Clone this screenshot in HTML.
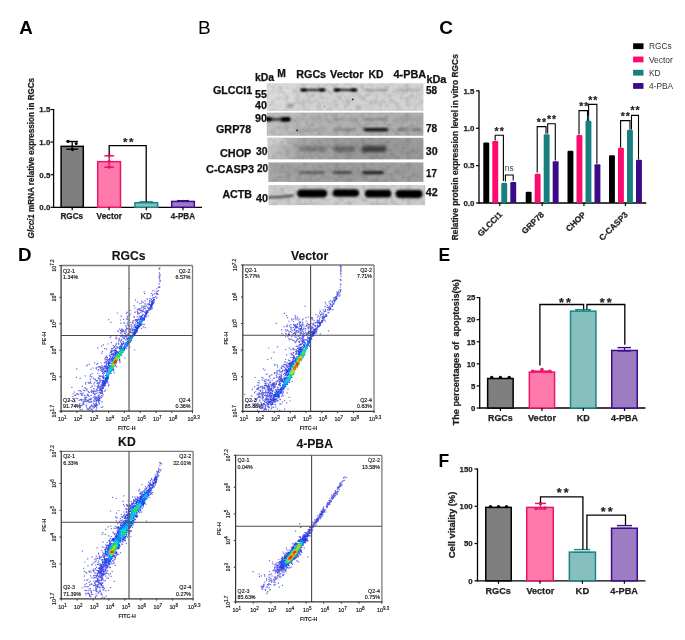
<!DOCTYPE html>
<html><head><meta charset="utf-8"><style>
html,body{margin:0;padding:0;background:#fff;}
body{width:685px;height:640px;overflow:hidden;}
svg{display:block;font-family:"Liberation Sans", sans-serif;filter:blur(0.35px);}
</style></head><body>
<svg width="685" height="640" viewBox="0 0 685 640">
<rect width="685" height="640" fill="#fff"/>
<text x="19.30" y="34.20" font-size="18.8" font-weight="bold" text-anchor="start" fill="#000">A</text>
<line x1="53.60" y1="109.00" x2="53.60" y2="207.90" stroke="#000" stroke-width="1.3"/>
<line x1="50.60" y1="207.30" x2="53.60" y2="207.30" stroke="#000" stroke-width="1.2"/>
<text x="50.30" y="210.10" font-size="7.9" font-weight="bold" text-anchor="end" fill="#222" stroke="#222" stroke-width="0.25">0.0</text>
<line x1="50.60" y1="174.70" x2="53.60" y2="174.70" stroke="#000" stroke-width="1.2"/>
<text x="50.30" y="177.50" font-size="7.9" font-weight="bold" text-anchor="end" fill="#222" stroke="#222" stroke-width="0.25">0.5</text>
<line x1="50.60" y1="142.10" x2="53.60" y2="142.10" stroke="#000" stroke-width="1.2"/>
<text x="50.30" y="144.90" font-size="7.9" font-weight="bold" text-anchor="end" fill="#222" stroke="#222" stroke-width="0.25">1.0</text>
<line x1="50.60" y1="109.50" x2="53.60" y2="109.50" stroke="#000" stroke-width="1.2"/>
<text x="50.30" y="112.30" font-size="7.9" font-weight="bold" text-anchor="end" fill="#222" stroke="#222" stroke-width="0.25">1.5</text>
<line x1="53.00" y1="207.30" x2="202.00" y2="207.30" stroke="#000" stroke-width="1.3"/>
<rect x="61.10" y="146.34" width="22.20" height="60.96" fill="#7f7f7f" stroke="#000" stroke-width="1.5"/>
<line x1="72.20" y1="207.30" x2="72.20" y2="210.30" stroke="#000" stroke-width="1.2"/>
<rect x="97.70" y="161.66" width="22.80" height="45.64" fill="#ff7aaa" stroke="#e8166c" stroke-width="1.5"/>
<line x1="109.10" y1="207.30" x2="109.10" y2="210.30" stroke="#000" stroke-width="1.2"/>
<rect x="135.00" y="202.74" width="22.60" height="4.56" fill="#86c0be" stroke="#1b8585" stroke-width="1.5"/>
<line x1="146.30" y1="207.30" x2="146.30" y2="210.30" stroke="#000" stroke-width="1.2"/>
<rect x="171.70" y="201.43" width="22.60" height="5.87" fill="#9c7dc4" stroke="#3f0b8c" stroke-width="1.5"/>
<line x1="183.00" y1="207.30" x2="183.00" y2="210.30" stroke="#000" stroke-width="1.2"/>
<line x1="72.20" y1="141.50" x2="72.20" y2="149.20" stroke="#000" stroke-width="1.3"/>
<line x1="66.30" y1="141.50" x2="78.10" y2="141.50" stroke="#000" stroke-width="1.4"/>
<line x1="66.30" y1="149.20" x2="78.10" y2="149.20" stroke="#000" stroke-width="1.4"/>
<circle cx="68.10" cy="141.30" r="1.6" fill="#000"/>
<circle cx="72.50" cy="149.60" r="1.6" fill="#000"/>
<circle cx="76.20" cy="143.60" r="1.5" fill="#000"/>
<line x1="109.20" y1="155.80" x2="109.20" y2="167.20" stroke="#e8166c" stroke-width="1.4"/>
<line x1="104.30" y1="155.80" x2="114.10" y2="155.80" stroke="#e8166c" stroke-width="1.5"/>
<line x1="104.30" y1="167.20" x2="114.10" y2="167.20" stroke="#e8166c" stroke-width="1.5"/>
<circle cx="109.20" cy="155.80" r="1.7" fill="#e8166c"/>
<circle cx="109.20" cy="161.50" r="1.7" fill="#e8166c"/>
<circle cx="109.20" cy="167.00" r="1.7" fill="#e8166c"/>
<line x1="139.50" y1="201.80" x2="153.00" y2="201.80" stroke="#1b8585" stroke-width="1.2"/>
<circle cx="141.00" cy="202.10" r="1.0" fill="#1b8585"/>
<circle cx="146.30" cy="202.10" r="1.0" fill="#1b8585"/>
<circle cx="151.50" cy="202.10" r="1.0" fill="#1b8585"/>
<line x1="177.00" y1="200.60" x2="189.00" y2="200.60" stroke="#3f0b8c" stroke-width="1.2"/>
<circle cx="178.00" cy="200.70" r="1.0" fill="#3f0b8c"/>
<circle cx="183.00" cy="200.70" r="1.0" fill="#3f0b8c"/>
<circle cx="188.00" cy="200.70" r="1.0" fill="#3f0b8c"/>
<path d="M109.2,154.5 V145.7 H146.2 V202" stroke="#000" stroke-width="1.3" fill="none"/>
<text x="125.23" y="146.17" font-size="11.5" font-weight="bold" text-anchor="middle" fill="#222" stroke="#222" stroke-width="0.2">*</text>
<text x="131.17" y="146.17" font-size="11.5" font-weight="bold" text-anchor="middle" fill="#222" stroke="#222" stroke-width="0.2">*</text>
<text x="60.40" y="219.10" font-size="9.2" font-weight="bold" text-anchor="start" fill="#222" stroke="#222" stroke-width="0.25" textLength="22.80" lengthAdjust="spacingAndGlyphs">RGCs</text>
<text x="96.60" y="219.10" font-size="9.2" font-weight="bold" text-anchor="start" fill="#222" stroke="#222" stroke-width="0.25" textLength="25.40" lengthAdjust="spacingAndGlyphs">Vector</text>
<text x="140.40" y="219.10" font-size="9.2" font-weight="bold" text-anchor="start" fill="#222" stroke="#222" stroke-width="0.25" textLength="11.40" lengthAdjust="spacingAndGlyphs">KD</text>
<text x="170.70" y="219.10" font-size="9.2" font-weight="bold" text-anchor="start" fill="#222" stroke="#222" stroke-width="0.25" textLength="24.30" lengthAdjust="spacingAndGlyphs">4-PBA</text>
<text x="0" y="0" font-size="8.7" font-weight="bold" fill="#222" stroke="#222" stroke-width="0.25" textLength="160.5" lengthAdjust="spacingAndGlyphs" transform="translate(34.2 238.4) rotate(-90)"><tspan font-style="italic">Glcci1</tspan> mRNA relative expression in RGCs</text>
<defs>
<filter id="b1" x="-20%" y="-100%" width="140%" height="300%"><feGaussianBlur stdDeviation="0.8"/></filter>
<filter id="b2" x="-20%" y="-100%" width="140%" height="300%"><feGaussianBlur stdDeviation="1.6"/></filter>
<filter id="b3" x="-20%" y="-100%" width="140%" height="300%"><feGaussianBlur stdDeviation="3"/></filter>
<filter id="noise" x="0" y="0" width="100%" height="100%"><feTurbulence type="fractalNoise" baseFrequency="0.18" numOctaves="3" seed="3" result="n"/><feColorMatrix type="matrix" values="0 0 0 0 0  0 0 0 0 0  0 0 0 0 0  0 0 0 -0.9 0.55" /><feComposite in2="SourceGraphic" operator="in"/></filter>
</defs>
<text x="198.00" y="34.20" font-size="19" font-weight="normal" text-anchor="start" fill="#000">B</text>
<defs><linearGradient id="g3" x1="0" y1="0" x2="1" y2="0"><stop offset="0" stop-color="#c2c2c2"/><stop offset="0.2" stop-color="#a8a8a8"/><stop offset="0.6" stop-color="#989898"/><stop offset="1" stop-color="#9c9c9c"/></linearGradient>
<linearGradient id="g2" x1="0" y1="0" x2="1" y2="0"><stop offset="0" stop-color="#c0c0c0"/><stop offset="0.3" stop-color="#b4b4b4"/><stop offset="1" stop-color="#adadad"/></linearGradient>
<linearGradient id="g4" x1="0" y1="0" x2="1" y2="0"><stop offset="0" stop-color="#a6a6a6"/><stop offset="0.5" stop-color="#9c9c9c"/><stop offset="1" stop-color="#a0a0a0"/></linearGradient></defs>
<svg x="266.80" y="83.30" width="156.60" height="27.50" overflow="hidden">
<rect x="0" y="0" width="156.60" height="27.50" fill="#d2d2d2"/>
<g transform="translate(-266.80 -83.30)">
<rect x="262.00" y="81.00" width="34.00" height="30.00" rx="3" fill="#dcdcdc" opacity="0.9" filter="url(#b3)"/>
<rect x="300.60" y="89.02" width="24.60" height="1.95" rx="0.9774999999999999" fill="#151515" opacity="1.0" filter="url(#b1)"/>
<rect x="300.60" y="88.73" width="6.00" height="2.53" rx="1.265" fill="#000" opacity="1.0" filter="url(#b1)"/>
<rect x="319.20" y="88.73" width="6.00" height="2.53" rx="1.265" fill="#000" opacity="1.0" filter="url(#b1)"/>
<rect x="334.00" y="89.02" width="22.80" height="1.95" rx="0.9774999999999999" fill="#151515" opacity="1.0" filter="url(#b1)"/>
<rect x="334.00" y="88.73" width="6.00" height="2.53" rx="1.265" fill="#000" opacity="1.0" filter="url(#b1)"/>
<rect x="350.80" y="88.73" width="6.00" height="2.53" rx="1.265" fill="#000" opacity="1.0" filter="url(#b1)"/>
<rect x="365.00" y="89.10" width="23.00" height="2.20" rx="1.1" fill="#9a9a9a" opacity="0.8" filter="url(#b1)"/>
<rect x="397.00" y="89.10" width="23.00" height="2.20" rx="1.1" fill="#a5a5a5" opacity="0.8" filter="url(#b1)"/>
<rect x="286.00" y="104.25" width="8.00" height="3.50" rx="1.75" fill="#8a8a8a" opacity="0.9" filter="url(#b2)"/>
<circle cx="352.70" cy="99.40" r="0.9" fill="#222"/>
<circle cx="324.60" cy="106.30" r="0.5" fill="#444"/>
<circle cx="270.00" cy="105.00" r="0.5" fill="#555"/>
</g>
<rect x="0" y="0" width="156.60" height="27.50" fill="#808080" filter="url(#noise)" opacity="0.3"/>
</svg>
<svg x="266.80" y="112.60" width="156.60" height="23.20" overflow="hidden">
<rect x="0" y="0" width="156.60" height="23.20" fill="url(#g2)"/>
<g transform="translate(-266.80 -112.60)">
<rect x="262.00" y="118.20" width="28.50" height="2.20" rx="1.1" fill="#202020" opacity="1" filter="url(#b1)"/>
<rect x="262.00" y="117.20" width="10.00" height="4.00" rx="2" fill="#000" opacity="1" filter="url(#b1)"/>
<rect x="281.00" y="117.20" width="9.50" height="4.40" rx="2.2" fill="#000" opacity="1" filter="url(#b1)"/>
<rect x="298.00" y="118.25" width="28.00" height="2.50" rx="1.25" fill="#a8a8a8" opacity="0.8" filter="url(#b1)"/>
<rect x="333.00" y="118.25" width="24.00" height="2.50" rx="1.25" fill="#9c9c9c" opacity="0.8" filter="url(#b1)"/>
<rect x="364.00" y="118.10" width="24.00" height="2.60" rx="1.3" fill="#8c8c8c" opacity="0.8" filter="url(#b1)"/>
<rect x="397.00" y="118.30" width="24.00" height="2.40" rx="1.2" fill="#9f9f9f" opacity="0.8" filter="url(#b1)"/>
<rect x="298.00" y="128.20" width="28.00" height="2.60" rx="1.3" fill="#a0a0a0" opacity="0.7" filter="url(#b1)"/>
<rect x="333.50" y="128.30" width="23.00" height="2.60" rx="1.3" fill="#8a8a8a" opacity="0.9" filter="url(#b1)"/>
<rect x="363.60" y="127.90" width="24.80" height="3.40" rx="1.7" fill="#101010" opacity="1" filter="url(#b1)"/>
<rect x="397.00" y="128.30" width="9.00" height="2.60" rx="1.3" fill="#6a6a6a" opacity="0.9" filter="url(#b1)"/>
<rect x="412.00" y="128.50" width="9.00" height="2.60" rx="1.3" fill="#6a6a6a" opacity="0.9" filter="url(#b1)"/>
<rect x="404.00" y="128.70" width="10.00" height="2.00" rx="1.0" fill="#909090" opacity="0.8" filter="url(#b1)"/>
<circle cx="297.10" cy="130.30" r="0.9" fill="#111"/>
</g>
<rect x="0" y="0" width="156.60" height="23.20" fill="#808080" filter="url(#noise)" opacity="0.3"/>
</svg>
<svg x="267.60" y="137.80" width="155.80" height="21.60" overflow="hidden">
<rect x="0" y="0" width="155.80" height="21.60" fill="url(#g3)"/>
<g transform="translate(-267.60 -137.80)">
<rect x="260.00" y="134.00" width="25.00" height="12.00" rx="3" fill="#d0d0d0" opacity="0.9" filter="url(#b3)"/>
<rect x="299.00" y="145.80" width="28.00" height="6.00" rx="3.0" fill="#787878" opacity="0.9" filter="url(#b2)"/>
<rect x="333.00" y="146.00" width="22.00" height="6.00" rx="3.0" fill="#636363" opacity="0.9" filter="url(#b2)"/>
<rect x="361.50" y="145.75" width="25.00" height="6.50" rx="3" fill="#404040" opacity="1" filter="url(#b2)"/>
<rect x="397.00" y="147.50" width="23.00" height="4.00" rx="2.0" fill="#999999" opacity="0.9" filter="url(#b2)"/>
</g>
<rect x="0" y="0" width="155.80" height="21.60" fill="#808080" filter="url(#noise)" opacity="0.3"/>
</svg>
<svg x="268.40" y="162.40" width="155.00" height="19.50" overflow="hidden">
<rect x="0" y="0" width="155.00" height="19.50" fill="url(#g4)"/>
<g transform="translate(-268.40 -162.40)">
<rect x="286.00" y="165.00" width="6.00" height="10.00" rx="3" fill="#979797" opacity="0.6" filter="url(#b2)"/>
<rect x="299.00" y="171.10" width="26.00" height="3.00" rx="1.5" fill="#606060" opacity="0.9" filter="url(#b1)"/>
<rect x="333.00" y="171.10" width="19.00" height="3.00" rx="1.5" fill="#454545" opacity="0.9" filter="url(#b1)"/>
<rect x="362.00" y="170.90" width="22.00" height="3.40" rx="1.7" fill="#262626" opacity="1" filter="url(#b1)"/>
<rect x="395.00" y="171.30" width="7.00" height="3.00" rx="1.5" fill="#8f8f8f" opacity="0.8" filter="url(#b1)"/>
<rect x="410.00" y="171.30" width="10.00" height="3.00" rx="1.5" fill="#989898" opacity="0.7" filter="url(#b1)"/>
</g>
<rect x="0" y="0" width="155.00" height="19.50" fill="#808080" filter="url(#noise)" opacity="0.3"/>
</svg>
<svg x="268.40" y="185.10" width="156.80" height="20.10" overflow="hidden">
<rect x="0" y="0" width="156.80" height="20.10" fill="#cdcdcd"/>
<g transform="translate(-268.40 -185.10)">
<path d="M268 197.6 Q280 197.4 293.5 195.4" stroke="#3a3a3a" stroke-width="2.0" fill="none" filter="url(#b1)"/>
<rect x="297.20" y="189.60" width="30.00" height="7.80" rx="3.8" fill="#000" opacity="1" filter="url(#b1)"/>
<rect x="332.60" y="189.20" width="26.40" height="7.60" rx="3.8" fill="#000" opacity="1" filter="url(#b1)"/>
<rect x="364.80" y="189.70" width="26.60" height="7.80" rx="3.8" fill="#000" opacity="1" filter="url(#b1)"/>
<rect x="395.60" y="190.10" width="27.00" height="7.80" rx="3.8" fill="#000" opacity="1" filter="url(#b1)"/>
</g>
<rect x="0" y="0" width="156.80" height="20.10" fill="#808080" filter="url(#noise)" opacity="0.3"/>
</svg>
<text x="255.00" y="81.40" font-size="10.2" font-weight="bold" text-anchor="start" fill="#111" stroke="#111" stroke-width="0.25" textLength="19.20" lengthAdjust="spacingAndGlyphs">kDa</text>
<text x="277.30" y="76.80" font-size="10.2" font-weight="bold" text-anchor="start" fill="#111" stroke="#111" stroke-width="0.25" textLength="8.60" lengthAdjust="spacingAndGlyphs">M</text>
<text x="296.30" y="77.80" font-size="10.2" font-weight="bold" text-anchor="start" fill="#111" stroke="#111" stroke-width="0.25" textLength="29.80" lengthAdjust="spacingAndGlyphs">RGCs</text>
<text x="330.10" y="77.80" font-size="10.2" font-weight="bold" text-anchor="start" fill="#111" stroke="#111" stroke-width="0.25" textLength="33.40" lengthAdjust="spacingAndGlyphs">Vector</text>
<text x="368.60" y="77.80" font-size="10.2" font-weight="bold" text-anchor="start" fill="#111" stroke="#111" stroke-width="0.25" textLength="14.90" lengthAdjust="spacingAndGlyphs">KD</text>
<text x="393.50" y="77.80" font-size="10.2" font-weight="bold" text-anchor="start" fill="#111" stroke="#111" stroke-width="0.25" textLength="32.60" lengthAdjust="spacingAndGlyphs">4-PBA</text>
<text x="426.40" y="82.60" font-size="10.2" font-weight="bold" text-anchor="start" fill="#111" stroke="#111" stroke-width="0.25" textLength="20.00" lengthAdjust="spacingAndGlyphs">kDa</text>
<text x="212.90" y="94.30" font-size="10.2" font-weight="bold" text-anchor="start" fill="#111" stroke="#111" stroke-width="0.25" textLength="39.40" lengthAdjust="spacingAndGlyphs">GLCCI1</text>
<text x="255.00" y="97.70" font-size="10.2" font-weight="bold" text-anchor="start" fill="#111" stroke="#111" stroke-width="0.25" textLength="11.80" lengthAdjust="spacingAndGlyphs">55</text>
<text x="255.00" y="108.50" font-size="10.2" font-weight="bold" text-anchor="start" fill="#111" stroke="#111" stroke-width="0.25" textLength="12.00" lengthAdjust="spacingAndGlyphs">40</text>
<text x="255.00" y="121.80" font-size="10.2" font-weight="bold" text-anchor="start" fill="#111" stroke="#111" stroke-width="0.25" textLength="12.00" lengthAdjust="spacingAndGlyphs">90</text>
<text x="216.00" y="132.80" font-size="10.2" font-weight="bold" text-anchor="start" fill="#111" stroke="#111" stroke-width="0.25" textLength="35.30" lengthAdjust="spacingAndGlyphs">GRP78</text>
<text x="220.00" y="156.70" font-size="10.2" font-weight="bold" text-anchor="start" fill="#111" stroke="#111" stroke-width="0.25" textLength="31.30" lengthAdjust="spacingAndGlyphs">CHOP</text>
<text x="256.00" y="155.30" font-size="10.2" font-weight="bold" text-anchor="start" fill="#111" stroke="#111" stroke-width="0.25" textLength="11.50" lengthAdjust="spacingAndGlyphs">30</text>
<text x="206.00" y="172.80" font-size="10.2" font-weight="bold" text-anchor="start" fill="#111" stroke="#111" stroke-width="0.25" textLength="48.20" lengthAdjust="spacingAndGlyphs">C-CASP3</text>
<text x="257.00" y="172.20" font-size="10.2" font-weight="bold" text-anchor="start" fill="#111" stroke="#111" stroke-width="0.25" textLength="11.20" lengthAdjust="spacingAndGlyphs">20</text>
<text x="222.40" y="198.40" font-size="10.2" font-weight="bold" text-anchor="start" fill="#111" stroke="#111" stroke-width="0.25" textLength="29.70" lengthAdjust="spacingAndGlyphs">ACTB</text>
<text x="256.00" y="201.90" font-size="10.2" font-weight="bold" text-anchor="start" fill="#111" stroke="#111" stroke-width="0.25" textLength="12.00" lengthAdjust="spacingAndGlyphs">40</text>
<text x="426.00" y="94.10" font-size="10.2" font-weight="bold" text-anchor="start" fill="#111" stroke="#111" stroke-width="0.25" textLength="11.20" lengthAdjust="spacingAndGlyphs">58</text>
<text x="426.00" y="132.10" font-size="10.2" font-weight="bold" text-anchor="start" fill="#111" stroke="#111" stroke-width="0.25" textLength="11.20" lengthAdjust="spacingAndGlyphs">78</text>
<text x="425.70" y="154.80" font-size="10.2" font-weight="bold" text-anchor="start" fill="#111" stroke="#111" stroke-width="0.25" textLength="11.90" lengthAdjust="spacingAndGlyphs">30</text>
<text x="426.00" y="176.60" font-size="10.2" font-weight="bold" text-anchor="start" fill="#111" stroke="#111" stroke-width="0.25" textLength="10.80" lengthAdjust="spacingAndGlyphs">17</text>
<text x="425.70" y="195.60" font-size="10.2" font-weight="bold" text-anchor="start" fill="#111" stroke="#111" stroke-width="0.25" textLength="11.90" lengthAdjust="spacingAndGlyphs">42</text>
<text x="439.20" y="34.40" font-size="19" font-weight="bold" text-anchor="start" fill="#000">C</text>
<line x1="479.00" y1="90.40" x2="479.00" y2="203.60" stroke="#000" stroke-width="1.3"/>
<line x1="476.00" y1="203.00" x2="479.00" y2="203.00" stroke="#000" stroke-width="1.2"/>
<text x="474.40" y="205.80" font-size="7.9" font-weight="bold" text-anchor="end" fill="#222" stroke="#222" stroke-width="0.25">0.0</text>
<line x1="476.00" y1="165.62" x2="479.00" y2="165.62" stroke="#000" stroke-width="1.2"/>
<text x="474.40" y="168.43" font-size="7.9" font-weight="bold" text-anchor="end" fill="#222" stroke="#222" stroke-width="0.25">0.5</text>
<line x1="476.00" y1="128.25" x2="479.00" y2="128.25" stroke="#000" stroke-width="1.2"/>
<text x="474.40" y="131.05" font-size="7.9" font-weight="bold" text-anchor="end" fill="#222" stroke="#222" stroke-width="0.25">1.0</text>
<line x1="476.00" y1="90.88" x2="479.00" y2="90.88" stroke="#000" stroke-width="1.2"/>
<text x="474.40" y="93.67" font-size="7.9" font-weight="bold" text-anchor="end" fill="#222" stroke="#222" stroke-width="0.25">1.5</text>
<line x1="478.40" y1="203.00" x2="646.30" y2="203.00" stroke="#000" stroke-width="1.3"/>
<rect x="483.30" y="142.45" width="5.9" height="60.55" rx="1.2" fill="#000"/>
<rect x="492.30" y="140.96" width="5.9" height="62.04" rx="1.2" fill="#ff0a6e"/>
<rect x="501.30" y="182.82" width="5.9" height="20.18" rx="1.2" fill="#17807e"/>
<rect x="510.30" y="182.07" width="5.9" height="20.93" rx="1.2" fill="#3a0a88"/>
<line x1="499.75" y1="203.00" x2="499.75" y2="206.00" stroke="#000" stroke-width="1.2"/>
<rect x="525.70" y="191.79" width="5.9" height="11.21" rx="1.2" fill="#000"/>
<rect x="534.70" y="173.85" width="5.9" height="29.15" rx="1.2" fill="#ff0a6e"/>
<rect x="543.70" y="134.23" width="5.9" height="68.77" rx="1.2" fill="#17807e"/>
<rect x="552.70" y="161.14" width="5.9" height="41.86" rx="1.2" fill="#3a0a88"/>
<line x1="542.15" y1="203.00" x2="542.15" y2="206.00" stroke="#000" stroke-width="1.2"/>
<rect x="567.50" y="150.68" width="5.9" height="52.32" rx="1.2" fill="#000"/>
<rect x="576.50" y="134.98" width="5.9" height="68.02" rx="1.2" fill="#ff0a6e"/>
<rect x="585.50" y="120.77" width="5.9" height="82.23" rx="1.2" fill="#17807e"/>
<rect x="594.50" y="164.13" width="5.9" height="38.87" rx="1.2" fill="#3a0a88"/>
<line x1="583.95" y1="203.00" x2="583.95" y2="206.00" stroke="#000" stroke-width="1.2"/>
<rect x="609.00" y="155.16" width="5.9" height="47.84" rx="1.2" fill="#000"/>
<rect x="618.00" y="147.69" width="5.9" height="55.31" rx="1.2" fill="#ff0a6e"/>
<rect x="627.00" y="129.75" width="5.9" height="73.25" rx="1.2" fill="#17807e"/>
<rect x="636.00" y="159.65" width="5.9" height="43.35" rx="1.2" fill="#3a0a88"/>
<line x1="625.45" y1="203.00" x2="625.45" y2="206.00" stroke="#000" stroke-width="1.2"/>
<path d="M495.20,140.50 V135.20 H503.40 V181.00" stroke="#000" stroke-width="1.1" fill="none"/>
<text x="496.57" y="134.57" font-size="10.5" font-weight="bold" text-anchor="middle" fill="#222" stroke="#222" stroke-width="0.2">*</text>
<text x="501.83" y="134.57" font-size="10.5" font-weight="bold" text-anchor="middle" fill="#222" stroke="#222" stroke-width="0.2">*</text>
<path d="M505.40,181.50 V175.00 H513.20 V180.50" stroke="#000" stroke-width="1.1" fill="none"/>
<text x="509.20" y="170.80" font-size="8.4" font-weight="normal" text-anchor="middle" fill="#444">ns</text>
<path d="M537.20,172.50 V126.60 H546.00 V133.80" stroke="#000" stroke-width="1.1" fill="none"/>
<text x="538.71" y="125.87" font-size="10.5" font-weight="bold" text-anchor="middle" fill="#222" stroke="#222" stroke-width="0.2">*</text>
<text x="544.09" y="125.87" font-size="10.5" font-weight="bold" text-anchor="middle" fill="#222" stroke="#222" stroke-width="0.2">*</text>
<path d="M547.70,133.50 V123.80 H555.30 V160.60" stroke="#000" stroke-width="1.1" fill="none"/>
<text x="548.98" y="123.07" font-size="10.5" font-weight="bold" text-anchor="middle" fill="#222" stroke="#222" stroke-width="0.2">*</text>
<text x="554.02" y="123.07" font-size="10.5" font-weight="bold" text-anchor="middle" fill="#222" stroke="#222" stroke-width="0.2">*</text>
<path d="M579.00,134.50 V110.60 H587.50 V121.00" stroke="#000" stroke-width="1.1" fill="none"/>
<text x="581.38" y="109.97" font-size="10.5" font-weight="bold" text-anchor="middle" fill="#222" stroke="#222" stroke-width="0.2">*</text>
<text x="586.42" y="109.97" font-size="10.5" font-weight="bold" text-anchor="middle" fill="#222" stroke="#222" stroke-width="0.2">*</text>
<path d="M588.60,121.00 V104.40 H596.90 V163.80" stroke="#000" stroke-width="1.1" fill="none"/>
<text x="590.18" y="103.67" font-size="10.5" font-weight="bold" text-anchor="middle" fill="#222" stroke="#222" stroke-width="0.2">*</text>
<text x="595.22" y="103.67" font-size="10.5" font-weight="bold" text-anchor="middle" fill="#222" stroke="#222" stroke-width="0.2">*</text>
<path d="M620.60,147.50 V120.60 H630.00 V129.40" stroke="#000" stroke-width="1.1" fill="none"/>
<text x="622.72" y="119.97" font-size="10.5" font-weight="bold" text-anchor="middle" fill="#222" stroke="#222" stroke-width="0.2">*</text>
<text x="627.88" y="119.97" font-size="10.5" font-weight="bold" text-anchor="middle" fill="#222" stroke="#222" stroke-width="0.2">*</text>
<path d="M631.50,129.40 V115.40 H638.50 V159.40" stroke="#000" stroke-width="1.1" fill="none"/>
<text x="632.54" y="114.27" font-size="10.5" font-weight="bold" text-anchor="middle" fill="#222" stroke="#222" stroke-width="0.2">*</text>
<text x="637.46" y="114.27" font-size="10.5" font-weight="bold" text-anchor="middle" fill="#222" stroke="#222" stroke-width="0.2">*</text>
<line x1="588.20" y1="121.00" x2="588.20" y2="115.50" stroke="#17807e" stroke-width="1.0"/>
<rect x="633.10" y="43.30" width="10.40" height="5.80" fill="#000"/>
<text x="649.00" y="49.30" font-size="8.4" font-weight="normal" text-anchor="start" fill="#333">RGCs</text>
<rect x="633.10" y="56.55" width="10.40" height="5.80" fill="#ff0a6e"/>
<text x="649.00" y="62.55" font-size="8.4" font-weight="normal" text-anchor="start" fill="#333">Vector</text>
<rect x="633.10" y="69.80" width="10.40" height="5.80" fill="#17807e"/>
<text x="649.00" y="75.80" font-size="8.4" font-weight="normal" text-anchor="start" fill="#333">KD</text>
<rect x="633.10" y="83.05" width="10.40" height="5.80" fill="#3a0a88"/>
<text x="649.00" y="89.05" font-size="8.4" font-weight="normal" text-anchor="start" fill="#333">4-PBA</text>
<text x="502.70" y="215.20" font-size="8.4" font-weight="bold" text-anchor="end" fill="#222" stroke="#222" stroke-width="0.25" transform="rotate(-45 502.70 215.20)">GLCCI1</text>
<text x="544.50" y="215.20" font-size="8.4" font-weight="bold" text-anchor="end" fill="#222" stroke="#222" stroke-width="0.25" transform="rotate(-45 544.50 215.20)">GRP78</text>
<text x="586.40" y="215.20" font-size="8.4" font-weight="bold" text-anchor="end" fill="#222" stroke="#222" stroke-width="0.25" transform="rotate(-45 586.40 215.20)">CHOP</text>
<text x="628.40" y="215.20" font-size="8.4" font-weight="bold" text-anchor="end" fill="#222" stroke="#222" stroke-width="0.25" transform="rotate(-45 628.40 215.20)">C-CASP3</text>
<text x="0" y="0" font-size="8.2" font-weight="bold" fill="#222" stroke="#222" stroke-width="0.25" textLength="186" lengthAdjust="spacingAndGlyphs" transform="translate(457.6 240.2) rotate(-90)">Relative protein expression level in vitro RGCs</text>
<text x="18.00" y="260.90" font-size="18.8" font-weight="bold" text-anchor="start" fill="#000">D</text>
<path d="M132.7 320.0h1.2v1.2h-1.2zM128.9 315.2h1.2v1.2h-1.2zM141.0 302.5h1.2v1.2h-1.2zM110.3 335.5h1.2v1.2h-1.2zM88.4 382.7h1.2v1.2h-1.2zM125.8 331.7h1.2v1.2h-1.2zM82.2 404.2h1.2v1.2h-1.2zM72.6 393.4h1.2v1.2h-1.2zM131.4 324.4h1.2v1.2h-1.2zM145.2 303.5h1.2v1.2h-1.2zM86.9 364.5h1.2v1.2h-1.2zM143.6 291.3h1.2v1.2h-1.2zM134.1 349.4h1.2v1.2h-1.2zM144.0 293.0h1.2v1.2h-1.2zM85.0 383.6h1.2v1.2h-1.2zM147.0 298.7h1.2v1.2h-1.2zM143.7 324.0h1.2v1.2h-1.2zM113.6 372.0h1.2v1.2h-1.2zM124.4 357.5h1.2v1.2h-1.2zM129.1 346.3h1.2v1.2h-1.2zM121.5 328.2h1.2v1.2h-1.2zM88.8 363.7h1.2v1.2h-1.2zM98.0 369.0h1.2v1.2h-1.2zM117.8 341.4h1.2v1.2h-1.2zM155.7 297.3h1.2v1.2h-1.2zM76.1 368.2h1.2v1.2h-1.2zM85.6 365.4h1.2v1.2h-1.2zM108.1 319.1h1.2v1.2h-1.2zM126.7 311.8h1.2v1.2h-1.2zM115.2 336.6h1.2v1.2h-1.2zM97.1 347.2h1.2v1.2h-1.2zM108.3 384.3h1.2v1.2h-1.2zM141.4 305.2h1.2v1.2h-1.2zM115.4 338.1h1.2v1.2h-1.2zM88.3 392.1h1.2v1.2h-1.2zM94.0 362.2h1.2v1.2h-1.2zM96.4 366.8h1.2v1.2h-1.2zM157.9 290.0h1.2v1.2h-1.2zM152.1 290.1h1.2v1.2h-1.2zM137.2 313.6h1.2v1.2h-1.2zM79.0 407.2h1.2v1.2h-1.2zM68.6 399.5h1.2v1.2h-1.2zM92.8 396.5h1.2v1.2h-1.2zM82.6 389.7h1.2v1.2h-1.2zM116.4 337.5h1.2v1.2h-1.2zM123.0 318.8h1.2v1.2h-1.2zM156.0 291.4h1.2v1.2h-1.2zM133.4 316.0h1.2v1.2h-1.2zM158.6 283.2h1.2v1.2h-1.2zM159.4 279.5h1.2v1.2h-1.2zM159.3 273.8h1.2v1.2h-1.2zM79.8 408.9h1.2v1.2h-1.2zM88.6 395.7h1.2v1.2h-1.2zM81.5 393.5h1.2v1.2h-1.2zM75.8 376.8h1.2v1.2h-1.2zM87.0 394.6h1.2v1.2h-1.2zM79.2 402.9h1.2v1.2h-1.2zM158.7 276.3h1.2v1.2h-1.2zM159.2 286.4h1.2v1.2h-1.2zM159.0 268.5h1.2v1.2h-1.2zM159.2 276.1h1.2v1.2h-1.2zM158.8 267.6h1.2v1.2h-1.2zM158.8 272.2h1.2v1.2h-1.2zM158.8 278.1h1.2v1.2h-1.2zM93.7 388.4h1.2v1.2h-1.2zM86.8 408.8h1.2v1.2h-1.2zM81.5 408.8h1.2v1.2h-1.2zM85.5 395.3h1.2v1.2h-1.2zM92.7 377.4h1.2v1.2h-1.2zM117.7 330.6h1.2v1.2h-1.2zM133.6 305.1h1.2v1.2h-1.2zM127.4 321.2h1.2v1.2h-1.2zM95.7 409.6h1.2v1.2h-1.2zM84.7 375.2h1.2v1.2h-1.2zM86.2 407.3h1.2v1.2h-1.2zM76.4 405.2h1.2v1.2h-1.2zM80.9 398.8h1.2v1.2h-1.2zM74.5 401.0h1.2v1.2h-1.2zM101.3 401.3h1.2v1.2h-1.2zM77.0 393.1h1.2v1.2h-1.2zM94.0 381.7h1.2v1.2h-1.2zM95.5 380.1h1.2v1.2h-1.2zM104.9 389.6h1.2v1.2h-1.2zM119.0 328.6h1.2v1.2h-1.2zM104.4 357.7h1.2v1.2h-1.2zM81.6 404.8h1.2v1.2h-1.2zM102.1 406.3h1.2v1.2h-1.2zM80.4 392.7h1.2v1.2h-1.2zM157.4 293.7h1.2v1.2h-1.2zM136.9 301.5h1.2v1.2h-1.2zM126.7 324.5h1.2v1.2h-1.2zM159.0 286.0h1.2v1.2h-1.2zM125.7 326.6h1.2v1.2h-1.2zM119.8 332.2h1.2v1.2h-1.2zM104.4 359.2h1.2v1.2h-1.2zM156.6 293.7h1.2v1.2h-1.2zM93.3 388.0h1.2v1.2h-1.2zM98.7 403.6h1.2v1.2h-1.2zM131.6 322.4h1.2v1.2h-1.2zM91.8 409.6h1.2v1.2h-1.2zM104.1 348.0h1.2v1.2h-1.2zM120.5 333.0h1.2v1.2h-1.2zM120.2 322.6h1.2v1.2h-1.2zM119.9 319.4h1.2v1.2h-1.2zM85.8 404.6h1.2v1.2h-1.2zM152.1 293.7h1.2v1.2h-1.2zM126.7 319.1h1.2v1.2h-1.2zM155.1 295.7h1.2v1.2h-1.2zM154.1 293.0h1.2v1.2h-1.2zM81.6 394.8h1.2v1.2h-1.2zM89.9 380.8h1.2v1.2h-1.2zM100.3 362.4h1.2v1.2h-1.2zM80.7 394.2h1.2v1.2h-1.2zM141.1 300.5h1.2v1.2h-1.2zM89.8 378.6h1.2v1.2h-1.2zM71.2 386.7h1.2v1.2h-1.2zM98.4 366.0h1.2v1.2h-1.2zM112.6 345.3h1.2v1.2h-1.2zM110.2 321.8h1.2v1.2h-1.2zM129.7 313.6h1.2v1.2h-1.2zM142.7 301.7h1.2v1.2h-1.2zM118.8 339.3h1.2v1.2h-1.2zM85.1 387.6h1.2v1.2h-1.2zM96.0 368.2h1.2v1.2h-1.2zM94.1 385.4h1.2v1.2h-1.2zM106.0 355.5h1.2v1.2h-1.2zM156.9 293.0h1.2v1.2h-1.2zM91.5 385.6h1.2v1.2h-1.2zM91.5 373.1h1.2v1.2h-1.2zM134.6 311.5h1.2v1.2h-1.2zM97.4 377.5h1.2v1.2h-1.2zM130.1 321.9h1.2v1.2h-1.2zM118.9 337.8h1.2v1.2h-1.2zM93.2 378.4h1.2v1.2h-1.2zM132.1 321.0h1.2v1.2h-1.2zM146.3 298.4h1.2v1.2h-1.2zM98.1 366.6h1.2v1.2h-1.2zM99.5 375.4h1.2v1.2h-1.2zM76.8 393.1h1.2v1.2h-1.2zM86.4 390.2h1.2v1.2h-1.2zM71.6 400.6h1.2v1.2h-1.2zM77.2 393.3h1.2v1.2h-1.2zM74.1 394.7h1.2v1.2h-1.2zM80.5 404.8h1.2v1.2h-1.2zM129.2 325.9h1.2v1.2h-1.2zM134.4 311.7h1.2v1.2h-1.2zM74.9 394.7h1.2v1.2h-1.2zM98.4 375.3h1.2v1.2h-1.2zM124.1 322.4h1.2v1.2h-1.2zM106.2 356.8h1.2v1.2h-1.2zM128.3 324.7h1.2v1.2h-1.2zM75.6 397.6h1.2v1.2h-1.2zM97.2 372.8h1.2v1.2h-1.2zM120.2 335.9h1.2v1.2h-1.2zM87.4 408.3h1.2v1.2h-1.2zM91.7 385.6h1.2v1.2h-1.2zM115.1 344.8h1.2v1.2h-1.2zM117.1 330.8h1.2v1.2h-1.2zM128.9 319.5h1.2v1.2h-1.2zM89.7 409.5h1.2v1.2h-1.2zM133.8 316.6h1.2v1.2h-1.2zM149.3 298.1h1.2v1.2h-1.2zM124.9 325.0h1.2v1.2h-1.2zM139.2 303.0h1.2v1.2h-1.2zM94.7 378.5h1.2v1.2h-1.2zM126.1 318.3h1.2v1.2h-1.2zM102.1 395.5h1.2v1.2h-1.2zM134.9 299.5h1.2v1.2h-1.2zM88.3 382.7h1.2v1.2h-1.2zM81.8 385.8h1.2v1.2h-1.2zM85.8 388.7h1.2v1.2h-1.2zM79.9 399.0h1.2v1.2h-1.2zM79.7 392.8h1.2v1.2h-1.2zM77.7 394.0h1.2v1.2h-1.2zM79.6 390.1h1.2v1.2h-1.2zM73.9 399.8h1.2v1.2h-1.2zM120.5 315.7h1.2v1.2h-1.2zM93.3 383.3h1.2v1.2h-1.2zM110.7 342.0h1.2v1.2h-1.2zM85.1 382.0h1.2v1.2h-1.2zM83.7 394.7h1.2v1.2h-1.2zM87.9 409.1h1.2v1.2h-1.2zM82.5 392.6h1.2v1.2h-1.2zM76.6 398.1h1.2v1.2h-1.2zM142.8 326.3h1.2v1.2h-1.2zM101.1 345.5h1.2v1.2h-1.2zM97.7 369.9h1.2v1.2h-1.2zM78.6 399.7h1.2v1.2h-1.2zM144.4 303.3h1.2v1.2h-1.2zM96.3 363.7h1.2v1.2h-1.2zM91.0 389.6h1.2v1.2h-1.2zM94.7 379.1h1.2v1.2h-1.2zM147.6 315.2h1.2v1.2h-1.2zM123.2 322.5h1.2v1.2h-1.2zM87.6 381.8h1.2v1.2h-1.2zM109.6 337.0h1.2v1.2h-1.2zM115.7 343.5h1.2v1.2h-1.2zM151.7 295.1h1.2v1.2h-1.2zM89.8 374.3h1.2v1.2h-1.2zM134.4 307.4h1.2v1.2h-1.2zM132.6 322.6h1.2v1.2h-1.2zM86.8 393.7h1.2v1.2h-1.2zM151.7 308.0h1.2v1.2h-1.2zM156.2 297.0h1.2v1.2h-1.2zM128.6 287.8h1.2v1.2h-1.2zM136.6 316.3h1.2v1.2h-1.2zM102.7 344.3h1.2v1.2h-1.2zM86.5 388.5h1.2v1.2h-1.2zM154.0 292.9h1.2v1.2h-1.2zM87.8 395.0h1.2v1.2h-1.2zM90.5 368.7h1.2v1.2h-1.2zM118.0 339.5h1.2v1.2h-1.2zM125.9 326.5h1.2v1.2h-1.2zM125.8 312.8h1.2v1.2h-1.2zM116.8 312.4h1.2v1.2h-1.2zM141.1 306.7h1.2v1.2h-1.2zM95.3 367.5h1.2v1.2h-1.2zM107.9 385.3h1.2v1.2h-1.2zM141.1 327.8h1.2v1.2h-1.2zM101.8 351.1h1.2v1.2h-1.2zM144.6 327.0h1.2v1.2h-1.2zM91.2 376.1h1.2v1.2h-1.2zM113.1 345.2h1.2v1.2h-1.2zM144.6 300.2h1.2v1.2h-1.2zM91.0 400.9h1.2v1.2h-1.2zM85.5 405.6h1.2v1.2h-1.2zM73.8 391.6h1.2v1.2h-1.2zM79.6 377.7h1.2v1.2h-1.2zM154.3 290.4h1.2v1.2h-1.2zM137.0 312.2h1.2v1.2h-1.2zM126.8 315.7h1.2v1.2h-1.2zM128.5 324.6h1.2v1.2h-1.2zM136.9 308.8h1.2v1.2h-1.2zM90.5 386.7h1.2v1.2h-1.2zM92.5 367.4h1.2v1.2h-1.2zM84.3 387.0h1.2v1.2h-1.2zM157.8 286.8h1.2v1.2h-1.2zM104.9 356.6h1.2v1.2h-1.2zM130.3 324.4h1.2v1.2h-1.2zM126.6 322.8h1.2v1.2h-1.2zM72.3 396.1h1.2v1.2h-1.2zM89.6 375.7h1.2v1.2h-1.2zM156.8 290.7h1.2v1.2h-1.2zM101.1 352.7h1.2v1.2h-1.2zM126.8 317.2h1.2v1.2h-1.2zM156.2 288.3h1.2v1.2h-1.2zM91.2 397.8h1.2v1.2h-1.2zM80.4 398.8h1.2v1.2h-1.2zM150.7 292.9h1.2v1.2h-1.2zM107.4 343.4h1.2v1.2h-1.2zM105.9 348.6h1.2v1.2h-1.2zM129.5 309.9h1.2v1.2h-1.2zM96.9 363.0h1.2v1.2h-1.2zM115.7 342.7h1.2v1.2h-1.2zM90.4 382.8h1.2v1.2h-1.2zM88.4 401.9h1.2v1.2h-1.2zM89.4 382.0h1.2v1.2h-1.2zM84.0 390.0h1.2v1.2h-1.2zM90.6 394.8h1.2v1.2h-1.2zM101.0 397.1h1.2v1.2h-1.2zM75.6 393.5h1.2v1.2h-1.2zM80.5 390.7h1.2v1.2h-1.2zM91.0 408.8h1.2v1.2h-1.2zM89.8 398.8h1.2v1.2h-1.2zM100.7 406.7h1.2v1.2h-1.2zM78.3 390.1h1.2v1.2h-1.2zM87.9 391.1h1.2v1.2h-1.2zM88.6 392.0h1.2v1.2h-1.2zM87.8 394.5h1.2v1.2h-1.2zM159.3 274.0h1.2v1.2h-1.2zM158.6 282.9h1.2v1.2h-1.2zM158.5 268.0h1.2v1.2h-1.2zM159.4 274.5h1.2v1.2h-1.2zM159.7 280.7h1.2v1.2h-1.2zM158.8 286.9h1.2v1.2h-1.2zM159.1 280.4h1.2v1.2h-1.2zM158.7 272.4h1.2v1.2h-1.2zM159.2 267.4h1.2v1.2h-1.2zM158.8 276.6h1.2v1.2h-1.2zM158.5 275.4h1.2v1.2h-1.2z" fill="#3232d7" fill-opacity="0.70"/>
<path d="M141.8 311.1h1.2v1.2h-1.2zM97.1 386.9h1.2v1.2h-1.2zM105.5 360.4h1.2v1.2h-1.2zM100.3 370.0h1.2v1.2h-1.2zM92.3 390.6h1.2v1.2h-1.2zM130.2 329.0h1.2v1.2h-1.2zM105.5 361.4h1.2v1.2h-1.2zM122.3 341.1h1.2v1.2h-1.2zM98.2 395.0h1.2v1.2h-1.2zM147.3 307.6h1.2v1.2h-1.2zM130.2 332.2h1.2v1.2h-1.2zM135.1 322.5h1.2v1.2h-1.2zM95.9 388.9h1.2v1.2h-1.2zM141.9 309.9h1.2v1.2h-1.2zM95.2 400.3h1.2v1.2h-1.2zM102.4 366.8h1.2v1.2h-1.2zM80.8 400.1h1.2v1.2h-1.2zM89.4 398.1h1.2v1.2h-1.2zM143.6 307.9h1.2v1.2h-1.2zM102.3 376.7h1.2v1.2h-1.2zM97.9 401.0h1.2v1.2h-1.2zM99.2 379.7h1.2v1.2h-1.2zM138.2 308.3h1.2v1.2h-1.2zM150.8 298.9h1.2v1.2h-1.2zM124.9 333.4h1.2v1.2h-1.2zM100.7 379.9h1.2v1.2h-1.2zM131.3 326.1h1.2v1.2h-1.2zM110.6 350.6h1.2v1.2h-1.2zM95.6 390.8h1.2v1.2h-1.2zM97.4 384.4h1.2v1.2h-1.2zM82.2 402.8h1.2v1.2h-1.2zM89.2 406.5h1.2v1.2h-1.2zM147.4 304.0h1.2v1.2h-1.2zM144.7 307.7h1.2v1.2h-1.2zM125.5 329.3h1.2v1.2h-1.2zM116.4 346.0h1.2v1.2h-1.2zM100.1 366.2h1.2v1.2h-1.2zM101.5 365.1h1.2v1.2h-1.2zM135.1 334.9h1.2v1.2h-1.2zM99.4 377.9h1.2v1.2h-1.2zM94.3 393.7h1.2v1.2h-1.2zM91.1 391.1h1.2v1.2h-1.2zM125.5 335.5h1.2v1.2h-1.2zM114.2 346.0h1.2v1.2h-1.2zM119.4 361.9h1.2v1.2h-1.2zM136.5 310.4h1.2v1.2h-1.2zM149.9 300.5h1.2v1.2h-1.2zM126.2 336.4h1.2v1.2h-1.2zM125.7 334.5h1.2v1.2h-1.2zM98.7 394.4h1.2v1.2h-1.2zM123.0 337.6h1.2v1.2h-1.2zM152.7 297.3h1.2v1.2h-1.2zM109.5 356.0h1.2v1.2h-1.2zM101.0 369.1h1.2v1.2h-1.2zM89.0 401.3h1.2v1.2h-1.2zM93.2 400.2h1.2v1.2h-1.2zM123.8 338.0h1.2v1.2h-1.2zM84.2 397.8h1.2v1.2h-1.2zM92.4 406.0h1.2v1.2h-1.2zM85.2 400.7h1.2v1.2h-1.2zM93.8 393.2h1.2v1.2h-1.2zM95.0 396.4h1.2v1.2h-1.2zM83.3 403.8h1.2v1.2h-1.2zM93.3 399.6h1.2v1.2h-1.2zM118.1 343.1h1.2v1.2h-1.2zM143.6 305.4h1.2v1.2h-1.2zM96.8 388.3h1.2v1.2h-1.2zM153.7 301.5h1.2v1.2h-1.2zM96.2 396.7h1.2v1.2h-1.2zM104.2 362.2h1.2v1.2h-1.2zM145.7 305.3h1.2v1.2h-1.2zM92.6 407.6h1.2v1.2h-1.2zM98.1 383.3h1.2v1.2h-1.2zM144.4 306.1h1.2v1.2h-1.2zM109.6 352.1h1.2v1.2h-1.2zM94.1 395.5h1.2v1.2h-1.2zM94.8 398.6h1.2v1.2h-1.2zM98.0 384.7h1.2v1.2h-1.2zM148.5 303.7h1.2v1.2h-1.2zM98.1 402.4h1.2v1.2h-1.2zM120.9 331.0h1.2v1.2h-1.2zM150.7 308.3h1.2v1.2h-1.2zM84.1 399.3h1.2v1.2h-1.2zM122.6 329.3h1.2v1.2h-1.2zM101.7 392.0h1.2v1.2h-1.2zM93.0 402.7h1.2v1.2h-1.2zM84.3 396.4h1.2v1.2h-1.2zM124.1 332.8h1.2v1.2h-1.2zM140.3 308.2h1.2v1.2h-1.2zM141.6 310.1h1.2v1.2h-1.2zM120.2 341.7h1.2v1.2h-1.2zM95.5 403.4h1.2v1.2h-1.2zM95.9 407.2h1.2v1.2h-1.2zM135.2 319.2h1.2v1.2h-1.2zM124.3 332.2h1.2v1.2h-1.2zM95.4 397.5h1.2v1.2h-1.2zM90.0 407.5h1.2v1.2h-1.2zM127.5 333.3h1.2v1.2h-1.2zM138.7 309.6h1.2v1.2h-1.2zM130.1 328.6h1.2v1.2h-1.2zM153.8 299.0h1.2v1.2h-1.2zM110.2 356.0h1.2v1.2h-1.2zM101.8 375.5h1.2v1.2h-1.2zM110.8 350.2h1.2v1.2h-1.2zM96.5 382.9h1.2v1.2h-1.2zM102.9 374.2h1.2v1.2h-1.2zM126.0 328.0h1.2v1.2h-1.2zM124.5 336.1h1.2v1.2h-1.2zM123.3 337.0h1.2v1.2h-1.2zM97.3 390.1h1.2v1.2h-1.2zM110.3 354.4h1.2v1.2h-1.2zM142.5 313.7h1.2v1.2h-1.2zM147.3 306.5h1.2v1.2h-1.2zM147.6 303.2h1.2v1.2h-1.2zM99.1 366.1h1.2v1.2h-1.2zM101.7 392.7h1.2v1.2h-1.2zM102.1 376.5h1.2v1.2h-1.2zM119.2 360.5h1.2v1.2h-1.2zM104.4 362.4h1.2v1.2h-1.2zM97.3 392.3h1.2v1.2h-1.2zM99.7 381.6h1.2v1.2h-1.2zM99.3 380.6h1.2v1.2h-1.2zM97.0 380.0h1.2v1.2h-1.2zM145.5 309.7h1.2v1.2h-1.2zM119.3 345.7h1.2v1.2h-1.2zM91.6 405.3h1.2v1.2h-1.2zM103.8 362.1h1.2v1.2h-1.2zM140.4 310.0h1.2v1.2h-1.2zM99.7 367.5h1.2v1.2h-1.2zM99.6 396.1h1.2v1.2h-1.2zM129.8 328.9h1.2v1.2h-1.2zM127.2 327.8h1.2v1.2h-1.2zM121.6 336.2h1.2v1.2h-1.2zM149.7 309.0h1.2v1.2h-1.2zM85.6 399.6h1.2v1.2h-1.2zM142.9 308.7h1.2v1.2h-1.2zM92.8 392.8h1.2v1.2h-1.2zM104.0 365.7h1.2v1.2h-1.2zM87.5 400.9h1.2v1.2h-1.2zM84.8 397.0h1.2v1.2h-1.2zM93.7 400.9h1.2v1.2h-1.2zM83.4 400.5h1.2v1.2h-1.2zM82.5 400.5h1.2v1.2h-1.2zM88.9 406.9h1.2v1.2h-1.2zM92.4 405.7h1.2v1.2h-1.2zM129.3 331.7h1.2v1.2h-1.2zM147.7 303.2h1.2v1.2h-1.2zM119.6 340.6h1.2v1.2h-1.2zM120.7 339.7h1.2v1.2h-1.2zM97.1 389.9h1.2v1.2h-1.2zM137.0 311.3h1.2v1.2h-1.2zM86.4 401.3h1.2v1.2h-1.2zM138.7 315.5h1.2v1.2h-1.2zM140.4 311.7h1.2v1.2h-1.2zM143.3 310.9h1.2v1.2h-1.2zM107.4 382.3h1.2v1.2h-1.2zM98.7 382.2h1.2v1.2h-1.2zM101.3 368.8h1.2v1.2h-1.2zM156.2 293.1h1.2v1.2h-1.2zM122.5 340.9h1.2v1.2h-1.2zM121.0 342.9h1.2v1.2h-1.2zM99.4 395.9h1.2v1.2h-1.2zM96.9 381.9h1.2v1.2h-1.2zM101.9 371.0h1.2v1.2h-1.2zM118.0 343.5h1.2v1.2h-1.2zM100.9 395.0h1.2v1.2h-1.2zM109.1 355.4h1.2v1.2h-1.2zM124.9 339.3h1.2v1.2h-1.2zM95.3 403.2h1.2v1.2h-1.2zM91.4 405.6h1.2v1.2h-1.2zM97.8 395.3h1.2v1.2h-1.2zM83.9 401.4h1.2v1.2h-1.2zM94.2 398.2h1.2v1.2h-1.2zM82.6 400.4h1.2v1.2h-1.2zM108.6 354.4h1.2v1.2h-1.2zM95.4 390.1h1.2v1.2h-1.2zM101.2 366.7h1.2v1.2h-1.2zM113.0 370.0h1.2v1.2h-1.2zM145.6 316.1h1.2v1.2h-1.2zM142.3 314.2h1.2v1.2h-1.2zM127.8 334.0h1.2v1.2h-1.2zM128.9 328.3h1.2v1.2h-1.2zM137.7 312.4h1.2v1.2h-1.2zM82.3 398.9h1.2v1.2h-1.2zM149.1 301.5h1.2v1.2h-1.2zM97.4 382.2h1.2v1.2h-1.2zM125.3 339.4h1.2v1.2h-1.2zM101.4 367.4h1.2v1.2h-1.2zM98.1 377.6h1.2v1.2h-1.2zM133.8 324.1h1.2v1.2h-1.2zM93.9 406.7h1.2v1.2h-1.2zM125.0 330.2h1.2v1.2h-1.2zM120.0 330.0h1.2v1.2h-1.2zM96.4 407.4h1.2v1.2h-1.2zM92.7 390.3h1.2v1.2h-1.2zM143.3 305.7h1.2v1.2h-1.2zM101.7 392.0h1.2v1.2h-1.2zM110.2 356.8h1.2v1.2h-1.2zM82.7 402.3h1.2v1.2h-1.2zM106.9 357.0h1.2v1.2h-1.2zM122.1 329.3h1.2v1.2h-1.2zM96.0 403.3h1.2v1.2h-1.2zM139.2 308.7h1.2v1.2h-1.2zM153.8 297.0h1.2v1.2h-1.2zM122.0 331.2h1.2v1.2h-1.2zM94.1 397.2h1.2v1.2h-1.2zM131.0 327.6h1.2v1.2h-1.2zM135.4 324.3h1.2v1.2h-1.2zM99.4 379.1h1.2v1.2h-1.2zM123.3 331.1h1.2v1.2h-1.2zM88.6 408.1h1.2v1.2h-1.2zM101.2 370.7h1.2v1.2h-1.2zM150.7 298.5h1.2v1.2h-1.2zM102.5 393.8h1.2v1.2h-1.2zM126.4 335.2h1.2v1.2h-1.2zM94.6 393.7h1.2v1.2h-1.2zM94.2 391.1h1.2v1.2h-1.2zM138.3 317.4h1.2v1.2h-1.2zM121.9 334.2h1.2v1.2h-1.2zM126.7 334.6h1.2v1.2h-1.2zM121.1 330.0h1.2v1.2h-1.2zM117.1 347.0h1.2v1.2h-1.2zM90.2 405.8h1.2v1.2h-1.2zM134.4 319.6h1.2v1.2h-1.2zM114.3 346.9h1.2v1.2h-1.2zM124.7 329.4h1.2v1.2h-1.2zM97.4 395.7h1.2v1.2h-1.2zM113.4 347.1h1.2v1.2h-1.2zM97.2 386.1h1.2v1.2h-1.2zM100.3 375.8h1.2v1.2h-1.2zM98.8 402.4h1.2v1.2h-1.2zM153.0 298.9h1.2v1.2h-1.2zM99.6 375.6h1.2v1.2h-1.2zM127.0 334.9h1.2v1.2h-1.2zM130.1 330.5h1.2v1.2h-1.2zM142.9 310.8h1.2v1.2h-1.2zM124.4 335.2h1.2v1.2h-1.2zM95.6 402.3h1.2v1.2h-1.2zM120.7 329.2h1.2v1.2h-1.2zM99.3 377.7h1.2v1.2h-1.2zM152.1 297.5h1.2v1.2h-1.2zM96.7 386.1h1.2v1.2h-1.2zM97.4 386.6h1.2v1.2h-1.2zM88.1 399.8h1.2v1.2h-1.2zM90.5 401.9h1.2v1.2h-1.2zM85.3 398.6h1.2v1.2h-1.2zM93.4 390.5h1.2v1.2h-1.2zM98.6 385.7h1.2v1.2h-1.2zM111.0 348.0h1.2v1.2h-1.2zM96.9 386.7h1.2v1.2h-1.2zM110.3 350.6h1.2v1.2h-1.2zM97.0 390.0h1.2v1.2h-1.2zM124.2 336.3h1.2v1.2h-1.2zM116.6 347.5h1.2v1.2h-1.2zM101.9 372.9h1.2v1.2h-1.2zM110.9 348.3h1.2v1.2h-1.2zM88.5 398.8h1.2v1.2h-1.2zM86.3 396.9h1.2v1.2h-1.2zM93.9 406.5h1.2v1.2h-1.2zM105.6 358.7h1.2v1.2h-1.2zM134.0 325.1h1.2v1.2h-1.2zM133.3 326.6h1.2v1.2h-1.2zM123.4 337.6h1.2v1.2h-1.2zM112.2 348.1h1.2v1.2h-1.2zM106.5 358.6h1.2v1.2h-1.2zM126.3 328.2h1.2v1.2h-1.2zM115.2 348.1h1.2v1.2h-1.2zM92.8 391.7h1.2v1.2h-1.2zM122.4 335.6h1.2v1.2h-1.2zM134.7 319.5h1.2v1.2h-1.2zM90.4 401.1h1.2v1.2h-1.2zM90.6 390.7h1.2v1.2h-1.2zM155.6 292.7h1.2v1.2h-1.2zM129.6 330.6h1.2v1.2h-1.2zM140.5 315.8h1.2v1.2h-1.2zM138.0 308.6h1.2v1.2h-1.2zM148.9 300.2h1.2v1.2h-1.2zM130.4 332.0h1.2v1.2h-1.2zM102.2 370.9h1.2v1.2h-1.2zM123.0 341.4h1.2v1.2h-1.2zM96.6 404.5h1.2v1.2h-1.2zM122.6 330.6h1.2v1.2h-1.2zM139.3 309.5h1.2v1.2h-1.2zM98.4 382.7h1.2v1.2h-1.2zM95.8 400.9h1.2v1.2h-1.2zM109.3 357.9h1.2v1.2h-1.2zM103.2 375.7h1.2v1.2h-1.2zM100.4 368.5h1.2v1.2h-1.2zM95.6 392.8h1.2v1.2h-1.2zM96.0 380.2h1.2v1.2h-1.2zM142.6 306.8h1.2v1.2h-1.2zM116.1 366.0h1.2v1.2h-1.2zM104.1 390.6h1.2v1.2h-1.2zM91.1 404.6h1.2v1.2h-1.2zM138.9 312.8h1.2v1.2h-1.2zM129.2 331.1h1.2v1.2h-1.2zM110.1 350.4h1.2v1.2h-1.2zM95.9 405.3h1.2v1.2h-1.2zM121.4 338.8h1.2v1.2h-1.2zM90.8 391.9h1.2v1.2h-1.2zM84.7 398.6h1.2v1.2h-1.2zM90.3 399.1h1.2v1.2h-1.2zM87.0 399.8h1.2v1.2h-1.2zM82.8 401.9h1.2v1.2h-1.2z" fill="#2c30da" fill-opacity="0.75"/>
<path d="M120.0 346.4h1.2v1.2h-1.2zM103.7 370.3h1.2v1.2h-1.2zM103.1 368.6h1.2v1.2h-1.2zM152.9 300.4h1.2v1.2h-1.2zM115.6 350.0h1.2v1.2h-1.2zM97.6 399.9h1.2v1.2h-1.2zM142.3 323.6h1.2v1.2h-1.2zM137.0 320.4h1.2v1.2h-1.2zM115.4 349.5h1.2v1.2h-1.2zM136.8 319.3h1.2v1.2h-1.2zM111.6 353.6h1.2v1.2h-1.2zM102.7 371.9h1.2v1.2h-1.2zM132.2 329.3h1.2v1.2h-1.2zM102.7 378.3h1.2v1.2h-1.2zM96.9 399.7h1.2v1.2h-1.2zM101.6 390.2h1.2v1.2h-1.2zM151.3 306.6h1.2v1.2h-1.2zM149.0 307.6h1.2v1.2h-1.2zM119.0 359.8h1.2v1.2h-1.2zM97.0 399.3h1.2v1.2h-1.2zM136.5 331.5h1.2v1.2h-1.2zM97.9 397.1h1.2v1.2h-1.2zM102.8 387.6h1.2v1.2h-1.2zM147.0 309.9h1.2v1.2h-1.2zM144.2 311.8h1.2v1.2h-1.2zM105.9 364.0h1.2v1.2h-1.2zM100.1 392.6h1.2v1.2h-1.2zM105.6 361.2h1.2v1.2h-1.2zM102.7 377.9h1.2v1.2h-1.2zM136.6 319.8h1.2v1.2h-1.2zM149.0 308.6h1.2v1.2h-1.2zM146.1 310.8h1.2v1.2h-1.2zM121.0 343.4h1.2v1.2h-1.2zM114.9 349.4h1.2v1.2h-1.2zM111.1 353.9h1.2v1.2h-1.2zM119.7 346.3h1.2v1.2h-1.2zM132.3 329.3h1.2v1.2h-1.2zM138.0 318.8h1.2v1.2h-1.2zM123.0 342.6h1.2v1.2h-1.2zM102.5 376.9h1.2v1.2h-1.2zM153.1 299.2h1.2v1.2h-1.2zM100.4 392.0h1.2v1.2h-1.2zM153.4 299.5h1.2v1.2h-1.2zM104.3 371.3h1.2v1.2h-1.2zM96.4 398.6h1.2v1.2h-1.2zM103.1 369.0h1.2v1.2h-1.2zM96.1 404.2h1.2v1.2h-1.2zM102.1 369.6h1.2v1.2h-1.2zM100.6 384.1h1.2v1.2h-1.2zM107.6 377.9h1.2v1.2h-1.2zM148.3 309.7h1.2v1.2h-1.2zM120.4 346.6h1.2v1.2h-1.2zM121.2 343.5h1.2v1.2h-1.2zM141.2 315.0h1.2v1.2h-1.2zM153.2 299.9h1.2v1.2h-1.2zM101.9 380.1h1.2v1.2h-1.2zM99.1 391.5h1.2v1.2h-1.2zM95.5 405.2h1.2v1.2h-1.2zM94.7 405.9h1.2v1.2h-1.2zM97.6 399.6h1.2v1.2h-1.2zM104.5 367.2h1.2v1.2h-1.2zM140.4 316.0h1.2v1.2h-1.2zM111.6 350.2h1.2v1.2h-1.2zM94.8 405.0h1.2v1.2h-1.2zM104.8 384.4h1.2v1.2h-1.2zM111.0 351.1h1.2v1.2h-1.2zM119.7 346.5h1.2v1.2h-1.2zM97.7 398.3h1.2v1.2h-1.2zM99.6 392.1h1.2v1.2h-1.2zM113.7 349.9h1.2v1.2h-1.2zM141.6 315.1h1.2v1.2h-1.2zM94.3 404.4h1.2v1.2h-1.2zM148.5 308.8h1.2v1.2h-1.2zM103.5 372.8h1.2v1.2h-1.2zM103.0 368.7h1.2v1.2h-1.2zM93.7 405.0h1.2v1.2h-1.2zM120.0 345.2h1.2v1.2h-1.2zM103.7 368.4h1.2v1.2h-1.2zM135.5 319.3h1.2v1.2h-1.2zM149.5 307.8h1.2v1.2h-1.2zM102.6 387.6h1.2v1.2h-1.2zM110.8 354.0h1.2v1.2h-1.2zM148.4 309.0h1.2v1.2h-1.2zM99.5 397.9h1.2v1.2h-1.2zM112.3 355.4h1.2v1.2h-1.2zM135.8 318.9h1.2v1.2h-1.2zM112.2 355.7h1.2v1.2h-1.2zM136.4 320.6h1.2v1.2h-1.2zM102.8 387.2h1.2v1.2h-1.2zM107.7 359.1h1.2v1.2h-1.2zM95.9 399.8h1.2v1.2h-1.2zM94.5 404.3h1.2v1.2h-1.2zM104.6 365.1h1.2v1.2h-1.2zM107.4 360.5h1.2v1.2h-1.2zM101.9 390.5h1.2v1.2h-1.2zM101.4 391.2h1.2v1.2h-1.2zM111.7 353.3h1.2v1.2h-1.2zM118.5 346.8h1.2v1.2h-1.2zM100.2 392.4h1.2v1.2h-1.2zM98.9 397.2h1.2v1.2h-1.2zM122.4 343.2h1.2v1.2h-1.2zM144.9 316.2h1.2v1.2h-1.2zM121.2 345.2h1.2v1.2h-1.2zM99.0 389.8h1.2v1.2h-1.2zM111.3 351.3h1.2v1.2h-1.2zM149.4 304.2h1.2v1.2h-1.2zM103.6 366.1h1.2v1.2h-1.2zM134.9 325.8h1.2v1.2h-1.2zM99.5 397.4h1.2v1.2h-1.2zM107.0 380.3h1.2v1.2h-1.2zM148.7 303.2h1.2v1.2h-1.2zM98.4 399.2h1.2v1.2h-1.2zM98.1 398.1h1.2v1.2h-1.2zM102.7 368.1h1.2v1.2h-1.2zM102.8 377.3h1.2v1.2h-1.2zM99.2 389.8h1.2v1.2h-1.2zM99.1 388.0h1.2v1.2h-1.2zM112.5 369.1h1.2v1.2h-1.2zM135.5 320.7h1.2v1.2h-1.2zM109.5 359.2h1.2v1.2h-1.2zM136.3 319.0h1.2v1.2h-1.2zM99.2 399.8h1.2v1.2h-1.2zM102.5 369.1h1.2v1.2h-1.2zM105.8 363.8h1.2v1.2h-1.2zM113.8 350.5h1.2v1.2h-1.2zM148.0 308.1h1.2v1.2h-1.2zM110.8 352.4h1.2v1.2h-1.2zM104.0 385.6h1.2v1.2h-1.2zM120.7 343.9h1.2v1.2h-1.2zM126.1 337.5h1.2v1.2h-1.2zM112.8 350.1h1.2v1.2h-1.2zM99.6 386.7h1.2v1.2h-1.2zM113.0 369.0h1.2v1.2h-1.2zM98.1 400.6h1.2v1.2h-1.2zM100.5 392.8h1.2v1.2h-1.2zM97.7 400.1h1.2v1.2h-1.2zM106.2 362.6h1.2v1.2h-1.2zM148.5 309.6h1.2v1.2h-1.2zM150.1 307.2h1.2v1.2h-1.2zM107.0 359.8h1.2v1.2h-1.2zM96.4 397.6h1.2v1.2h-1.2zM140.4 316.6h1.2v1.2h-1.2zM100.5 385.7h1.2v1.2h-1.2zM101.6 390.5h1.2v1.2h-1.2zM145.4 311.3h1.2v1.2h-1.2zM97.9 400.4h1.2v1.2h-1.2zM152.9 302.3h1.2v1.2h-1.2zM132.2 328.3h1.2v1.2h-1.2zM100.0 385.7h1.2v1.2h-1.2zM93.6 404.0h1.2v1.2h-1.2zM109.0 358.1h1.2v1.2h-1.2zM98.8 398.2h1.2v1.2h-1.2zM110.4 358.7h1.2v1.2h-1.2zM114.2 349.3h1.2v1.2h-1.2zM108.6 359.0h1.2v1.2h-1.2zM114.4 349.6h1.2v1.2h-1.2zM104.8 366.0h1.2v1.2h-1.2zM148.6 307.7h1.2v1.2h-1.2zM98.1 387.2h1.2v1.2h-1.2zM111.6 353.9h1.2v1.2h-1.2zM99.7 392.8h1.2v1.2h-1.2zM152.8 302.7h1.2v1.2h-1.2zM149.7 307.8h1.2v1.2h-1.2zM143.6 319.6h1.2v1.2h-1.2z" fill="#272dde" fill-opacity="0.80"/>
<path d="M101.3 385.0h1.2v1.2h-1.2zM144.9 314.3h1.2v1.2h-1.2zM118.9 348.1h1.2v1.2h-1.2zM103.6 384.9h1.2v1.2h-1.2zM147.0 311.3h1.2v1.2h-1.2zM99.7 389.2h1.2v1.2h-1.2zM140.6 316.2h1.2v1.2h-1.2zM105.4 367.8h1.2v1.2h-1.2zM113.2 353.0h1.2v1.2h-1.2zM151.9 300.5h1.2v1.2h-1.2zM144.0 318.0h1.2v1.2h-1.2zM134.6 326.9h1.2v1.2h-1.2zM145.6 314.3h1.2v1.2h-1.2zM115.2 351.9h1.2v1.2h-1.2zM134.0 328.8h1.2v1.2h-1.2zM106.3 368.4h1.2v1.2h-1.2zM151.6 303.6h1.2v1.2h-1.2zM138.0 327.4h1.2v1.2h-1.2zM144.1 314.8h1.2v1.2h-1.2zM145.9 313.1h1.2v1.2h-1.2zM101.7 382.6h1.2v1.2h-1.2zM143.4 316.8h1.2v1.2h-1.2zM100.9 387.5h1.2v1.2h-1.2zM108.4 360.9h1.2v1.2h-1.2zM107.9 361.6h1.2v1.2h-1.2zM105.2 382.7h1.2v1.2h-1.2zM107.9 361.8h1.2v1.2h-1.2zM152.4 300.8h1.2v1.2h-1.2zM152.2 300.4h1.2v1.2h-1.2zM150.7 305.8h1.2v1.2h-1.2zM122.7 343.1h1.2v1.2h-1.2zM105.1 370.2h1.2v1.2h-1.2zM100.7 390.0h1.2v1.2h-1.2zM99.6 388.7h1.2v1.2h-1.2zM143.7 317.3h1.2v1.2h-1.2zM127.4 337.9h1.2v1.2h-1.2zM121.6 344.6h1.2v1.2h-1.2zM111.8 357.1h1.2v1.2h-1.2zM102.6 386.1h1.2v1.2h-1.2zM109.4 360.3h1.2v1.2h-1.2zM105.2 370.7h1.2v1.2h-1.2zM133.4 328.9h1.2v1.2h-1.2zM101.5 388.0h1.2v1.2h-1.2zM139.6 317.5h1.2v1.2h-1.2zM131.7 330.0h1.2v1.2h-1.2zM143.7 318.7h1.2v1.2h-1.2zM101.2 390.6h1.2v1.2h-1.2zM146.4 311.5h1.2v1.2h-1.2zM102.0 381.1h1.2v1.2h-1.2zM104.6 370.7h1.2v1.2h-1.2zM150.1 306.8h1.2v1.2h-1.2zM152.1 301.7h1.2v1.2h-1.2zM147.3 311.6h1.2v1.2h-1.2zM103.5 377.2h1.2v1.2h-1.2zM121.0 346.7h1.2v1.2h-1.2zM144.9 314.9h1.2v1.2h-1.2zM107.6 362.3h1.2v1.2h-1.2zM151.7 300.3h1.2v1.2h-1.2zM121.7 344.3h1.2v1.2h-1.2zM144.2 315.0h1.2v1.2h-1.2zM152.2 303.6h1.2v1.2h-1.2zM102.4 385.1h1.2v1.2h-1.2zM125.9 347.8h1.2v1.2h-1.2zM146.7 311.1h1.2v1.2h-1.2zM114.7 351.7h1.2v1.2h-1.2zM102.2 383.7h1.2v1.2h-1.2zM133.5 329.1h1.2v1.2h-1.2zM152.1 303.3h1.2v1.2h-1.2zM150.2 304.9h1.2v1.2h-1.2zM141.4 316.7h1.2v1.2h-1.2zM114.3 352.0h1.2v1.2h-1.2zM102.5 383.3h1.2v1.2h-1.2zM152.1 303.2h1.2v1.2h-1.2zM144.1 316.0h1.2v1.2h-1.2zM126.6 338.9h1.2v1.2h-1.2zM101.5 382.0h1.2v1.2h-1.2zM101.4 389.7h1.2v1.2h-1.2zM134.6 333.0h1.2v1.2h-1.2zM123.0 343.1h1.2v1.2h-1.2zM106.4 381.4h1.2v1.2h-1.2zM100.1 388.2h1.2v1.2h-1.2zM137.0 322.1h1.2v1.2h-1.2zM151.9 303.9h1.2v1.2h-1.2zM139.8 325.0h1.2v1.2h-1.2zM102.5 385.2h1.2v1.2h-1.2zM136.9 323.1h1.2v1.2h-1.2zM108.5 360.9h1.2v1.2h-1.2zM100.9 388.3h1.2v1.2h-1.2zM111.0 359.6h1.2v1.2h-1.2zM151.5 305.5h1.2v1.2h-1.2zM112.9 355.1h1.2v1.2h-1.2zM106.3 367.6h1.2v1.2h-1.2zM105.1 371.2h1.2v1.2h-1.2zM108.2 360.9h1.2v1.2h-1.2zM144.9 314.2h1.2v1.2h-1.2zM151.4 305.5h1.2v1.2h-1.2zM143.6 316.7h1.2v1.2h-1.2zM111.1 358.0h1.2v1.2h-1.2zM106.5 368.1h1.2v1.2h-1.2zM145.5 312.9h1.2v1.2h-1.2zM147.0 312.0h1.2v1.2h-1.2zM137.2 322.7h1.2v1.2h-1.2zM127.6 337.8h1.2v1.2h-1.2zM100.9 388.2h1.2v1.2h-1.2zM151.6 300.1h1.2v1.2h-1.2zM102.4 387.6h1.2v1.2h-1.2zM132.2 330.1h1.2v1.2h-1.2zM143.9 317.0h1.2v1.2h-1.2zM112.9 352.8h1.2v1.2h-1.2zM113.2 354.0h1.2v1.2h-1.2zM101.7 387.3h1.2v1.2h-1.2zM108.2 361.7h1.2v1.2h-1.2zM145.5 313.6h1.2v1.2h-1.2zM106.3 365.7h1.2v1.2h-1.2zM131.6 331.9h1.2v1.2h-1.2zM151.1 301.3h1.2v1.2h-1.2zM105.9 365.4h1.2v1.2h-1.2zM106.2 366.8h1.2v1.2h-1.2zM146.6 311.5h1.2v1.2h-1.2zM115.0 350.1h1.2v1.2h-1.2zM140.9 324.3h1.2v1.2h-1.2zM101.1 387.2h1.2v1.2h-1.2zM102.0 385.6h1.2v1.2h-1.2zM112.7 353.6h1.2v1.2h-1.2zM144.6 314.4h1.2v1.2h-1.2zM144.8 314.3h1.2v1.2h-1.2zM126.9 338.5h1.2v1.2h-1.2zM149.6 306.6h1.2v1.2h-1.2zM145.9 313.4h1.2v1.2h-1.2zM150.3 305.5h1.2v1.2h-1.2zM102.4 387.3h1.2v1.2h-1.2zM151.2 302.0h1.2v1.2h-1.2zM147.3 311.2h1.2v1.2h-1.2zM145.4 312.3h1.2v1.2h-1.2zM136.1 325.5h1.2v1.2h-1.2zM100.9 388.5h1.2v1.2h-1.2zM102.0 387.2h1.2v1.2h-1.2zM151.4 302.8h1.2v1.2h-1.2zM147.1 311.6h1.2v1.2h-1.2zM146.5 310.9h1.2v1.2h-1.2zM104.2 384.3h1.2v1.2h-1.2zM149.9 305.7h1.2v1.2h-1.2zM105.3 369.8h1.2v1.2h-1.2zM143.8 315.4h1.2v1.2h-1.2zM145.0 313.2h1.2v1.2h-1.2zM106.4 366.6h1.2v1.2h-1.2z" fill="#212be1" fill-opacity="0.85"/>
<path d="M150.0 304.4h1.2v1.2h-1.2zM138.9 325.8h1.2v1.2h-1.2zM110.6 360.8h1.2v1.2h-1.2zM102.9 383.6h1.2v1.2h-1.2zM151.1 302.9h1.2v1.2h-1.2zM106.7 367.6h1.2v1.2h-1.2zM136.0 326.7h1.2v1.2h-1.2zM106.9 378.8h1.2v1.2h-1.2zM108.4 363.2h1.2v1.2h-1.2zM116.8 351.3h1.2v1.2h-1.2zM107.9 364.1h1.2v1.2h-1.2zM151.2 303.1h1.2v1.2h-1.2zM126.5 345.6h1.2v1.2h-1.2zM142.2 317.6h1.2v1.2h-1.2zM103.2 384.6h1.2v1.2h-1.2zM106.4 370.2h1.2v1.2h-1.2zM124.8 342.6h1.2v1.2h-1.2zM106.5 369.2h1.2v1.2h-1.2zM102.7 382.8h1.2v1.2h-1.2zM115.8 351.1h1.2v1.2h-1.2zM126.3 341.9h1.2v1.2h-1.2zM106.1 380.3h1.2v1.2h-1.2zM102.8 384.3h1.2v1.2h-1.2zM106.9 366.5h1.2v1.2h-1.2zM119.0 358.8h1.2v1.2h-1.2zM112.5 358.3h1.2v1.2h-1.2zM140.6 317.8h1.2v1.2h-1.2zM107.6 363.5h1.2v1.2h-1.2zM139.6 324.3h1.2v1.2h-1.2zM137.7 326.9h1.2v1.2h-1.2zM130.6 340.0h1.2v1.2h-1.2zM107.5 368.6h1.2v1.2h-1.2zM136.6 328.2h1.2v1.2h-1.2zM109.2 362.0h1.2v1.2h-1.2zM151.3 303.0h1.2v1.2h-1.2zM107.8 376.6h1.2v1.2h-1.2zM106.6 367.5h1.2v1.2h-1.2zM125.1 342.4h1.2v1.2h-1.2zM108.0 364.6h1.2v1.2h-1.2zM102.5 381.6h1.2v1.2h-1.2zM120.9 347.1h1.2v1.2h-1.2zM136.5 329.5h1.2v1.2h-1.2zM113.6 354.4h1.2v1.2h-1.2zM145.7 312.7h1.2v1.2h-1.2zM104.1 383.2h1.2v1.2h-1.2zM140.2 318.6h1.2v1.2h-1.2zM146.0 312.2h1.2v1.2h-1.2zM137.7 326.5h1.2v1.2h-1.2zM143.0 317.9h1.2v1.2h-1.2zM146.2 312.6h1.2v1.2h-1.2zM102.9 383.4h1.2v1.2h-1.2zM124.4 343.9h1.2v1.2h-1.2zM115.2 352.7h1.2v1.2h-1.2zM136.8 329.6h1.2v1.2h-1.2zM102.8 380.3h1.2v1.2h-1.2zM107.1 378.1h1.2v1.2h-1.2zM105.2 374.7h1.2v1.2h-1.2zM103.4 384.8h1.2v1.2h-1.2zM138.5 326.2h1.2v1.2h-1.2zM138.2 321.8h1.2v1.2h-1.2zM106.2 380.7h1.2v1.2h-1.2zM107.8 364.2h1.2v1.2h-1.2zM142.9 319.3h1.2v1.2h-1.2zM138.8 319.5h1.2v1.2h-1.2zM107.7 363.0h1.2v1.2h-1.2zM107.1 366.7h1.2v1.2h-1.2zM136.9 324.7h1.2v1.2h-1.2zM108.9 362.8h1.2v1.2h-1.2zM150.4 304.2h1.2v1.2h-1.2zM134.2 334.1h1.2v1.2h-1.2zM114.7 365.0h1.2v1.2h-1.2zM103.1 383.7h1.2v1.2h-1.2zM151.3 304.0h1.2v1.2h-1.2zM135.0 332.2h1.2v1.2h-1.2zM143.0 319.0h1.2v1.2h-1.2zM132.4 332.6h1.2v1.2h-1.2zM138.9 325.5h1.2v1.2h-1.2zM151.0 304.9h1.2v1.2h-1.2zM106.1 380.6h1.2v1.2h-1.2zM137.8 325.9h1.2v1.2h-1.2zM134.6 332.6h1.2v1.2h-1.2zM113.9 354.3h1.2v1.2h-1.2zM113.8 354.5h1.2v1.2h-1.2zM135.2 327.0h1.2v1.2h-1.2zM108.3 363.0h1.2v1.2h-1.2zM109.4 362.8h1.2v1.2h-1.2z" fill="#1b29e5" fill-opacity="0.90"/>
<path d="M104.1 381.5h1.2v1.2h-1.2zM112.6 357.9h1.2v1.2h-1.2zM136.0 330.8h1.2v1.2h-1.2zM134.5 330.5h1.2v1.2h-1.2zM120.3 347.9h1.2v1.2h-1.2zM104.7 379.8h1.2v1.2h-1.2zM133.8 333.6h1.2v1.2h-1.2zM134.2 330.6h1.2v1.2h-1.2zM137.3 327.5h1.2v1.2h-1.2zM133.7 333.0h1.2v1.2h-1.2zM135.4 331.8h1.2v1.2h-1.2zM105.3 379.1h1.2v1.2h-1.2zM104.2 381.7h1.2v1.2h-1.2zM108.5 365.1h1.2v1.2h-1.2zM135.7 328.4h1.2v1.2h-1.2zM133.2 332.0h1.2v1.2h-1.2zM116.5 352.6h1.2v1.2h-1.2zM136.9 327.1h1.2v1.2h-1.2zM113.2 357.3h1.2v1.2h-1.2zM103.8 381.7h1.2v1.2h-1.2zM124.0 348.2h1.2v1.2h-1.2zM111.7 369.3h1.2v1.2h-1.2zM103.9 382.4h1.2v1.2h-1.2zM106.2 372.5h1.2v1.2h-1.2zM106.0 378.4h1.2v1.2h-1.2zM136.2 329.1h1.2v1.2h-1.2zM136.0 329.8h1.2v1.2h-1.2zM104.2 380.9h1.2v1.2h-1.2zM139.3 324.0h1.2v1.2h-1.2zM104.5 378.8h1.2v1.2h-1.2zM138.5 322.3h1.2v1.2h-1.2zM104.4 380.2h1.2v1.2h-1.2zM142.5 318.5h1.2v1.2h-1.2zM134.3 330.6h1.2v1.2h-1.2zM136.7 326.7h1.2v1.2h-1.2zM135.7 330.3h1.2v1.2h-1.2zM138.3 325.6h1.2v1.2h-1.2zM129.7 341.6h1.2v1.2h-1.2zM135.8 328.3h1.2v1.2h-1.2zM134.5 331.7h1.2v1.2h-1.2zM105.5 379.4h1.2v1.2h-1.2zM136.9 326.9h1.2v1.2h-1.2zM110.4 372.7h1.2v1.2h-1.2zM123.7 349.6h1.2v1.2h-1.2zM136.3 328.3h1.2v1.2h-1.2zM104.1 382.8h1.2v1.2h-1.2zM105.3 381.8h1.2v1.2h-1.2zM135.4 331.0h1.2v1.2h-1.2zM134.0 332.2h1.2v1.2h-1.2zM103.6 380.6h1.2v1.2h-1.2zM107.9 365.2h1.2v1.2h-1.2zM105.2 378.9h1.2v1.2h-1.2zM137.4 326.3h1.2v1.2h-1.2zM138.2 325.9h1.2v1.2h-1.2zM114.3 356.5h1.2v1.2h-1.2zM136.8 327.8h1.2v1.2h-1.2zM135.9 328.1h1.2v1.2h-1.2zM119.6 348.6h1.2v1.2h-1.2zM113.2 357.4h1.2v1.2h-1.2zM135.8 330.0h1.2v1.2h-1.2zM104.9 381.2h1.2v1.2h-1.2zM104.6 379.9h1.2v1.2h-1.2zM135.2 331.0h1.2v1.2h-1.2zM105.1 378.6h1.2v1.2h-1.2zM112.5 367.5h1.2v1.2h-1.2zM133.3 332.5h1.2v1.2h-1.2zM138.2 324.3h1.2v1.2h-1.2zM115.2 354.1h1.2v1.2h-1.2zM139.4 320.7h1.2v1.2h-1.2zM137.6 325.5h1.2v1.2h-1.2zM123.6 348.9h1.2v1.2h-1.2zM133.2 332.1h1.2v1.2h-1.2zM115.3 353.4h1.2v1.2h-1.2zM134.3 329.9h1.2v1.2h-1.2zM137.9 324.6h1.2v1.2h-1.2zM103.9 381.6h1.2v1.2h-1.2zM104.9 377.3h1.2v1.2h-1.2zM135.5 328.6h1.2v1.2h-1.2zM136.3 327.1h1.2v1.2h-1.2zM116.3 352.2h1.2v1.2h-1.2zM136.3 328.2h1.2v1.2h-1.2zM106.0 379.3h1.2v1.2h-1.2zM123.9 348.1h1.2v1.2h-1.2zM134.5 328.9h1.2v1.2h-1.2zM115.4 353.1h1.2v1.2h-1.2zM104.4 380.9h1.2v1.2h-1.2zM106.3 372.5h1.2v1.2h-1.2zM106.9 377.0h1.2v1.2h-1.2zM136.2 329.9h1.2v1.2h-1.2zM134.7 331.8h1.2v1.2h-1.2zM139.0 324.0h1.2v1.2h-1.2zM143.1 318.6h1.2v1.2h-1.2zM127.7 343.0h1.2v1.2h-1.2zM106.3 378.5h1.2v1.2h-1.2z" fill="#1439eb" fill-opacity="0.95"/>
<path d="M140.6 322.0h1.2v1.2h-1.2zM130.6 338.9h1.2v1.2h-1.2zM142.2 317.9h1.2v1.2h-1.2zM108.5 367.7h1.2v1.2h-1.2zM106.4 377.8h1.2v1.2h-1.2zM134.7 330.8h1.2v1.2h-1.2zM135.3 330.0h1.2v1.2h-1.2zM107.9 375.3h1.2v1.2h-1.2zM117.9 351.6h1.2v1.2h-1.2zM128.5 337.7h1.2v1.2h-1.2zM107.0 376.5h1.2v1.2h-1.2zM106.4 376.5h1.2v1.2h-1.2zM122.8 346.6h1.2v1.2h-1.2zM130.0 336.0h1.2v1.2h-1.2zM109.2 365.2h1.2v1.2h-1.2zM140.0 323.0h1.2v1.2h-1.2zM132.3 334.9h1.2v1.2h-1.2zM109.3 365.9h1.2v1.2h-1.2zM133.1 334.2h1.2v1.2h-1.2zM124.0 347.6h1.2v1.2h-1.2zM133.0 335.4h1.2v1.2h-1.2zM131.1 335.9h1.2v1.2h-1.2zM107.4 370.0h1.2v1.2h-1.2zM107.1 376.0h1.2v1.2h-1.2zM108.2 366.9h1.2v1.2h-1.2zM106.0 377.9h1.2v1.2h-1.2zM117.8 351.8h1.2v1.2h-1.2zM127.0 340.4h1.2v1.2h-1.2zM142.4 318.7h1.2v1.2h-1.2zM110.5 362.8h1.2v1.2h-1.2zM133.2 334.8h1.2v1.2h-1.2zM133.1 334.5h1.2v1.2h-1.2zM131.6 334.7h1.2v1.2h-1.2zM140.4 323.9h1.2v1.2h-1.2zM132.6 333.4h1.2v1.2h-1.2zM133.2 333.6h1.2v1.2h-1.2zM120.7 354.5h1.2v1.2h-1.2zM126.3 342.2h1.2v1.2h-1.2zM112.2 359.3h1.2v1.2h-1.2zM107.2 370.5h1.2v1.2h-1.2zM142.0 320.0h1.2v1.2h-1.2zM139.7 318.9h1.2v1.2h-1.2zM112.0 359.8h1.2v1.2h-1.2zM140.6 322.0h1.2v1.2h-1.2zM126.8 340.8h1.2v1.2h-1.2zM140.6 322.6h1.2v1.2h-1.2zM132.0 334.5h1.2v1.2h-1.2zM123.7 347.7h1.2v1.2h-1.2zM131.1 335.3h1.2v1.2h-1.2zM112.3 359.1h1.2v1.2h-1.2zM119.1 350.8h1.2v1.2h-1.2zM133.5 333.6h1.2v1.2h-1.2zM132.9 333.4h1.2v1.2h-1.2zM142.3 318.7h1.2v1.2h-1.2zM106.1 376.4h1.2v1.2h-1.2zM132.7 335.2h1.2v1.2h-1.2zM142.4 318.2h1.2v1.2h-1.2zM133.6 331.6h1.2v1.2h-1.2zM129.3 337.3h1.2v1.2h-1.2zM130.1 336.1h1.2v1.2h-1.2zM112.2 359.4h1.2v1.2h-1.2zM105.6 377.5h1.2v1.2h-1.2zM116.4 353.3h1.2v1.2h-1.2zM141.7 320.5h1.2v1.2h-1.2zM105.9 377.4h1.2v1.2h-1.2zM105.6 376.7h1.2v1.2h-1.2zM124.4 347.0h1.2v1.2h-1.2zM133.8 331.0h1.2v1.2h-1.2zM115.3 355.0h1.2v1.2h-1.2zM140.2 323.0h1.2v1.2h-1.2zM112.1 359.3h1.2v1.2h-1.2zM126.7 344.4h1.2v1.2h-1.2z" fill="#0d55f2" fill-opacity="1.00"/>
<path d="M106.7 371.1h1.2v1.2h-1.2zM127.2 343.8h1.2v1.2h-1.2zM107.5 371.4h1.2v1.2h-1.2zM127.4 341.9h1.2v1.2h-1.2zM126.4 345.0h1.2v1.2h-1.2zM123.8 345.9h1.2v1.2h-1.2zM122.6 350.1h1.2v1.2h-1.2zM124.2 345.9h1.2v1.2h-1.2zM122.8 348.7h1.2v1.2h-1.2zM124.2 346.6h1.2v1.2h-1.2zM139.0 323.5h1.2v1.2h-1.2zM125.0 346.4h1.2v1.2h-1.2zM120.1 354.9h1.2v1.2h-1.2zM123.1 350.1h1.2v1.2h-1.2zM124.1 346.6h1.2v1.2h-1.2zM110.6 370.8h1.2v1.2h-1.2zM141.5 319.5h1.2v1.2h-1.2zM131.8 335.2h1.2v1.2h-1.2zM141.7 319.0h1.2v1.2h-1.2zM124.0 346.2h1.2v1.2h-1.2zM139.2 322.9h1.2v1.2h-1.2zM116.6 352.8h1.2v1.2h-1.2zM139.2 322.6h1.2v1.2h-1.2zM131.5 335.7h1.2v1.2h-1.2zM106.5 375.0h1.2v1.2h-1.2zM131.9 335.0h1.2v1.2h-1.2zM126.2 343.6h1.2v1.2h-1.2zM131.9 336.2h1.2v1.2h-1.2zM129.6 339.9h1.2v1.2h-1.2zM122.6 350.0h1.2v1.2h-1.2zM130.7 338.2h1.2v1.2h-1.2zM125.9 343.2h1.2v1.2h-1.2zM126.8 343.3h1.2v1.2h-1.2zM127.5 343.6h1.2v1.2h-1.2zM127.6 342.4h1.2v1.2h-1.2zM131.2 337.9h1.2v1.2h-1.2zM113.9 357.1h1.2v1.2h-1.2zM124.3 345.1h1.2v1.2h-1.2zM129.6 340.4h1.2v1.2h-1.2zM131.6 336.3h1.2v1.2h-1.2zM121.3 348.0h1.2v1.2h-1.2zM122.8 350.2h1.2v1.2h-1.2zM124.9 346.6h1.2v1.2h-1.2zM125.6 345.0h1.2v1.2h-1.2zM126.1 345.1h1.2v1.2h-1.2zM116.5 354.1h1.2v1.2h-1.2zM141.8 319.7h1.2v1.2h-1.2zM116.9 352.8h1.2v1.2h-1.2zM126.9 342.5h1.2v1.2h-1.2zM139.0 323.8h1.2v1.2h-1.2zM140.6 319.0h1.2v1.2h-1.2zM141.8 319.4h1.2v1.2h-1.2zM139.4 322.8h1.2v1.2h-1.2zM122.7 348.3h1.2v1.2h-1.2zM142.4 318.9h1.2v1.2h-1.2zM131.6 336.5h1.2v1.2h-1.2zM125.0 346.0h1.2v1.2h-1.2zM131.6 336.4h1.2v1.2h-1.2zM131.5 335.8h1.2v1.2h-1.2zM106.3 374.7h1.2v1.2h-1.2zM124.9 346.9h1.2v1.2h-1.2zM132.2 335.6h1.2v1.2h-1.2zM119.9 349.5h1.2v1.2h-1.2zM109.2 366.1h1.2v1.2h-1.2zM114.8 364.8h1.2v1.2h-1.2zM130.3 340.2h1.2v1.2h-1.2zM130.7 338.3h1.2v1.2h-1.2zM119.7 348.9h1.2v1.2h-1.2zM105.9 374.4h1.2v1.2h-1.2zM141.3 319.8h1.2v1.2h-1.2zM139.4 323.7h1.2v1.2h-1.2zM113.9 357.0h1.2v1.2h-1.2zM120.2 349.3h1.2v1.2h-1.2zM127.4 343.0h1.2v1.2h-1.2zM124.1 345.7h1.2v1.2h-1.2zM130.6 338.2h1.2v1.2h-1.2zM139.1 322.5h1.2v1.2h-1.2zM122.3 351.9h1.2v1.2h-1.2zM127.9 342.5h1.2v1.2h-1.2zM117.1 352.0h1.2v1.2h-1.2zM106.5 374.7h1.2v1.2h-1.2zM126.9 342.4h1.2v1.2h-1.2zM131.9 335.4h1.2v1.2h-1.2zM106.5 375.6h1.2v1.2h-1.2zM127.0 343.1h1.2v1.2h-1.2zM131.9 336.3h1.2v1.2h-1.2zM124.1 346.6h1.2v1.2h-1.2zM114.4 357.8h1.2v1.2h-1.2zM131.6 335.5h1.2v1.2h-1.2zM130.5 338.0h1.2v1.2h-1.2zM116.6 352.2h1.2v1.2h-1.2z" fill="#0571fa" fill-opacity="1.00"/>
<path d="M129.1 337.9h1.2v1.2h-1.2zM111.2 363.0h1.2v1.2h-1.2zM126.2 344.1h1.2v1.2h-1.2zM107.0 375.2h1.2v1.2h-1.2zM131.3 337.2h1.2v1.2h-1.2zM140.0 322.3h1.2v1.2h-1.2zM127.6 341.5h1.2v1.2h-1.2zM139.9 322.7h1.2v1.2h-1.2zM130.9 336.3h1.2v1.2h-1.2zM124.7 344.5h1.2v1.2h-1.2zM129.9 337.5h1.2v1.2h-1.2zM110.4 370.9h1.2v1.2h-1.2zM115.4 356.0h1.2v1.2h-1.2zM122.7 349.5h1.2v1.2h-1.2zM140.6 321.2h1.2v1.2h-1.2zM128.1 341.5h1.2v1.2h-1.2zM125.3 344.8h1.2v1.2h-1.2zM127.6 341.8h1.2v1.2h-1.2zM122.6 349.8h1.2v1.2h-1.2zM140.2 322.4h1.2v1.2h-1.2zM139.7 320.7h1.2v1.2h-1.2zM141.1 321.2h1.2v1.2h-1.2zM125.7 343.9h1.2v1.2h-1.2zM128.3 341.6h1.2v1.2h-1.2zM109.3 367.2h1.2v1.2h-1.2zM125.9 344.3h1.2v1.2h-1.2zM128.1 341.1h1.2v1.2h-1.2zM126.1 344.3h1.2v1.2h-1.2zM109.4 367.0h1.2v1.2h-1.2zM140.2 320.7h1.2v1.2h-1.2zM126.2 344.4h1.2v1.2h-1.2zM139.8 322.3h1.2v1.2h-1.2zM114.8 356.0h1.2v1.2h-1.2zM140.6 320.4h1.2v1.2h-1.2zM131.0 337.6h1.2v1.2h-1.2zM125.2 344.5h1.2v1.2h-1.2zM109.3 367.3h1.2v1.2h-1.2zM131.5 336.7h1.2v1.2h-1.2zM141.0 320.6h1.2v1.2h-1.2zM141.4 320.4h1.2v1.2h-1.2zM121.8 348.1h1.2v1.2h-1.2zM115.9 362.2h1.2v1.2h-1.2zM141.1 320.7h1.2v1.2h-1.2zM130.9 337.6h1.2v1.2h-1.2zM130.4 337.6h1.2v1.2h-1.2zM127.6 341.5h1.2v1.2h-1.2zM122.2 348.0h1.2v1.2h-1.2zM106.7 375.0h1.2v1.2h-1.2zM127.5 341.5h1.2v1.2h-1.2zM109.6 371.8h1.2v1.2h-1.2zM141.2 320.5h1.2v1.2h-1.2zM110.0 370.9h1.2v1.2h-1.2zM130.6 337.5h1.2v1.2h-1.2zM126.0 344.7h1.2v1.2h-1.2zM122.6 349.2h1.2v1.2h-1.2zM140.9 321.2h1.2v1.2h-1.2zM128.3 340.9h1.2v1.2h-1.2zM131.3 337.6h1.2v1.2h-1.2zM107.1 375.3h1.2v1.2h-1.2zM106.9 375.5h1.2v1.2h-1.2zM130.7 336.5h1.2v1.2h-1.2zM122.8 349.6h1.2v1.2h-1.2zM122.7 349.6h1.2v1.2h-1.2zM106.6 375.5h1.2v1.2h-1.2zM121.5 348.5h1.2v1.2h-1.2zM106.8 375.5h1.2v1.2h-1.2z" fill="#008efb" fill-opacity="1.00"/>
<path d="M128.3 340.0h1.2v1.2h-1.2zM108.9 372.1h1.2v1.2h-1.2zM108.1 374.4h1.2v1.2h-1.2zM109.0 372.7h1.2v1.2h-1.2zM125.2 345.0h1.2v1.2h-1.2zM107.5 371.7h1.2v1.2h-1.2zM118.4 352.9h1.2v1.2h-1.2zM111.9 361.8h1.2v1.2h-1.2zM129.7 339.7h1.2v1.2h-1.2zM110.9 369.5h1.2v1.2h-1.2zM129.5 339.5h1.2v1.2h-1.2zM116.7 353.6h1.2v1.2h-1.2zM125.4 345.1h1.2v1.2h-1.2zM108.5 372.5h1.2v1.2h-1.2zM129.7 339.8h1.2v1.2h-1.2zM110.2 365.1h1.2v1.2h-1.2zM118.7 351.3h1.2v1.2h-1.2zM130.4 338.5h1.2v1.2h-1.2zM124.9 345.1h1.2v1.2h-1.2zM139.9 321.3h1.2v1.2h-1.2zM124.5 345.8h1.2v1.2h-1.2zM140.3 321.5h1.2v1.2h-1.2zM111.9 361.1h1.2v1.2h-1.2zM108.0 374.9h1.2v1.2h-1.2zM118.6 356.3h1.2v1.2h-1.2zM125.5 345.0h1.2v1.2h-1.2zM128.3 340.8h1.2v1.2h-1.2zM121.1 353.0h1.2v1.2h-1.2zM108.8 372.2h1.2v1.2h-1.2zM110.0 365.2h1.2v1.2h-1.2zM108.1 374.1h1.2v1.2h-1.2zM130.1 338.7h1.2v1.2h-1.2zM139.9 321.6h1.2v1.2h-1.2zM140.5 321.7h1.2v1.2h-1.2zM110.0 365.3h1.2v1.2h-1.2zM139.9 321.4h1.2v1.2h-1.2zM128.3 340.8h1.2v1.2h-1.2zM108.3 371.8h1.2v1.2h-1.2zM112.1 367.2h1.2v1.2h-1.2zM120.8 353.3h1.2v1.2h-1.2zM109.1 368.5h1.2v1.2h-1.2zM118.8 356.1h1.2v1.2h-1.2zM116.8 353.1h1.2v1.2h-1.2zM125.3 345.1h1.2v1.2h-1.2zM110.6 369.2h1.2v1.2h-1.2zM110.4 364.9h1.2v1.2h-1.2zM107.5 374.7h1.2v1.2h-1.2zM140.4 321.4h1.2v1.2h-1.2zM108.0 373.9h1.2v1.2h-1.2zM112.4 367.5h1.2v1.2h-1.2zM118.5 356.2h1.2v1.2h-1.2z" fill="#00acf0" fill-opacity="1.00"/>
<path d="M129.1 339.7h1.2v1.2h-1.2zM110.7 368.7h1.2v1.2h-1.2zM109.2 369.6h1.2v1.2h-1.2zM109.1 369.4h1.2v1.2h-1.2zM107.3 373.4h1.2v1.2h-1.2zM120.1 353.9h1.2v1.2h-1.2zM128.7 340.6h1.2v1.2h-1.2zM107.3 374.7h1.2v1.2h-1.2zM109.8 370.6h1.2v1.2h-1.2zM107.2 374.4h1.2v1.2h-1.2zM129.3 340.6h1.2v1.2h-1.2zM120.7 349.3h1.2v1.2h-1.2zM119.7 350.6h1.2v1.2h-1.2zM108.4 373.5h1.2v1.2h-1.2zM109.4 371.0h1.2v1.2h-1.2zM107.9 372.2h1.2v1.2h-1.2zM129.4 339.9h1.2v1.2h-1.2zM109.4 371.4h1.2v1.2h-1.2zM107.2 373.6h1.2v1.2h-1.2zM107.0 374.3h1.2v1.2h-1.2zM107.6 373.7h1.2v1.2h-1.2zM110.6 368.1h1.2v1.2h-1.2zM120.4 350.1h1.2v1.2h-1.2zM108.4 372.2h1.2v1.2h-1.2zM107.4 373.8h1.2v1.2h-1.2zM109.3 369.8h1.2v1.2h-1.2zM109.4 371.0h1.2v1.2h-1.2zM122.2 349.6h1.2v1.2h-1.2zM129.5 339.1h1.2v1.2h-1.2zM121.6 349.7h1.2v1.2h-1.2zM108.4 373.2h1.2v1.2h-1.2zM108.0 373.6h1.2v1.2h-1.2zM120.0 354.5h1.2v1.2h-1.2zM107.7 372.7h1.2v1.2h-1.2zM128.9 340.7h1.2v1.2h-1.2zM128.6 340.8h1.2v1.2h-1.2zM119.9 354.9h1.2v1.2h-1.2zM128.9 339.8h1.2v1.2h-1.2zM107.3 373.9h1.2v1.2h-1.2zM119.9 354.6h1.2v1.2h-1.2zM110.2 370.4h1.2v1.2h-1.2zM110.5 367.9h1.2v1.2h-1.2zM109.4 371.2h1.2v1.2h-1.2zM128.7 339.8h1.2v1.2h-1.2zM129.4 340.8h1.2v1.2h-1.2zM108.5 373.5h1.2v1.2h-1.2zM128.6 340.5h1.2v1.2h-1.2zM128.9 340.4h1.2v1.2h-1.2zM114.5 358.7h1.2v1.2h-1.2zM108.1 373.5h1.2v1.2h-1.2zM107.4 373.7h1.2v1.2h-1.2zM129.3 339.5h1.2v1.2h-1.2zM128.8 339.8h1.2v1.2h-1.2zM107.8 373.3h1.2v1.2h-1.2zM111.2 368.4h1.2v1.2h-1.2zM108.9 369.8h1.2v1.2h-1.2zM109.0 370.9h1.2v1.2h-1.2z" fill="#00cbe5" fill-opacity="1.00"/>
<path d="M122.3 350.5h1.2v1.2h-1.2zM115.0 363.2h1.2v1.2h-1.2zM109.5 369.5h1.2v1.2h-1.2zM109.6 369.7h1.2v1.2h-1.2zM111.3 364.7h1.2v1.2h-1.2zM109.1 370.2h1.2v1.2h-1.2zM112.5 362.1h1.2v1.2h-1.2zM110.8 364.5h1.2v1.2h-1.2zM122.4 350.0h1.2v1.2h-1.2zM116.7 353.9h1.2v1.2h-1.2zM109.6 369.6h1.2v1.2h-1.2zM122.2 349.9h1.2v1.2h-1.2zM110.3 369.3h1.2v1.2h-1.2zM110.1 369.6h1.2v1.2h-1.2zM117.4 354.6h1.2v1.2h-1.2zM110.1 369.5h1.2v1.2h-1.2zM111.9 362.6h1.2v1.2h-1.2zM111.1 364.6h1.2v1.2h-1.2zM117.9 353.2h1.2v1.2h-1.2zM122.0 350.8h1.2v1.2h-1.2zM109.4 370.1h1.2v1.2h-1.2zM109.8 369.6h1.2v1.2h-1.2zM109.7 369.9h1.2v1.2h-1.2zM109.2 370.1h1.2v1.2h-1.2zM109.1 370.7h1.2v1.2h-1.2zM115.1 363.2h1.2v1.2h-1.2zM110.0 368.6h1.2v1.2h-1.2zM110.3 369.7h1.2v1.2h-1.2zM111.9 362.4h1.2v1.2h-1.2zM118.2 353.1h1.2v1.2h-1.2zM110.3 369.8h1.2v1.2h-1.2zM122.1 350.4h1.2v1.2h-1.2z" fill="#06d7c0" fill-opacity="1.00"/>
<path d="M111.8 365.9h1.2v1.2h-1.2zM120.1 353.5h1.2v1.2h-1.2zM119.0 355.2h1.2v1.2h-1.2zM116.4 356.4h1.2v1.2h-1.2zM112.6 365.7h1.2v1.2h-1.2zM113.5 365.6h1.2v1.2h-1.2zM116.3 356.7h1.2v1.2h-1.2zM112.8 365.6h1.2v1.2h-1.2zM116.5 359.1h1.2v1.2h-1.2zM112.9 360.2h1.2v1.2h-1.2zM116.2 356.4h1.2v1.2h-1.2zM112.5 365.9h1.2v1.2h-1.2zM110.9 367.0h1.2v1.2h-1.2zM117.1 359.5h1.2v1.2h-1.2zM111.1 367.8h1.2v1.2h-1.2zM111.5 366.4h1.2v1.2h-1.2zM121.5 352.4h1.2v1.2h-1.2zM111.8 366.7h1.2v1.2h-1.2zM113.9 364.3h1.2v1.2h-1.2zM113.6 364.1h1.2v1.2h-1.2zM111.8 366.4h1.2v1.2h-1.2zM111.5 367.1h1.2v1.2h-1.2zM118.8 352.7h1.2v1.2h-1.2zM120.4 353.2h1.2v1.2h-1.2zM113.7 364.2h1.2v1.2h-1.2zM116.1 361.0h1.2v1.2h-1.2zM119.7 353.1h1.2v1.2h-1.2zM121.4 352.1h1.2v1.2h-1.2zM117.5 357.1h1.2v1.2h-1.2zM113.0 360.6h1.2v1.2h-1.2zM120.9 352.0h1.2v1.2h-1.2zM118.3 357.0h1.2v1.2h-1.2zM120.5 352.7h1.2v1.2h-1.2zM111.7 366.8h1.2v1.2h-1.2zM112.8 365.3h1.2v1.2h-1.2zM111.3 367.2h1.2v1.2h-1.2zM110.7 367.4h1.2v1.2h-1.2zM120.0 353.2h1.2v1.2h-1.2zM116.6 359.8h1.2v1.2h-1.2zM111.7 366.5h1.2v1.2h-1.2z" fill="#11d788" fill-opacity="1.00"/>
<path d="M121.1 351.8h1.2v1.2h-1.2zM110.7 365.2h1.2v1.2h-1.2zM119.1 353.9h1.2v1.2h-1.2zM120.0 352.1h1.2v1.2h-1.2zM119.1 354.0h1.2v1.2h-1.2zM120.4 352.8h1.2v1.2h-1.2zM121.1 350.2h1.2v1.2h-1.2zM111.3 365.3h1.2v1.2h-1.2zM119.5 354.4h1.2v1.2h-1.2zM112.0 363.6h1.2v1.2h-1.2zM110.9 366.3h1.2v1.2h-1.2zM110.6 366.7h1.2v1.2h-1.2zM120.4 351.7h1.2v1.2h-1.2zM119.1 354.5h1.2v1.2h-1.2zM121.0 351.1h1.2v1.2h-1.2zM119.5 354.4h1.2v1.2h-1.2zM116.9 354.9h1.2v1.2h-1.2zM121.2 350.4h1.2v1.2h-1.2zM120.4 352.0h1.2v1.2h-1.2zM121.1 351.4h1.2v1.2h-1.2zM121.3 351.7h1.2v1.2h-1.2zM119.1 354.3h1.2v1.2h-1.2zM111.3 365.7h1.2v1.2h-1.2zM118.4 354.2h1.2v1.2h-1.2zM120.6 351.4h1.2v1.2h-1.2zM120.7 350.9h1.2v1.2h-1.2zM121.4 351.6h1.2v1.2h-1.2zM117.4 355.7h1.2v1.2h-1.2zM120.8 350.0h1.2v1.2h-1.2zM120.8 351.0h1.2v1.2h-1.2zM120.2 351.6h1.2v1.2h-1.2zM111.0 366.1h1.2v1.2h-1.2zM119.4 353.2h1.2v1.2h-1.2zM120.3 351.3h1.2v1.2h-1.2zM110.6 364.9h1.2v1.2h-1.2zM118.6 354.7h1.2v1.2h-1.2zM121.3 351.7h1.2v1.2h-1.2zM110.8 366.1h1.2v1.2h-1.2zM121.1 350.4h1.2v1.2h-1.2zM121.2 351.7h1.2v1.2h-1.2zM111.5 366.0h1.2v1.2h-1.2zM120.0 352.3h1.2v1.2h-1.2zM118.9 353.5h1.2v1.2h-1.2zM120.0 352.9h1.2v1.2h-1.2zM120.5 350.5h1.2v1.2h-1.2zM119.2 353.9h1.2v1.2h-1.2z" fill="#1cd751" fill-opacity="1.00"/>
<path d="M118.5 355.1h1.2v1.2h-1.2zM111.8 364.3h1.2v1.2h-1.2zM116.5 358.0h1.2v1.2h-1.2zM117.1 358.0h1.2v1.2h-1.2zM116.5 357.9h1.2v1.2h-1.2zM118.4 356.1h1.2v1.2h-1.2zM117.5 356.3h1.2v1.2h-1.2zM118.3 356.0h1.2v1.2h-1.2zM112.5 365.3h1.2v1.2h-1.2zM112.4 365.9h1.2v1.2h-1.2zM117.2 356.7h1.2v1.2h-1.2zM117.7 355.8h1.2v1.2h-1.2zM117.7 356.9h1.2v1.2h-1.2zM118.0 355.6h1.2v1.2h-1.2zM113.8 359.2h1.2v1.2h-1.2zM118.0 356.1h1.2v1.2h-1.2zM112.2 365.3h1.2v1.2h-1.2zM111.7 365.6h1.2v1.2h-1.2zM118.4 355.3h1.2v1.2h-1.2zM118.0 356.3h1.2v1.2h-1.2zM117.4 358.1h1.2v1.2h-1.2zM117.7 355.8h1.2v1.2h-1.2zM118.4 356.2h1.2v1.2h-1.2zM117.0 356.0h1.2v1.2h-1.2zM117.2 356.6h1.2v1.2h-1.2zM118.4 355.7h1.2v1.2h-1.2zM117.7 355.8h1.2v1.2h-1.2zM117.1 358.4h1.2v1.2h-1.2zM117.5 358.1h1.2v1.2h-1.2z" fill="#5adc2f" fill-opacity="1.00"/>
<path d="M116.6 357.4h1.2v1.2h-1.2zM113.0 361.8h1.2v1.2h-1.2zM117.5 357.6h1.2v1.2h-1.2zM114.6 358.2h1.2v1.2h-1.2zM112.7 364.4h1.2v1.2h-1.2zM113.2 364.5h1.2v1.2h-1.2zM112.7 361.7h1.2v1.2h-1.2zM117.1 357.9h1.2v1.2h-1.2zM116.6 357.8h1.2v1.2h-1.2zM112.5 364.3h1.2v1.2h-1.2zM113.4 364.4h1.2v1.2h-1.2zM112.6 364.7h1.2v1.2h-1.2zM112.8 364.6h1.2v1.2h-1.2zM116.5 357.4h1.2v1.2h-1.2zM116.1 357.2h1.2v1.2h-1.2zM115.3 357.9h1.2v1.2h-1.2zM115.5 360.0h1.2v1.2h-1.2zM115.6 359.9h1.2v1.2h-1.2zM116.7 357.8h1.2v1.2h-1.2zM115.7 360.0h1.2v1.2h-1.2z" fill="#a5e212" fill-opacity="1.00"/>
<path d="M114.6 362.3h1.2v1.2h-1.2zM114.7 361.9h1.2v1.2h-1.2zM114.7 361.9h1.2v1.2h-1.2z" fill="#dad700" fill-opacity="1.00"/>
<path d="M116.4 358.7h1.2v1.2h-1.2zM114.0 363.6h1.2v1.2h-1.2zM116.0 359.3h1.2v1.2h-1.2zM113.0 363.5h1.2v1.2h-1.2zM115.5 358.9h1.2v1.2h-1.2zM116.2 359.1h1.2v1.2h-1.2zM114.4 363.5h1.2v1.2h-1.2zM116.3 359.1h1.2v1.2h-1.2zM112.7 363.7h1.2v1.2h-1.2zM115.5 359.2h1.2v1.2h-1.2zM116.4 358.8h1.2v1.2h-1.2zM116.2 358.4h1.2v1.2h-1.2zM113.9 363.0h1.2v1.2h-1.2zM113.5 363.1h1.2v1.2h-1.2zM113.6 363.1h1.2v1.2h-1.2zM113.1 363.4h1.2v1.2h-1.2zM115.9 359.1h1.2v1.2h-1.2zM113.8 363.1h1.2v1.2h-1.2zM116.1 358.5h1.2v1.2h-1.2zM113.9 363.9h1.2v1.2h-1.2zM116.1 358.3h1.2v1.2h-1.2zM113.2 363.4h1.2v1.2h-1.2zM115.8 358.3h1.2v1.2h-1.2zM112.9 362.6h1.2v1.2h-1.2zM114.0 363.1h1.2v1.2h-1.2zM115.9 359.3h1.2v1.2h-1.2zM113.2 363.2h1.2v1.2h-1.2zM113.2 363.1h1.2v1.2h-1.2zM116.0 358.3h1.2v1.2h-1.2z" fill="#ecb200" fill-opacity="1.00"/>
<path d="M114.7 359.0h1.2v1.2h-1.2zM114.1 360.7h1.2v1.2h-1.2zM114.3 360.1h1.2v1.2h-1.2zM115.0 359.7h1.2v1.2h-1.2zM114.6 358.9h1.2v1.2h-1.2zM115.5 359.2h1.2v1.2h-1.2zM113.9 359.9h1.2v1.2h-1.2zM114.4 360.5h1.2v1.2h-1.2zM114.0 360.1h1.2v1.2h-1.2z" fill="#ff8c00" fill-opacity="1.00"/>
<path d="M114.9 361.6h1.2v1.2h-1.2zM115.1 361.3h1.2v1.2h-1.2zM115.4 361.1h1.2v1.2h-1.2zM114.9 361.8h1.2v1.2h-1.2zM115.0 361.3h1.2v1.2h-1.2zM115.3 361.5h1.2v1.2h-1.2zM114.5 361.0h1.2v1.2h-1.2zM115.2 361.6h1.2v1.2h-1.2z" fill="#f25a00" fill-opacity="1.00"/>
<path d="M113.9 362.4h1.2v1.2h-1.2zM114.3 361.5h1.2v1.2h-1.2zM114.2 362.3h1.2v1.2h-1.2zM115.5 360.2h1.2v1.2h-1.2zM114.0 362.6h1.2v1.2h-1.2zM113.7 361.0h1.2v1.2h-1.2zM115.1 360.8h1.2v1.2h-1.2zM114.5 362.6h1.2v1.2h-1.2zM114.1 362.0h1.2v1.2h-1.2zM115.2 360.0h1.2v1.2h-1.2zM113.6 362.6h1.2v1.2h-1.2zM114.8 360.7h1.2v1.2h-1.2zM114.2 361.8h1.2v1.2h-1.2zM115.2 360.3h1.2v1.2h-1.2zM114.2 362.0h1.2v1.2h-1.2zM114.5 361.6h1.2v1.2h-1.2zM115.1 360.8h1.2v1.2h-1.2zM115.4 360.3h1.2v1.2h-1.2zM115.3 360.3h1.2v1.2h-1.2zM114.2 361.6h1.2v1.2h-1.2z" fill="#e62800" fill-opacity="1.00"/>
<path d="M340.2 272.3h1.2v1.2h-1.2zM339.8 284.0h1.2v1.2h-1.2zM339.7 278.8h1.2v1.2h-1.2zM339.8 289.0h1.2v1.2h-1.2zM340.3 279.8h1.2v1.2h-1.2zM340.7 265.3h1.2v1.2h-1.2zM340.1 279.2h1.2v1.2h-1.2zM267.2 358.7h1.2v1.2h-1.2zM340.3 270.4h1.2v1.2h-1.2zM340.5 275.8h1.2v1.2h-1.2zM280.5 403.2h1.2v1.2h-1.2zM281.9 401.2h1.2v1.2h-1.2zM257.0 397.3h1.2v1.2h-1.2zM283.9 399.8h1.2v1.2h-1.2zM256.4 398.3h1.2v1.2h-1.2zM273.1 377.8h1.2v1.2h-1.2zM259.3 399.4h1.2v1.2h-1.2zM256.7 394.0h1.2v1.2h-1.2zM253.9 403.5h1.2v1.2h-1.2zM288.2 360.1h1.2v1.2h-1.2zM290.3 349.0h1.2v1.2h-1.2zM273.9 372.0h1.2v1.2h-1.2zM269.5 375.0h1.2v1.2h-1.2zM293.0 320.9h1.2v1.2h-1.2zM292.4 347.8h1.2v1.2h-1.2zM284.1 361.6h1.2v1.2h-1.2zM285.1 358.9h1.2v1.2h-1.2zM274.7 404.1h1.2v1.2h-1.2zM290.9 326.9h1.2v1.2h-1.2zM294.5 336.2h1.2v1.2h-1.2zM288.4 320.7h1.2v1.2h-1.2zM296.7 316.4h1.2v1.2h-1.2zM293.3 318.6h1.2v1.2h-1.2zM296.9 323.3h1.2v1.2h-1.2zM290.2 328.2h1.2v1.2h-1.2zM286.8 329.3h1.2v1.2h-1.2zM293.1 324.2h1.2v1.2h-1.2zM319.7 333.2h1.2v1.2h-1.2zM291.4 319.6h1.2v1.2h-1.2zM302.6 318.6h1.2v1.2h-1.2zM301.8 321.8h1.2v1.2h-1.2zM299.5 321.2h1.2v1.2h-1.2zM288.7 331.5h1.2v1.2h-1.2zM282.6 334.7h1.2v1.2h-1.2zM302.5 322.6h1.2v1.2h-1.2zM295.0 316.6h1.2v1.2h-1.2zM290.7 328.2h1.2v1.2h-1.2zM287.2 335.7h1.2v1.2h-1.2zM290.0 330.7h1.2v1.2h-1.2zM295.0 317.5h1.2v1.2h-1.2zM275.7 322.7h1.2v1.2h-1.2zM271.4 406.6h1.2v1.2h-1.2zM263.6 379.9h1.2v1.2h-1.2zM253.9 405.0h1.2v1.2h-1.2zM324.7 309.7h1.2v1.2h-1.2zM326.7 305.0h1.2v1.2h-1.2zM290.6 338.8h1.2v1.2h-1.2zM254.0 386.0h1.2v1.2h-1.2zM268.2 379.2h1.2v1.2h-1.2zM276.2 376.8h1.2v1.2h-1.2zM274.1 373.0h1.2v1.2h-1.2zM293.6 340.4h1.2v1.2h-1.2zM297.1 317.7h1.2v1.2h-1.2zM283.7 312.7h1.2v1.2h-1.2zM297.9 335.3h1.2v1.2h-1.2zM305.0 328.0h1.2v1.2h-1.2zM327.9 330.3h1.2v1.2h-1.2zM286.0 325.8h1.2v1.2h-1.2zM301.8 319.4h1.2v1.2h-1.2zM287.1 317.1h1.2v1.2h-1.2zM291.1 318.5h1.2v1.2h-1.2zM293.3 339.9h1.2v1.2h-1.2zM298.2 335.6h1.2v1.2h-1.2zM292.0 339.6h1.2v1.2h-1.2zM291.7 329.8h1.2v1.2h-1.2zM281.3 332.8h1.2v1.2h-1.2zM295.5 319.0h1.2v1.2h-1.2zM307.8 316.2h1.2v1.2h-1.2zM305.2 328.4h1.2v1.2h-1.2zM294.5 315.0h1.2v1.2h-1.2zM286.0 326.0h1.2v1.2h-1.2zM281.1 329.2h1.2v1.2h-1.2zM306.8 322.7h1.2v1.2h-1.2zM276.8 373.0h1.2v1.2h-1.2zM276.7 369.9h1.2v1.2h-1.2zM256.6 384.7h1.2v1.2h-1.2zM333.1 296.9h1.2v1.2h-1.2zM328.2 311.7h1.2v1.2h-1.2zM295.5 336.8h1.2v1.2h-1.2zM324.8 308.8h1.2v1.2h-1.2zM281.6 365.4h1.2v1.2h-1.2zM317.8 315.1h1.2v1.2h-1.2zM292.7 349.1h1.2v1.2h-1.2zM311.1 317.0h1.2v1.2h-1.2zM285.5 330.6h1.2v1.2h-1.2zM313.3 322.3h1.2v1.2h-1.2zM288.4 334.5h1.2v1.2h-1.2zM292.1 334.0h1.2v1.2h-1.2zM290.5 353.0h1.2v1.2h-1.2zM294.5 341.3h1.2v1.2h-1.2zM283.5 326.1h1.2v1.2h-1.2zM296.8 335.4h1.2v1.2h-1.2zM299.1 318.4h1.2v1.2h-1.2zM286.6 325.8h1.2v1.2h-1.2zM288.8 325.2h1.2v1.2h-1.2zM306.0 324.3h1.2v1.2h-1.2zM289.8 326.6h1.2v1.2h-1.2zM305.4 325.7h1.2v1.2h-1.2zM305.3 317.1h1.2v1.2h-1.2zM287.6 330.5h1.2v1.2h-1.2zM324.8 301.7h1.2v1.2h-1.2zM291.1 336.1h1.2v1.2h-1.2zM284.9 333.1h1.2v1.2h-1.2zM293.0 323.8h1.2v1.2h-1.2zM288.8 339.1h1.2v1.2h-1.2zM285.7 333.4h1.2v1.2h-1.2zM251.1 395.6h1.2v1.2h-1.2zM250.7 395.4h1.2v1.2h-1.2zM265.9 373.8h1.2v1.2h-1.2zM271.2 374.1h1.2v1.2h-1.2zM282.6 395.0h1.2v1.2h-1.2zM276.8 408.4h1.2v1.2h-1.2zM277.3 400.5h1.2v1.2h-1.2zM251.7 388.7h1.2v1.2h-1.2zM263.2 409.8h1.2v1.2h-1.2zM256.8 403.2h1.2v1.2h-1.2zM288.6 396.7h1.2v1.2h-1.2zM279.8 398.7h1.2v1.2h-1.2zM276.3 372.6h1.2v1.2h-1.2zM293.1 348.1h1.2v1.2h-1.2zM339.5 294.2h1.2v1.2h-1.2zM304.6 305.8h1.2v1.2h-1.2zM276.7 364.5h1.2v1.2h-1.2zM284.9 348.9h1.2v1.2h-1.2zM286.1 354.2h1.2v1.2h-1.2zM319.0 312.6h1.2v1.2h-1.2zM290.2 338.7h1.2v1.2h-1.2zM282.2 394.2h1.2v1.2h-1.2zM294.8 342.1h1.2v1.2h-1.2zM330.0 300.1h1.2v1.2h-1.2zM338.8 295.6h1.2v1.2h-1.2zM319.4 316.3h1.2v1.2h-1.2zM284.9 336.3h1.2v1.2h-1.2zM290.4 324.0h1.2v1.2h-1.2zM256.4 393.4h1.2v1.2h-1.2zM259.4 406.0h1.2v1.2h-1.2zM319.8 310.9h1.2v1.2h-1.2zM327.4 312.4h1.2v1.2h-1.2zM254.6 376.9h1.2v1.2h-1.2zM254.2 400.8h1.2v1.2h-1.2zM255.2 390.9h1.2v1.2h-1.2zM296.1 345.5h1.2v1.2h-1.2zM286.7 324.4h1.2v1.2h-1.2zM271.6 379.6h1.2v1.2h-1.2zM276.6 370.8h1.2v1.2h-1.2zM324.8 320.4h1.2v1.2h-1.2zM260.6 402.3h1.2v1.2h-1.2zM276.9 346.3h1.2v1.2h-1.2zM264.7 379.0h1.2v1.2h-1.2zM258.1 384.8h1.2v1.2h-1.2zM274.2 377.4h1.2v1.2h-1.2zM244.2 393.8h1.2v1.2h-1.2zM285.0 329.0h1.2v1.2h-1.2zM288.0 334.7h1.2v1.2h-1.2zM286.0 315.1h1.2v1.2h-1.2zM291.1 331.8h1.2v1.2h-1.2zM332.3 309.0h1.2v1.2h-1.2zM288.2 337.7h1.2v1.2h-1.2zM310.2 317.7h1.2v1.2h-1.2zM298.5 321.2h1.2v1.2h-1.2zM277.0 366.2h1.2v1.2h-1.2zM311.4 323.1h1.2v1.2h-1.2zM275.4 406.4h1.2v1.2h-1.2zM266.6 373.4h1.2v1.2h-1.2zM271.3 407.0h1.2v1.2h-1.2zM279.3 403.3h1.2v1.2h-1.2zM268.0 409.6h1.2v1.2h-1.2zM279.1 409.7h1.2v1.2h-1.2zM279.4 399.0h1.2v1.2h-1.2zM270.7 408.3h1.2v1.2h-1.2zM261.2 376.7h1.2v1.2h-1.2zM284.0 408.5h1.2v1.2h-1.2zM267.6 379.8h1.2v1.2h-1.2zM255.2 402.8h1.2v1.2h-1.2zM258.5 406.9h1.2v1.2h-1.2zM295.7 341.1h1.2v1.2h-1.2zM295.5 345.8h1.2v1.2h-1.2zM266.2 379.2h1.2v1.2h-1.2zM288.7 347.5h1.2v1.2h-1.2zM268.8 375.7h1.2v1.2h-1.2zM324.6 306.1h1.2v1.2h-1.2zM274.5 363.8h1.2v1.2h-1.2zM319.1 317.7h1.2v1.2h-1.2zM259.5 407.7h1.2v1.2h-1.2zM287.4 388.5h1.2v1.2h-1.2zM258.6 380.0h1.2v1.2h-1.2zM286.5 392.2h1.2v1.2h-1.2zM273.1 406.8h1.2v1.2h-1.2zM259.2 400.5h1.2v1.2h-1.2zM269.4 377.4h1.2v1.2h-1.2zM261.6 379.2h1.2v1.2h-1.2zM257.0 409.8h1.2v1.2h-1.2zM291.7 381.1h1.2v1.2h-1.2zM263.8 380.9h1.2v1.2h-1.2zM255.4 398.7h1.2v1.2h-1.2zM274.6 404.4h1.2v1.2h-1.2zM258.1 382.3h1.2v1.2h-1.2zM286.1 402.3h1.2v1.2h-1.2zM322.6 309.4h1.2v1.2h-1.2zM257.5 402.4h1.2v1.2h-1.2zM275.5 371.9h1.2v1.2h-1.2zM254.0 392.0h1.2v1.2h-1.2zM312.1 317.3h1.2v1.2h-1.2zM315.3 314.0h1.2v1.2h-1.2zM262.8 368.3h1.2v1.2h-1.2zM264.3 369.6h1.2v1.2h-1.2zM262.5 377.6h1.2v1.2h-1.2zM274.0 364.5h1.2v1.2h-1.2zM258.5 382.2h1.2v1.2h-1.2zM289.4 400.4h1.2v1.2h-1.2zM257.3 381.9h1.2v1.2h-1.2zM252.4 402.8h1.2v1.2h-1.2zM313.6 319.7h1.2v1.2h-1.2zM270.9 357.6h1.2v1.2h-1.2zM268.1 347.4h1.2v1.2h-1.2zM273.2 351.6h1.2v1.2h-1.2zM251.3 400.9h1.2v1.2h-1.2zM297.6 319.2h1.2v1.2h-1.2zM304.8 330.1h1.2v1.2h-1.2zM285.1 361.4h1.2v1.2h-1.2zM275.8 374.8h1.2v1.2h-1.2zM311.2 317.9h1.2v1.2h-1.2zM339.9 265.3h1.2v1.2h-1.2zM325.4 303.4h1.2v1.2h-1.2zM305.7 320.4h1.2v1.2h-1.2zM327.6 312.0h1.2v1.2h-1.2zM317.1 316.6h1.2v1.2h-1.2zM319.9 314.2h1.2v1.2h-1.2zM265.1 380.9h1.2v1.2h-1.2zM311.7 319.1h1.2v1.2h-1.2zM276.3 375.8h1.2v1.2h-1.2zM256.6 406.0h1.2v1.2h-1.2zM340.1 283.6h1.2v1.2h-1.2zM319.4 309.4h1.2v1.2h-1.2zM340.2 273.6h1.2v1.2h-1.2zM288.0 359.4h1.2v1.2h-1.2zM339.8 286.4h1.2v1.2h-1.2zM340.2 284.1h1.2v1.2h-1.2zM340.5 279.8h1.2v1.2h-1.2zM340.2 283.6h1.2v1.2h-1.2zM321.1 312.2h1.2v1.2h-1.2zM328.4 301.0h1.2v1.2h-1.2zM340.2 273.9h1.2v1.2h-1.2zM340.5 279.5h1.2v1.2h-1.2zM340.2 289.3h1.2v1.2h-1.2z" fill="#3232d7" fill-opacity="0.70"/>
<path d="M277.8 377.6h1.2v1.2h-1.2zM265.3 382.8h1.2v1.2h-1.2zM339.7 265.8h1.2v1.2h-1.2zM340.3 270.2h1.2v1.2h-1.2zM340.2 268.4h1.2v1.2h-1.2zM258.4 389.6h1.2v1.2h-1.2zM268.7 407.1h1.2v1.2h-1.2zM319.7 324.8h1.2v1.2h-1.2zM264.9 408.3h1.2v1.2h-1.2zM329.3 306.1h1.2v1.2h-1.2zM314.7 325.7h1.2v1.2h-1.2zM340.2 269.4h1.2v1.2h-1.2zM298.7 328.8h1.2v1.2h-1.2zM295.0 333.2h1.2v1.2h-1.2zM307.9 325.4h1.2v1.2h-1.2zM314.4 324.9h1.2v1.2h-1.2zM293.1 354.9h1.2v1.2h-1.2zM297.2 346.1h1.2v1.2h-1.2zM340.2 269.5h1.2v1.2h-1.2zM329.5 304.4h1.2v1.2h-1.2zM294.4 331.7h1.2v1.2h-1.2zM337.2 294.3h1.2v1.2h-1.2zM329.8 308.9h1.2v1.2h-1.2zM256.5 387.9h1.2v1.2h-1.2zM262.5 397.4h1.2v1.2h-1.2zM256.3 388.8h1.2v1.2h-1.2zM337.8 291.2h1.2v1.2h-1.2zM265.3 408.4h1.2v1.2h-1.2zM336.4 295.3h1.2v1.2h-1.2zM285.1 364.2h1.2v1.2h-1.2zM270.5 404.9h1.2v1.2h-1.2zM327.8 308.3h1.2v1.2h-1.2zM281.6 365.5h1.2v1.2h-1.2zM262.4 407.0h1.2v1.2h-1.2zM333.8 301.1h1.2v1.2h-1.2zM264.6 407.1h1.2v1.2h-1.2zM333.2 299.6h1.2v1.2h-1.2zM312.5 324.6h1.2v1.2h-1.2zM258.1 395.4h1.2v1.2h-1.2zM282.1 370.4h1.2v1.2h-1.2zM280.7 373.3h1.2v1.2h-1.2zM280.9 375.1h1.2v1.2h-1.2zM268.2 405.9h1.2v1.2h-1.2zM295.8 351.5h1.2v1.2h-1.2zM266.5 405.9h1.2v1.2h-1.2zM277.6 387.3h1.2v1.2h-1.2zM299.3 337.0h1.2v1.2h-1.2zM311.5 326.2h1.2v1.2h-1.2zM300.5 332.1h1.2v1.2h-1.2zM278.4 370.3h1.2v1.2h-1.2zM312.5 324.1h1.2v1.2h-1.2zM280.8 367.3h1.2v1.2h-1.2zM290.8 354.0h1.2v1.2h-1.2zM315.0 322.3h1.2v1.2h-1.2zM257.0 387.7h1.2v1.2h-1.2zM283.1 373.7h1.2v1.2h-1.2zM288.2 333.1h1.2v1.2h-1.2zM300.1 343.5h1.2v1.2h-1.2zM293.0 354.9h1.2v1.2h-1.2zM299.3 322.2h1.2v1.2h-1.2zM309.3 324.1h1.2v1.2h-1.2zM327.0 309.3h1.2v1.2h-1.2zM289.3 360.1h1.2v1.2h-1.2zM329.4 302.7h1.2v1.2h-1.2zM298.8 324.0h1.2v1.2h-1.2zM336.8 292.8h1.2v1.2h-1.2zM300.5 340.2h1.2v1.2h-1.2zM262.8 397.0h1.2v1.2h-1.2zM319.0 325.8h1.2v1.2h-1.2zM285.2 364.1h1.2v1.2h-1.2zM299.0 344.3h1.2v1.2h-1.2zM315.6 321.7h1.2v1.2h-1.2zM335.1 296.2h1.2v1.2h-1.2zM336.7 293.9h1.2v1.2h-1.2zM269.9 382.1h1.2v1.2h-1.2zM281.6 393.0h1.2v1.2h-1.2zM264.4 399.0h1.2v1.2h-1.2zM274.4 386.9h1.2v1.2h-1.2zM265.9 398.1h1.2v1.2h-1.2zM275.0 388.9h1.2v1.2h-1.2zM275.8 383.8h1.2v1.2h-1.2zM263.7 409.0h1.2v1.2h-1.2zM265.8 395.0h1.2v1.2h-1.2zM276.8 388.4h1.2v1.2h-1.2zM269.5 380.8h1.2v1.2h-1.2zM261.9 390.3h1.2v1.2h-1.2zM265.3 398.1h1.2v1.2h-1.2zM336.3 297.6h1.2v1.2h-1.2zM307.1 337.1h1.2v1.2h-1.2zM260.1 393.2h1.2v1.2h-1.2zM277.3 379.9h1.2v1.2h-1.2zM296.1 353.4h1.2v1.2h-1.2zM263.6 400.5h1.2v1.2h-1.2zM295.9 349.2h1.2v1.2h-1.2zM280.3 374.5h1.2v1.2h-1.2zM300.7 337.4h1.2v1.2h-1.2zM258.6 396.5h1.2v1.2h-1.2zM263.0 403.6h1.2v1.2h-1.2zM264.9 394.5h1.2v1.2h-1.2zM331.8 300.4h1.2v1.2h-1.2zM267.7 407.0h1.2v1.2h-1.2zM293.1 354.8h1.2v1.2h-1.2zM265.2 391.0h1.2v1.2h-1.2zM265.5 384.2h1.2v1.2h-1.2zM265.4 389.6h1.2v1.2h-1.2zM260.2 386.0h1.2v1.2h-1.2zM259.8 386.9h1.2v1.2h-1.2zM263.1 405.3h1.2v1.2h-1.2zM303.8 334.7h1.2v1.2h-1.2zM262.4 399.5h1.2v1.2h-1.2zM262.8 386.6h1.2v1.2h-1.2zM261.5 385.8h1.2v1.2h-1.2zM261.5 398.0h1.2v1.2h-1.2zM272.4 389.7h1.2v1.2h-1.2zM261.2 403.2h1.2v1.2h-1.2zM263.1 393.6h1.2v1.2h-1.2zM282.5 392.1h1.2v1.2h-1.2zM330.5 304.3h1.2v1.2h-1.2zM274.3 402.1h1.2v1.2h-1.2zM304.5 332.4h1.2v1.2h-1.2zM292.9 352.5h1.2v1.2h-1.2zM270.6 404.5h1.2v1.2h-1.2zM322.7 312.7h1.2v1.2h-1.2zM261.3 392.1h1.2v1.2h-1.2zM281.8 371.0h1.2v1.2h-1.2zM265.0 392.4h1.2v1.2h-1.2zM316.2 332.2h1.2v1.2h-1.2zM310.6 329.3h1.2v1.2h-1.2zM263.9 384.8h1.2v1.2h-1.2zM298.0 340.9h1.2v1.2h-1.2zM307.7 328.2h1.2v1.2h-1.2zM284.0 366.6h1.2v1.2h-1.2zM296.4 332.1h1.2v1.2h-1.2zM305.8 339.1h1.2v1.2h-1.2zM269.5 381.6h1.2v1.2h-1.2zM265.0 408.9h1.2v1.2h-1.2zM260.8 407.7h1.2v1.2h-1.2zM272.8 387.2h1.2v1.2h-1.2zM328.5 306.5h1.2v1.2h-1.2zM331.2 306.1h1.2v1.2h-1.2zM310.1 326.0h1.2v1.2h-1.2zM286.4 362.2h1.2v1.2h-1.2zM332.2 302.4h1.2v1.2h-1.2zM283.4 376.2h1.2v1.2h-1.2zM265.3 395.4h1.2v1.2h-1.2zM261.2 394.0h1.2v1.2h-1.2zM275.2 389.3h1.2v1.2h-1.2zM259.9 389.8h1.2v1.2h-1.2zM309.1 324.3h1.2v1.2h-1.2zM327.8 306.7h1.2v1.2h-1.2zM279.4 371.5h1.2v1.2h-1.2zM307.2 336.3h1.2v1.2h-1.2zM325.6 314.7h1.2v1.2h-1.2zM283.8 366.7h1.2v1.2h-1.2zM296.6 338.5h1.2v1.2h-1.2zM261.4 404.2h1.2v1.2h-1.2zM302.6 333.9h1.2v1.2h-1.2zM331.9 304.9h1.2v1.2h-1.2zM336.9 295.1h1.2v1.2h-1.2zM331.9 305.5h1.2v1.2h-1.2zM279.1 377.3h1.2v1.2h-1.2zM336.4 293.6h1.2v1.2h-1.2zM336.0 295.8h1.2v1.2h-1.2zM333.1 303.2h1.2v1.2h-1.2zM302.3 334.8h1.2v1.2h-1.2zM280.4 370.9h1.2v1.2h-1.2zM282.9 365.9h1.2v1.2h-1.2zM321.7 316.0h1.2v1.2h-1.2zM278.5 383.7h1.2v1.2h-1.2zM305.3 332.0h1.2v1.2h-1.2zM296.2 349.8h1.2v1.2h-1.2zM260.3 407.5h1.2v1.2h-1.2zM326.5 306.9h1.2v1.2h-1.2zM291.3 352.4h1.2v1.2h-1.2zM258.5 392.0h1.2v1.2h-1.2zM331.5 300.9h1.2v1.2h-1.2zM330.3 308.4h1.2v1.2h-1.2zM274.5 385.9h1.2v1.2h-1.2zM276.8 380.6h1.2v1.2h-1.2zM299.0 323.5h1.2v1.2h-1.2zM299.7 329.0h1.2v1.2h-1.2zM299.8 333.2h1.2v1.2h-1.2zM332.6 303.3h1.2v1.2h-1.2zM298.3 344.6h1.2v1.2h-1.2zM316.7 320.6h1.2v1.2h-1.2zM317.0 322.2h1.2v1.2h-1.2zM333.0 303.5h1.2v1.2h-1.2zM273.8 387.1h1.2v1.2h-1.2zM300.0 343.8h1.2v1.2h-1.2zM266.5 382.4h1.2v1.2h-1.2zM297.6 338.5h1.2v1.2h-1.2zM331.9 305.8h1.2v1.2h-1.2zM296.1 351.1h1.2v1.2h-1.2zM321.4 313.9h1.2v1.2h-1.2zM272.2 403.5h1.2v1.2h-1.2zM258.0 387.3h1.2v1.2h-1.2zM309.6 325.8h1.2v1.2h-1.2zM307.5 326.8h1.2v1.2h-1.2zM279.0 385.0h1.2v1.2h-1.2zM294.8 333.7h1.2v1.2h-1.2zM318.8 319.6h1.2v1.2h-1.2zM265.6 396.7h1.2v1.2h-1.2zM282.8 391.2h1.2v1.2h-1.2zM282.3 391.0h1.2v1.2h-1.2zM283.2 364.0h1.2v1.2h-1.2zM333.4 298.0h1.2v1.2h-1.2zM263.9 401.0h1.2v1.2h-1.2zM258.3 394.1h1.2v1.2h-1.2zM264.4 392.1h1.2v1.2h-1.2zM261.3 392.4h1.2v1.2h-1.2zM262.1 387.8h1.2v1.2h-1.2zM276.9 386.8h1.2v1.2h-1.2zM256.9 388.5h1.2v1.2h-1.2zM295.0 324.3h1.2v1.2h-1.2zM308.1 331.2h1.2v1.2h-1.2zM294.7 332.4h1.2v1.2h-1.2zM317.0 322.0h1.2v1.2h-1.2zM259.3 395.7h1.2v1.2h-1.2zM292.9 332.9h1.2v1.2h-1.2zM293.5 329.6h1.2v1.2h-1.2zM294.3 334.9h1.2v1.2h-1.2zM288.9 333.9h1.2v1.2h-1.2zM299.0 326.0h1.2v1.2h-1.2zM305.6 334.9h1.2v1.2h-1.2zM300.1 329.5h1.2v1.2h-1.2zM296.2 330.4h1.2v1.2h-1.2zM299.5 330.4h1.2v1.2h-1.2zM296.2 325.3h1.2v1.2h-1.2zM302.5 324.4h1.2v1.2h-1.2zM262.5 391.8h1.2v1.2h-1.2zM281.1 367.8h1.2v1.2h-1.2zM295.4 353.0h1.2v1.2h-1.2zM325.2 310.9h1.2v1.2h-1.2zM325.0 313.9h1.2v1.2h-1.2zM303.4 326.4h1.2v1.2h-1.2zM292.6 326.9h1.2v1.2h-1.2zM300.2 332.1h1.2v1.2h-1.2zM303.1 324.4h1.2v1.2h-1.2zM312.1 327.1h1.2v1.2h-1.2zM323.0 314.5h1.2v1.2h-1.2zM334.5 296.6h1.2v1.2h-1.2zM298.0 330.8h1.2v1.2h-1.2zM268.0 406.5h1.2v1.2h-1.2zM325.6 315.8h1.2v1.2h-1.2zM299.3 344.9h1.2v1.2h-1.2zM265.0 408.1h1.2v1.2h-1.2zM337.3 295.4h1.2v1.2h-1.2zM264.4 382.8h1.2v1.2h-1.2zM261.2 386.4h1.2v1.2h-1.2zM338.4 289.4h1.2v1.2h-1.2zM263.5 387.6h1.2v1.2h-1.2zM259.3 395.9h1.2v1.2h-1.2zM284.1 372.8h1.2v1.2h-1.2zM304.9 339.3h1.2v1.2h-1.2zM329.3 308.5h1.2v1.2h-1.2zM265.0 408.5h1.2v1.2h-1.2zM257.8 387.8h1.2v1.2h-1.2zM332.1 303.7h1.2v1.2h-1.2zM328.9 309.3h1.2v1.2h-1.2zM311.1 327.7h1.2v1.2h-1.2zM279.1 383.8h1.2v1.2h-1.2zM275.8 382.5h1.2v1.2h-1.2zM290.2 357.0h1.2v1.2h-1.2zM296.3 339.7h1.2v1.2h-1.2zM275.6 380.7h1.2v1.2h-1.2zM331.4 305.2h1.2v1.2h-1.2zM259.3 396.6h1.2v1.2h-1.2zM264.0 387.0h1.2v1.2h-1.2zM339.9 290.9h1.2v1.2h-1.2zM295.9 352.7h1.2v1.2h-1.2zM257.7 387.7h1.2v1.2h-1.2zM269.2 382.4h1.2v1.2h-1.2zM320.3 314.1h1.2v1.2h-1.2zM303.2 335.8h1.2v1.2h-1.2zM299.3 345.2h1.2v1.2h-1.2zM326.4 315.4h1.2v1.2h-1.2zM301.4 324.1h1.2v1.2h-1.2zM301.6 335.8h1.2v1.2h-1.2zM306.9 333.5h1.2v1.2h-1.2zM302.6 328.8h1.2v1.2h-1.2zM307.2 337.8h1.2v1.2h-1.2zM298.1 331.6h1.2v1.2h-1.2zM300.5 331.8h1.2v1.2h-1.2zM295.6 331.0h1.2v1.2h-1.2zM302.8 332.2h1.2v1.2h-1.2zM295.5 330.1h1.2v1.2h-1.2zM293.7 332.9h1.2v1.2h-1.2zM287.7 334.1h1.2v1.2h-1.2zM301.9 335.4h1.2v1.2h-1.2zM266.8 405.4h1.2v1.2h-1.2zM278.7 375.7h1.2v1.2h-1.2zM318.8 319.3h1.2v1.2h-1.2zM314.1 324.6h1.2v1.2h-1.2zM338.1 293.2h1.2v1.2h-1.2zM334.2 300.5h1.2v1.2h-1.2zM258.1 393.5h1.2v1.2h-1.2zM301.2 328.5h1.2v1.2h-1.2zM311.2 326.3h1.2v1.2h-1.2zM299.7 334.8h1.2v1.2h-1.2zM293.7 332.6h1.2v1.2h-1.2zM306.5 325.1h1.2v1.2h-1.2zM302.4 337.5h1.2v1.2h-1.2zM308.3 327.3h1.2v1.2h-1.2zM281.2 371.4h1.2v1.2h-1.2zM261.8 388.4h1.2v1.2h-1.2zM325.3 314.8h1.2v1.2h-1.2zM278.7 369.8h1.2v1.2h-1.2zM261.5 392.9h1.2v1.2h-1.2zM338.7 292.0h1.2v1.2h-1.2zM301.5 324.3h1.2v1.2h-1.2zM301.3 330.3h1.2v1.2h-1.2zM300.2 324.6h1.2v1.2h-1.2zM280.4 375.3h1.2v1.2h-1.2zM328.6 309.5h1.2v1.2h-1.2zM295.2 353.7h1.2v1.2h-1.2zM280.7 367.7h1.2v1.2h-1.2zM265.1 408.9h1.2v1.2h-1.2zM257.3 388.5h1.2v1.2h-1.2zM280.9 376.0h1.2v1.2h-1.2zM314.9 325.2h1.2v1.2h-1.2zM279.1 376.3h1.2v1.2h-1.2zM312.4 327.0h1.2v1.2h-1.2zM323.7 311.0h1.2v1.2h-1.2zM294.9 350.9h1.2v1.2h-1.2zM296.9 347.7h1.2v1.2h-1.2zM336.5 291.6h1.2v1.2h-1.2zM284.8 364.1h1.2v1.2h-1.2zM259.9 396.8h1.2v1.2h-1.2zM278.0 384.1h1.2v1.2h-1.2zM263.3 392.3h1.2v1.2h-1.2zM276.0 400.4h1.2v1.2h-1.2zM262.7 396.8h1.2v1.2h-1.2zM262.8 393.3h1.2v1.2h-1.2zM340.0 290.3h1.2v1.2h-1.2zM258.9 393.0h1.2v1.2h-1.2zM259.2 395.8h1.2v1.2h-1.2zM263.8 386.5h1.2v1.2h-1.2zM264.0 394.9h1.2v1.2h-1.2zM258.1 396.5h1.2v1.2h-1.2zM277.0 399.9h1.2v1.2h-1.2zM295.0 325.6h1.2v1.2h-1.2zM296.8 323.6h1.2v1.2h-1.2zM295.6 330.6h1.2v1.2h-1.2zM298.7 337.8h1.2v1.2h-1.2zM299.9 333.0h1.2v1.2h-1.2zM299.9 321.8h1.2v1.2h-1.2zM303.3 333.0h1.2v1.2h-1.2zM312.7 323.5h1.2v1.2h-1.2zM308.0 323.7h1.2v1.2h-1.2zM294.1 325.4h1.2v1.2h-1.2zM302.3 330.7h1.2v1.2h-1.2zM296.9 330.1h1.2v1.2h-1.2zM293.9 329.6h1.2v1.2h-1.2zM294.0 324.2h1.2v1.2h-1.2zM316.8 324.7h1.2v1.2h-1.2zM260.5 403.6h1.2v1.2h-1.2zM301.1 332.8h1.2v1.2h-1.2zM298.8 342.1h1.2v1.2h-1.2zM305.8 333.8h1.2v1.2h-1.2zM306.2 332.9h1.2v1.2h-1.2zM294.3 328.2h1.2v1.2h-1.2zM302.8 336.2h1.2v1.2h-1.2zM293.5 329.2h1.2v1.2h-1.2zM316.8 319.5h1.2v1.2h-1.2zM303.4 328.0h1.2v1.2h-1.2zM309.7 327.1h1.2v1.2h-1.2zM298.2 328.2h1.2v1.2h-1.2zM296.4 330.2h1.2v1.2h-1.2zM299.5 332.4h1.2v1.2h-1.2zM293.1 352.1h1.2v1.2h-1.2zM323.6 319.6h1.2v1.2h-1.2zM299.1 326.0h1.2v1.2h-1.2zM279.2 369.4h1.2v1.2h-1.2zM274.6 384.6h1.2v1.2h-1.2zM261.6 407.7h1.2v1.2h-1.2zM322.7 314.5h1.2v1.2h-1.2zM264.7 384.9h1.2v1.2h-1.2zM264.3 388.2h1.2v1.2h-1.2zM336.5 297.9h1.2v1.2h-1.2zM294.4 349.1h1.2v1.2h-1.2zM291.8 354.3h1.2v1.2h-1.2zM297.6 348.2h1.2v1.2h-1.2zM282.2 369.5h1.2v1.2h-1.2zM331.6 301.3h1.2v1.2h-1.2zM325.8 313.9h1.2v1.2h-1.2zM265.9 409.0h1.2v1.2h-1.2zM298.8 340.7h1.2v1.2h-1.2zM274.3 382.3h1.2v1.2h-1.2zM300.2 338.8h1.2v1.2h-1.2zM339.2 291.9h1.2v1.2h-1.2zM259.9 390.7h1.2v1.2h-1.2zM309.8 327.5h1.2v1.2h-1.2zM278.5 373.8h1.2v1.2h-1.2zM323.4 310.8h1.2v1.2h-1.2zM265.1 391.5h1.2v1.2h-1.2zM283.8 364.1h1.2v1.2h-1.2zM263.6 408.2h1.2v1.2h-1.2zM322.1 316.8h1.2v1.2h-1.2zM264.8 406.3h1.2v1.2h-1.2zM333.3 302.4h1.2v1.2h-1.2zM262.9 403.0h1.2v1.2h-1.2zM339.6 265.5h1.2v1.2h-1.2zM262.0 404.5h1.2v1.2h-1.2zM281.1 395.8h1.2v1.2h-1.2zM265.8 395.3h1.2v1.2h-1.2zM340.1 269.4h1.2v1.2h-1.2zM340.4 267.8h1.2v1.2h-1.2zM272.5 388.1h1.2v1.2h-1.2zM258.2 386.8h1.2v1.2h-1.2zM340.2 266.6h1.2v1.2h-1.2zM280.8 367.0h1.2v1.2h-1.2zM340.2 269.6h1.2v1.2h-1.2zM340.2 266.3h1.2v1.2h-1.2zM329.8 303.4h1.2v1.2h-1.2z" fill="#2c30da" fill-opacity="0.75"/>
<path d="M280.6 377.7h1.2v1.2h-1.2zM297.2 326.5h1.2v1.2h-1.2zM300.5 328.0h1.2v1.2h-1.2zM297.1 326.7h1.2v1.2h-1.2zM303.0 339.8h1.2v1.2h-1.2zM323.5 315.9h1.2v1.2h-1.2zM333.7 300.0h1.2v1.2h-1.2zM278.3 395.5h1.2v1.2h-1.2zM295.7 326.0h1.2v1.2h-1.2zM299.2 325.5h1.2v1.2h-1.2zM300.9 327.8h1.2v1.2h-1.2zM296.3 327.4h1.2v1.2h-1.2zM308.6 331.6h1.2v1.2h-1.2zM335.2 299.1h1.2v1.2h-1.2zM292.4 359.0h1.2v1.2h-1.2zM267.3 396.2h1.2v1.2h-1.2zM334.9 299.0h1.2v1.2h-1.2zM286.1 365.1h1.2v1.2h-1.2zM274.2 384.4h1.2v1.2h-1.2zM315.8 328.9h1.2v1.2h-1.2zM308.4 334.8h1.2v1.2h-1.2zM295.0 327.1h1.2v1.2h-1.2zM303.1 344.6h1.2v1.2h-1.2zM292.8 357.8h1.2v1.2h-1.2zM272.0 402.9h1.2v1.2h-1.2zM270.1 392.6h1.2v1.2h-1.2zM278.8 380.8h1.2v1.2h-1.2zM268.0 395.7h1.2v1.2h-1.2zM267.6 390.3h1.2v1.2h-1.2zM272.0 390.7h1.2v1.2h-1.2zM276.7 397.4h1.2v1.2h-1.2zM292.2 356.9h1.2v1.2h-1.2zM301.8 337.5h1.2v1.2h-1.2zM317.6 326.5h1.2v1.2h-1.2zM335.7 297.8h1.2v1.2h-1.2zM269.3 392.8h1.2v1.2h-1.2zM269.7 394.6h1.2v1.2h-1.2zM268.2 383.6h1.2v1.2h-1.2zM324.5 316.1h1.2v1.2h-1.2zM269.8 392.0h1.2v1.2h-1.2zM270.8 389.8h1.2v1.2h-1.2zM265.4 399.5h1.2v1.2h-1.2zM271.7 390.3h1.2v1.2h-1.2zM301.9 341.3h1.2v1.2h-1.2zM263.2 403.1h1.2v1.2h-1.2zM323.1 317.5h1.2v1.2h-1.2zM285.1 374.8h1.2v1.2h-1.2zM319.6 323.7h1.2v1.2h-1.2zM335.1 299.5h1.2v1.2h-1.2zM302.7 339.1h1.2v1.2h-1.2zM269.9 396.2h1.2v1.2h-1.2zM269.1 396.5h1.2v1.2h-1.2zM301.8 346.0h1.2v1.2h-1.2zM292.5 359.4h1.2v1.2h-1.2zM318.0 325.9h1.2v1.2h-1.2zM271.1 385.3h1.2v1.2h-1.2zM270.4 395.9h1.2v1.2h-1.2zM266.2 392.2h1.2v1.2h-1.2zM288.2 362.9h1.2v1.2h-1.2zM270.0 388.0h1.2v1.2h-1.2zM301.0 327.1h1.2v1.2h-1.2zM294.7 326.5h1.2v1.2h-1.2zM308.5 331.3h1.2v1.2h-1.2zM309.0 331.5h1.2v1.2h-1.2zM268.6 389.5h1.2v1.2h-1.2zM299.8 346.7h1.2v1.2h-1.2zM271.9 382.7h1.2v1.2h-1.2zM297.0 350.4h1.2v1.2h-1.2zM300.9 346.9h1.2v1.2h-1.2zM284.2 372.7h1.2v1.2h-1.2zM269.9 388.7h1.2v1.2h-1.2zM307.3 331.9h1.2v1.2h-1.2zM268.2 387.8h1.2v1.2h-1.2zM269.2 385.7h1.2v1.2h-1.2zM265.3 401.8h1.2v1.2h-1.2zM268.0 385.4h1.2v1.2h-1.2zM299.4 327.9h1.2v1.2h-1.2zM271.5 392.7h1.2v1.2h-1.2zM264.1 403.5h1.2v1.2h-1.2zM285.4 385.5h1.2v1.2h-1.2zM300.3 343.9h1.2v1.2h-1.2zM270.3 389.8h1.2v1.2h-1.2zM271.3 386.2h1.2v1.2h-1.2zM317.6 320.5h1.2v1.2h-1.2zM301.0 326.5h1.2v1.2h-1.2zM309.0 345.9h1.2v1.2h-1.2zM296.2 326.5h1.2v1.2h-1.2zM278.9 382.2h1.2v1.2h-1.2zM272.1 390.5h1.2v1.2h-1.2zM286.4 364.6h1.2v1.2h-1.2zM267.5 385.3h1.2v1.2h-1.2zM267.7 392.0h1.2v1.2h-1.2zM276.2 398.9h1.2v1.2h-1.2zM268.0 389.8h1.2v1.2h-1.2zM265.2 399.2h1.2v1.2h-1.2zM272.9 383.1h1.2v1.2h-1.2zM301.0 325.5h1.2v1.2h-1.2zM301.9 338.3h1.2v1.2h-1.2zM308.2 330.6h1.2v1.2h-1.2zM336.0 297.6h1.2v1.2h-1.2zM268.7 394.3h1.2v1.2h-1.2zM265.2 384.8h1.2v1.2h-1.2zM279.5 379.0h1.2v1.2h-1.2zM307.8 333.1h1.2v1.2h-1.2zM302.5 339.9h1.2v1.2h-1.2zM316.9 325.5h1.2v1.2h-1.2zM261.7 396.3h1.2v1.2h-1.2zM308.4 330.4h1.2v1.2h-1.2zM301.5 341.1h1.2v1.2h-1.2zM316.1 328.3h1.2v1.2h-1.2zM317.3 325.8h1.2v1.2h-1.2zM272.0 403.7h1.2v1.2h-1.2zM279.3 383.6h1.2v1.2h-1.2zM316.5 326.4h1.2v1.2h-1.2zM280.0 380.6h1.2v1.2h-1.2zM283.6 369.8h1.2v1.2h-1.2zM316.4 328.8h1.2v1.2h-1.2zM324.7 315.7h1.2v1.2h-1.2zM302.3 342.0h1.2v1.2h-1.2zM271.4 391.2h1.2v1.2h-1.2zM315.5 328.3h1.2v1.2h-1.2zM279.8 378.7h1.2v1.2h-1.2zM293.2 355.7h1.2v1.2h-1.2zM298.6 347.9h1.2v1.2h-1.2zM273.7 382.8h1.2v1.2h-1.2zM315.2 327.8h1.2v1.2h-1.2zM267.3 388.7h1.2v1.2h-1.2zM323.1 318.3h1.2v1.2h-1.2zM288.0 363.4h1.2v1.2h-1.2zM300.9 325.4h1.2v1.2h-1.2zM270.6 403.8h1.2v1.2h-1.2zM329.6 308.1h1.2v1.2h-1.2zM303.5 342.3h1.2v1.2h-1.2zM315.2 329.2h1.2v1.2h-1.2zM303.0 340.7h1.2v1.2h-1.2zM265.0 401.6h1.2v1.2h-1.2zM275.3 399.1h1.2v1.2h-1.2zM329.4 307.8h1.2v1.2h-1.2zM278.4 381.5h1.2v1.2h-1.2zM267.9 398.9h1.2v1.2h-1.2zM293.3 356.6h1.2v1.2h-1.2zM317.5 322.5h1.2v1.2h-1.2zM329.8 307.7h1.2v1.2h-1.2zM268.0 384.4h1.2v1.2h-1.2zM335.3 297.9h1.2v1.2h-1.2zM278.1 396.7h1.2v1.2h-1.2zM265.6 385.2h1.2v1.2h-1.2zM302.9 340.3h1.2v1.2h-1.2zM284.7 368.9h1.2v1.2h-1.2zM323.9 316.7h1.2v1.2h-1.2zM266.6 394.2h1.2v1.2h-1.2zM267.6 386.7h1.2v1.2h-1.2zM286.2 365.8h1.2v1.2h-1.2zM266.0 399.2h1.2v1.2h-1.2zM273.5 382.7h1.2v1.2h-1.2zM271.1 396.7h1.2v1.2h-1.2zM266.5 398.2h1.2v1.2h-1.2zM266.4 392.1h1.2v1.2h-1.2zM266.5 403.6h1.2v1.2h-1.2zM275.3 397.9h1.2v1.2h-1.2zM262.2 395.5h1.2v1.2h-1.2zM273.3 383.6h1.2v1.2h-1.2zM335.3 296.8h1.2v1.2h-1.2zM316.4 329.2h1.2v1.2h-1.2zM273.6 383.6h1.2v1.2h-1.2zM267.3 393.0h1.2v1.2h-1.2zM287.6 362.9h1.2v1.2h-1.2zM265.1 404.7h1.2v1.2h-1.2zM319.5 324.0h1.2v1.2h-1.2zM329.7 307.9h1.2v1.2h-1.2zM303.8 339.3h1.2v1.2h-1.2zM268.4 385.5h1.2v1.2h-1.2zM268.0 389.2h1.2v1.2h-1.2zM272.0 384.6h1.2v1.2h-1.2zM270.8 395.1h1.2v1.2h-1.2zM265.3 385.0h1.2v1.2h-1.2zM300.6 344.0h1.2v1.2h-1.2zM319.2 323.5h1.2v1.2h-1.2zM302.7 340.4h1.2v1.2h-1.2zM303.1 343.9h1.2v1.2h-1.2zM266.8 403.4h1.2v1.2h-1.2zM271.4 392.6h1.2v1.2h-1.2zM334.3 298.4h1.2v1.2h-1.2zM279.9 385.1h1.2v1.2h-1.2zM285.9 364.4h1.2v1.2h-1.2zM270.2 395.4h1.2v1.2h-1.2zM276.4 389.4h1.2v1.2h-1.2zM329.5 307.0h1.2v1.2h-1.2zM273.7 386.3h1.2v1.2h-1.2zM285.1 367.8h1.2v1.2h-1.2zM279.9 378.8h1.2v1.2h-1.2zM268.5 395.0h1.2v1.2h-1.2zM297.8 350.3h1.2v1.2h-1.2zM275.8 390.2h1.2v1.2h-1.2zM268.6 386.8h1.2v1.2h-1.2zM271.0 403.9h1.2v1.2h-1.2zM272.5 383.1h1.2v1.2h-1.2zM301.7 342.8h1.2v1.2h-1.2zM270.8 388.5h1.2v1.2h-1.2zM273.1 384.8h1.2v1.2h-1.2zM316.8 327.3h1.2v1.2h-1.2zM275.0 400.6h1.2v1.2h-1.2zM269.5 393.3h1.2v1.2h-1.2zM262.1 395.1h1.2v1.2h-1.2zM268.2 386.3h1.2v1.2h-1.2zM261.8 394.6h1.2v1.2h-1.2zM269.4 391.6h1.2v1.2h-1.2zM325.0 315.8h1.2v1.2h-1.2zM272.9 382.5h1.2v1.2h-1.2zM278.4 378.8h1.2v1.2h-1.2zM267.3 398.0h1.2v1.2h-1.2zM293.1 357.6h1.2v1.2h-1.2zM281.1 378.3h1.2v1.2h-1.2zM318.6 321.2h1.2v1.2h-1.2zM278.8 380.7h1.2v1.2h-1.2zM303.3 340.8h1.2v1.2h-1.2zM271.9 393.1h1.2v1.2h-1.2zM267.3 399.2h1.2v1.2h-1.2zM267.6 387.3h1.2v1.2h-1.2zM270.5 384.0h1.2v1.2h-1.2zM278.4 397.3h1.2v1.2h-1.2zM266.4 386.5h1.2v1.2h-1.2zM267.8 391.5h1.2v1.2h-1.2zM279.3 376.4h1.2v1.2h-1.2zM269.1 392.5h1.2v1.2h-1.2zM270.8 387.8h1.2v1.2h-1.2zM293.9 357.0h1.2v1.2h-1.2zM322.6 316.5h1.2v1.2h-1.2zM294.1 357.1h1.2v1.2h-1.2zM271.7 383.2h1.2v1.2h-1.2zM279.9 382.7h1.2v1.2h-1.2zM265.8 401.5h1.2v1.2h-1.2zM317.4 325.7h1.2v1.2h-1.2zM303.1 344.0h1.2v1.2h-1.2zM334.1 300.3h1.2v1.2h-1.2zM283.5 377.5h1.2v1.2h-1.2zM261.9 396.1h1.2v1.2h-1.2zM272.8 382.8h1.2v1.2h-1.2zM264.9 404.4h1.2v1.2h-1.2zM280.0 377.1h1.2v1.2h-1.2zM292.8 357.4h1.2v1.2h-1.2zM313.0 328.8h1.2v1.2h-1.2zM334.9 299.4h1.2v1.2h-1.2zM298.4 347.1h1.2v1.2h-1.2zM284.6 374.9h1.2v1.2h-1.2zM269.1 390.2h1.2v1.2h-1.2zM322.6 318.2h1.2v1.2h-1.2zM272.9 385.8h1.2v1.2h-1.2zM268.4 388.3h1.2v1.2h-1.2zM284.4 372.7h1.2v1.2h-1.2zM309.9 330.4h1.2v1.2h-1.2zM263.6 403.2h1.2v1.2h-1.2zM288.9 362.2h1.2v1.2h-1.2zM266.2 385.2h1.2v1.2h-1.2zM266.7 387.1h1.2v1.2h-1.2zM270.7 393.4h1.2v1.2h-1.2zM321.5 321.9h1.2v1.2h-1.2zM321.8 317.6h1.2v1.2h-1.2zM286.7 367.0h1.2v1.2h-1.2zM293.8 356.3h1.2v1.2h-1.2zM286.2 365.7h1.2v1.2h-1.2zM268.8 385.6h1.2v1.2h-1.2zM329.5 307.6h1.2v1.2h-1.2zM267.6 398.6h1.2v1.2h-1.2zM308.9 332.9h1.2v1.2h-1.2zM316.1 327.7h1.2v1.2h-1.2zM323.9 317.0h1.2v1.2h-1.2zM322.7 318.0h1.2v1.2h-1.2zM280.0 377.3h1.2v1.2h-1.2zM312.4 328.4h1.2v1.2h-1.2zM269.6 394.6h1.2v1.2h-1.2zM263.9 403.9h1.2v1.2h-1.2zM315.9 330.9h1.2v1.2h-1.2zM300.8 327.4h1.2v1.2h-1.2zM267.0 388.7h1.2v1.2h-1.2zM272.1 382.9h1.2v1.2h-1.2zM285.2 368.3h1.2v1.2h-1.2zM318.3 325.0h1.2v1.2h-1.2zM266.8 395.2h1.2v1.2h-1.2zM301.4 340.2h1.2v1.2h-1.2zM283.6 378.3h1.2v1.2h-1.2zM278.9 380.5h1.2v1.2h-1.2zM301.1 343.6h1.2v1.2h-1.2zM277.7 389.2h1.2v1.2h-1.2zM268.8 387.6h1.2v1.2h-1.2zM335.6 298.7h1.2v1.2h-1.2zM295.6 327.3h1.2v1.2h-1.2zM295.8 326.2h1.2v1.2h-1.2z" fill="#272dde" fill-opacity="0.80"/>
<path d="M297.7 352.3h1.2v1.2h-1.2zM288.1 367.9h1.2v1.2h-1.2zM313.8 329.3h1.2v1.2h-1.2zM314.3 328.5h1.2v1.2h-1.2zM288.6 363.6h1.2v1.2h-1.2zM321.1 320.4h1.2v1.2h-1.2zM280.9 391.4h1.2v1.2h-1.2zM285.8 373.3h1.2v1.2h-1.2zM321.5 320.6h1.2v1.2h-1.2zM289.6 362.7h1.2v1.2h-1.2zM285.8 373.7h1.2v1.2h-1.2zM297.9 350.7h1.2v1.2h-1.2zM267.9 400.9h1.2v1.2h-1.2zM288.3 366.4h1.2v1.2h-1.2zM288.8 365.6h1.2v1.2h-1.2zM285.2 374.0h1.2v1.2h-1.2zM321.8 320.7h1.2v1.2h-1.2zM322.1 319.6h1.2v1.2h-1.2zM275.2 391.9h1.2v1.2h-1.2zM271.4 401.5h1.2v1.2h-1.2zM293.3 357.7h1.2v1.2h-1.2zM284.6 371.3h1.2v1.2h-1.2zM320.0 323.2h1.2v1.2h-1.2zM288.9 381.8h1.2v1.2h-1.2zM305.0 342.4h1.2v1.2h-1.2zM266.8 402.8h1.2v1.2h-1.2zM267.3 400.5h1.2v1.2h-1.2zM321.1 319.7h1.2v1.2h-1.2zM319.7 322.7h1.2v1.2h-1.2zM299.4 348.1h1.2v1.2h-1.2zM303.4 344.3h1.2v1.2h-1.2zM287.3 365.8h1.2v1.2h-1.2zM318.3 321.8h1.2v1.2h-1.2zM321.8 320.9h1.2v1.2h-1.2zM272.8 394.6h1.2v1.2h-1.2zM267.8 404.1h1.2v1.2h-1.2zM267.8 403.5h1.2v1.2h-1.2zM281.9 379.4h1.2v1.2h-1.2zM280.5 392.2h1.2v1.2h-1.2zM291.0 362.2h1.2v1.2h-1.2zM274.4 399.3h1.2v1.2h-1.2zM274.3 391.6h1.2v1.2h-1.2zM300.6 347.7h1.2v1.2h-1.2zM290.6 361.6h1.2v1.2h-1.2zM315.1 330.0h1.2v1.2h-1.2zM270.3 398.1h1.2v1.2h-1.2zM313.6 329.1h1.2v1.2h-1.2zM321.4 320.3h1.2v1.2h-1.2zM290.8 361.9h1.2v1.2h-1.2zM294.9 358.2h1.2v1.2h-1.2zM275.9 390.5h1.2v1.2h-1.2zM269.2 398.5h1.2v1.2h-1.2zM310.2 336.2h1.2v1.2h-1.2zM281.7 379.7h1.2v1.2h-1.2zM285.5 369.1h1.2v1.2h-1.2zM311.1 332.0h1.2v1.2h-1.2zM318.9 323.2h1.2v1.2h-1.2zM274.2 401.0h1.2v1.2h-1.2zM310.5 338.4h1.2v1.2h-1.2zM271.3 395.4h1.2v1.2h-1.2zM271.6 401.9h1.2v1.2h-1.2zM272.4 401.9h1.2v1.2h-1.2zM278.4 389.1h1.2v1.2h-1.2zM310.1 333.4h1.2v1.2h-1.2zM322.2 319.6h1.2v1.2h-1.2zM291.7 360.7h1.2v1.2h-1.2zM319.4 322.6h1.2v1.2h-1.2zM280.6 380.5h1.2v1.2h-1.2zM314.0 329.2h1.2v1.2h-1.2zM278.8 395.4h1.2v1.2h-1.2zM319.6 322.1h1.2v1.2h-1.2zM298.5 348.9h1.2v1.2h-1.2zM314.7 331.7h1.2v1.2h-1.2zM321.2 320.9h1.2v1.2h-1.2zM268.0 404.4h1.2v1.2h-1.2zM269.8 399.0h1.2v1.2h-1.2zM292.0 360.5h1.2v1.2h-1.2zM280.7 379.4h1.2v1.2h-1.2zM279.3 388.9h1.2v1.2h-1.2zM296.0 357.3h1.2v1.2h-1.2zM310.9 331.1h1.2v1.2h-1.2zM308.6 337.0h1.2v1.2h-1.2zM312.6 335.3h1.2v1.2h-1.2zM280.6 380.2h1.2v1.2h-1.2zM319.8 323.2h1.2v1.2h-1.2zM310.5 331.3h1.2v1.2h-1.2zM289.0 366.1h1.2v1.2h-1.2zM272.5 394.6h1.2v1.2h-1.2zM321.4 320.7h1.2v1.2h-1.2zM304.3 342.2h1.2v1.2h-1.2zM284.7 369.4h1.2v1.2h-1.2zM304.7 342.5h1.2v1.2h-1.2zM299.1 349.2h1.2v1.2h-1.2zM314.7 332.3h1.2v1.2h-1.2zM270.0 398.8h1.2v1.2h-1.2zM272.7 383.9h1.2v1.2h-1.2zM322.0 320.7h1.2v1.2h-1.2zM310.2 335.4h1.2v1.2h-1.2zM281.8 380.3h1.2v1.2h-1.2zM312.7 335.1h1.2v1.2h-1.2zM290.4 361.9h1.2v1.2h-1.2zM304.2 341.8h1.2v1.2h-1.2zM320.8 321.3h1.2v1.2h-1.2zM288.6 365.9h1.2v1.2h-1.2zM288.8 365.3h1.2v1.2h-1.2zM319.0 322.7h1.2v1.2h-1.2zM283.1 388.7h1.2v1.2h-1.2zM296.5 355.9h1.2v1.2h-1.2zM274.6 398.5h1.2v1.2h-1.2zM281.7 378.5h1.2v1.2h-1.2zM321.8 319.7h1.2v1.2h-1.2zM267.9 403.5h1.2v1.2h-1.2zM274.7 392.4h1.2v1.2h-1.2zM279.9 388.5h1.2v1.2h-1.2zM309.5 335.0h1.2v1.2h-1.2zM269.7 403.1h1.2v1.2h-1.2zM288.1 367.9h1.2v1.2h-1.2zM272.1 401.7h1.2v1.2h-1.2zM269.6 403.3h1.2v1.2h-1.2zM320.7 321.6h1.2v1.2h-1.2zM286.8 383.8h1.2v1.2h-1.2zM321.1 321.4h1.2v1.2h-1.2zM272.5 394.1h1.2v1.2h-1.2zM315.0 330.3h1.2v1.2h-1.2zM279.6 388.9h1.2v1.2h-1.2zM306.8 339.8h1.2v1.2h-1.2zM267.8 403.8h1.2v1.2h-1.2z" fill="#212be1" fill-opacity="0.85"/>
<path d="M269.5 400.7h1.2v1.2h-1.2zM311.1 334.5h1.2v1.2h-1.2zM311.4 335.0h1.2v1.2h-1.2zM289.7 363.6h1.2v1.2h-1.2zM290.0 364.9h1.2v1.2h-1.2zM286.6 372.1h1.2v1.2h-1.2zM292.7 361.1h1.2v1.2h-1.2zM293.6 359.6h1.2v1.2h-1.2zM273.1 396.4h1.2v1.2h-1.2zM282.9 388.1h1.2v1.2h-1.2zM300.0 349.0h1.2v1.2h-1.2zM289.8 364.8h1.2v1.2h-1.2zM313.7 331.3h1.2v1.2h-1.2zM285.6 376.7h1.2v1.2h-1.2zM273.0 397.5h1.2v1.2h-1.2zM281.1 387.0h1.2v1.2h-1.2zM276.3 395.7h1.2v1.2h-1.2zM268.8 401.2h1.2v1.2h-1.2zM312.4 334.2h1.2v1.2h-1.2zM281.2 380.6h1.2v1.2h-1.2zM280.2 389.2h1.2v1.2h-1.2zM284.6 386.1h1.2v1.2h-1.2zM269.1 402.0h1.2v1.2h-1.2zM273.9 398.6h1.2v1.2h-1.2zM310.3 337.7h1.2v1.2h-1.2zM274.8 393.4h1.2v1.2h-1.2zM280.8 391.2h1.2v1.2h-1.2zM302.7 347.1h1.2v1.2h-1.2zM281.0 389.5h1.2v1.2h-1.2zM286.2 369.9h1.2v1.2h-1.2zM289.4 363.8h1.2v1.2h-1.2zM285.2 376.9h1.2v1.2h-1.2zM276.6 391.2h1.2v1.2h-1.2zM313.6 329.9h1.2v1.2h-1.2zM277.3 396.0h1.2v1.2h-1.2zM314.0 333.0h1.2v1.2h-1.2zM284.6 378.2h1.2v1.2h-1.2zM268.8 400.8h1.2v1.2h-1.2zM312.2 335.3h1.2v1.2h-1.2zM280.0 391.5h1.2v1.2h-1.2zM312.1 331.1h1.2v1.2h-1.2zM312.9 333.5h1.2v1.2h-1.2zM286.1 370.6h1.2v1.2h-1.2zM298.1 353.9h1.2v1.2h-1.2zM289.5 367.2h1.2v1.2h-1.2zM269.4 401.5h1.2v1.2h-1.2zM273.0 396.3h1.2v1.2h-1.2zM312.7 333.9h1.2v1.2h-1.2zM314.1 330.9h1.2v1.2h-1.2zM281.0 388.1h1.2v1.2h-1.2zM280.9 389.7h1.2v1.2h-1.2zM298.2 351.0h1.2v1.2h-1.2zM286.5 375.2h1.2v1.2h-1.2zM286.3 372.2h1.2v1.2h-1.2zM270.8 402.2h1.2v1.2h-1.2zM279.6 389.4h1.2v1.2h-1.2zM273.8 395.5h1.2v1.2h-1.2zM283.1 388.1h1.2v1.2h-1.2zM313.7 331.2h1.2v1.2h-1.2zM310.2 337.3h1.2v1.2h-1.2zM311.2 335.5h1.2v1.2h-1.2zM274.0 396.2h1.2v1.2h-1.2zM269.9 400.9h1.2v1.2h-1.2zM272.6 396.5h1.2v1.2h-1.2zM272.0 398.2h1.2v1.2h-1.2zM311.1 338.2h1.2v1.2h-1.2zM280.0 392.4h1.2v1.2h-1.2zM308.4 337.7h1.2v1.2h-1.2zM290.7 363.0h1.2v1.2h-1.2zM281.2 389.5h1.2v1.2h-1.2zM273.8 399.5h1.2v1.2h-1.2zM286.0 369.7h1.2v1.2h-1.2zM280.2 388.6h1.2v1.2h-1.2zM286.1 370.7h1.2v1.2h-1.2zM280.5 387.2h1.2v1.2h-1.2zM282.0 389.4h1.2v1.2h-1.2zM268.5 400.5h1.2v1.2h-1.2zM273.8 394.5h1.2v1.2h-1.2zM267.8 401.7h1.2v1.2h-1.2zM273.6 399.5h1.2v1.2h-1.2zM273.3 398.8h1.2v1.2h-1.2zM289.3 365.8h1.2v1.2h-1.2zM313.4 332.4h1.2v1.2h-1.2zM286.6 375.3h1.2v1.2h-1.2zM309.1 338.2h1.2v1.2h-1.2zM310.4 334.1h1.2v1.2h-1.2zM310.4 336.1h1.2v1.2h-1.2zM281.5 381.2h1.2v1.2h-1.2zM286.2 371.8h1.2v1.2h-1.2zM310.3 337.9h1.2v1.2h-1.2zM273.9 399.6h1.2v1.2h-1.2zM278.3 394.2h1.2v1.2h-1.2zM267.7 401.7h1.2v1.2h-1.2zM281.3 388.9h1.2v1.2h-1.2zM274.2 396.2h1.2v1.2h-1.2zM303.8 344.8h1.2v1.2h-1.2zM281.4 381.1h1.2v1.2h-1.2zM277.2 395.6h1.2v1.2h-1.2zM309.6 337.0h1.2v1.2h-1.2zM298.5 352.3h1.2v1.2h-1.2zM289.3 363.6h1.2v1.2h-1.2zM312.3 333.9h1.2v1.2h-1.2zM287.0 374.5h1.2v1.2h-1.2zM283.4 378.5h1.2v1.2h-1.2zM277.9 396.3h1.2v1.2h-1.2zM270.3 398.8h1.2v1.2h-1.2zM288.1 368.5h1.2v1.2h-1.2zM268.1 402.1h1.2v1.2h-1.2zM307.2 341.1h1.2v1.2h-1.2zM278.4 390.2h1.2v1.2h-1.2zM299.1 352.1h1.2v1.2h-1.2zM313.5 331.4h1.2v1.2h-1.2zM287.1 369.2h1.2v1.2h-1.2zM303.8 345.1h1.2v1.2h-1.2zM297.5 353.8h1.2v1.2h-1.2zM267.5 402.1h1.2v1.2h-1.2zM310.6 337.9h1.2v1.2h-1.2zM312.2 330.6h1.2v1.2h-1.2zM299.0 351.2h1.2v1.2h-1.2zM311.3 334.8h1.2v1.2h-1.2zM293.5 360.3h1.2v1.2h-1.2zM267.8 402.2h1.2v1.2h-1.2zM313.6 330.5h1.2v1.2h-1.2zM277.2 395.9h1.2v1.2h-1.2zM313.7 332.1h1.2v1.2h-1.2zM273.9 396.1h1.2v1.2h-1.2zM311.6 335.3h1.2v1.2h-1.2zM311.5 334.7h1.2v1.2h-1.2zM285.8 371.3h1.2v1.2h-1.2zM272.9 400.5h1.2v1.2h-1.2zM299.3 349.0h1.2v1.2h-1.2zM280.0 391.6h1.2v1.2h-1.2zM278.1 396.0h1.2v1.2h-1.2zM310.4 336.2h1.2v1.2h-1.2zM292.2 362.4h1.2v1.2h-1.2z" fill="#1b29e5" fill-opacity="0.90"/>
<path d="M273.0 398.7h1.2v1.2h-1.2zM272.1 399.5h1.2v1.2h-1.2zM282.5 380.9h1.2v1.2h-1.2zM291.7 363.3h1.2v1.2h-1.2zM309.2 339.6h1.2v1.2h-1.2zM274.9 395.5h1.2v1.2h-1.2zM302.3 348.3h1.2v1.2h-1.2zM308.5 338.5h1.2v1.2h-1.2zM279.2 391.1h1.2v1.2h-1.2zM273.1 399.2h1.2v1.2h-1.2zM309.3 339.7h1.2v1.2h-1.2zM294.1 361.2h1.2v1.2h-1.2zM306.3 347.7h1.2v1.2h-1.2zM308.3 342.8h1.2v1.2h-1.2zM309.6 338.5h1.2v1.2h-1.2zM275.1 395.9h1.2v1.2h-1.2zM272.8 399.7h1.2v1.2h-1.2zM272.9 399.4h1.2v1.2h-1.2zM283.9 387.0h1.2v1.2h-1.2zM271.2 400.2h1.2v1.2h-1.2zM274.8 394.1h1.2v1.2h-1.2zM311.8 333.5h1.2v1.2h-1.2zM311.9 332.3h1.2v1.2h-1.2zM309.9 338.3h1.2v1.2h-1.2zM281.3 387.5h1.2v1.2h-1.2zM286.4 371.3h1.2v1.2h-1.2zM284.8 378.4h1.2v1.2h-1.2zM309.3 339.0h1.2v1.2h-1.2zM303.8 345.9h1.2v1.2h-1.2zM283.6 380.0h1.2v1.2h-1.2zM302.4 356.5h1.2v1.2h-1.2zM311.4 331.9h1.2v1.2h-1.2zM274.5 396.1h1.2v1.2h-1.2zM283.0 381.8h1.2v1.2h-1.2zM288.1 372.3h1.2v1.2h-1.2zM287.5 374.0h1.2v1.2h-1.2zM308.9 338.5h1.2v1.2h-1.2zM271.4 399.8h1.2v1.2h-1.2zM287.3 381.5h1.2v1.2h-1.2zM309.6 338.5h1.2v1.2h-1.2zM270.6 399.5h1.2v1.2h-1.2zM313.1 331.7h1.2v1.2h-1.2zM299.1 352.9h1.2v1.2h-1.2zM270.9 399.7h1.2v1.2h-1.2zM298.8 353.1h1.2v1.2h-1.2zM275.2 395.7h1.2v1.2h-1.2zM274.2 395.0h1.2v1.2h-1.2zM281.4 387.8h1.2v1.2h-1.2zM270.7 400.3h1.2v1.2h-1.2zM273.1 399.5h1.2v1.2h-1.2zM271.8 399.5h1.2v1.2h-1.2zM312.2 333.3h1.2v1.2h-1.2zM312.6 332.5h1.2v1.2h-1.2zM298.4 353.1h1.2v1.2h-1.2zM284.0 379.9h1.2v1.2h-1.2zM288.6 368.6h1.2v1.2h-1.2zM276.0 395.9h1.2v1.2h-1.2zM279.7 390.4h1.2v1.2h-1.2zM311.9 332.1h1.2v1.2h-1.2zM299.0 352.6h1.2v1.2h-1.2zM274.9 394.3h1.2v1.2h-1.2zM276.1 395.6h1.2v1.2h-1.2zM272.3 399.9h1.2v1.2h-1.2zM309.5 337.6h1.2v1.2h-1.2zM274.3 395.2h1.2v1.2h-1.2zM283.2 382.1h1.2v1.2h-1.2zM295.2 358.5h1.2v1.2h-1.2zM312.9 331.9h1.2v1.2h-1.2zM299.7 350.8h1.2v1.2h-1.2zM312.5 332.1h1.2v1.2h-1.2zM303.5 346.3h1.2v1.2h-1.2zM287.1 370.8h1.2v1.2h-1.2zM291.3 363.0h1.2v1.2h-1.2zM277.2 395.0h1.2v1.2h-1.2zM286.4 371.1h1.2v1.2h-1.2zM277.6 394.8h1.2v1.2h-1.2zM287.1 370.9h1.2v1.2h-1.2zM309.8 338.5h1.2v1.2h-1.2zM275.0 395.3h1.2v1.2h-1.2zM287.9 373.9h1.2v1.2h-1.2zM300.1 349.8h1.2v1.2h-1.2zM290.1 368.4h1.2v1.2h-1.2zM284.9 378.7h1.2v1.2h-1.2zM313.1 333.4h1.2v1.2h-1.2zM306.5 347.4h1.2v1.2h-1.2zM287.1 369.9h1.2v1.2h-1.2zM274.2 394.0h1.2v1.2h-1.2zM309.4 340.0h1.2v1.2h-1.2zM271.4 399.8h1.2v1.2h-1.2zM284.3 378.8h1.2v1.2h-1.2zM287.7 372.7h1.2v1.2h-1.2zM309.4 339.2h1.2v1.2h-1.2zM292.2 361.8h1.2v1.2h-1.2zM295.1 359.0h1.2v1.2h-1.2zM286.6 369.9h1.2v1.2h-1.2zM272.8 398.8h1.2v1.2h-1.2zM290.1 367.6h1.2v1.2h-1.2zM282.6 380.9h1.2v1.2h-1.2zM311.3 334.1h1.2v1.2h-1.2zM277.6 391.3h1.2v1.2h-1.2z" fill="#1439eb" fill-opacity="0.95"/>
<path d="M298.5 353.8h1.2v1.2h-1.2zM296.1 359.1h1.2v1.2h-1.2zM298.9 353.4h1.2v1.2h-1.2zM308.2 341.2h1.2v1.2h-1.2zM302.2 349.4h1.2v1.2h-1.2zM287.9 370.0h1.2v1.2h-1.2zM300.5 349.8h1.2v1.2h-1.2zM275.3 392.7h1.2v1.2h-1.2zM278.8 393.2h1.2v1.2h-1.2zM290.8 365.0h1.2v1.2h-1.2zM291.1 376.8h1.2v1.2h-1.2zM276.2 393.0h1.2v1.2h-1.2zM289.9 368.4h1.2v1.2h-1.2zM308.5 341.8h1.2v1.2h-1.2zM281.3 387.1h1.2v1.2h-1.2zM307.9 340.7h1.2v1.2h-1.2zM299.4 351.8h1.2v1.2h-1.2zM278.3 391.9h1.2v1.2h-1.2zM277.8 391.4h1.2v1.2h-1.2zM304.2 345.3h1.2v1.2h-1.2zM290.5 366.8h1.2v1.2h-1.2zM278.5 391.5h1.2v1.2h-1.2zM282.0 386.4h1.2v1.2h-1.2zM277.6 393.6h1.2v1.2h-1.2zM293.1 363.2h1.2v1.2h-1.2zM297.9 356.3h1.2v1.2h-1.2zM300.8 349.7h1.2v1.2h-1.2zM308.1 344.9h1.2v1.2h-1.2zM293.0 362.7h1.2v1.2h-1.2zM301.2 349.2h1.2v1.2h-1.2zM278.2 391.6h1.2v1.2h-1.2zM285.9 377.8h1.2v1.2h-1.2zM281.8 386.3h1.2v1.2h-1.2zM301.4 348.8h1.2v1.2h-1.2zM291.5 363.8h1.2v1.2h-1.2zM309.1 341.2h1.2v1.2h-1.2zM276.1 394.0h1.2v1.2h-1.2zM284.4 384.8h1.2v1.2h-1.2zM300.5 350.0h1.2v1.2h-1.2zM300.3 349.5h1.2v1.2h-1.2zM291.1 365.5h1.2v1.2h-1.2zM308.4 341.8h1.2v1.2h-1.2zM308.6 340.0h1.2v1.2h-1.2zM308.3 341.0h1.2v1.2h-1.2zM289.3 378.8h1.2v1.2h-1.2zM297.4 356.3h1.2v1.2h-1.2zM288.5 370.4h1.2v1.2h-1.2zM291.3 363.5h1.2v1.2h-1.2zM303.6 354.5h1.2v1.2h-1.2zM301.3 348.8h1.2v1.2h-1.2zM276.9 391.6h1.2v1.2h-1.2zM308.0 341.4h1.2v1.2h-1.2zM291.7 364.1h1.2v1.2h-1.2zM288.8 370.2h1.2v1.2h-1.2zM276.4 392.4h1.2v1.2h-1.2zM277.5 392.2h1.2v1.2h-1.2zM289.3 379.4h1.2v1.2h-1.2zM282.0 385.6h1.2v1.2h-1.2zM307.7 340.8h1.2v1.2h-1.2zM287.6 374.4h1.2v1.2h-1.2zM282.0 387.0h1.2v1.2h-1.2zM275.8 393.6h1.2v1.2h-1.2zM289.7 368.9h1.2v1.2h-1.2zM281.9 386.3h1.2v1.2h-1.2zM288.1 370.1h1.2v1.2h-1.2zM294.7 359.9h1.2v1.2h-1.2zM286.3 382.8h1.2v1.2h-1.2zM278.3 392.5h1.2v1.2h-1.2zM278.3 392.3h1.2v1.2h-1.2zM278.0 393.9h1.2v1.2h-1.2zM300.3 350.1h1.2v1.2h-1.2zM300.7 350.2h1.2v1.2h-1.2zM287.9 369.4h1.2v1.2h-1.2zM277.9 392.3h1.2v1.2h-1.2zM308.2 340.4h1.2v1.2h-1.2zM277.9 392.0h1.2v1.2h-1.2zM286.2 383.9h1.2v1.2h-1.2zM291.3 364.2h1.2v1.2h-1.2zM277.2 395.0h1.2v1.2h-1.2zM281.5 387.0h1.2v1.2h-1.2zM301.2 348.8h1.2v1.2h-1.2zM308.5 341.2h1.2v1.2h-1.2zM307.5 340.7h1.2v1.2h-1.2zM289.3 378.5h1.2v1.2h-1.2zM279.1 393.2h1.2v1.2h-1.2zM309.1 340.0h1.2v1.2h-1.2zM308.5 340.4h1.2v1.2h-1.2zM288.0 369.7h1.2v1.2h-1.2z" fill="#0d55f2" fill-opacity="1.00"/>
<path d="M296.6 358.1h1.2v1.2h-1.2zM307.6 343.7h1.2v1.2h-1.2zM296.9 357.8h1.2v1.2h-1.2zM308.0 343.2h1.2v1.2h-1.2zM307.2 343.0h1.2v1.2h-1.2zM295.1 360.5h1.2v1.2h-1.2zM295.0 360.7h1.2v1.2h-1.2zM307.7 342.9h1.2v1.2h-1.2zM308.1 344.3h1.2v1.2h-1.2zM289.4 369.5h1.2v1.2h-1.2zM288.7 370.8h1.2v1.2h-1.2zM296.9 358.1h1.2v1.2h-1.2zM289.2 371.6h1.2v1.2h-1.2zM307.7 341.9h1.2v1.2h-1.2zM307.7 342.9h1.2v1.2h-1.2zM276.9 393.0h1.2v1.2h-1.2zM308.0 342.5h1.2v1.2h-1.2zM283.4 385.5h1.2v1.2h-1.2zM276.3 392.4h1.2v1.2h-1.2zM288.2 370.7h1.2v1.2h-1.2zM283.3 386.1h1.2v1.2h-1.2zM276.5 394.3h1.2v1.2h-1.2zM276.9 392.7h1.2v1.2h-1.2zM277.3 392.6h1.2v1.2h-1.2zM307.9 343.2h1.2v1.2h-1.2zM291.4 365.1h1.2v1.2h-1.2zM282.5 384.0h1.2v1.2h-1.2zM278.0 392.7h1.2v1.2h-1.2zM301.0 350.8h1.2v1.2h-1.2zM282.8 384.2h1.2v1.2h-1.2zM282.3 386.6h1.2v1.2h-1.2zM307.7 342.7h1.2v1.2h-1.2zM292.8 373.6h1.2v1.2h-1.2zM298.3 355.2h1.2v1.2h-1.2zM307.7 342.6h1.2v1.2h-1.2zM307.8 343.9h1.2v1.2h-1.2zM283.4 381.2h1.2v1.2h-1.2zM286.7 376.9h1.2v1.2h-1.2zM283.6 386.2h1.2v1.2h-1.2zM282.2 384.2h1.2v1.2h-1.2zM292.1 365.3h1.2v1.2h-1.2zM299.1 354.9h1.2v1.2h-1.2zM307.7 342.3h1.2v1.2h-1.2zM288.4 380.2h1.2v1.2h-1.2zM276.3 393.3h1.2v1.2h-1.2zM283.4 386.0h1.2v1.2h-1.2zM276.5 394.1h1.2v1.2h-1.2zM307.4 343.3h1.2v1.2h-1.2zM305.3 343.8h1.2v1.2h-1.2zM282.3 383.9h1.2v1.2h-1.2zM283.5 380.9h1.2v1.2h-1.2zM292.3 373.9h1.2v1.2h-1.2zM307.2 342.6h1.2v1.2h-1.2z" fill="#0571fa" fill-opacity="1.00"/>
<path d="M287.9 380.6h1.2v1.2h-1.2zM291.1 369.2h1.2v1.2h-1.2zM282.2 385.9h1.2v1.2h-1.2zM283.0 385.8h1.2v1.2h-1.2zM305.4 348.6h1.2v1.2h-1.2zM290.6 375.4h1.2v1.2h-1.2zM283.6 381.6h1.2v1.2h-1.2zM306.8 343.6h1.2v1.2h-1.2zM283.4 382.5h1.2v1.2h-1.2zM286.5 381.6h1.2v1.2h-1.2zM283.7 384.9h1.2v1.2h-1.2zM295.9 359.4h1.2v1.2h-1.2zM290.7 375.8h1.2v1.2h-1.2zM307.2 345.4h1.2v1.2h-1.2zM304.5 346.9h1.2v1.2h-1.2zM288.9 373.9h1.2v1.2h-1.2zM282.8 385.4h1.2v1.2h-1.2zM293.1 363.8h1.2v1.2h-1.2zM307.0 345.2h1.2v1.2h-1.2zM306.9 345.3h1.2v1.2h-1.2zM284.9 383.8h1.2v1.2h-1.2zM284.2 384.0h1.2v1.2h-1.2zM307.1 343.7h1.2v1.2h-1.2zM288.0 380.5h1.2v1.2h-1.2zM282.3 385.2h1.2v1.2h-1.2zM282.6 384.9h1.2v1.2h-1.2zM282.6 386.0h1.2v1.2h-1.2zM285.3 383.3h1.2v1.2h-1.2zM290.4 376.0h1.2v1.2h-1.2zM306.4 344.5h1.2v1.2h-1.2zM300.7 351.9h1.2v1.2h-1.2zM293.5 372.3h1.2v1.2h-1.2zM286.3 382.3h1.2v1.2h-1.2zM306.3 346.2h1.2v1.2h-1.2zM306.3 345.1h1.2v1.2h-1.2zM306.7 344.8h1.2v1.2h-1.2zM306.4 344.2h1.2v1.2h-1.2zM306.8 343.8h1.2v1.2h-1.2zM282.6 386.1h1.2v1.2h-1.2zM306.9 344.8h1.2v1.2h-1.2zM284.0 383.5h1.2v1.2h-1.2zM284.2 382.1h1.2v1.2h-1.2zM282.9 385.4h1.2v1.2h-1.2zM283.1 386.3h1.2v1.2h-1.2zM284.0 385.1h1.2v1.2h-1.2zM299.8 354.2h1.2v1.2h-1.2zM286.9 382.2h1.2v1.2h-1.2zM284.0 385.3h1.2v1.2h-1.2zM287.3 380.6h1.2v1.2h-1.2zM300.0 353.8h1.2v1.2h-1.2zM289.8 377.9h1.2v1.2h-1.2zM296.0 360.2h1.2v1.2h-1.2zM306.4 346.0h1.2v1.2h-1.2zM293.2 371.7h1.2v1.2h-1.2zM285.7 383.3h1.2v1.2h-1.2zM287.6 380.6h1.2v1.2h-1.2zM285.5 378.6h1.2v1.2h-1.2zM306.3 345.6h1.2v1.2h-1.2zM302.7 348.9h1.2v1.2h-1.2zM306.5 345.7h1.2v1.2h-1.2zM293.3 372.0h1.2v1.2h-1.2zM284.9 383.9h1.2v1.2h-1.2zM291.6 366.0h1.2v1.2h-1.2zM282.4 386.0h1.2v1.2h-1.2zM285.5 383.4h1.2v1.2h-1.2zM300.4 352.4h1.2v1.2h-1.2zM304.9 346.4h1.2v1.2h-1.2zM296.6 366.5h1.2v1.2h-1.2zM306.0 344.7h1.2v1.2h-1.2zM286.7 381.5h1.2v1.2h-1.2zM292.7 364.0h1.2v1.2h-1.2zM282.6 385.5h1.2v1.2h-1.2zM307.1 345.2h1.2v1.2h-1.2z" fill="#008efb" fill-opacity="1.00"/>
<path d="M306.1 347.7h1.2v1.2h-1.2zM285.4 380.0h1.2v1.2h-1.2zM300.2 352.7h1.2v1.2h-1.2zM284.8 383.0h1.2v1.2h-1.2zM305.4 347.2h1.2v1.2h-1.2zM300.7 352.5h1.2v1.2h-1.2zM285.2 382.9h1.2v1.2h-1.2zM291.6 366.5h1.2v1.2h-1.2zM296.3 358.8h1.2v1.2h-1.2zM304.0 354.2h1.2v1.2h-1.2zM284.6 382.8h1.2v1.2h-1.2zM284.9 383.2h1.2v1.2h-1.2zM305.7 346.9h1.2v1.2h-1.2zM284.8 382.9h1.2v1.2h-1.2zM303.2 353.4h1.2v1.2h-1.2zM284.4 381.1h1.2v1.2h-1.2zM303.3 354.0h1.2v1.2h-1.2zM304.0 354.1h1.2v1.2h-1.2zM305.5 347.2h1.2v1.2h-1.2zM306.0 346.5h1.2v1.2h-1.2zM305.5 348.0h1.2v1.2h-1.2zM285.5 380.2h1.2v1.2h-1.2zM284.4 380.5h1.2v1.2h-1.2zM298.0 356.4h1.2v1.2h-1.2zM286.9 377.7h1.2v1.2h-1.2zM285.7 380.2h1.2v1.2h-1.2zM289.3 370.7h1.2v1.2h-1.2zM297.0 359.1h1.2v1.2h-1.2zM305.3 347.5h1.2v1.2h-1.2zM306.1 346.4h1.2v1.2h-1.2zM296.4 359.3h1.2v1.2h-1.2zM285.2 383.1h1.2v1.2h-1.2zM284.5 383.2h1.2v1.2h-1.2zM305.4 346.7h1.2v1.2h-1.2zM291.2 366.4h1.2v1.2h-1.2zM284.9 382.5h1.2v1.2h-1.2zM284.4 383.4h1.2v1.2h-1.2zM306.2 345.9h1.2v1.2h-1.2zM304.9 351.4h1.2v1.2h-1.2zM286.6 378.2h1.2v1.2h-1.2zM305.7 346.2h1.2v1.2h-1.2zM284.6 383.1h1.2v1.2h-1.2zM300.9 353.3h1.2v1.2h-1.2zM303.3 354.0h1.2v1.2h-1.2zM306.1 346.9h1.2v1.2h-1.2zM306.2 346.7h1.2v1.2h-1.2zM305.7 345.6h1.2v1.2h-1.2z" fill="#00acf0" fill-opacity="1.00"/>
<path d="M304.9 348.5h1.2v1.2h-1.2zM290.0 371.5h1.2v1.2h-1.2zM284.3 382.3h1.2v1.2h-1.2zM290.6 370.1h1.2v1.2h-1.2zM299.1 356.1h1.2v1.2h-1.2zM293.2 365.2h1.2v1.2h-1.2zM289.3 371.8h1.2v1.2h-1.2zM297.7 365.1h1.2v1.2h-1.2zM291.6 367.5h1.2v1.2h-1.2zM302.0 350.5h1.2v1.2h-1.2zM289.9 377.2h1.2v1.2h-1.2zM300.4 360.4h1.2v1.2h-1.2zM295.0 362.2h1.2v1.2h-1.2zM302.8 355.1h1.2v1.2h-1.2zM298.4 356.1h1.2v1.2h-1.2zM285.8 381.3h1.2v1.2h-1.2zM304.9 347.5h1.2v1.2h-1.2zM302.4 354.4h1.2v1.2h-1.2zM288.1 379.6h1.2v1.2h-1.2zM287.7 379.7h1.2v1.2h-1.2zM289.6 376.8h1.2v1.2h-1.2zM287.9 377.2h1.2v1.2h-1.2zM304.7 348.2h1.2v1.2h-1.2zM286.4 380.8h1.2v1.2h-1.2zM304.6 348.1h1.2v1.2h-1.2zM288.3 378.4h1.2v1.2h-1.2zM287.2 380.3h1.2v1.2h-1.2zM300.8 359.4h1.2v1.2h-1.2zM301.6 358.0h1.2v1.2h-1.2zM289.6 371.8h1.2v1.2h-1.2zM297.2 364.4h1.2v1.2h-1.2zM304.4 348.7h1.2v1.2h-1.2zM298.6 356.3h1.2v1.2h-1.2zM305.0 348.0h1.2v1.2h-1.2zM288.1 377.2h1.2v1.2h-1.2zM304.5 347.8h1.2v1.2h-1.2zM285.1 382.2h1.2v1.2h-1.2zM304.4 349.1h1.2v1.2h-1.2zM291.4 367.6h1.2v1.2h-1.2zM294.0 364.2h1.2v1.2h-1.2zM286.3 380.8h1.2v1.2h-1.2zM292.5 364.7h1.2v1.2h-1.2zM287.2 380.7h1.2v1.2h-1.2zM302.8 354.7h1.2v1.2h-1.2zM304.3 349.1h1.2v1.2h-1.2zM293.2 364.8h1.2v1.2h-1.2zM285.7 381.6h1.2v1.2h-1.2zM288.6 378.5h1.2v1.2h-1.2zM287.6 379.8h1.2v1.2h-1.2zM294.6 361.9h1.2v1.2h-1.2zM289.6 376.5h1.2v1.2h-1.2zM303.6 348.9h1.2v1.2h-1.2zM287.6 379.4h1.2v1.2h-1.2zM298.2 355.4h1.2v1.2h-1.2zM288.2 376.9h1.2v1.2h-1.2zM293.8 364.2h1.2v1.2h-1.2zM300.2 359.6h1.2v1.2h-1.2zM286.7 380.8h1.2v1.2h-1.2zM285.5 380.8h1.2v1.2h-1.2zM300.7 359.9h1.2v1.2h-1.2zM305.2 347.5h1.2v1.2h-1.2z" fill="#00cbe5" fill-opacity="1.00"/>
<path d="M286.2 380.3h1.2v1.2h-1.2zM289.9 376.0h1.2v1.2h-1.2zM295.9 360.7h1.2v1.2h-1.2zM304.4 349.9h1.2v1.2h-1.2zM290.5 374.5h1.2v1.2h-1.2zM289.1 375.7h1.2v1.2h-1.2zM291.4 374.2h1.2v1.2h-1.2zM288.6 377.8h1.2v1.2h-1.2zM298.3 362.4h1.2v1.2h-1.2zM304.3 349.5h1.2v1.2h-1.2zM288.3 377.8h1.2v1.2h-1.2zM291.6 374.1h1.2v1.2h-1.2zM292.1 374.2h1.2v1.2h-1.2zM301.9 356.5h1.2v1.2h-1.2zM291.3 373.9h1.2v1.2h-1.2zM291.1 374.8h1.2v1.2h-1.2zM289.5 376.3h1.2v1.2h-1.2zM286.4 380.2h1.2v1.2h-1.2zM288.9 375.5h1.2v1.2h-1.2zM304.4 351.1h1.2v1.2h-1.2zM291.8 373.9h1.2v1.2h-1.2zM288.2 376.2h1.2v1.2h-1.2zM305.2 349.6h1.2v1.2h-1.2zM288.4 377.8h1.2v1.2h-1.2zM292.2 372.8h1.2v1.2h-1.2zM304.5 349.8h1.2v1.2h-1.2zM289.6 374.2h1.2v1.2h-1.2zM289.2 373.4h1.2v1.2h-1.2zM304.5 351.3h1.2v1.2h-1.2zM290.5 374.5h1.2v1.2h-1.2zM286.9 380.2h1.2v1.2h-1.2zM286.8 380.2h1.2v1.2h-1.2zM289.1 377.6h1.2v1.2h-1.2zM296.0 360.9h1.2v1.2h-1.2zM290.1 375.7h1.2v1.2h-1.2zM298.3 362.7h1.2v1.2h-1.2zM289.0 376.4h1.2v1.2h-1.2zM304.3 350.7h1.2v1.2h-1.2zM290.6 374.6h1.2v1.2h-1.2zM304.5 350.3h1.2v1.2h-1.2zM298.1 357.4h1.2v1.2h-1.2zM288.6 377.6h1.2v1.2h-1.2zM286.5 379.8h1.2v1.2h-1.2zM301.4 357.4h1.2v1.2h-1.2zM296.0 361.3h1.2v1.2h-1.2zM292.2 372.6h1.2v1.2h-1.2zM298.3 363.0h1.2v1.2h-1.2zM299.0 363.0h1.2v1.2h-1.2zM297.2 358.1h1.2v1.2h-1.2zM302.9 349.4h1.2v1.2h-1.2zM304.5 350.0h1.2v1.2h-1.2zM304.8 349.4h1.2v1.2h-1.2zM289.7 373.8h1.2v1.2h-1.2zM295.8 361.2h1.2v1.2h-1.2zM304.9 350.5h1.2v1.2h-1.2zM301.3 357.1h1.2v1.2h-1.2zM304.4 349.9h1.2v1.2h-1.2z" fill="#06d7c0" fill-opacity="1.00"/>
<path d="M287.9 378.7h1.2v1.2h-1.2zM294.8 363.1h1.2v1.2h-1.2zM287.6 378.6h1.2v1.2h-1.2zM288.2 377.5h1.2v1.2h-1.2zM288.8 376.7h1.2v1.2h-1.2zM300.6 354.5h1.2v1.2h-1.2zM294.6 362.8h1.2v1.2h-1.2zM301.7 355.3h1.2v1.2h-1.2zM301.5 355.2h1.2v1.2h-1.2zM301.9 355.0h1.2v1.2h-1.2zM301.2 355.3h1.2v1.2h-1.2zM301.5 353.4h1.2v1.2h-1.2zM290.0 375.0h1.2v1.2h-1.2zM303.4 352.9h1.2v1.2h-1.2zM287.2 378.4h1.2v1.2h-1.2zM289.8 374.7h1.2v1.2h-1.2zM291.5 369.2h1.2v1.2h-1.2zM287.7 378.0h1.2v1.2h-1.2zM302.5 353.9h1.2v1.2h-1.2zM289.8 375.4h1.2v1.2h-1.2zM302.7 354.2h1.2v1.2h-1.2zM302.1 356.1h1.2v1.2h-1.2zM288.6 376.6h1.2v1.2h-1.2zM301.2 356.2h1.2v1.2h-1.2zM301.6 352.7h1.2v1.2h-1.2zM287.3 379.2h1.2v1.2h-1.2zM296.2 359.8h1.2v1.2h-1.2zM289.8 375.2h1.2v1.2h-1.2zM301.1 355.0h1.2v1.2h-1.2zM302.0 355.1h1.2v1.2h-1.2zM288.4 377.0h1.2v1.2h-1.2zM290.2 374.6h1.2v1.2h-1.2zM300.8 354.6h1.2v1.2h-1.2zM287.7 378.2h1.2v1.2h-1.2zM304.0 353.1h1.2v1.2h-1.2zM303.8 352.7h1.2v1.2h-1.2zM288.7 376.8h1.2v1.2h-1.2zM287.3 378.9h1.2v1.2h-1.2zM301.7 354.9h1.2v1.2h-1.2zM289.6 375.3h1.2v1.2h-1.2zM288.5 377.1h1.2v1.2h-1.2zM302.1 355.9h1.2v1.2h-1.2zM287.7 378.4h1.2v1.2h-1.2zM301.9 352.5h1.2v1.2h-1.2zM296.6 365.5h1.2v1.2h-1.2zM301.4 353.4h1.2v1.2h-1.2zM302.4 354.3h1.2v1.2h-1.2zM301.4 354.9h1.2v1.2h-1.2zM294.4 362.5h1.2v1.2h-1.2zM288.3 377.1h1.2v1.2h-1.2zM292.9 365.6h1.2v1.2h-1.2zM303.8 352.9h1.2v1.2h-1.2zM289.1 377.2h1.2v1.2h-1.2zM302.5 354.0h1.2v1.2h-1.2zM292.8 366.4h1.2v1.2h-1.2zM294.3 362.4h1.2v1.2h-1.2zM302.4 354.0h1.2v1.2h-1.2zM289.8 374.9h1.2v1.2h-1.2zM296.4 366.1h1.2v1.2h-1.2zM287.9 378.1h1.2v1.2h-1.2z" fill="#11d788" fill-opacity="1.00"/>
<path d="M303.2 350.2h1.2v1.2h-1.2zM290.2 371.1h1.2v1.2h-1.2zM303.9 350.3h1.2v1.2h-1.2zM302.7 351.4h1.2v1.2h-1.2zM291.0 371.4h1.2v1.2h-1.2zM298.8 357.3h1.2v1.2h-1.2zM290.5 373.5h1.2v1.2h-1.2zM290.8 371.1h1.2v1.2h-1.2zM290.7 374.4h1.2v1.2h-1.2zM298.7 356.7h1.2v1.2h-1.2zM290.9 374.0h1.2v1.2h-1.2zM298.9 357.4h1.2v1.2h-1.2zM303.4 349.7h1.2v1.2h-1.2zM290.5 374.4h1.2v1.2h-1.2zM291.0 373.9h1.2v1.2h-1.2zM298.3 357.4h1.2v1.2h-1.2zM304.1 350.1h1.2v1.2h-1.2zM290.6 373.6h1.2v1.2h-1.2zM290.5 371.4h1.2v1.2h-1.2z" fill="#1cd751" fill-opacity="1.00"/>
<path d="M303.8 350.7h1.2v1.2h-1.2zM298.9 361.4h1.2v1.2h-1.2zM294.7 368.5h1.2v1.2h-1.2zM302.5 351.5h1.2v1.2h-1.2zM298.8 362.2h1.2v1.2h-1.2zM294.4 368.5h1.2v1.2h-1.2zM296.1 361.9h1.2v1.2h-1.2zM293.9 369.5h1.2v1.2h-1.2zM300.4 358.7h1.2v1.2h-1.2zM302.9 352.1h1.2v1.2h-1.2zM303.1 351.5h1.2v1.2h-1.2zM303.5 350.8h1.2v1.2h-1.2zM304.1 350.4h1.2v1.2h-1.2zM303.4 352.0h1.2v1.2h-1.2zM293.1 367.2h1.2v1.2h-1.2zM292.4 366.7h1.2v1.2h-1.2zM294.8 369.0h1.2v1.2h-1.2zM302.7 352.3h1.2v1.2h-1.2zM303.4 352.1h1.2v1.2h-1.2zM302.9 352.5h1.2v1.2h-1.2zM303.6 352.0h1.2v1.2h-1.2zM302.6 353.2h1.2v1.2h-1.2zM294.4 368.8h1.2v1.2h-1.2zM300.5 359.0h1.2v1.2h-1.2zM293.2 370.0h1.2v1.2h-1.2zM303.1 353.1h1.2v1.2h-1.2zM292.6 371.7h1.2v1.2h-1.2zM303.2 351.0h1.2v1.2h-1.2zM294.0 370.3h1.2v1.2h-1.2zM303.1 352.5h1.2v1.2h-1.2zM292.2 369.7h1.2v1.2h-1.2zM291.4 369.8h1.2v1.2h-1.2zM300.4 356.2h1.2v1.2h-1.2zM292.5 371.5h1.2v1.2h-1.2zM303.0 352.1h1.2v1.2h-1.2zM300.5 358.7h1.2v1.2h-1.2zM303.2 353.2h1.2v1.2h-1.2zM303.8 352.0h1.2v1.2h-1.2zM292.4 371.4h1.2v1.2h-1.2zM298.4 361.8h1.2v1.2h-1.2zM303.8 351.1h1.2v1.2h-1.2zM294.2 368.8h1.2v1.2h-1.2zM303.8 350.7h1.2v1.2h-1.2zM303.3 352.1h1.2v1.2h-1.2zM301.0 355.9h1.2v1.2h-1.2zM292.4 372.1h1.2v1.2h-1.2zM292.2 372.0h1.2v1.2h-1.2zM303.5 352.0h1.2v1.2h-1.2zM303.3 351.4h1.2v1.2h-1.2zM301.1 356.0h1.2v1.2h-1.2zM302.9 353.0h1.2v1.2h-1.2zM300.2 359.0h1.2v1.2h-1.2zM298.8 361.4h1.2v1.2h-1.2zM293.1 366.6h1.2v1.2h-1.2zM294.3 368.8h1.2v1.2h-1.2zM298.3 362.0h1.2v1.2h-1.2zM304.2 351.0h1.2v1.2h-1.2zM304.0 350.8h1.2v1.2h-1.2z" fill="#5adc2f" fill-opacity="1.00"/>
<path d="M293.0 371.2h1.2v1.2h-1.2zM292.7 370.5h1.2v1.2h-1.2zM291.3 372.9h1.2v1.2h-1.2zM290.6 373.1h1.2v1.2h-1.2zM292.4 371.1h1.2v1.2h-1.2zM291.1 372.6h1.2v1.2h-1.2zM291.4 372.9h1.2v1.2h-1.2zM290.5 371.5h1.2v1.2h-1.2zM298.1 363.8h1.2v1.2h-1.2zM291.8 372.5h1.2v1.2h-1.2zM295.4 366.8h1.2v1.2h-1.2zM297.1 360.8h1.2v1.2h-1.2zM297.5 363.7h1.2v1.2h-1.2zM291.6 372.7h1.2v1.2h-1.2zM292.1 372.7h1.2v1.2h-1.2zM290.8 372.3h1.2v1.2h-1.2zM292.9 370.4h1.2v1.2h-1.2zM295.3 367.2h1.2v1.2h-1.2zM296.9 360.7h1.2v1.2h-1.2zM292.4 370.5h1.2v1.2h-1.2zM291.9 373.1h1.2v1.2h-1.2zM290.8 371.6h1.2v1.2h-1.2zM291.4 373.2h1.2v1.2h-1.2zM297.5 364.2h1.2v1.2h-1.2zM295.6 366.4h1.2v1.2h-1.2z" fill="#a5e212" fill-opacity="1.00"/>
<path d="M300.2 357.2h1.2v1.2h-1.2zM300.2 357.8h1.2v1.2h-1.2zM293.1 367.9h1.2v1.2h-1.2zM292.0 371.4h1.2v1.2h-1.2zM293.0 369.6h1.2v1.2h-1.2zM293.0 369.5h1.2v1.2h-1.2zM300.6 358.3h1.2v1.2h-1.2zM299.0 361.1h1.2v1.2h-1.2zM299.3 359.6h1.2v1.2h-1.2zM294.0 365.4h1.2v1.2h-1.2zM300.6 356.8h1.2v1.2h-1.2zM291.7 372.1h1.2v1.2h-1.2zM292.1 371.9h1.2v1.2h-1.2zM299.6 359.8h1.2v1.2h-1.2zM300.0 357.3h1.2v1.2h-1.2zM300.4 357.0h1.2v1.2h-1.2zM291.4 371.9h1.2v1.2h-1.2zM300.9 357.3h1.2v1.2h-1.2zM297.8 359.8h1.2v1.2h-1.2zM292.1 371.2h1.2v1.2h-1.2zM300.4 357.6h1.2v1.2h-1.2zM292.0 371.5h1.2v1.2h-1.2zM299.2 360.9h1.2v1.2h-1.2zM297.5 360.4h1.2v1.2h-1.2zM291.8 370.8h1.2v1.2h-1.2zM300.5 357.8h1.2v1.2h-1.2zM298.7 357.9h1.2v1.2h-1.2zM297.6 359.6h1.2v1.2h-1.2zM294.2 366.3h1.2v1.2h-1.2zM292.5 370.4h1.2v1.2h-1.2zM299.2 359.6h1.2v1.2h-1.2zM300.7 357.2h1.2v1.2h-1.2zM298.4 360.5h1.2v1.2h-1.2zM300.3 357.6h1.2v1.2h-1.2zM291.8 371.3h1.2v1.2h-1.2zM299.6 356.5h1.2v1.2h-1.2zM299.1 358.0h1.2v1.2h-1.2zM291.8 371.3h1.2v1.2h-1.2zM291.3 372.1h1.2v1.2h-1.2zM298.9 360.8h1.2v1.2h-1.2zM292.6 368.7h1.2v1.2h-1.2zM298.5 358.2h1.2v1.2h-1.2zM299.8 359.8h1.2v1.2h-1.2zM292.9 369.8h1.2v1.2h-1.2zM291.3 370.8h1.2v1.2h-1.2zM299.2 359.5h1.2v1.2h-1.2zM300.3 357.6h1.2v1.2h-1.2zM297.8 360.3h1.2v1.2h-1.2zM299.4 359.5h1.2v1.2h-1.2zM299.5 357.2h1.2v1.2h-1.2zM291.5 371.9h1.2v1.2h-1.2zM300.7 357.2h1.2v1.2h-1.2zM299.1 357.7h1.2v1.2h-1.2zM293.3 366.0h1.2v1.2h-1.2zM300.7 356.8h1.2v1.2h-1.2zM292.3 369.8h1.2v1.2h-1.2zM300.4 356.5h1.2v1.2h-1.2zM300.8 357.6h1.2v1.2h-1.2zM298.7 357.5h1.2v1.2h-1.2zM293.5 365.5h1.2v1.2h-1.2zM299.8 356.4h1.2v1.2h-1.2zM293.1 370.0h1.2v1.2h-1.2zM300.7 357.4h1.2v1.2h-1.2zM298.5 360.9h1.2v1.2h-1.2z" fill="#dad700" fill-opacity="1.00"/>
<path d="M296.3 364.5h1.2v1.2h-1.2zM295.2 367.5h1.2v1.2h-1.2zM294.2 368.3h1.2v1.2h-1.2zM294.3 367.9h1.2v1.2h-1.2zM294.8 365.1h1.2v1.2h-1.2zM294.4 368.3h1.2v1.2h-1.2zM296.6 364.4h1.2v1.2h-1.2zM295.2 362.9h1.2v1.2h-1.2zM296.1 363.1h1.2v1.2h-1.2zM295.9 362.4h1.2v1.2h-1.2zM294.2 368.1h1.2v1.2h-1.2zM296.4 365.1h1.2v1.2h-1.2zM294.2 367.7h1.2v1.2h-1.2zM295.8 363.2h1.2v1.2h-1.2zM294.2 367.7h1.2v1.2h-1.2zM296.5 364.5h1.2v1.2h-1.2zM295.9 362.7h1.2v1.2h-1.2z" fill="#ecb200" fill-opacity="1.00"/>
<path d="M297.2 362.3h1.2v1.2h-1.2zM296.4 362.2h1.2v1.2h-1.2zM297.9 360.4h1.2v1.2h-1.2zM293.7 369.2h1.2v1.2h-1.2zM296.0 366.2h1.2v1.2h-1.2zM297.8 362.5h1.2v1.2h-1.2zM297.7 361.9h1.2v1.2h-1.2zM295.9 365.9h1.2v1.2h-1.2zM297.4 362.9h1.2v1.2h-1.2zM297.3 362.5h1.2v1.2h-1.2zM298.8 358.9h1.2v1.2h-1.2zM294.1 369.0h1.2v1.2h-1.2zM297.8 363.3h1.2v1.2h-1.2zM295.9 366.1h1.2v1.2h-1.2zM298.4 359.0h1.2v1.2h-1.2zM298.1 361.8h1.2v1.2h-1.2zM297.5 361.2h1.2v1.2h-1.2zM297.3 362.4h1.2v1.2h-1.2zM297.7 363.3h1.2v1.2h-1.2zM294.2 368.8h1.2v1.2h-1.2zM298.4 358.4h1.2v1.2h-1.2zM297.7 363.3h1.2v1.2h-1.2zM298.6 360.1h1.2v1.2h-1.2zM293.4 368.9h1.2v1.2h-1.2zM295.7 366.0h1.2v1.2h-1.2zM298.8 359.7h1.2v1.2h-1.2zM293.9 368.8h1.2v1.2h-1.2zM295.5 366.2h1.2v1.2h-1.2zM296.0 366.0h1.2v1.2h-1.2zM297.5 362.3h1.2v1.2h-1.2zM298.8 359.9h1.2v1.2h-1.2zM295.5 365.8h1.2v1.2h-1.2zM297.3 362.1h1.2v1.2h-1.2zM297.8 361.2h1.2v1.2h-1.2zM297.8 363.2h1.2v1.2h-1.2zM293.5 368.6h1.2v1.2h-1.2zM296.2 366.2h1.2v1.2h-1.2zM293.7 368.5h1.2v1.2h-1.2zM297.0 362.1h1.2v1.2h-1.2zM298.7 360.1h1.2v1.2h-1.2zM297.7 361.1h1.2v1.2h-1.2zM297.9 360.7h1.2v1.2h-1.2zM298.2 360.4h1.2v1.2h-1.2zM293.5 369.2h1.2v1.2h-1.2zM297.7 361.7h1.2v1.2h-1.2zM293.9 368.9h1.2v1.2h-1.2zM295.6 366.4h1.2v1.2h-1.2zM293.8 369.0h1.2v1.2h-1.2z" fill="#ff8c00" fill-opacity="1.00"/>
<path d="M299.8 358.9h1.2v1.2h-1.2zM295.9 363.5h1.2v1.2h-1.2zM294.8 365.7h1.2v1.2h-1.2zM293.8 367.7h1.2v1.2h-1.2zM295.6 364.9h1.2v1.2h-1.2zM299.6 358.8h1.2v1.2h-1.2zM299.8 358.6h1.2v1.2h-1.2zM296.0 365.1h1.2v1.2h-1.2zM299.8 358.8h1.2v1.2h-1.2zM295.7 364.2h1.2v1.2h-1.2zM295.7 364.4h1.2v1.2h-1.2zM296.1 365.0h1.2v1.2h-1.2zM299.7 358.3h1.2v1.2h-1.2zM294.1 367.6h1.2v1.2h-1.2zM295.6 364.8h1.2v1.2h-1.2zM293.8 366.8h1.2v1.2h-1.2zM296.1 365.0h1.2v1.2h-1.2zM293.8 367.0h1.2v1.2h-1.2zM300.1 358.7h1.2v1.2h-1.2zM293.4 367.3h1.2v1.2h-1.2zM295.8 364.8h1.2v1.2h-1.2zM294.2 367.1h1.2v1.2h-1.2zM294.1 367.4h1.2v1.2h-1.2zM299.4 359.0h1.2v1.2h-1.2zM295.4 364.8h1.2v1.2h-1.2zM293.5 368.0h1.2v1.2h-1.2zM294.7 366.7h1.2v1.2h-1.2zM294.8 366.7h1.2v1.2h-1.2zM294.5 366.9h1.2v1.2h-1.2zM299.7 359.0h1.2v1.2h-1.2zM300.0 358.5h1.2v1.2h-1.2zM294.9 366.1h1.2v1.2h-1.2zM296.1 365.2h1.2v1.2h-1.2zM294.8 366.2h1.2v1.2h-1.2zM299.6 358.3h1.2v1.2h-1.2zM294.6 367.4h1.2v1.2h-1.2zM294.0 366.6h1.2v1.2h-1.2zM296.2 364.4h1.2v1.2h-1.2zM294.1 368.4h1.2v1.2h-1.2zM293.2 367.8h1.2v1.2h-1.2zM299.7 358.6h1.2v1.2h-1.2zM293.9 368.0h1.2v1.2h-1.2zM294.0 367.8h1.2v1.2h-1.2zM293.7 367.6h1.2v1.2h-1.2zM294.8 365.9h1.2v1.2h-1.2z" fill="#f25a00" fill-opacity="1.00"/>
<path d="M296.7 363.8h1.2v1.2h-1.2zM296.3 364.0h1.2v1.2h-1.2zM296.5 363.4h1.2v1.2h-1.2zM296.6 364.1h1.2v1.2h-1.2zM297.2 363.1h1.2v1.2h-1.2zM296.3 364.3h1.2v1.2h-1.2zM296.8 363.3h1.2v1.2h-1.2zM296.3 363.5h1.2v1.2h-1.2zM296.4 362.6h1.2v1.2h-1.2zM296.7 363.7h1.2v1.2h-1.2zM296.4 364.2h1.2v1.2h-1.2zM296.6 364.2h1.2v1.2h-1.2zM296.6 363.8h1.2v1.2h-1.2z" fill="#e62800" fill-opacity="1.00"/>
<path d="M123.2 495.3h1.2v1.2h-1.2zM115.7 520.1h1.2v1.2h-1.2zM102.3 532.1h1.2v1.2h-1.2zM138.6 488.8h1.2v1.2h-1.2zM118.1 553.7h1.2v1.2h-1.2zM113.7 562.3h1.2v1.2h-1.2zM121.7 543.7h1.2v1.2h-1.2zM123.3 511.4h1.2v1.2h-1.2zM110.6 575.8h1.2v1.2h-1.2zM112.0 496.8h1.2v1.2h-1.2zM81.8 550.5h1.2v1.2h-1.2zM110.3 525.5h1.2v1.2h-1.2zM115.2 516.3h1.2v1.2h-1.2zM102.5 541.5h1.2v1.2h-1.2zM125.7 542.7h1.2v1.2h-1.2zM141.2 483.9h1.2v1.2h-1.2zM105.3 528.8h1.2v1.2h-1.2zM134.4 496.6h1.2v1.2h-1.2zM92.3 593.8h1.2v1.2h-1.2zM93.3 580.6h1.2v1.2h-1.2zM85.9 583.1h1.2v1.2h-1.2zM118.8 520.8h1.2v1.2h-1.2zM130.6 501.1h1.2v1.2h-1.2zM103.3 589.6h1.2v1.2h-1.2zM89.7 580.7h1.2v1.2h-1.2zM90.3 596.1h1.2v1.2h-1.2zM87.4 565.3h1.2v1.2h-1.2zM110.6 536.1h1.2v1.2h-1.2zM114.8 525.7h1.2v1.2h-1.2zM88.2 590.1h1.2v1.2h-1.2zM98.0 553.5h1.2v1.2h-1.2zM95.1 564.4h1.2v1.2h-1.2zM102.3 589.1h1.2v1.2h-1.2zM105.7 595.6h1.2v1.2h-1.2zM89.5 583.7h1.2v1.2h-1.2zM127.6 499.9h1.2v1.2h-1.2zM112.8 532.4h1.2v1.2h-1.2zM109.9 587.1h1.2v1.2h-1.2zM88.4 570.6h1.2v1.2h-1.2zM93.3 561.7h1.2v1.2h-1.2zM92.9 589.7h1.2v1.2h-1.2zM123.8 505.5h1.2v1.2h-1.2zM88.5 581.9h1.2v1.2h-1.2zM130.2 535.9h1.2v1.2h-1.2zM83.6 570.8h1.2v1.2h-1.2zM81.5 587.4h1.2v1.2h-1.2zM111.6 571.1h1.2v1.2h-1.2zM116.9 523.0h1.2v1.2h-1.2zM94.0 559.1h1.2v1.2h-1.2zM115.9 512.6h1.2v1.2h-1.2zM87.1 558.2h1.2v1.2h-1.2zM113.8 580.7h1.2v1.2h-1.2zM115.4 517.0h1.2v1.2h-1.2zM103.6 596.8h1.2v1.2h-1.2zM95.3 557.8h1.2v1.2h-1.2zM89.7 570.4h1.2v1.2h-1.2zM85.0 592.7h1.2v1.2h-1.2zM85.4 594.4h1.2v1.2h-1.2zM90.8 594.0h1.2v1.2h-1.2zM95.7 559.6h1.2v1.2h-1.2zM91.4 577.0h1.2v1.2h-1.2zM93.2 568.6h1.2v1.2h-1.2zM160.9 463.2h1.2v1.2h-1.2zM108.4 574.3h1.2v1.2h-1.2zM103.3 546.7h1.2v1.2h-1.2zM86.6 592.8h1.2v1.2h-1.2zM97.4 561.9h1.2v1.2h-1.2zM159.2 464.7h1.2v1.2h-1.2zM94.8 596.7h1.2v1.2h-1.2zM107.8 577.5h1.2v1.2h-1.2zM89.9 588.5h1.2v1.2h-1.2zM89.0 584.6h1.2v1.2h-1.2zM84.0 579.5h1.2v1.2h-1.2zM99.9 591.1h1.2v1.2h-1.2zM92.1 563.2h1.2v1.2h-1.2zM114.6 564.8h1.2v1.2h-1.2zM95.7 555.6h1.2v1.2h-1.2zM86.9 586.1h1.2v1.2h-1.2zM160.2 468.9h1.2v1.2h-1.2zM110.7 528.1h1.2v1.2h-1.2zM88.5 588.2h1.2v1.2h-1.2zM84.3 589.8h1.2v1.2h-1.2zM102.0 551.6h1.2v1.2h-1.2zM104.8 579.7h1.2v1.2h-1.2zM85.3 589.9h1.2v1.2h-1.2zM120.8 513.9h1.2v1.2h-1.2zM85.2 571.7h1.2v1.2h-1.2zM83.6 586.4h1.2v1.2h-1.2zM108.1 535.2h1.2v1.2h-1.2zM90.5 571.6h1.2v1.2h-1.2zM109.7 566.9h1.2v1.2h-1.2zM131.8 526.8h1.2v1.2h-1.2zM141.1 511.6h1.2v1.2h-1.2zM159.3 464.8h1.2v1.2h-1.2zM103.8 587.9h1.2v1.2h-1.2zM98.0 552.6h1.2v1.2h-1.2zM158.0 467.5h1.2v1.2h-1.2zM89.0 595.7h1.2v1.2h-1.2zM100.8 592.8h1.2v1.2h-1.2zM119.7 518.1h1.2v1.2h-1.2zM86.4 579.5h1.2v1.2h-1.2zM91.0 583.2h1.2v1.2h-1.2zM159.9 470.2h1.2v1.2h-1.2zM95.4 593.4h1.2v1.2h-1.2zM106.3 577.5h1.2v1.2h-1.2zM101.6 596.7h1.2v1.2h-1.2zM86.2 590.1h1.2v1.2h-1.2zM96.3 595.0h1.2v1.2h-1.2zM159.7 462.7h1.2v1.2h-1.2zM83.1 567.7h1.2v1.2h-1.2zM138.4 490.5h1.2v1.2h-1.2zM104.3 580.2h1.2v1.2h-1.2zM85.2 586.1h1.2v1.2h-1.2zM112.3 531.5h1.2v1.2h-1.2zM91.4 584.0h1.2v1.2h-1.2zM91.1 564.3h1.2v1.2h-1.2zM90.0 588.3h1.2v1.2h-1.2zM90.0 575.3h1.2v1.2h-1.2zM148.1 481.7h1.2v1.2h-1.2zM101.8 594.4h1.2v1.2h-1.2zM87.7 585.9h1.2v1.2h-1.2zM98.0 560.6h1.2v1.2h-1.2zM118.3 522.3h1.2v1.2h-1.2zM109.8 573.0h1.2v1.2h-1.2zM105.2 590.2h1.2v1.2h-1.2zM116.6 517.3h1.2v1.2h-1.2zM84.3 561.4h1.2v1.2h-1.2zM104.8 533.8h1.2v1.2h-1.2zM122.9 503.8h1.2v1.2h-1.2zM96.4 547.2h1.2v1.2h-1.2zM113.4 527.8h1.2v1.2h-1.2zM100.5 592.9h1.2v1.2h-1.2zM108.0 589.9h1.2v1.2h-1.2zM95.0 595.8h1.2v1.2h-1.2zM159.8 462.1h1.2v1.2h-1.2zM159.0 461.9h1.2v1.2h-1.2zM88.8 571.6h1.2v1.2h-1.2zM95.1 561.0h1.2v1.2h-1.2zM118.1 509.9h1.2v1.2h-1.2zM144.9 486.0h1.2v1.2h-1.2zM86.2 572.6h1.2v1.2h-1.2zM83.7 575.5h1.2v1.2h-1.2zM145.8 520.4h1.2v1.2h-1.2zM110.0 510.4h1.2v1.2h-1.2zM107.6 526.2h1.2v1.2h-1.2zM87.1 579.2h1.2v1.2h-1.2zM138.5 490.3h1.2v1.2h-1.2zM100.9 549.9h1.2v1.2h-1.2zM122.3 500.8h1.2v1.2h-1.2zM84.2 584.3h1.2v1.2h-1.2zM101.8 546.2h1.2v1.2h-1.2zM100.7 594.1h1.2v1.2h-1.2zM115.8 497.9h1.2v1.2h-1.2zM113.1 562.9h1.2v1.2h-1.2zM132.1 496.2h1.2v1.2h-1.2zM97.6 592.8h1.2v1.2h-1.2zM119.8 552.0h1.2v1.2h-1.2zM91.4 556.6h1.2v1.2h-1.2zM101.5 533.7h1.2v1.2h-1.2z" fill="#3232d7" fill-opacity="0.70"/>
<path d="M126.4 508.9h1.2v1.2h-1.2zM99.5 587.0h1.2v1.2h-1.2zM115.9 555.1h1.2v1.2h-1.2zM126.7 504.3h1.2v1.2h-1.2zM125.7 511.7h1.2v1.2h-1.2zM94.9 584.0h1.2v1.2h-1.2zM97.7 585.8h1.2v1.2h-1.2zM156.8 471.3h1.2v1.2h-1.2zM156.4 473.5h1.2v1.2h-1.2zM102.1 555.0h1.2v1.2h-1.2zM94.3 577.1h1.2v1.2h-1.2zM112.6 560.9h1.2v1.2h-1.2zM151.5 493.8h1.2v1.2h-1.2zM157.8 470.6h1.2v1.2h-1.2zM102.2 582.1h1.2v1.2h-1.2zM93.2 571.1h1.2v1.2h-1.2zM121.9 516.8h1.2v1.2h-1.2zM158.1 469.9h1.2v1.2h-1.2zM105.3 572.7h1.2v1.2h-1.2zM147.0 486.4h1.2v1.2h-1.2zM105.0 575.5h1.2v1.2h-1.2zM140.1 492.8h1.2v1.2h-1.2zM98.5 557.7h1.2v1.2h-1.2zM114.6 556.9h1.2v1.2h-1.2zM96.6 569.9h1.2v1.2h-1.2zM94.8 590.1h1.2v1.2h-1.2zM111.6 563.4h1.2v1.2h-1.2zM100.6 556.0h1.2v1.2h-1.2zM99.1 556.6h1.2v1.2h-1.2zM93.0 585.1h1.2v1.2h-1.2zM125.2 508.4h1.2v1.2h-1.2zM89.0 594.8h1.2v1.2h-1.2zM88.2 593.3h1.2v1.2h-1.2zM114.2 558.7h1.2v1.2h-1.2zM95.9 566.8h1.2v1.2h-1.2zM96.0 590.8h1.2v1.2h-1.2zM144.3 488.2h1.2v1.2h-1.2zM93.6 577.4h1.2v1.2h-1.2zM143.4 490.1h1.2v1.2h-1.2zM157.2 472.4h1.2v1.2h-1.2zM123.5 514.8h1.2v1.2h-1.2zM142.4 491.1h1.2v1.2h-1.2zM94.4 582.8h1.2v1.2h-1.2zM98.2 591.9h1.2v1.2h-1.2zM101.4 578.1h1.2v1.2h-1.2zM126.8 504.5h1.2v1.2h-1.2zM102.2 586.2h1.2v1.2h-1.2zM93.3 570.1h1.2v1.2h-1.2zM90.7 591.2h1.2v1.2h-1.2zM141.6 507.8h1.2v1.2h-1.2zM107.3 572.9h1.2v1.2h-1.2zM121.1 516.3h1.2v1.2h-1.2zM95.0 588.3h1.2v1.2h-1.2zM156.6 472.5h1.2v1.2h-1.2zM116.7 553.8h1.2v1.2h-1.2zM96.5 574.7h1.2v1.2h-1.2zM96.5 577.7h1.2v1.2h-1.2zM94.3 572.4h1.2v1.2h-1.2zM147.6 485.0h1.2v1.2h-1.2zM130.3 531.0h1.2v1.2h-1.2zM94.6 582.4h1.2v1.2h-1.2zM130.8 529.9h1.2v1.2h-1.2zM126.0 504.3h1.2v1.2h-1.2zM152.2 491.9h1.2v1.2h-1.2zM121.6 519.5h1.2v1.2h-1.2zM103.6 553.2h1.2v1.2h-1.2zM100.8 580.1h1.2v1.2h-1.2zM116.3 526.5h1.2v1.2h-1.2zM122.6 515.8h1.2v1.2h-1.2zM102.5 578.5h1.2v1.2h-1.2zM129.7 530.5h1.2v1.2h-1.2zM105.7 569.5h1.2v1.2h-1.2zM125.8 510.7h1.2v1.2h-1.2zM101.0 578.8h1.2v1.2h-1.2zM158.5 471.7h1.2v1.2h-1.2zM87.7 592.6h1.2v1.2h-1.2zM121.6 521.7h1.2v1.2h-1.2zM102.4 579.8h1.2v1.2h-1.2zM95.4 576.5h1.2v1.2h-1.2zM92.3 569.8h1.2v1.2h-1.2zM96.9 563.8h1.2v1.2h-1.2zM100.7 584.6h1.2v1.2h-1.2zM98.6 590.5h1.2v1.2h-1.2zM102.6 556.3h1.2v1.2h-1.2zM127.9 534.2h1.2v1.2h-1.2zM98.5 587.1h1.2v1.2h-1.2zM145.8 487.4h1.2v1.2h-1.2zM94.3 572.6h1.2v1.2h-1.2zM114.6 532.7h1.2v1.2h-1.2zM96.8 557.7h1.2v1.2h-1.2zM94.0 574.9h1.2v1.2h-1.2zM99.6 589.6h1.2v1.2h-1.2zM95.0 586.6h1.2v1.2h-1.2zM95.9 576.1h1.2v1.2h-1.2zM101.6 586.3h1.2v1.2h-1.2zM140.6 492.7h1.2v1.2h-1.2zM154.7 474.3h1.2v1.2h-1.2zM110.7 562.1h1.2v1.2h-1.2zM124.2 513.6h1.2v1.2h-1.2zM134.8 519.0h1.2v1.2h-1.2zM101.9 577.1h1.2v1.2h-1.2zM95.0 580.5h1.2v1.2h-1.2zM99.0 557.5h1.2v1.2h-1.2zM139.6 511.4h1.2v1.2h-1.2zM90.9 592.3h1.2v1.2h-1.2zM133.5 499.8h1.2v1.2h-1.2zM142.7 506.3h1.2v1.2h-1.2zM109.4 567.0h1.2v1.2h-1.2zM115.4 527.8h1.2v1.2h-1.2zM157.8 475.3h1.2v1.2h-1.2zM121.1 543.4h1.2v1.2h-1.2zM94.6 584.7h1.2v1.2h-1.2zM98.6 566.7h1.2v1.2h-1.2zM112.2 560.1h1.2v1.2h-1.2zM95.3 574.9h1.2v1.2h-1.2zM126.2 511.1h1.2v1.2h-1.2zM93.0 577.4h1.2v1.2h-1.2zM99.5 558.6h1.2v1.2h-1.2zM154.8 484.4h1.2v1.2h-1.2zM145.3 503.5h1.2v1.2h-1.2zM157.5 474.4h1.2v1.2h-1.2zM101.5 559.9h1.2v1.2h-1.2zM137.0 515.7h1.2v1.2h-1.2zM88.7 593.8h1.2v1.2h-1.2zM98.6 564.6h1.2v1.2h-1.2zM106.7 541.9h1.2v1.2h-1.2zM103.1 586.7h1.2v1.2h-1.2zM126.7 536.5h1.2v1.2h-1.2zM104.0 549.2h1.2v1.2h-1.2zM94.9 568.0h1.2v1.2h-1.2zM113.8 533.7h1.2v1.2h-1.2zM102.4 587.4h1.2v1.2h-1.2zM139.1 493.0h1.2v1.2h-1.2zM102.4 554.3h1.2v1.2h-1.2zM95.0 588.3h1.2v1.2h-1.2zM141.9 491.6h1.2v1.2h-1.2zM109.4 566.4h1.2v1.2h-1.2zM125.7 507.7h1.2v1.2h-1.2zM128.7 532.5h1.2v1.2h-1.2zM108.4 540.3h1.2v1.2h-1.2zM131.5 502.7h1.2v1.2h-1.2zM126.5 505.4h1.2v1.2h-1.2zM113.5 559.2h1.2v1.2h-1.2zM105.4 544.9h1.2v1.2h-1.2zM133.0 499.0h1.2v1.2h-1.2zM151.6 480.6h1.2v1.2h-1.2zM94.1 582.1h1.2v1.2h-1.2zM94.2 582.6h1.2v1.2h-1.2zM126.8 536.2h1.2v1.2h-1.2zM151.6 480.4h1.2v1.2h-1.2zM149.8 480.0h1.2v1.2h-1.2zM107.0 570.2h1.2v1.2h-1.2zM134.9 498.3h1.2v1.2h-1.2zM95.4 569.4h1.2v1.2h-1.2zM143.5 490.0h1.2v1.2h-1.2zM123.3 515.2h1.2v1.2h-1.2zM96.4 574.5h1.2v1.2h-1.2zM101.0 583.5h1.2v1.2h-1.2zM127.5 505.8h1.2v1.2h-1.2zM90.6 591.2h1.2v1.2h-1.2zM96.6 591.1h1.2v1.2h-1.2zM141.4 492.6h1.2v1.2h-1.2zM96.5 590.7h1.2v1.2h-1.2zM158.1 470.6h1.2v1.2h-1.2zM105.7 572.6h1.2v1.2h-1.2zM136.7 496.4h1.2v1.2h-1.2zM95.8 589.3h1.2v1.2h-1.2zM125.9 511.3h1.2v1.2h-1.2zM158.2 475.0h1.2v1.2h-1.2zM147.7 484.3h1.2v1.2h-1.2zM136.5 496.4h1.2v1.2h-1.2zM101.5 586.6h1.2v1.2h-1.2zM100.4 556.7h1.2v1.2h-1.2zM156.3 470.7h1.2v1.2h-1.2zM90.4 590.2h1.2v1.2h-1.2zM93.4 584.7h1.2v1.2h-1.2zM158.6 468.8h1.2v1.2h-1.2zM157.0 474.2h1.2v1.2h-1.2zM102.2 585.3h1.2v1.2h-1.2zM96.0 588.0h1.2v1.2h-1.2zM101.5 559.1h1.2v1.2h-1.2zM95.1 572.6h1.2v1.2h-1.2zM149.6 482.6h1.2v1.2h-1.2zM105.3 544.6h1.2v1.2h-1.2zM109.7 538.1h1.2v1.2h-1.2zM157.0 474.6h1.2v1.2h-1.2zM99.6 563.2h1.2v1.2h-1.2zM98.3 585.8h1.2v1.2h-1.2zM102.8 552.8h1.2v1.2h-1.2zM140.3 493.5h1.2v1.2h-1.2zM93.0 575.3h1.2v1.2h-1.2zM140.3 491.6h1.2v1.2h-1.2zM150.9 478.1h1.2v1.2h-1.2zM114.7 557.3h1.2v1.2h-1.2zM98.6 555.5h1.2v1.2h-1.2zM98.0 563.5h1.2v1.2h-1.2zM101.8 582.7h1.2v1.2h-1.2zM151.2 478.8h1.2v1.2h-1.2zM120.2 520.1h1.2v1.2h-1.2z" fill="#2c30da" fill-opacity="0.75"/>
<path d="M128.5 505.6h1.2v1.2h-1.2zM150.7 492.3h1.2v1.2h-1.2zM102.9 574.6h1.2v1.2h-1.2zM134.2 518.8h1.2v1.2h-1.2zM106.8 567.2h1.2v1.2h-1.2zM98.2 583.5h1.2v1.2h-1.2zM103.2 556.4h1.2v1.2h-1.2zM104.5 569.4h1.2v1.2h-1.2zM122.4 541.5h1.2v1.2h-1.2zM152.2 486.8h1.2v1.2h-1.2zM142.7 504.8h1.2v1.2h-1.2zM98.2 580.8h1.2v1.2h-1.2zM98.0 576.0h1.2v1.2h-1.2zM106.5 544.8h1.2v1.2h-1.2zM124.6 540.1h1.2v1.2h-1.2zM97.6 571.5h1.2v1.2h-1.2zM108.9 563.4h1.2v1.2h-1.2zM155.8 476.5h1.2v1.2h-1.2zM116.1 533.3h1.2v1.2h-1.2zM129.0 505.4h1.2v1.2h-1.2zM146.0 487.8h1.2v1.2h-1.2zM123.6 539.9h1.2v1.2h-1.2zM135.9 514.9h1.2v1.2h-1.2zM139.4 496.1h1.2v1.2h-1.2zM129.4 504.2h1.2v1.2h-1.2zM96.8 581.0h1.2v1.2h-1.2zM115.8 551.4h1.2v1.2h-1.2zM98.6 568.1h1.2v1.2h-1.2zM109.6 541.8h1.2v1.2h-1.2zM119.0 544.8h1.2v1.2h-1.2zM128.5 507.4h1.2v1.2h-1.2zM137.3 496.8h1.2v1.2h-1.2zM98.4 579.7h1.2v1.2h-1.2zM132.6 524.4h1.2v1.2h-1.2zM136.1 516.7h1.2v1.2h-1.2zM116.8 527.2h1.2v1.2h-1.2zM115.6 534.2h1.2v1.2h-1.2zM109.5 541.2h1.2v1.2h-1.2zM96.8 573.1h1.2v1.2h-1.2zM105.4 571.4h1.2v1.2h-1.2zM96.7 585.5h1.2v1.2h-1.2zM125.5 515.0h1.2v1.2h-1.2zM99.2 575.3h1.2v1.2h-1.2zM97.4 584.1h1.2v1.2h-1.2zM153.2 485.2h1.2v1.2h-1.2zM104.2 568.6h1.2v1.2h-1.2zM105.0 549.6h1.2v1.2h-1.2zM105.0 548.4h1.2v1.2h-1.2zM111.6 538.8h1.2v1.2h-1.2zM103.6 555.6h1.2v1.2h-1.2zM154.1 477.0h1.2v1.2h-1.2zM123.7 517.9h1.2v1.2h-1.2zM149.7 482.6h1.2v1.2h-1.2zM138.2 497.4h1.2v1.2h-1.2zM156.0 475.8h1.2v1.2h-1.2zM124.3 539.8h1.2v1.2h-1.2zM107.3 565.7h1.2v1.2h-1.2zM139.5 510.0h1.2v1.2h-1.2zM98.6 568.2h1.2v1.2h-1.2zM104.3 556.3h1.2v1.2h-1.2zM152.2 481.7h1.2v1.2h-1.2zM98.6 568.4h1.2v1.2h-1.2zM128.9 504.9h1.2v1.2h-1.2zM100.6 584.7h1.2v1.2h-1.2zM104.9 548.8h1.2v1.2h-1.2zM153.4 486.1h1.2v1.2h-1.2zM105.4 547.2h1.2v1.2h-1.2zM134.4 500.1h1.2v1.2h-1.2zM154.0 483.4h1.2v1.2h-1.2zM106.2 545.5h1.2v1.2h-1.2zM95.7 581.0h1.2v1.2h-1.2zM123.3 520.7h1.2v1.2h-1.2zM103.0 574.2h1.2v1.2h-1.2zM139.7 508.5h1.2v1.2h-1.2zM112.1 537.9h1.2v1.2h-1.2zM104.5 552.5h1.2v1.2h-1.2zM114.5 556.5h1.2v1.2h-1.2zM133.2 502.5h1.2v1.2h-1.2zM107.3 566.4h1.2v1.2h-1.2zM96.9 574.5h1.2v1.2h-1.2zM95.9 580.2h1.2v1.2h-1.2zM155.2 482.2h1.2v1.2h-1.2zM153.9 477.7h1.2v1.2h-1.2zM103.8 554.8h1.2v1.2h-1.2zM98.2 583.6h1.2v1.2h-1.2zM96.8 586.5h1.2v1.2h-1.2zM117.2 526.8h1.2v1.2h-1.2zM97.3 579.7h1.2v1.2h-1.2zM128.9 530.3h1.2v1.2h-1.2zM96.4 585.6h1.2v1.2h-1.2zM149.3 483.8h1.2v1.2h-1.2zM98.3 580.0h1.2v1.2h-1.2zM117.0 527.0h1.2v1.2h-1.2zM102.1 575.4h1.2v1.2h-1.2zM109.1 540.1h1.2v1.2h-1.2zM137.3 497.2h1.2v1.2h-1.2zM121.5 540.8h1.2v1.2h-1.2zM97.1 578.0h1.2v1.2h-1.2zM98.0 567.9h1.2v1.2h-1.2zM131.0 503.6h1.2v1.2h-1.2zM136.3 498.5h1.2v1.2h-1.2zM144.0 490.3h1.2v1.2h-1.2zM100.1 565.3h1.2v1.2h-1.2zM109.4 563.8h1.2v1.2h-1.2zM138.6 512.1h1.2v1.2h-1.2zM155.9 480.5h1.2v1.2h-1.2zM98.1 576.5h1.2v1.2h-1.2zM98.1 572.7h1.2v1.2h-1.2zM132.9 501.1h1.2v1.2h-1.2zM132.3 502.8h1.2v1.2h-1.2zM153.9 482.7h1.2v1.2h-1.2zM124.7 515.5h1.2v1.2h-1.2zM96.6 586.5h1.2v1.2h-1.2zM99.9 583.2h1.2v1.2h-1.2zM123.9 517.0h1.2v1.2h-1.2zM148.6 484.9h1.2v1.2h-1.2zM97.1 578.8h1.2v1.2h-1.2zM107.4 566.2h1.2v1.2h-1.2zM119.4 545.8h1.2v1.2h-1.2zM103.5 557.1h1.2v1.2h-1.2zM116.3 552.6h1.2v1.2h-1.2zM120.7 522.8h1.2v1.2h-1.2zM152.0 487.3h1.2v1.2h-1.2zM114.9 534.4h1.2v1.2h-1.2zM109.3 540.3h1.2v1.2h-1.2zM105.4 567.9h1.2v1.2h-1.2zM149.2 482.7h1.2v1.2h-1.2zM109.0 540.4h1.2v1.2h-1.2zM107.5 544.9h1.2v1.2h-1.2zM97.5 581.7h1.2v1.2h-1.2zM133.3 501.0h1.2v1.2h-1.2zM96.1 584.4h1.2v1.2h-1.2zM152.4 482.5h1.2v1.2h-1.2zM135.3 498.8h1.2v1.2h-1.2zM98.5 582.0h1.2v1.2h-1.2zM105.5 571.6h1.2v1.2h-1.2zM128.2 508.5h1.2v1.2h-1.2zM135.9 516.6h1.2v1.2h-1.2zM96.0 585.9h1.2v1.2h-1.2zM132.8 502.6h1.2v1.2h-1.2zM118.0 526.2h1.2v1.2h-1.2zM104.0 570.7h1.2v1.2h-1.2zM133.6 522.0h1.2v1.2h-1.2zM117.5 526.9h1.2v1.2h-1.2zM97.3 575.4h1.2v1.2h-1.2zM116.2 551.8h1.2v1.2h-1.2zM100.7 576.3h1.2v1.2h-1.2zM132.8 502.2h1.2v1.2h-1.2zM109.0 539.8h1.2v1.2h-1.2zM98.4 583.5h1.2v1.2h-1.2zM96.9 579.3h1.2v1.2h-1.2zM153.6 486.3h1.2v1.2h-1.2zM154.9 476.1h1.2v1.2h-1.2zM104.7 569.0h1.2v1.2h-1.2zM120.1 523.8h1.2v1.2h-1.2zM105.4 550.7h1.2v1.2h-1.2zM154.5 483.0h1.2v1.2h-1.2zM98.7 582.5h1.2v1.2h-1.2zM103.8 573.5h1.2v1.2h-1.2zM100.6 583.5h1.2v1.2h-1.2zM104.0 555.8h1.2v1.2h-1.2zM99.6 579.5h1.2v1.2h-1.2zM102.2 559.1h1.2v1.2h-1.2zM100.2 582.3h1.2v1.2h-1.2zM109.2 540.9h1.2v1.2h-1.2zM99.6 577.0h1.2v1.2h-1.2zM111.6 538.9h1.2v1.2h-1.2zM114.2 555.7h1.2v1.2h-1.2zM122.8 520.4h1.2v1.2h-1.2zM134.6 500.6h1.2v1.2h-1.2zM154.9 481.7h1.2v1.2h-1.2zM128.4 531.2h1.2v1.2h-1.2zM140.0 509.6h1.2v1.2h-1.2zM127.6 508.6h1.2v1.2h-1.2zM129.4 505.0h1.2v1.2h-1.2zM145.3 489.1h1.2v1.2h-1.2zM116.9 529.6h1.2v1.2h-1.2zM105.2 566.7h1.2v1.2h-1.2zM101.8 561.7h1.2v1.2h-1.2zM129.0 530.2h1.2v1.2h-1.2zM99.1 579.8h1.2v1.2h-1.2zM100.0 564.5h1.2v1.2h-1.2zM100.7 577.3h1.2v1.2h-1.2zM104.5 573.5h1.2v1.2h-1.2zM124.6 540.4h1.2v1.2h-1.2zM150.6 492.9h1.2v1.2h-1.2zM131.8 503.3h1.2v1.2h-1.2zM99.7 576.3h1.2v1.2h-1.2zM105.0 569.7h1.2v1.2h-1.2zM122.6 522.6h1.2v1.2h-1.2zM156.5 476.0h1.2v1.2h-1.2zM125.2 515.6h1.2v1.2h-1.2zM97.5 578.8h1.2v1.2h-1.2zM150.7 489.3h1.2v1.2h-1.2zM148.5 496.8h1.2v1.2h-1.2zM109.0 564.1h1.2v1.2h-1.2zM109.1 562.8h1.2v1.2h-1.2zM99.5 582.2h1.2v1.2h-1.2zM102.2 561.0h1.2v1.2h-1.2z" fill="#272dde" fill-opacity="0.80"/>
<path d="M132.9 520.4h1.2v1.2h-1.2zM134.9 502.7h1.2v1.2h-1.2zM104.7 551.5h1.2v1.2h-1.2zM143.7 502.7h1.2v1.2h-1.2zM111.2 540.5h1.2v1.2h-1.2zM153.5 479.4h1.2v1.2h-1.2zM99.8 567.0h1.2v1.2h-1.2zM144.0 501.5h1.2v1.2h-1.2zM150.1 492.4h1.2v1.2h-1.2zM111.9 538.8h1.2v1.2h-1.2zM140.7 494.5h1.2v1.2h-1.2zM154.6 481.9h1.2v1.2h-1.2zM152.6 483.6h1.2v1.2h-1.2zM99.5 570.6h1.2v1.2h-1.2zM103.2 571.5h1.2v1.2h-1.2zM116.8 532.0h1.2v1.2h-1.2zM101.2 565.4h1.2v1.2h-1.2zM153.3 479.6h1.2v1.2h-1.2zM103.6 561.8h1.2v1.2h-1.2zM145.9 498.3h1.2v1.2h-1.2zM151.8 486.5h1.2v1.2h-1.2zM105.7 564.6h1.2v1.2h-1.2zM136.9 499.3h1.2v1.2h-1.2zM105.0 554.1h1.2v1.2h-1.2zM156.4 478.5h1.2v1.2h-1.2zM117.9 526.8h1.2v1.2h-1.2zM112.9 538.1h1.2v1.2h-1.2zM125.2 516.9h1.2v1.2h-1.2zM153.1 482.6h1.2v1.2h-1.2zM102.3 570.7h1.2v1.2h-1.2zM99.6 571.0h1.2v1.2h-1.2zM124.4 538.5h1.2v1.2h-1.2zM135.6 515.8h1.2v1.2h-1.2zM102.0 574.1h1.2v1.2h-1.2zM152.9 481.9h1.2v1.2h-1.2zM136.6 514.3h1.2v1.2h-1.2zM97.9 570.1h1.2v1.2h-1.2zM123.8 537.7h1.2v1.2h-1.2zM122.8 539.1h1.2v1.2h-1.2zM133.4 520.3h1.2v1.2h-1.2zM130.7 525.4h1.2v1.2h-1.2zM126.9 514.3h1.2v1.2h-1.2zM155.2 477.5h1.2v1.2h-1.2zM107.4 564.2h1.2v1.2h-1.2zM127.2 513.0h1.2v1.2h-1.2zM114.3 536.9h1.2v1.2h-1.2zM132.4 523.3h1.2v1.2h-1.2zM142.8 504.2h1.2v1.2h-1.2zM102.7 561.3h1.2v1.2h-1.2zM106.3 548.5h1.2v1.2h-1.2zM110.7 558.9h1.2v1.2h-1.2zM117.8 547.8h1.2v1.2h-1.2zM105.4 553.5h1.2v1.2h-1.2zM118.0 548.0h1.2v1.2h-1.2zM139.8 507.1h1.2v1.2h-1.2zM98.3 571.5h1.2v1.2h-1.2zM150.7 487.6h1.2v1.2h-1.2zM106.1 547.0h1.2v1.2h-1.2zM145.5 491.4h1.2v1.2h-1.2zM129.9 505.3h1.2v1.2h-1.2zM148.7 486.5h1.2v1.2h-1.2zM112.0 557.5h1.2v1.2h-1.2zM139.8 496.3h1.2v1.2h-1.2zM101.1 574.9h1.2v1.2h-1.2zM124.9 518.0h1.2v1.2h-1.2zM99.2 573.8h1.2v1.2h-1.2zM127.9 510.8h1.2v1.2h-1.2zM107.7 563.6h1.2v1.2h-1.2zM152.0 486.4h1.2v1.2h-1.2zM155.9 476.9h1.2v1.2h-1.2zM100.8 564.2h1.2v1.2h-1.2zM130.1 505.3h1.2v1.2h-1.2zM101.8 563.1h1.2v1.2h-1.2zM103.4 566.4h1.2v1.2h-1.2zM122.9 539.6h1.2v1.2h-1.2zM150.4 483.9h1.2v1.2h-1.2zM101.7 569.2h1.2v1.2h-1.2zM147.5 489.4h1.2v1.2h-1.2zM104.8 564.9h1.2v1.2h-1.2zM155.6 481.2h1.2v1.2h-1.2zM102.4 567.9h1.2v1.2h-1.2zM149.2 484.9h1.2v1.2h-1.2zM148.5 488.4h1.2v1.2h-1.2zM145.3 491.5h1.2v1.2h-1.2zM155.1 480.7h1.2v1.2h-1.2zM102.9 570.4h1.2v1.2h-1.2zM156.5 476.8h1.2v1.2h-1.2zM150.3 484.7h1.2v1.2h-1.2zM97.7 570.4h1.2v1.2h-1.2zM105.1 553.2h1.2v1.2h-1.2zM144.3 501.6h1.2v1.2h-1.2zM102.3 564.4h1.2v1.2h-1.2zM127.7 512.0h1.2v1.2h-1.2zM124.0 537.8h1.2v1.2h-1.2zM98.6 571.1h1.2v1.2h-1.2zM107.8 544.5h1.2v1.2h-1.2zM149.4 494.1h1.2v1.2h-1.2zM129.5 507.4h1.2v1.2h-1.2zM111.5 539.9h1.2v1.2h-1.2zM104.9 551.0h1.2v1.2h-1.2zM156.0 478.7h1.2v1.2h-1.2zM99.2 569.2h1.2v1.2h-1.2zM124.2 519.9h1.2v1.2h-1.2zM101.5 575.4h1.2v1.2h-1.2zM102.7 569.1h1.2v1.2h-1.2zM102.2 563.3h1.2v1.2h-1.2zM103.5 573.2h1.2v1.2h-1.2zM152.6 484.5h1.2v1.2h-1.2zM114.2 537.3h1.2v1.2h-1.2zM102.0 573.8h1.2v1.2h-1.2zM97.8 571.3h1.2v1.2h-1.2zM149.1 486.0h1.2v1.2h-1.2zM100.1 572.7h1.2v1.2h-1.2zM115.1 535.5h1.2v1.2h-1.2zM128.4 511.3h1.2v1.2h-1.2zM99.2 574.1h1.2v1.2h-1.2zM155.4 481.5h1.2v1.2h-1.2zM112.5 539.6h1.2v1.2h-1.2zM115.6 553.2h1.2v1.2h-1.2zM100.1 575.4h1.2v1.2h-1.2zM101.1 565.5h1.2v1.2h-1.2zM131.7 503.8h1.2v1.2h-1.2zM132.7 519.7h1.2v1.2h-1.2zM126.3 514.2h1.2v1.2h-1.2zM150.9 484.3h1.2v1.2h-1.2zM103.6 559.6h1.2v1.2h-1.2zM103.2 566.8h1.2v1.2h-1.2zM100.3 568.3h1.2v1.2h-1.2zM106.0 565.3h1.2v1.2h-1.2zM124.8 515.9h1.2v1.2h-1.2zM126.6 515.1h1.2v1.2h-1.2zM99.3 572.1h1.2v1.2h-1.2zM107.0 564.8h1.2v1.2h-1.2zM128.3 509.1h1.2v1.2h-1.2zM124.9 536.0h1.2v1.2h-1.2zM113.2 538.5h1.2v1.2h-1.2zM106.2 555.2h1.2v1.2h-1.2zM128.2 509.7h1.2v1.2h-1.2zM127.5 514.0h1.2v1.2h-1.2zM109.0 543.0h1.2v1.2h-1.2zM133.5 503.4h1.2v1.2h-1.2zM114.1 555.1h1.2v1.2h-1.2zM122.7 539.4h1.2v1.2h-1.2zM100.3 567.2h1.2v1.2h-1.2zM127.3 531.7h1.2v1.2h-1.2zM155.9 479.6h1.2v1.2h-1.2zM105.2 554.4h1.2v1.2h-1.2zM151.7 486.2h1.2v1.2h-1.2zM128.3 510.1h1.2v1.2h-1.2zM106.3 566.6h1.2v1.2h-1.2zM132.0 523.3h1.2v1.2h-1.2zM126.0 514.2h1.2v1.2h-1.2zM125.6 517.7h1.2v1.2h-1.2zM152.0 483.9h1.2v1.2h-1.2zM101.2 568.7h1.2v1.2h-1.2zM140.7 506.3h1.2v1.2h-1.2zM100.8 568.1h1.2v1.2h-1.2zM102.7 572.5h1.2v1.2h-1.2zM120.0 525.1h1.2v1.2h-1.2zM142.7 503.9h1.2v1.2h-1.2zM106.6 566.5h1.2v1.2h-1.2zM146.4 498.0h1.2v1.2h-1.2zM105.4 552.4h1.2v1.2h-1.2zM108.0 563.1h1.2v1.2h-1.2zM116.5 534.2h1.2v1.2h-1.2zM109.6 542.7h1.2v1.2h-1.2zM116.8 531.1h1.2v1.2h-1.2zM132.5 505.3h1.2v1.2h-1.2zM151.4 487.0h1.2v1.2h-1.2zM150.5 483.8h1.2v1.2h-1.2zM98.9 567.8h1.2v1.2h-1.2zM135.7 500.6h1.2v1.2h-1.2zM155.0 480.5h1.2v1.2h-1.2zM146.0 490.6h1.2v1.2h-1.2zM102.4 569.8h1.2v1.2h-1.2zM137.9 498.4h1.2v1.2h-1.2zM100.0 566.5h1.2v1.2h-1.2z" fill="#212be1" fill-opacity="0.85"/>
<path d="M118.6 547.0h1.2v1.2h-1.2zM150.3 488.0h1.2v1.2h-1.2zM124.3 537.2h1.2v1.2h-1.2zM140.3 497.2h1.2v1.2h-1.2zM103.1 563.7h1.2v1.2h-1.2zM149.0 488.2h1.2v1.2h-1.2zM102.3 573.5h1.2v1.2h-1.2zM105.6 562.8h1.2v1.2h-1.2zM137.1 499.8h1.2v1.2h-1.2zM101.5 566.2h1.2v1.2h-1.2zM109.6 544.5h1.2v1.2h-1.2zM144.0 491.9h1.2v1.2h-1.2zM104.6 565.1h1.2v1.2h-1.2zM101.9 566.2h1.2v1.2h-1.2zM149.8 487.3h1.2v1.2h-1.2zM106.2 553.4h1.2v1.2h-1.2zM118.4 547.3h1.2v1.2h-1.2zM99.9 572.2h1.2v1.2h-1.2zM108.4 562.3h1.2v1.2h-1.2zM155.0 477.8h1.2v1.2h-1.2zM100.7 573.2h1.2v1.2h-1.2zM106.3 551.1h1.2v1.2h-1.2zM107.0 562.4h1.2v1.2h-1.2zM129.0 527.6h1.2v1.2h-1.2zM118.3 546.3h1.2v1.2h-1.2zM115.5 552.3h1.2v1.2h-1.2zM115.0 536.1h1.2v1.2h-1.2zM125.4 519.8h1.2v1.2h-1.2zM155.6 478.8h1.2v1.2h-1.2zM151.6 485.0h1.2v1.2h-1.2zM104.4 565.5h1.2v1.2h-1.2zM100.7 565.7h1.2v1.2h-1.2zM105.6 558.2h1.2v1.2h-1.2zM122.3 524.0h1.2v1.2h-1.2zM118.0 546.4h1.2v1.2h-1.2zM125.4 519.6h1.2v1.2h-1.2zM104.0 558.8h1.2v1.2h-1.2zM101.3 570.6h1.2v1.2h-1.2zM135.7 501.3h1.2v1.2h-1.2zM113.2 538.8h1.2v1.2h-1.2zM101.1 566.2h1.2v1.2h-1.2zM104.1 562.0h1.2v1.2h-1.2zM151.5 484.7h1.2v1.2h-1.2zM100.4 572.4h1.2v1.2h-1.2zM104.5 560.4h1.2v1.2h-1.2zM101.3 569.9h1.2v1.2h-1.2zM117.7 527.8h1.2v1.2h-1.2zM104.6 564.8h1.2v1.2h-1.2zM153.9 479.1h1.2v1.2h-1.2zM112.8 555.5h1.2v1.2h-1.2zM139.2 498.6h1.2v1.2h-1.2zM149.8 490.2h1.2v1.2h-1.2zM126.7 516.6h1.2v1.2h-1.2zM110.0 560.3h1.2v1.2h-1.2zM104.6 560.9h1.2v1.2h-1.2zM104.6 565.0h1.2v1.2h-1.2zM117.2 547.9h1.2v1.2h-1.2zM105.1 562.3h1.2v1.2h-1.2zM153.9 479.1h1.2v1.2h-1.2zM104.5 563.6h1.2v1.2h-1.2zM105.6 564.4h1.2v1.2h-1.2zM139.6 499.4h1.2v1.2h-1.2zM141.5 494.8h1.2v1.2h-1.2zM101.7 573.7h1.2v1.2h-1.2zM114.8 552.4h1.2v1.2h-1.2zM103.9 557.7h1.2v1.2h-1.2zM150.3 490.1h1.2v1.2h-1.2zM102.0 566.7h1.2v1.2h-1.2zM129.0 527.1h1.2v1.2h-1.2zM112.1 556.1h1.2v1.2h-1.2zM100.8 573.2h1.2v1.2h-1.2zM122.0 539.1h1.2v1.2h-1.2zM133.5 504.8h1.2v1.2h-1.2zM150.4 488.3h1.2v1.2h-1.2zM155.4 478.0h1.2v1.2h-1.2zM124.5 536.8h1.2v1.2h-1.2zM100.3 570.8h1.2v1.2h-1.2zM109.9 543.7h1.2v1.2h-1.2zM155.0 478.7h1.2v1.2h-1.2zM100.2 570.5h1.2v1.2h-1.2zM140.0 497.3h1.2v1.2h-1.2zM149.7 487.3h1.2v1.2h-1.2zM120.2 526.6h1.2v1.2h-1.2zM135.8 513.1h1.2v1.2h-1.2zM130.9 505.8h1.2v1.2h-1.2zM147.8 494.8h1.2v1.2h-1.2zM101.4 567.6h1.2v1.2h-1.2zM135.9 502.7h1.2v1.2h-1.2zM130.2 506.9h1.2v1.2h-1.2zM128.7 510.5h1.2v1.2h-1.2zM136.5 501.0h1.2v1.2h-1.2zM117.9 529.6h1.2v1.2h-1.2zM151.5 484.8h1.2v1.2h-1.2zM105.8 561.8h1.2v1.2h-1.2zM103.2 565.6h1.2v1.2h-1.2zM126.9 516.4h1.2v1.2h-1.2zM116.3 535.0h1.2v1.2h-1.2zM143.7 491.9h1.2v1.2h-1.2zM148.9 487.8h1.2v1.2h-1.2zM138.1 510.3h1.2v1.2h-1.2zM138.3 499.9h1.2v1.2h-1.2zM128.5 513.2h1.2v1.2h-1.2zM103.9 558.6h1.2v1.2h-1.2zM149.4 488.5h1.2v1.2h-1.2zM105.6 558.3h1.2v1.2h-1.2zM100.1 568.7h1.2v1.2h-1.2zM109.5 544.5h1.2v1.2h-1.2zM105.7 553.8h1.2v1.2h-1.2zM143.4 503.0h1.2v1.2h-1.2zM133.8 505.7h1.2v1.2h-1.2zM153.8 480.2h1.2v1.2h-1.2zM129.9 526.2h1.2v1.2h-1.2zM153.9 480.3h1.2v1.2h-1.2zM104.6 559.5h1.2v1.2h-1.2zM100.9 573.5h1.2v1.2h-1.2zM108.8 544.2h1.2v1.2h-1.2zM119.8 541.4h1.2v1.2h-1.2zM104.8 562.0h1.2v1.2h-1.2zM121.1 524.8h1.2v1.2h-1.2zM105.7 553.5h1.2v1.2h-1.2zM100.8 573.6h1.2v1.2h-1.2zM107.6 546.8h1.2v1.2h-1.2zM135.1 515.2h1.2v1.2h-1.2zM135.9 502.5h1.2v1.2h-1.2zM126.1 534.1h1.2v1.2h-1.2zM103.0 565.2h1.2v1.2h-1.2zM105.4 558.5h1.2v1.2h-1.2zM131.2 505.9h1.2v1.2h-1.2zM136.5 501.5h1.2v1.2h-1.2zM137.0 500.2h1.2v1.2h-1.2zM135.5 503.1h1.2v1.2h-1.2zM100.9 571.3h1.2v1.2h-1.2zM142.1 493.8h1.2v1.2h-1.2zM144.3 499.7h1.2v1.2h-1.2zM142.4 503.8h1.2v1.2h-1.2zM130.7 524.6h1.2v1.2h-1.2zM113.2 555.2h1.2v1.2h-1.2zM125.3 520.5h1.2v1.2h-1.2zM139.2 497.7h1.2v1.2h-1.2zM135.4 503.4h1.2v1.2h-1.2zM154.4 480.5h1.2v1.2h-1.2zM117.4 532.8h1.2v1.2h-1.2zM125.0 520.2h1.2v1.2h-1.2zM104.9 561.7h1.2v1.2h-1.2zM155.5 478.9h1.2v1.2h-1.2zM103.9 562.3h1.2v1.2h-1.2zM126.8 514.7h1.2v1.2h-1.2zM115.0 536.4h1.2v1.2h-1.2zM130.9 524.7h1.2v1.2h-1.2z" fill="#1b29e5" fill-opacity="0.90"/>
<path d="M122.9 523.6h1.2v1.2h-1.2zM119.9 540.5h1.2v1.2h-1.2zM126.8 530.0h1.2v1.2h-1.2zM127.3 516.9h1.2v1.2h-1.2zM148.3 494.3h1.2v1.2h-1.2zM130.3 508.4h1.2v1.2h-1.2zM144.6 499.3h1.2v1.2h-1.2zM115.9 536.0h1.2v1.2h-1.2zM118.0 544.9h1.2v1.2h-1.2zM143.1 501.4h1.2v1.2h-1.2zM107.6 549.5h1.2v1.2h-1.2zM147.7 489.6h1.2v1.2h-1.2zM115.6 551.6h1.2v1.2h-1.2zM118.6 532.2h1.2v1.2h-1.2zM140.3 498.2h1.2v1.2h-1.2zM108.7 545.2h1.2v1.2h-1.2zM106.3 558.1h1.2v1.2h-1.2zM142.6 503.0h1.2v1.2h-1.2zM109.7 559.1h1.2v1.2h-1.2zM132.2 520.7h1.2v1.2h-1.2zM119.4 527.0h1.2v1.2h-1.2zM131.9 519.8h1.2v1.2h-1.2zM141.1 496.8h1.2v1.2h-1.2zM130.7 522.5h1.2v1.2h-1.2zM141.0 497.2h1.2v1.2h-1.2zM125.6 535.3h1.2v1.2h-1.2zM133.0 518.1h1.2v1.2h-1.2zM142.6 495.6h1.2v1.2h-1.2zM105.4 558.9h1.2v1.2h-1.2zM130.8 523.2h1.2v1.2h-1.2zM107.8 546.3h1.2v1.2h-1.2zM130.4 524.7h1.2v1.2h-1.2zM118.6 544.1h1.2v1.2h-1.2zM138.2 501.6h1.2v1.2h-1.2zM139.2 500.2h1.2v1.2h-1.2zM134.9 514.5h1.2v1.2h-1.2zM140.7 496.0h1.2v1.2h-1.2zM130.2 508.0h1.2v1.2h-1.2zM147.7 494.2h1.2v1.2h-1.2zM124.9 521.3h1.2v1.2h-1.2zM113.1 540.5h1.2v1.2h-1.2zM122.5 538.2h1.2v1.2h-1.2zM149.3 491.9h1.2v1.2h-1.2zM131.5 507.0h1.2v1.2h-1.2zM108.9 561.0h1.2v1.2h-1.2zM122.3 538.5h1.2v1.2h-1.2zM126.8 517.3h1.2v1.2h-1.2zM118.1 532.1h1.2v1.2h-1.2zM131.3 523.1h1.2v1.2h-1.2zM144.7 492.6h1.2v1.2h-1.2zM142.8 501.4h1.2v1.2h-1.2zM141.8 495.5h1.2v1.2h-1.2zM128.3 527.7h1.2v1.2h-1.2zM109.4 545.4h1.2v1.2h-1.2zM112.7 539.9h1.2v1.2h-1.2zM109.9 559.6h1.2v1.2h-1.2zM123.5 523.3h1.2v1.2h-1.2zM143.1 500.7h1.2v1.2h-1.2zM117.1 535.3h1.2v1.2h-1.2zM135.1 504.9h1.2v1.2h-1.2zM105.6 561.2h1.2v1.2h-1.2zM133.0 506.7h1.2v1.2h-1.2zM134.7 505.6h1.2v1.2h-1.2zM132.5 505.9h1.2v1.2h-1.2zM129.6 514.5h1.2v1.2h-1.2zM105.4 559.6h1.2v1.2h-1.2zM144.0 499.4h1.2v1.2h-1.2zM127.4 517.9h1.2v1.2h-1.2zM128.8 513.0h1.2v1.2h-1.2zM146.8 496.0h1.2v1.2h-1.2zM107.7 561.6h1.2v1.2h-1.2zM117.8 543.9h1.2v1.2h-1.2zM127.5 529.9h1.2v1.2h-1.2zM132.0 519.7h1.2v1.2h-1.2zM106.7 548.6h1.2v1.2h-1.2zM148.7 489.4h1.2v1.2h-1.2zM128.9 513.5h1.2v1.2h-1.2zM109.5 560.9h1.2v1.2h-1.2zM130.4 525.4h1.2v1.2h-1.2zM132.2 505.8h1.2v1.2h-1.2zM141.8 503.1h1.2v1.2h-1.2zM132.9 517.9h1.2v1.2h-1.2zM132.1 520.2h1.2v1.2h-1.2zM115.9 536.0h1.2v1.2h-1.2zM118.1 531.1h1.2v1.2h-1.2zM107.3 555.2h1.2v1.2h-1.2zM129.2 513.1h1.2v1.2h-1.2zM134.6 516.0h1.2v1.2h-1.2zM130.1 508.2h1.2v1.2h-1.2zM107.3 549.7h1.2v1.2h-1.2zM125.8 533.4h1.2v1.2h-1.2zM124.6 536.3h1.2v1.2h-1.2zM124.9 521.4h1.2v1.2h-1.2zM122.4 538.4h1.2v1.2h-1.2zM146.8 490.1h1.2v1.2h-1.2zM131.1 522.0h1.2v1.2h-1.2zM108.3 561.2h1.2v1.2h-1.2zM120.2 540.0h1.2v1.2h-1.2zM105.9 558.2h1.2v1.2h-1.2zM146.7 495.8h1.2v1.2h-1.2zM147.9 494.4h1.2v1.2h-1.2zM128.4 514.9h1.2v1.2h-1.2zM143.2 502.1h1.2v1.2h-1.2zM137.1 501.4h1.2v1.2h-1.2zM140.2 499.0h1.2v1.2h-1.2zM122.7 536.7h1.2v1.2h-1.2zM140.3 497.7h1.2v1.2h-1.2zM137.6 510.8h1.2v1.2h-1.2zM122.7 537.1h1.2v1.2h-1.2zM124.1 522.6h1.2v1.2h-1.2zM132.1 506.6h1.2v1.2h-1.2zM117.7 545.3h1.2v1.2h-1.2zM144.8 497.7h1.2v1.2h-1.2zM123.4 523.6h1.2v1.2h-1.2zM104.7 560.8h1.2v1.2h-1.2z" fill="#1439eb" fill-opacity="0.95"/>
<path d="M143.5 499.1h1.2v1.2h-1.2zM105.7 559.3h1.2v1.2h-1.2zM139.3 501.5h1.2v1.2h-1.2zM131.7 519.7h1.2v1.2h-1.2zM119.9 527.2h1.2v1.2h-1.2zM107.3 551.5h1.2v1.2h-1.2zM112.6 555.0h1.2v1.2h-1.2zM133.3 517.4h1.2v1.2h-1.2zM109.3 559.9h1.2v1.2h-1.2zM114.2 539.1h1.2v1.2h-1.2zM114.5 553.0h1.2v1.2h-1.2zM132.1 507.2h1.2v1.2h-1.2zM124.0 523.5h1.2v1.2h-1.2zM130.6 510.2h1.2v1.2h-1.2zM126.9 529.3h1.2v1.2h-1.2zM126.9 529.5h1.2v1.2h-1.2zM130.2 510.2h1.2v1.2h-1.2zM107.0 554.4h1.2v1.2h-1.2zM141.6 504.6h1.2v1.2h-1.2zM130.7 520.8h1.2v1.2h-1.2zM141.1 500.2h1.2v1.2h-1.2zM117.6 546.9h1.2v1.2h-1.2zM110.6 557.7h1.2v1.2h-1.2zM143.0 499.9h1.2v1.2h-1.2zM141.1 498.8h1.2v1.2h-1.2zM106.1 560.1h1.2v1.2h-1.2zM129.1 526.0h1.2v1.2h-1.2zM147.4 490.9h1.2v1.2h-1.2zM116.1 537.1h1.2v1.2h-1.2zM122.8 524.6h1.2v1.2h-1.2zM106.8 551.8h1.2v1.2h-1.2zM111.9 555.3h1.2v1.2h-1.2zM109.4 546.1h1.2v1.2h-1.2zM132.9 516.9h1.2v1.2h-1.2zM143.6 494.5h1.2v1.2h-1.2zM107.2 561.0h1.2v1.2h-1.2zM139.1 500.7h1.2v1.2h-1.2zM144.1 493.5h1.2v1.2h-1.2zM120.0 538.9h1.2v1.2h-1.2zM129.8 510.8h1.2v1.2h-1.2zM148.6 490.8h1.2v1.2h-1.2zM119.1 541.1h1.2v1.2h-1.2zM132.0 507.2h1.2v1.2h-1.2zM129.4 526.5h1.2v1.2h-1.2zM117.0 547.4h1.2v1.2h-1.2zM118.3 534.7h1.2v1.2h-1.2zM118.9 528.2h1.2v1.2h-1.2zM130.2 510.8h1.2v1.2h-1.2zM143.2 499.3h1.2v1.2h-1.2zM105.5 560.6h1.2v1.2h-1.2zM126.8 519.5h1.2v1.2h-1.2zM142.1 500.6h1.2v1.2h-1.2zM147.0 492.2h1.2v1.2h-1.2zM138.6 508.8h1.2v1.2h-1.2zM142.4 502.3h1.2v1.2h-1.2zM118.0 543.2h1.2v1.2h-1.2zM129.1 525.8h1.2v1.2h-1.2zM149.2 490.7h1.2v1.2h-1.2zM142.7 500.6h1.2v1.2h-1.2zM135.9 512.1h1.2v1.2h-1.2zM108.3 547.2h1.2v1.2h-1.2zM136.4 511.9h1.2v1.2h-1.2zM119.5 528.1h1.2v1.2h-1.2zM113.8 539.2h1.2v1.2h-1.2zM137.5 501.9h1.2v1.2h-1.2zM106.8 560.7h1.2v1.2h-1.2zM147.7 491.0h1.2v1.2h-1.2zM142.4 501.9h1.2v1.2h-1.2zM106.8 558.3h1.2v1.2h-1.2zM147.7 491.4h1.2v1.2h-1.2zM111.1 543.4h1.2v1.2h-1.2zM133.4 517.1h1.2v1.2h-1.2zM133.3 517.6h1.2v1.2h-1.2zM147.8 493.2h1.2v1.2h-1.2zM127.6 518.8h1.2v1.2h-1.2zM129.1 514.8h1.2v1.2h-1.2zM149.1 490.8h1.2v1.2h-1.2zM109.3 560.6h1.2v1.2h-1.2zM127.1 519.7h1.2v1.2h-1.2zM110.7 543.2h1.2v1.2h-1.2zM149.5 489.9h1.2v1.2h-1.2zM116.0 536.9h1.2v1.2h-1.2zM120.7 538.3h1.2v1.2h-1.2zM149.5 489.9h1.2v1.2h-1.2zM111.3 543.1h1.2v1.2h-1.2zM136.5 504.0h1.2v1.2h-1.2zM122.4 525.1h1.2v1.2h-1.2zM123.9 523.3h1.2v1.2h-1.2zM141.2 502.6h1.2v1.2h-1.2zM140.8 498.2h1.2v1.2h-1.2zM109.6 560.5h1.2v1.2h-1.2zM124.8 522.7h1.2v1.2h-1.2zM136.2 503.8h1.2v1.2h-1.2zM128.2 516.8h1.2v1.2h-1.2zM126.6 521.7h1.2v1.2h-1.2zM135.8 512.4h1.2v1.2h-1.2zM142.3 500.7h1.2v1.2h-1.2zM109.6 546.2h1.2v1.2h-1.2zM114.8 538.0h1.2v1.2h-1.2zM126.4 521.5h1.2v1.2h-1.2zM126.5 520.7h1.2v1.2h-1.2zM147.9 492.9h1.2v1.2h-1.2zM147.7 490.5h1.2v1.2h-1.2zM143.1 500.3h1.2v1.2h-1.2zM117.0 546.9h1.2v1.2h-1.2zM148.8 491.1h1.2v1.2h-1.2zM110.3 558.0h1.2v1.2h-1.2zM134.4 515.0h1.2v1.2h-1.2zM107.6 550.9h1.2v1.2h-1.2zM149.0 489.9h1.2v1.2h-1.2zM122.0 524.8h1.2v1.2h-1.2zM126.3 520.1h1.2v1.2h-1.2zM116.0 537.4h1.2v1.2h-1.2zM121.5 525.8h1.2v1.2h-1.2zM139.9 501.0h1.2v1.2h-1.2zM131.0 521.3h1.2v1.2h-1.2zM142.9 493.8h1.2v1.2h-1.2zM106.3 559.3h1.2v1.2h-1.2zM143.9 493.7h1.2v1.2h-1.2zM145.9 492.1h1.2v1.2h-1.2zM136.3 512.6h1.2v1.2h-1.2zM118.6 533.7h1.2v1.2h-1.2zM140.9 502.6h1.2v1.2h-1.2zM116.4 537.4h1.2v1.2h-1.2zM130.6 513.5h1.2v1.2h-1.2zM127.4 529.7h1.2v1.2h-1.2zM119.8 539.5h1.2v1.2h-1.2zM128.3 527.6h1.2v1.2h-1.2zM148.7 490.4h1.2v1.2h-1.2zM128.0 516.5h1.2v1.2h-1.2zM124.3 523.1h1.2v1.2h-1.2zM140.3 500.8h1.2v1.2h-1.2zM118.1 533.6h1.2v1.2h-1.2zM108.8 559.9h1.2v1.2h-1.2zM148.9 490.9h1.2v1.2h-1.2zM128.9 515.2h1.2v1.2h-1.2zM147.6 491.5h1.2v1.2h-1.2zM148.4 491.2h1.2v1.2h-1.2zM126.0 532.1h1.2v1.2h-1.2zM109.6 546.5h1.2v1.2h-1.2zM105.1 560.4h1.2v1.2h-1.2zM124.3 523.4h1.2v1.2h-1.2zM110.7 556.5h1.2v1.2h-1.2zM129.8 510.9h1.2v1.2h-1.2zM137.7 509.3h1.2v1.2h-1.2zM107.9 548.4h1.2v1.2h-1.2zM123.3 524.3h1.2v1.2h-1.2zM147.9 490.9h1.2v1.2h-1.2zM142.0 501.8h1.2v1.2h-1.2zM118.0 533.0h1.2v1.2h-1.2zM124.2 522.8h1.2v1.2h-1.2zM105.8 560.1h1.2v1.2h-1.2zM143.8 498.2h1.2v1.2h-1.2zM121.6 526.5h1.2v1.2h-1.2zM140.9 503.1h1.2v1.2h-1.2zM141.2 504.4h1.2v1.2h-1.2zM107.9 547.6h1.2v1.2h-1.2zM127.9 527.6h1.2v1.2h-1.2zM139.0 501.2h1.2v1.2h-1.2zM148.4 492.1h1.2v1.2h-1.2zM108.7 560.1h1.2v1.2h-1.2zM107.4 553.6h1.2v1.2h-1.2zM107.8 548.6h1.2v1.2h-1.2zM120.0 527.5h1.2v1.2h-1.2zM130.1 510.4h1.2v1.2h-1.2zM128.4 527.4h1.2v1.2h-1.2zM141.5 499.1h1.2v1.2h-1.2zM128.0 516.2h1.2v1.2h-1.2zM148.1 491.2h1.2v1.2h-1.2zM141.4 503.3h1.2v1.2h-1.2z" fill="#0d55f2" fill-opacity="1.00"/>
<path d="M109.5 546.8h1.2v1.2h-1.2zM145.4 497.3h1.2v1.2h-1.2zM144.7 497.2h1.2v1.2h-1.2zM128.5 526.1h1.2v1.2h-1.2zM120.4 527.8h1.2v1.2h-1.2zM119.5 530.7h1.2v1.2h-1.2zM142.2 497.5h1.2v1.2h-1.2zM114.9 549.2h1.2v1.2h-1.2zM118.9 540.2h1.2v1.2h-1.2zM119.5 530.5h1.2v1.2h-1.2zM106.7 558.8h1.2v1.2h-1.2zM121.4 536.7h1.2v1.2h-1.2zM147.3 495.5h1.2v1.2h-1.2zM122.6 526.6h1.2v1.2h-1.2zM119.3 531.5h1.2v1.2h-1.2zM126.4 522.6h1.2v1.2h-1.2zM108.5 548.7h1.2v1.2h-1.2zM140.4 502.2h1.2v1.2h-1.2zM132.7 516.0h1.2v1.2h-1.2zM116.6 538.5h1.2v1.2h-1.2zM139.2 502.3h1.2v1.2h-1.2zM119.2 539.9h1.2v1.2h-1.2zM147.2 494.2h1.2v1.2h-1.2zM128.2 526.7h1.2v1.2h-1.2zM117.1 536.5h1.2v1.2h-1.2zM118.7 529.3h1.2v1.2h-1.2zM110.4 556.9h1.2v1.2h-1.2zM147.4 495.1h1.2v1.2h-1.2zM120.8 527.7h1.2v1.2h-1.2zM142.5 497.2h1.2v1.2h-1.2zM130.8 508.4h1.2v1.2h-1.2zM116.6 548.1h1.2v1.2h-1.2zM123.5 536.5h1.2v1.2h-1.2zM107.3 560.0h1.2v1.2h-1.2zM126.1 522.6h1.2v1.2h-1.2zM138.0 508.3h1.2v1.2h-1.2zM120.3 537.9h1.2v1.2h-1.2zM109.6 546.9h1.2v1.2h-1.2zM107.9 549.7h1.2v1.2h-1.2zM119.6 528.8h1.2v1.2h-1.2zM142.2 497.2h1.2v1.2h-1.2zM116.3 548.4h1.2v1.2h-1.2zM124.6 524.5h1.2v1.2h-1.2zM108.5 556.5h1.2v1.2h-1.2zM143.4 494.7h1.2v1.2h-1.2zM108.4 556.7h1.2v1.2h-1.2zM122.8 526.0h1.2v1.2h-1.2zM142.2 497.8h1.2v1.2h-1.2zM135.4 506.0h1.2v1.2h-1.2zM118.0 542.3h1.2v1.2h-1.2zM116.6 548.0h1.2v1.2h-1.2zM132.8 507.7h1.2v1.2h-1.2zM146.3 492.8h1.2v1.2h-1.2zM123.1 525.9h1.2v1.2h-1.2zM140.3 505.7h1.2v1.2h-1.2zM121.9 526.5h1.2v1.2h-1.2zM127.6 520.3h1.2v1.2h-1.2zM118.7 529.6h1.2v1.2h-1.2zM121.7 526.4h1.2v1.2h-1.2zM108.2 556.5h1.2v1.2h-1.2zM143.2 494.8h1.2v1.2h-1.2zM147.4 493.8h1.2v1.2h-1.2zM107.9 559.1h1.2v1.2h-1.2zM109.8 556.7h1.2v1.2h-1.2zM113.0 554.6h1.2v1.2h-1.2zM137.2 509.8h1.2v1.2h-1.2zM129.5 525.2h1.2v1.2h-1.2zM110.0 557.0h1.2v1.2h-1.2zM124.5 524.1h1.2v1.2h-1.2zM131.1 508.5h1.2v1.2h-1.2zM128.2 526.1h1.2v1.2h-1.2zM118.0 542.5h1.2v1.2h-1.2zM145.1 496.7h1.2v1.2h-1.2zM117.2 546.0h1.2v1.2h-1.2zM140.4 505.4h1.2v1.2h-1.2zM114.5 540.6h1.2v1.2h-1.2zM142.3 498.9h1.2v1.2h-1.2zM119.4 539.9h1.2v1.2h-1.2zM123.3 535.9h1.2v1.2h-1.2zM117.6 537.4h1.2v1.2h-1.2zM144.7 492.9h1.2v1.2h-1.2zM131.1 508.6h1.2v1.2h-1.2zM107.2 559.9h1.2v1.2h-1.2zM108.8 559.2h1.2v1.2h-1.2zM118.7 531.4h1.2v1.2h-1.2zM129.1 525.1h1.2v1.2h-1.2zM108.4 549.5h1.2v1.2h-1.2zM142.6 497.7h1.2v1.2h-1.2zM117.7 535.5h1.2v1.2h-1.2zM119.3 530.5h1.2v1.2h-1.2zM145.1 497.3h1.2v1.2h-1.2zM140.5 501.7h1.2v1.2h-1.2zM145.3 497.2h1.2v1.2h-1.2zM108.3 556.9h1.2v1.2h-1.2zM118.7 531.5h1.2v1.2h-1.2zM141.7 497.8h1.2v1.2h-1.2zM147.3 493.7h1.2v1.2h-1.2zM142.7 495.6h1.2v1.2h-1.2zM127.5 528.1h1.2v1.2h-1.2zM145.6 493.3h1.2v1.2h-1.2zM108.6 556.6h1.2v1.2h-1.2zM129.7 523.1h1.2v1.2h-1.2zM123.5 524.7h1.2v1.2h-1.2zM109.6 547.2h1.2v1.2h-1.2zM121.2 527.1h1.2v1.2h-1.2zM107.8 548.9h1.2v1.2h-1.2zM116.9 536.1h1.2v1.2h-1.2zM107.5 560.0h1.2v1.2h-1.2zM129.9 523.1h1.2v1.2h-1.2zM146.9 494.1h1.2v1.2h-1.2zM130.6 523.0h1.2v1.2h-1.2zM108.5 559.9h1.2v1.2h-1.2zM119.9 538.4h1.2v1.2h-1.2zM145.3 492.7h1.2v1.2h-1.2zM126.3 522.3h1.2v1.2h-1.2zM127.5 527.4h1.2v1.2h-1.2zM116.5 548.2h1.2v1.2h-1.2zM137.8 502.4h1.2v1.2h-1.2zM117.0 536.2h1.2v1.2h-1.2zM120.9 527.5h1.2v1.2h-1.2zM120.1 528.3h1.2v1.2h-1.2zM127.4 520.6h1.2v1.2h-1.2zM142.2 499.1h1.2v1.2h-1.2zM142.6 499.7h1.2v1.2h-1.2zM114.3 540.6h1.2v1.2h-1.2z" fill="#0571fa" fill-opacity="1.00"/>
<path d="M120.5 529.1h1.2v1.2h-1.2zM140.6 504.5h1.2v1.2h-1.2zM112.1 543.4h1.2v1.2h-1.2zM128.7 523.2h1.2v1.2h-1.2zM133.7 514.6h1.2v1.2h-1.2zM117.9 540.5h1.2v1.2h-1.2zM119.7 537.7h1.2v1.2h-1.2zM135.7 511.0h1.2v1.2h-1.2zM140.3 504.7h1.2v1.2h-1.2zM128.6 519.9h1.2v1.2h-1.2zM143.5 495.8h1.2v1.2h-1.2zM126.6 526.3h1.2v1.2h-1.2zM119.6 532.1h1.2v1.2h-1.2zM125.3 523.8h1.2v1.2h-1.2zM131.2 510.4h1.2v1.2h-1.2zM120.5 529.1h1.2v1.2h-1.2zM136.0 511.7h1.2v1.2h-1.2zM118.1 536.1h1.2v1.2h-1.2zM125.8 524.0h1.2v1.2h-1.2zM128.6 520.2h1.2v1.2h-1.2zM139.4 506.4h1.2v1.2h-1.2zM143.4 496.1h1.2v1.2h-1.2zM129.4 521.2h1.2v1.2h-1.2zM118.2 541.0h1.2v1.2h-1.2zM118.6 538.0h1.2v1.2h-1.2zM108.3 558.7h1.2v1.2h-1.2zM131.9 516.8h1.2v1.2h-1.2zM129.7 521.6h1.2v1.2h-1.2zM119.6 537.5h1.2v1.2h-1.2zM124.7 524.2h1.2v1.2h-1.2zM112.8 542.6h1.2v1.2h-1.2zM126.0 527.2h1.2v1.2h-1.2zM108.9 558.6h1.2v1.2h-1.2zM116.9 537.8h1.2v1.2h-1.2zM146.0 496.5h1.2v1.2h-1.2zM128.2 519.7h1.2v1.2h-1.2zM127.7 519.6h1.2v1.2h-1.2zM131.6 511.8h1.2v1.2h-1.2zM129.1 521.3h1.2v1.2h-1.2zM125.7 527.4h1.2v1.2h-1.2zM115.7 539.1h1.2v1.2h-1.2zM129.7 515.5h1.2v1.2h-1.2zM119.5 532.9h1.2v1.2h-1.2zM108.0 550.1h1.2v1.2h-1.2zM109.4 557.9h1.2v1.2h-1.2zM130.5 514.9h1.2v1.2h-1.2zM124.4 526.5h1.2v1.2h-1.2zM118.0 541.4h1.2v1.2h-1.2zM125.8 523.6h1.2v1.2h-1.2zM116.6 538.9h1.2v1.2h-1.2zM126.8 525.0h1.2v1.2h-1.2zM126.1 524.4h1.2v1.2h-1.2zM108.0 557.8h1.2v1.2h-1.2zM126.2 523.2h1.2v1.2h-1.2zM123.8 526.5h1.2v1.2h-1.2zM129.3 517.1h1.2v1.2h-1.2zM122.1 535.7h1.2v1.2h-1.2zM114.2 552.2h1.2v1.2h-1.2zM126.6 526.1h1.2v1.2h-1.2zM128.8 522.5h1.2v1.2h-1.2zM123.7 525.8h1.2v1.2h-1.2zM119.5 537.7h1.2v1.2h-1.2zM114.4 551.8h1.2v1.2h-1.2zM144.0 497.4h1.2v1.2h-1.2zM112.9 542.5h1.2v1.2h-1.2zM118.1 538.3h1.2v1.2h-1.2zM130.6 515.3h1.2v1.2h-1.2zM119.1 531.9h1.2v1.2h-1.2zM117.3 538.9h1.2v1.2h-1.2zM126.4 525.2h1.2v1.2h-1.2zM109.4 558.5h1.2v1.2h-1.2zM127.1 525.3h1.2v1.2h-1.2zM122.6 527.5h1.2v1.2h-1.2zM117.8 536.7h1.2v1.2h-1.2zM121.9 526.8h1.2v1.2h-1.2zM144.2 494.5h1.2v1.2h-1.2zM118.8 539.6h1.2v1.2h-1.2zM120.2 537.3h1.2v1.2h-1.2zM128.6 521.9h1.2v1.2h-1.2zM108.1 558.7h1.2v1.2h-1.2zM119.4 537.2h1.2v1.2h-1.2zM110.1 556.2h1.2v1.2h-1.2zM109.6 547.8h1.2v1.2h-1.2zM131.2 512.7h1.2v1.2h-1.2zM119.0 534.4h1.2v1.2h-1.2zM130.8 512.1h1.2v1.2h-1.2zM118.9 538.2h1.2v1.2h-1.2zM108.6 554.7h1.2v1.2h-1.2zM128.2 522.7h1.2v1.2h-1.2zM117.3 543.9h1.2v1.2h-1.2zM125.8 524.8h1.2v1.2h-1.2zM129.1 523.3h1.2v1.2h-1.2zM118.6 536.8h1.2v1.2h-1.2zM132.0 508.3h1.2v1.2h-1.2zM125.6 525.5h1.2v1.2h-1.2zM117.8 541.7h1.2v1.2h-1.2zM128.6 520.6h1.2v1.2h-1.2zM128.7 524.7h1.2v1.2h-1.2zM110.5 546.7h1.2v1.2h-1.2zM126.9 523.5h1.2v1.2h-1.2zM110.5 555.9h1.2v1.2h-1.2zM118.6 541.6h1.2v1.2h-1.2zM129.8 521.3h1.2v1.2h-1.2zM129.5 522.1h1.2v1.2h-1.2zM129.3 524.6h1.2v1.2h-1.2zM109.2 557.8h1.2v1.2h-1.2zM108.2 550.1h1.2v1.2h-1.2zM109.3 547.9h1.2v1.2h-1.2zM118.6 538.0h1.2v1.2h-1.2zM132.0 508.2h1.2v1.2h-1.2zM123.0 527.6h1.2v1.2h-1.2zM122.9 527.2h1.2v1.2h-1.2zM127.2 525.0h1.2v1.2h-1.2zM131.3 512.1h1.2v1.2h-1.2zM144.4 494.6h1.2v1.2h-1.2zM125.9 530.6h1.2v1.2h-1.2zM144.4 494.2h1.2v1.2h-1.2zM120.2 537.7h1.2v1.2h-1.2zM143.8 496.8h1.2v1.2h-1.2zM131.0 510.3h1.2v1.2h-1.2zM117.9 540.1h1.2v1.2h-1.2zM131.1 511.7h1.2v1.2h-1.2zM119.6 533.0h1.2v1.2h-1.2zM126.3 522.9h1.2v1.2h-1.2zM118.0 539.7h1.2v1.2h-1.2zM127.9 519.8h1.2v1.2h-1.2zM120.3 528.8h1.2v1.2h-1.2zM119.6 537.4h1.2v1.2h-1.2zM133.7 514.6h1.2v1.2h-1.2zM127.9 522.0h1.2v1.2h-1.2zM143.2 496.3h1.2v1.2h-1.2zM118.7 535.7h1.2v1.2h-1.2zM119.0 536.9h1.2v1.2h-1.2zM118.3 540.3h1.2v1.2h-1.2zM108.6 554.3h1.2v1.2h-1.2zM118.0 537.0h1.2v1.2h-1.2zM130.1 521.3h1.2v1.2h-1.2zM113.8 552.3h1.2v1.2h-1.2zM131.4 510.4h1.2v1.2h-1.2zM129.9 515.0h1.2v1.2h-1.2zM119.2 539.0h1.2v1.2h-1.2zM129.4 522.9h1.2v1.2h-1.2zM146.1 496.1h1.2v1.2h-1.2z" fill="#008efb" fill-opacity="1.00"/>
<path d="M126.9 524.4h1.2v1.2h-1.2zM112.2 554.2h1.2v1.2h-1.2zM145.5 496.4h1.2v1.2h-1.2zM108.1 550.9h1.2v1.2h-1.2zM113.9 541.6h1.2v1.2h-1.2zM123.2 528.2h1.2v1.2h-1.2zM145.6 496.3h1.2v1.2h-1.2zM127.9 523.8h1.2v1.2h-1.2zM108.5 552.0h1.2v1.2h-1.2zM108.6 553.3h1.2v1.2h-1.2zM108.9 554.9h1.2v1.2h-1.2zM125.1 533.3h1.2v1.2h-1.2zM137.2 504.5h1.2v1.2h-1.2zM109.8 555.0h1.2v1.2h-1.2zM135.4 512.4h1.2v1.2h-1.2zM109.3 556.4h1.2v1.2h-1.2zM120.5 534.9h1.2v1.2h-1.2zM114.1 541.4h1.2v1.2h-1.2zM120.1 531.3h1.2v1.2h-1.2zM145.0 493.9h1.2v1.2h-1.2zM146.2 495.6h1.2v1.2h-1.2zM111.6 545.6h1.2v1.2h-1.2zM122.1 528.3h1.2v1.2h-1.2zM117.0 539.8h1.2v1.2h-1.2zM121.4 529.6h1.2v1.2h-1.2zM126.0 528.5h1.2v1.2h-1.2zM129.6 517.7h1.2v1.2h-1.2zM120.6 534.5h1.2v1.2h-1.2zM131.4 517.2h1.2v1.2h-1.2zM131.6 518.9h1.2v1.2h-1.2zM120.3 533.9h1.2v1.2h-1.2zM108.5 553.0h1.2v1.2h-1.2zM120.0 533.6h1.2v1.2h-1.2zM132.9 515.5h1.2v1.2h-1.2zM125.4 533.1h1.2v1.2h-1.2zM120.4 530.0h1.2v1.2h-1.2zM120.2 530.5h1.2v1.2h-1.2zM131.1 517.2h1.2v1.2h-1.2zM110.3 547.0h1.2v1.2h-1.2zM139.4 503.3h1.2v1.2h-1.2zM129.1 518.7h1.2v1.2h-1.2zM126.1 529.5h1.2v1.2h-1.2zM110.7 545.0h1.2v1.2h-1.2zM138.4 507.2h1.2v1.2h-1.2zM117.2 543.7h1.2v1.2h-1.2zM109.9 547.4h1.2v1.2h-1.2zM110.5 555.4h1.2v1.2h-1.2zM111.7 553.8h1.2v1.2h-1.2zM120.0 535.0h1.2v1.2h-1.2zM129.7 516.8h1.2v1.2h-1.2zM115.7 547.2h1.2v1.2h-1.2zM146.4 495.0h1.2v1.2h-1.2zM131.0 518.9h1.2v1.2h-1.2zM145.9 495.2h1.2v1.2h-1.2zM120.2 534.2h1.2v1.2h-1.2zM122.6 527.9h1.2v1.2h-1.2zM116.0 540.1h1.2v1.2h-1.2zM144.2 496.6h1.2v1.2h-1.2zM113.9 549.8h1.2v1.2h-1.2zM126.3 529.0h1.2v1.2h-1.2zM136.8 509.2h1.2v1.2h-1.2zM126.6 528.9h1.2v1.2h-1.2zM119.8 532.3h1.2v1.2h-1.2zM129.0 520.6h1.2v1.2h-1.2zM128.3 524.2h1.2v1.2h-1.2zM136.7 504.4h1.2v1.2h-1.2zM108.0 551.8h1.2v1.2h-1.2zM131.6 519.2h1.2v1.2h-1.2zM128.5 523.0h1.2v1.2h-1.2zM125.0 533.0h1.2v1.2h-1.2zM109.5 556.9h1.2v1.2h-1.2zM125.7 529.3h1.2v1.2h-1.2zM120.3 536.5h1.2v1.2h-1.2zM129.3 518.3h1.2v1.2h-1.2zM123.5 535.5h1.2v1.2h-1.2zM110.0 554.9h1.2v1.2h-1.2zM114.0 550.9h1.2v1.2h-1.2zM144.8 493.9h1.2v1.2h-1.2zM112.1 554.7h1.2v1.2h-1.2zM128.1 523.9h1.2v1.2h-1.2zM132.6 516.3h1.2v1.2h-1.2zM144.6 496.3h1.2v1.2h-1.2zM133.2 515.0h1.2v1.2h-1.2zM119.8 533.7h1.2v1.2h-1.2zM135.1 512.4h1.2v1.2h-1.2zM109.2 557.6h1.2v1.2h-1.2zM137.8 506.8h1.2v1.2h-1.2zM108.7 556.3h1.2v1.2h-1.2zM133.5 515.0h1.2v1.2h-1.2zM114.7 540.3h1.2v1.2h-1.2zM124.7 533.0h1.2v1.2h-1.2zM126.3 529.0h1.2v1.2h-1.2zM121.2 529.6h1.2v1.2h-1.2zM126.9 524.1h1.2v1.2h-1.2zM109.8 554.9h1.2v1.2h-1.2zM120.5 535.6h1.2v1.2h-1.2zM124.1 527.0h1.2v1.2h-1.2zM126.8 524.0h1.2v1.2h-1.2zM107.7 552.7h1.2v1.2h-1.2zM124.8 526.9h1.2v1.2h-1.2zM145.6 496.4h1.2v1.2h-1.2zM113.8 541.6h1.2v1.2h-1.2zM115.4 539.8h1.2v1.2h-1.2zM145.7 495.2h1.2v1.2h-1.2zM120.3 534.1h1.2v1.2h-1.2zM131.5 518.3h1.2v1.2h-1.2zM121.1 529.7h1.2v1.2h-1.2zM144.1 496.6h1.2v1.2h-1.2zM115.4 540.2h1.2v1.2h-1.2zM130.2 516.1h1.2v1.2h-1.2zM107.8 551.6h1.2v1.2h-1.2zM110.6 547.2h1.2v1.2h-1.2zM108.0 551.8h1.2v1.2h-1.2zM130.3 515.7h1.2v1.2h-1.2zM139.0 503.6h1.2v1.2h-1.2zM115.5 539.8h1.2v1.2h-1.2zM145.1 496.6h1.2v1.2h-1.2zM136.8 504.3h1.2v1.2h-1.2zM133.8 513.7h1.2v1.2h-1.2zM120.3 536.3h1.2v1.2h-1.2zM117.2 543.0h1.2v1.2h-1.2zM109.1 556.6h1.2v1.2h-1.2zM131.2 517.9h1.2v1.2h-1.2zM137.4 509.3h1.2v1.2h-1.2zM116.8 542.9h1.2v1.2h-1.2zM115.8 540.0h1.2v1.2h-1.2zM109.2 556.1h1.2v1.2h-1.2zM131.0 516.9h1.2v1.2h-1.2zM128.3 524.0h1.2v1.2h-1.2zM126.0 528.8h1.2v1.2h-1.2zM114.4 540.8h1.2v1.2h-1.2zM137.6 509.5h1.2v1.2h-1.2zM108.7 556.4h1.2v1.2h-1.2zM146.1 494.4h1.2v1.2h-1.2zM114.5 551.2h1.2v1.2h-1.2zM127.4 524.4h1.2v1.2h-1.2zM120.2 535.4h1.2v1.2h-1.2zM136.9 509.0h1.2v1.2h-1.2zM125.4 527.1h1.2v1.2h-1.2zM115.9 540.0h1.2v1.2h-1.2zM108.9 555.4h1.2v1.2h-1.2zM145.3 494.6h1.2v1.2h-1.2zM120.0 531.2h1.2v1.2h-1.2zM125.1 533.4h1.2v1.2h-1.2zM123.4 535.5h1.2v1.2h-1.2zM139.1 502.7h1.2v1.2h-1.2zM109.4 555.6h1.2v1.2h-1.2zM138.1 502.7h1.2v1.2h-1.2zM125.3 527.2h1.2v1.2h-1.2zM126.2 528.2h1.2v1.2h-1.2zM138.0 503.6h1.2v1.2h-1.2zM129.3 518.1h1.2v1.2h-1.2zM146.1 495.2h1.2v1.2h-1.2zM119.8 532.5h1.2v1.2h-1.2zM108.1 551.9h1.2v1.2h-1.2zM111.0 545.5h1.2v1.2h-1.2zM128.7 519.7h1.2v1.2h-1.2zM125.2 533.3h1.2v1.2h-1.2zM130.2 517.1h1.2v1.2h-1.2zM131.4 514.7h1.2v1.2h-1.2zM115.2 540.4h1.2v1.2h-1.2zM137.8 502.7h1.2v1.2h-1.2zM131.6 514.1h1.2v1.2h-1.2z" fill="#00acf0" fill-opacity="1.00"/>
<path d="M138.8 505.6h1.2v1.2h-1.2zM109.6 553.9h1.2v1.2h-1.2zM121.8 535.2h1.2v1.2h-1.2zM111.9 544.5h1.2v1.2h-1.2zM132.1 512.8h1.2v1.2h-1.2zM130.8 516.1h1.2v1.2h-1.2zM125.1 528.0h1.2v1.2h-1.2zM122.4 535.6h1.2v1.2h-1.2zM116.0 546.3h1.2v1.2h-1.2zM113.4 543.7h1.2v1.2h-1.2zM124.8 532.7h1.2v1.2h-1.2zM131.2 515.0h1.2v1.2h-1.2zM137.4 508.6h1.2v1.2h-1.2zM131.6 515.1h1.2v1.2h-1.2zM117.2 540.9h1.2v1.2h-1.2zM122.1 534.8h1.2v1.2h-1.2zM138.8 504.9h1.2v1.2h-1.2zM130.3 518.0h1.2v1.2h-1.2zM124.9 530.5h1.2v1.2h-1.2zM109.5 554.6h1.2v1.2h-1.2zM124.8 531.7h1.2v1.2h-1.2zM124.4 528.0h1.2v1.2h-1.2zM132.1 514.1h1.2v1.2h-1.2zM145.6 495.6h1.2v1.2h-1.2zM133.2 508.2h1.2v1.2h-1.2zM130.7 515.7h1.2v1.2h-1.2zM129.8 519.0h1.2v1.2h-1.2zM120.7 535.4h1.2v1.2h-1.2zM116.6 545.7h1.2v1.2h-1.2zM125.1 529.1h1.2v1.2h-1.2zM132.5 509.1h1.2v1.2h-1.2zM135.8 505.8h1.2v1.2h-1.2zM132.5 512.6h1.2v1.2h-1.2zM132.8 513.8h1.2v1.2h-1.2zM115.6 547.8h1.2v1.2h-1.2zM132.2 513.1h1.2v1.2h-1.2zM130.2 518.5h1.2v1.2h-1.2zM132.3 514.9h1.2v1.2h-1.2zM123.7 534.7h1.2v1.2h-1.2zM121.1 532.3h1.2v1.2h-1.2zM132.8 514.6h1.2v1.2h-1.2zM114.3 542.4h1.2v1.2h-1.2zM122.2 528.7h1.2v1.2h-1.2zM134.7 507.3h1.2v1.2h-1.2zM139.5 505.3h1.2v1.2h-1.2zM120.9 530.1h1.2v1.2h-1.2zM133.1 508.7h1.2v1.2h-1.2zM122.4 535.0h1.2v1.2h-1.2zM132.1 513.8h1.2v1.2h-1.2zM125.2 529.1h1.2v1.2h-1.2zM113.0 542.9h1.2v1.2h-1.2zM123.3 529.3h1.2v1.2h-1.2zM132.0 515.6h1.2v1.2h-1.2zM120.9 530.8h1.2v1.2h-1.2zM129.4 519.5h1.2v1.2h-1.2zM124.1 533.8h1.2v1.2h-1.2zM124.9 527.9h1.2v1.2h-1.2zM131.8 509.6h1.2v1.2h-1.2zM117.4 541.3h1.2v1.2h-1.2zM125.5 532.7h1.2v1.2h-1.2zM115.5 548.5h1.2v1.2h-1.2zM130.6 518.2h1.2v1.2h-1.2zM135.1 506.8h1.2v1.2h-1.2zM130.0 519.1h1.2v1.2h-1.2zM121.1 530.2h1.2v1.2h-1.2zM132.5 515.5h1.2v1.2h-1.2zM112.4 544.3h1.2v1.2h-1.2zM133.2 514.4h1.2v1.2h-1.2zM132.1 511.9h1.2v1.2h-1.2zM135.2 507.5h1.2v1.2h-1.2zM136.5 506.7h1.2v1.2h-1.2zM129.9 519.6h1.2v1.2h-1.2zM123.0 529.5h1.2v1.2h-1.2zM117.3 541.5h1.2v1.2h-1.2zM131.6 516.5h1.2v1.2h-1.2zM123.3 528.7h1.2v1.2h-1.2zM123.8 534.6h1.2v1.2h-1.2zM112.3 543.7h1.2v1.2h-1.2zM132.3 510.7h1.2v1.2h-1.2zM112.8 543.3h1.2v1.2h-1.2zM123.8 528.2h1.2v1.2h-1.2zM121.2 534.8h1.2v1.2h-1.2zM145.1 495.6h1.2v1.2h-1.2zM132.9 513.4h1.2v1.2h-1.2zM111.8 544.1h1.2v1.2h-1.2zM116.6 546.3h1.2v1.2h-1.2zM116.9 541.7h1.2v1.2h-1.2zM110.8 546.0h1.2v1.2h-1.2zM129.2 519.0h1.2v1.2h-1.2zM115.3 540.9h1.2v1.2h-1.2zM139.4 504.3h1.2v1.2h-1.2zM132.5 515.6h1.2v1.2h-1.2zM125.2 528.0h1.2v1.2h-1.2zM132.0 515.6h1.2v1.2h-1.2zM122.1 535.4h1.2v1.2h-1.2zM137.5 508.4h1.2v1.2h-1.2zM121.1 531.1h1.2v1.2h-1.2zM110.2 548.7h1.2v1.2h-1.2zM130.5 519.3h1.2v1.2h-1.2zM136.6 506.1h1.2v1.2h-1.2zM115.5 541.4h1.2v1.2h-1.2zM133.3 512.9h1.2v1.2h-1.2zM124.1 534.5h1.2v1.2h-1.2zM139.3 504.2h1.2v1.2h-1.2zM111.8 544.3h1.2v1.2h-1.2zM111.7 544.0h1.2v1.2h-1.2zM125.4 531.4h1.2v1.2h-1.2zM129.7 519.1h1.2v1.2h-1.2zM124.3 534.0h1.2v1.2h-1.2zM133.0 514.0h1.2v1.2h-1.2zM124.8 531.9h1.2v1.2h-1.2zM139.2 505.2h1.2v1.2h-1.2zM129.6 519.0h1.2v1.2h-1.2zM130.2 517.9h1.2v1.2h-1.2zM132.3 513.4h1.2v1.2h-1.2zM132.6 510.7h1.2v1.2h-1.2zM125.6 531.6h1.2v1.2h-1.2zM139.6 505.3h1.2v1.2h-1.2zM138.9 504.0h1.2v1.2h-1.2zM121.5 535.2h1.2v1.2h-1.2zM131.9 512.1h1.2v1.2h-1.2zM139.4 504.0h1.2v1.2h-1.2zM132.4 510.7h1.2v1.2h-1.2z" fill="#00cbe5" fill-opacity="1.00"/>
<path d="M116.3 544.5h1.2v1.2h-1.2zM133.7 507.8h1.2v1.2h-1.2zM135.4 510.8h1.2v1.2h-1.2zM134.1 512.5h1.2v1.2h-1.2zM110.9 547.5h1.2v1.2h-1.2zM124.0 530.0h1.2v1.2h-1.2zM123.5 530.1h1.2v1.2h-1.2zM124.1 530.4h1.2v1.2h-1.2zM138.5 506.3h1.2v1.2h-1.2zM116.6 541.9h1.2v1.2h-1.2zM124.5 529.6h1.2v1.2h-1.2zM116.1 541.5h1.2v1.2h-1.2zM138.5 506.3h1.2v1.2h-1.2zM122.4 530.6h1.2v1.2h-1.2zM137.2 507.5h1.2v1.2h-1.2zM121.7 530.6h1.2v1.2h-1.2zM134.2 512.5h1.2v1.2h-1.2zM137.9 506.1h1.2v1.2h-1.2zM116.5 544.5h1.2v1.2h-1.2zM111.5 553.8h1.2v1.2h-1.2zM124.6 529.4h1.2v1.2h-1.2zM123.0 530.4h1.2v1.2h-1.2zM121.7 534.5h1.2v1.2h-1.2zM138.3 504.1h1.2v1.2h-1.2zM133.8 512.0h1.2v1.2h-1.2zM136.9 507.4h1.2v1.2h-1.2zM137.2 506.1h1.2v1.2h-1.2zM135.8 506.9h1.2v1.2h-1.2zM116.6 542.4h1.2v1.2h-1.2zM137.5 506.5h1.2v1.2h-1.2zM137.3 507.1h1.2v1.2h-1.2zM124.4 529.9h1.2v1.2h-1.2zM116.0 543.9h1.2v1.2h-1.2zM137.3 505.6h1.2v1.2h-1.2zM137.0 506.4h1.2v1.2h-1.2zM134.0 512.5h1.2v1.2h-1.2zM133.6 512.1h1.2v1.2h-1.2zM135.7 509.8h1.2v1.2h-1.2zM138.1 506.6h1.2v1.2h-1.2zM122.6 530.5h1.2v1.2h-1.2zM124.1 530.3h1.2v1.2h-1.2zM138.4 504.4h1.2v1.2h-1.2zM133.0 512.4h1.2v1.2h-1.2zM134.4 508.6h1.2v1.2h-1.2zM137.9 503.8h1.2v1.2h-1.2zM111.5 547.2h1.2v1.2h-1.2zM136.9 506.6h1.2v1.2h-1.2zM137.6 507.2h1.2v1.2h-1.2zM132.8 512.4h1.2v1.2h-1.2zM121.3 533.4h1.2v1.2h-1.2zM137.0 505.5h1.2v1.2h-1.2zM110.2 554.0h1.2v1.2h-1.2z" fill="#06d7c0" fill-opacity="1.00"/>
<path d="M122.2 531.7h1.2v1.2h-1.2zM132.8 511.6h1.2v1.2h-1.2zM135.7 507.8h1.2v1.2h-1.2zM109.4 553.6h1.2v1.2h-1.2zM135.5 508.0h1.2v1.2h-1.2zM136.0 507.9h1.2v1.2h-1.2zM122.2 533.4h1.2v1.2h-1.2zM123.1 534.6h1.2v1.2h-1.2zM137.9 505.3h1.2v1.2h-1.2zM110.1 549.2h1.2v1.2h-1.2zM132.8 509.2h1.2v1.2h-1.2zM123.2 534.3h1.2v1.2h-1.2zM116.5 543.6h1.2v1.2h-1.2zM114.7 542.9h1.2v1.2h-1.2zM124.5 532.7h1.2v1.2h-1.2zM121.8 530.8h1.2v1.2h-1.2zM114.4 543.1h1.2v1.2h-1.2zM115.6 547.2h1.2v1.2h-1.2zM137.9 505.7h1.2v1.2h-1.2zM115.9 543.4h1.2v1.2h-1.2zM116.3 543.1h1.2v1.2h-1.2zM133.5 508.8h1.2v1.2h-1.2zM115.2 547.4h1.2v1.2h-1.2zM136.4 508.4h1.2v1.2h-1.2zM123.5 534.4h1.2v1.2h-1.2zM138.4 505.4h1.2v1.2h-1.2zM116.4 543.7h1.2v1.2h-1.2zM138.3 504.8h1.2v1.2h-1.2zM121.8 533.7h1.2v1.2h-1.2zM111.5 548.2h1.2v1.2h-1.2zM111.9 545.2h1.2v1.2h-1.2zM109.4 552.7h1.2v1.2h-1.2zM123.1 530.9h1.2v1.2h-1.2zM136.2 509.4h1.2v1.2h-1.2zM115.1 542.5h1.2v1.2h-1.2zM108.7 553.3h1.2v1.2h-1.2zM136.2 509.6h1.2v1.2h-1.2zM109.5 551.2h1.2v1.2h-1.2zM115.8 543.7h1.2v1.2h-1.2zM110.1 548.8h1.2v1.2h-1.2zM112.0 545.4h1.2v1.2h-1.2zM112.9 544.0h1.2v1.2h-1.2zM116.3 542.8h1.2v1.2h-1.2zM133.6 509.3h1.2v1.2h-1.2zM115.0 542.6h1.2v1.2h-1.2zM124.2 531.0h1.2v1.2h-1.2zM113.0 544.2h1.2v1.2h-1.2zM124.5 533.0h1.2v1.2h-1.2zM123.1 531.7h1.2v1.2h-1.2zM124.0 532.7h1.2v1.2h-1.2zM113.2 544.6h1.2v1.2h-1.2zM138.5 505.0h1.2v1.2h-1.2zM116.0 542.7h1.2v1.2h-1.2zM121.7 532.4h1.2v1.2h-1.2zM115.6 547.5h1.2v1.2h-1.2zM132.7 509.3h1.2v1.2h-1.2zM109.5 551.1h1.2v1.2h-1.2zM113.9 543.1h1.2v1.2h-1.2zM135.4 508.4h1.2v1.2h-1.2zM121.8 532.3h1.2v1.2h-1.2zM134.9 508.7h1.2v1.2h-1.2zM124.0 531.0h1.2v1.2h-1.2zM122.2 531.2h1.2v1.2h-1.2zM114.5 542.8h1.2v1.2h-1.2zM114.9 547.0h1.2v1.2h-1.2zM121.7 533.2h1.2v1.2h-1.2zM115.2 543.3h1.2v1.2h-1.2zM123.6 534.0h1.2v1.2h-1.2zM115.8 543.6h1.2v1.2h-1.2zM135.7 509.6h1.2v1.2h-1.2zM122.7 530.9h1.2v1.2h-1.2zM135.1 508.3h1.2v1.2h-1.2zM121.8 533.5h1.2v1.2h-1.2zM136.4 508.5h1.2v1.2h-1.2z" fill="#11d788" fill-opacity="1.00"/>
<path d="M124.3 532.4h1.2v1.2h-1.2zM134.5 509.0h1.2v1.2h-1.2zM114.5 544.5h1.2v1.2h-1.2zM122.9 533.6h1.2v1.2h-1.2zM135.2 510.5h1.2v1.2h-1.2zM115.6 544.3h1.2v1.2h-1.2zM132.7 510.7h1.2v1.2h-1.2zM114.0 547.9h1.2v1.2h-1.2zM112.2 545.8h1.2v1.2h-1.2zM135.1 510.1h1.2v1.2h-1.2zM123.2 531.9h1.2v1.2h-1.2zM123.7 532.0h1.2v1.2h-1.2zM122.7 531.8h1.2v1.2h-1.2zM134.3 509.4h1.2v1.2h-1.2zM134.2 508.8h1.2v1.2h-1.2zM123.5 533.3h1.2v1.2h-1.2zM134.3 511.1h1.2v1.2h-1.2zM112.1 547.0h1.2v1.2h-1.2zM134.4 511.1h1.2v1.2h-1.2zM113.9 543.9h1.2v1.2h-1.2zM123.6 531.8h1.2v1.2h-1.2zM133.0 509.8h1.2v1.2h-1.2zM114.5 544.1h1.2v1.2h-1.2zM135.4 510.5h1.2v1.2h-1.2zM115.2 546.0h1.2v1.2h-1.2zM114.8 544.4h1.2v1.2h-1.2zM111.9 546.3h1.2v1.2h-1.2zM135.6 510.0h1.2v1.2h-1.2zM123.2 533.6h1.2v1.2h-1.2zM115.0 546.5h1.2v1.2h-1.2zM134.1 511.5h1.2v1.2h-1.2zM123.7 532.2h1.2v1.2h-1.2zM114.7 544.3h1.2v1.2h-1.2zM115.4 546.3h1.2v1.2h-1.2zM113.6 552.7h1.2v1.2h-1.2zM133.8 511.5h1.2v1.2h-1.2zM133.1 510.6h1.2v1.2h-1.2zM134.8 510.7h1.2v1.2h-1.2zM111.7 546.9h1.2v1.2h-1.2zM114.5 548.6h1.2v1.2h-1.2zM135.1 510.4h1.2v1.2h-1.2z" fill="#1cd751" fill-opacity="1.00"/>
<path d="M113.2 550.3h1.2v1.2h-1.2zM112.0 547.9h1.2v1.2h-1.2zM134.0 509.9h1.2v1.2h-1.2zM109.9 549.8h1.2v1.2h-1.2zM110.1 549.9h1.2v1.2h-1.2zM111.7 548.5h1.2v1.2h-1.2zM113.4 549.0h1.2v1.2h-1.2zM135.5 508.9h1.2v1.2h-1.2zM113.5 545.6h1.2v1.2h-1.2zM112.1 552.8h1.2v1.2h-1.2zM112.1 548.2h1.2v1.2h-1.2zM110.0 550.6h1.2v1.2h-1.2zM135.5 508.9h1.2v1.2h-1.2zM113.4 545.1h1.2v1.2h-1.2zM110.4 553.5h1.2v1.2h-1.2zM134.0 510.2h1.2v1.2h-1.2zM113.0 549.1h1.2v1.2h-1.2zM112.9 548.9h1.2v1.2h-1.2zM111.8 552.8h1.2v1.2h-1.2zM112.8 550.1h1.2v1.2h-1.2zM113.1 545.3h1.2v1.2h-1.2zM112.6 553.2h1.2v1.2h-1.2zM113.4 551.6h1.2v1.2h-1.2zM113.8 544.7h1.2v1.2h-1.2zM109.7 553.4h1.2v1.2h-1.2zM113.6 550.4h1.2v1.2h-1.2zM112.6 552.8h1.2v1.2h-1.2zM133.7 510.5h1.2v1.2h-1.2zM134.6 510.4h1.2v1.2h-1.2zM110.7 549.5h1.2v1.2h-1.2zM134.6 510.6h1.2v1.2h-1.2zM113.2 550.5h1.2v1.2h-1.2z" fill="#5adc2f" fill-opacity="1.00"/>
<path d="M112.4 549.0h1.2v1.2h-1.2zM114.0 546.3h1.2v1.2h-1.2zM113.7 547.1h1.2v1.2h-1.2zM113.6 546.0h1.2v1.2h-1.2zM113.4 546.9h1.2v1.2h-1.2zM114.1 546.2h1.2v1.2h-1.2zM113.1 547.7h1.2v1.2h-1.2zM113.1 548.1h1.2v1.2h-1.2zM114.0 546.6h1.2v1.2h-1.2zM112.7 547.9h1.2v1.2h-1.2zM114.4 545.8h1.2v1.2h-1.2zM114.5 546.3h1.2v1.2h-1.2zM114.5 546.3h1.2v1.2h-1.2zM112.8 547.8h1.2v1.2h-1.2zM113.0 547.9h1.2v1.2h-1.2zM113.7 547.6h1.2v1.2h-1.2zM113.8 545.7h1.2v1.2h-1.2zM111.7 549.3h1.2v1.2h-1.2zM111.9 549.1h1.2v1.2h-1.2zM112.9 546.7h1.2v1.2h-1.2zM114.5 546.4h1.2v1.2h-1.2zM112.4 549.5h1.2v1.2h-1.2zM112.7 546.9h1.2v1.2h-1.2zM112.9 548.5h1.2v1.2h-1.2zM113.8 546.9h1.2v1.2h-1.2zM114.0 546.6h1.2v1.2h-1.2zM113.6 547.3h1.2v1.2h-1.2zM112.9 547.2h1.2v1.2h-1.2z" fill="#a5e212" fill-opacity="1.00"/>
<path d="M111.2 553.3h1.2v1.2h-1.2zM110.8 553.3h1.2v1.2h-1.2zM111.6 553.5h1.2v1.2h-1.2z" fill="#dad700" fill-opacity="1.00"/>
<path d="M110.1 550.8h1.2v1.2h-1.2zM109.8 550.7h1.2v1.2h-1.2zM111.1 550.1h1.2v1.2h-1.2zM111.8 549.9h1.2v1.2h-1.2zM110.0 552.1h1.2v1.2h-1.2zM110.6 552.5h1.2v1.2h-1.2zM110.6 551.8h1.2v1.2h-1.2zM111.7 550.0h1.2v1.2h-1.2zM110.3 551.3h1.2v1.2h-1.2zM111.0 550.5h1.2v1.2h-1.2zM109.7 551.1h1.2v1.2h-1.2zM110.0 552.2h1.2v1.2h-1.2zM109.8 551.8h1.2v1.2h-1.2zM111.8 550.7h1.2v1.2h-1.2zM111.6 550.5h1.2v1.2h-1.2zM112.1 550.6h1.2v1.2h-1.2zM111.1 549.8h1.2v1.2h-1.2zM110.1 551.8h1.2v1.2h-1.2z" fill="#ecb200" fill-opacity="1.00"/>
<path d="M112.3 552.0h1.2v1.2h-1.2zM111.7 552.3h1.2v1.2h-1.2zM111.9 552.1h1.2v1.2h-1.2zM112.5 552.0h1.2v1.2h-1.2zM112.6 551.9h1.2v1.2h-1.2zM111.7 552.0h1.2v1.2h-1.2zM112.4 552.7h1.2v1.2h-1.2zM112.0 551.9h1.2v1.2h-1.2zM112.4 552.0h1.2v1.2h-1.2z" fill="#ff8c00" fill-opacity="1.00"/>
<path d="M112.1 551.0h1.2v1.2h-1.2zM111.6 551.9h1.2v1.2h-1.2zM112.1 550.9h1.2v1.2h-1.2zM111.2 551.9h1.2v1.2h-1.2zM112.4 551.0h1.2v1.2h-1.2zM111.0 552.0h1.2v1.2h-1.2zM111.4 552.1h1.2v1.2h-1.2zM111.5 552.0h1.2v1.2h-1.2zM112.2 551.2h1.2v1.2h-1.2zM112.1 550.7h1.2v1.2h-1.2z" fill="#f25a00" fill-opacity="1.00"/>
<path d="M111.0 551.5h1.2v1.2h-1.2zM110.9 551.3h1.2v1.2h-1.2zM111.3 551.4h1.2v1.2h-1.2zM111.1 551.0h1.2v1.2h-1.2zM110.7 551.7h1.2v1.2h-1.2zM111.3 551.6h1.2v1.2h-1.2zM111.4 551.4h1.2v1.2h-1.2z" fill="#e62800" fill-opacity="1.00"/>
<path d="M300.3 526.9h1.2v1.2h-1.2zM295.0 530.6h1.2v1.2h-1.2zM307.1 556.3h1.2v1.2h-1.2zM291.9 543.3h1.2v1.2h-1.2zM289.5 567.0h1.2v1.2h-1.2zM296.6 560.2h1.2v1.2h-1.2zM282.5 551.5h1.2v1.2h-1.2zM299.9 526.6h1.2v1.2h-1.2zM285.8 547.6h1.2v1.2h-1.2zM271.9 561.4h1.2v1.2h-1.2zM283.3 553.0h1.2v1.2h-1.2zM275.2 576.3h1.2v1.2h-1.2zM340.5 482.1h1.2v1.2h-1.2zM264.8 589.8h1.2v1.2h-1.2zM313.8 519.4h1.2v1.2h-1.2zM343.0 476.9h1.2v1.2h-1.2zM266.5 585.7h1.2v1.2h-1.2zM252.5 571.1h1.2v1.2h-1.2zM263.9 574.0h1.2v1.2h-1.2zM271.5 575.4h1.2v1.2h-1.2zM268.8 560.1h1.2v1.2h-1.2zM275.3 576.5h1.2v1.2h-1.2zM268.8 583.5h1.2v1.2h-1.2zM278.2 573.9h1.2v1.2h-1.2zM258.7 573.6h1.2v1.2h-1.2zM269.0 570.9h1.2v1.2h-1.2zM269.2 589.3h1.2v1.2h-1.2zM260.8 575.2h1.2v1.2h-1.2zM269.7 580.0h1.2v1.2h-1.2zM278.7 586.5h1.2v1.2h-1.2zM274.4 576.3h1.2v1.2h-1.2zM258.8 576.1h1.2v1.2h-1.2zM262.9 586.8h1.2v1.2h-1.2zM268.4 576.5h1.2v1.2h-1.2zM277.5 575.7h1.2v1.2h-1.2zM268.1 583.1h1.2v1.2h-1.2zM266.8 584.1h1.2v1.2h-1.2zM268.2 574.4h1.2v1.2h-1.2zM264.5 581.6h1.2v1.2h-1.2zM252.7 596.5h1.2v1.2h-1.2zM280.3 576.6h1.2v1.2h-1.2zM277.0 577.2h1.2v1.2h-1.2zM262.8 584.3h1.2v1.2h-1.2zM341.7 484.4h1.2v1.2h-1.2zM287.2 566.8h1.2v1.2h-1.2zM274.5 570.2h1.2v1.2h-1.2zM268.6 578.8h1.2v1.2h-1.2zM339.7 482.8h1.2v1.2h-1.2zM322.1 508.6h1.2v1.2h-1.2zM274.8 572.3h1.2v1.2h-1.2zM270.0 584.1h1.2v1.2h-1.2zM262.0 585.8h1.2v1.2h-1.2zM281.5 572.3h1.2v1.2h-1.2zM321.7 515.9h1.2v1.2h-1.2zM284.1 570.3h1.2v1.2h-1.2zM261.5 588.3h1.2v1.2h-1.2zM325.9 505.6h1.2v1.2h-1.2zM263.3 584.5h1.2v1.2h-1.2zM285.4 569.7h1.2v1.2h-1.2zM325.8 505.4h1.2v1.2h-1.2zM264.5 581.5h1.2v1.2h-1.2zM326.2 506.0h1.2v1.2h-1.2zM272.3 563.3h1.2v1.2h-1.2zM265.9 578.1h1.2v1.2h-1.2zM339.3 483.1h1.2v1.2h-1.2zM282.1 574.2h1.2v1.2h-1.2zM297.8 556.1h1.2v1.2h-1.2zM325.9 506.2h1.2v1.2h-1.2zM295.8 560.4h1.2v1.2h-1.2zM342.6 480.3h1.2v1.2h-1.2zM275.3 571.1h1.2v1.2h-1.2zM275.4 563.7h1.2v1.2h-1.2zM325.4 511.4h1.2v1.2h-1.2zM283.2 573.7h1.2v1.2h-1.2zM276.1 577.8h1.2v1.2h-1.2zM329.5 498.2h1.2v1.2h-1.2zM278.1 558.9h1.2v1.2h-1.2zM309.1 526.6h1.2v1.2h-1.2zM324.4 509.1h1.2v1.2h-1.2zM300.0 536.3h1.2v1.2h-1.2zM274.3 564.1h1.2v1.2h-1.2zM322.8 507.3h1.2v1.2h-1.2zM277.0 564.6h1.2v1.2h-1.2zM336.8 491.6h1.2v1.2h-1.2zM336.4 494.0h1.2v1.2h-1.2zM277.3 561.9h1.2v1.2h-1.2zM275.7 565.2h1.2v1.2h-1.2zM337.9 490.9h1.2v1.2h-1.2zM343.8 479.8h1.2v1.2h-1.2zM336.6 491.0h1.2v1.2h-1.2zM291.9 563.7h1.2v1.2h-1.2zM276.1 578.3h1.2v1.2h-1.2zM262.0 588.9h1.2v1.2h-1.2zM273.4 578.6h1.2v1.2h-1.2zM278.3 573.7h1.2v1.2h-1.2zM309.5 535.5h1.2v1.2h-1.2zM322.7 508.6h1.2v1.2h-1.2zM261.3 587.0h1.2v1.2h-1.2zM274.6 582.1h1.2v1.2h-1.2zM297.2 556.4h1.2v1.2h-1.2zM266.2 593.0h1.2v1.2h-1.2zM269.7 577.5h1.2v1.2h-1.2zM316.8 515.4h1.2v1.2h-1.2zM336.8 493.1h1.2v1.2h-1.2zM315.5 524.6h1.2v1.2h-1.2zM326.8 506.3h1.2v1.2h-1.2zM273.7 566.6h1.2v1.2h-1.2zM300.1 554.1h1.2v1.2h-1.2zM276.7 572.8h1.2v1.2h-1.2zM260.7 585.8h1.2v1.2h-1.2zM270.7 573.3h1.2v1.2h-1.2zM274.7 583.9h1.2v1.2h-1.2zM345.9 477.1h1.2v1.2h-1.2zM264.1 575.5h1.2v1.2h-1.2zM283.4 571.9h1.2v1.2h-1.2zM335.9 491.6h1.2v1.2h-1.2zM268.0 584.6h1.2v1.2h-1.2zM336.7 489.2h1.2v1.2h-1.2zM331.0 494.3h1.2v1.2h-1.2zM329.2 504.1h1.2v1.2h-1.2zM299.1 553.2h1.2v1.2h-1.2zM299.1 536.6h1.2v1.2h-1.2zM268.2 583.5h1.2v1.2h-1.2zM273.2 581.6h1.2v1.2h-1.2zM291.1 562.9h1.2v1.2h-1.2zM311.9 521.5h1.2v1.2h-1.2zM326.3 506.8h1.2v1.2h-1.2zM286.5 549.6h1.2v1.2h-1.2zM341.1 481.7h1.2v1.2h-1.2zM307.2 540.0h1.2v1.2h-1.2zM274.2 576.5h1.2v1.2h-1.2zM281.5 556.4h1.2v1.2h-1.2zM268.4 580.7h1.2v1.2h-1.2zM334.7 490.7h1.2v1.2h-1.2zM263.2 585.7h1.2v1.2h-1.2zM279.8 573.2h1.2v1.2h-1.2zM273.6 580.4h1.2v1.2h-1.2zM272.7 569.5h1.2v1.2h-1.2zM288.6 549.5h1.2v1.2h-1.2zM336.9 487.3h1.2v1.2h-1.2zM309.7 526.2h1.2v1.2h-1.2zM282.9 574.6h1.2v1.2h-1.2zM303.7 547.2h1.2v1.2h-1.2zM266.0 579.5h1.2v1.2h-1.2zM271.5 580.2h1.2v1.2h-1.2zM276.9 572.1h1.2v1.2h-1.2zM272.5 570.4h1.2v1.2h-1.2zM266.7 591.3h1.2v1.2h-1.2zM273.0 578.9h1.2v1.2h-1.2zM273.4 584.3h1.2v1.2h-1.2zM301.1 551.8h1.2v1.2h-1.2zM269.3 574.1h1.2v1.2h-1.2zM338.6 489.1h1.2v1.2h-1.2zM270.4 580.2h1.2v1.2h-1.2zM273.7 584.6h1.2v1.2h-1.2zM273.3 569.9h1.2v1.2h-1.2zM340.7 484.0h1.2v1.2h-1.2zM340.1 482.8h1.2v1.2h-1.2zM279.4 572.9h1.2v1.2h-1.2zM344.4 476.2h1.2v1.2h-1.2zM276.8 575.1h1.2v1.2h-1.2zM274.4 569.6h1.2v1.2h-1.2zM274.2 566.3h1.2v1.2h-1.2zM334.7 491.4h1.2v1.2h-1.2zM298.7 536.0h1.2v1.2h-1.2zM274.6 567.1h1.2v1.2h-1.2zM330.9 496.5h1.2v1.2h-1.2zM341.8 480.6h1.2v1.2h-1.2zM315.5 524.2h1.2v1.2h-1.2zM282.3 575.1h1.2v1.2h-1.2zM275.7 562.7h1.2v1.2h-1.2zM326.1 507.1h1.2v1.2h-1.2zM274.4 576.4h1.2v1.2h-1.2zM279.2 576.5h1.2v1.2h-1.2zM336.3 492.0h1.2v1.2h-1.2zM274.0 568.3h1.2v1.2h-1.2zM343.2 477.5h1.2v1.2h-1.2zM340.5 485.5h1.2v1.2h-1.2zM285.3 571.2h1.2v1.2h-1.2zM334.7 489.9h1.2v1.2h-1.2zM279.2 575.3h1.2v1.2h-1.2zM265.0 588.8h1.2v1.2h-1.2zM293.1 543.2h1.2v1.2h-1.2zM323.0 506.6h1.2v1.2h-1.2zM277.4 574.9h1.2v1.2h-1.2zM274.7 577.7h1.2v1.2h-1.2zM271.0 581.8h1.2v1.2h-1.2zM263.5 583.6h1.2v1.2h-1.2zM274.0 580.1h1.2v1.2h-1.2zM268.5 587.1h1.2v1.2h-1.2zM281.9 584.7h1.2v1.2h-1.2zM269.7 588.9h1.2v1.2h-1.2zM266.5 586.8h1.2v1.2h-1.2zM267.3 591.3h1.2v1.2h-1.2zM261.9 586.1h1.2v1.2h-1.2zM274.7 579.0h1.2v1.2h-1.2zM277.9 582.8h1.2v1.2h-1.2zM281.9 574.6h1.2v1.2h-1.2zM270.7 578.7h1.2v1.2h-1.2zM290.8 566.4h1.2v1.2h-1.2zM288.1 567.5h1.2v1.2h-1.2zM299.2 523.1h1.2v1.2h-1.2zM298.0 561.2h1.2v1.2h-1.2zM309.5 534.9h1.2v1.2h-1.2z" fill="#3232d7" fill-opacity="0.70"/>
<path d="M318.8 516.8h1.2v1.2h-1.2zM323.7 509.4h1.2v1.2h-1.2zM312.3 527.0h1.2v1.2h-1.2zM286.1 566.2h1.2v1.2h-1.2zM276.4 569.2h1.2v1.2h-1.2zM319.5 516.7h1.2v1.2h-1.2zM322.6 512.0h1.2v1.2h-1.2zM284.9 554.5h1.2v1.2h-1.2zM329.1 501.6h1.2v1.2h-1.2zM283.8 556.3h1.2v1.2h-1.2zM306.4 539.1h1.2v1.2h-1.2zM311.5 526.8h1.2v1.2h-1.2zM322.9 509.2h1.2v1.2h-1.2zM306.8 539.6h1.2v1.2h-1.2zM317.6 520.5h1.2v1.2h-1.2zM294.9 543.3h1.2v1.2h-1.2zM278.8 560.9h1.2v1.2h-1.2zM278.7 571.2h1.2v1.2h-1.2zM320.0 513.7h1.2v1.2h-1.2zM339.4 483.7h1.2v1.2h-1.2zM323.6 511.5h1.2v1.2h-1.2zM313.7 523.6h1.2v1.2h-1.2zM337.2 486.7h1.2v1.2h-1.2zM330.8 500.4h1.2v1.2h-1.2zM322.8 510.0h1.2v1.2h-1.2zM320.1 516.7h1.2v1.2h-1.2zM297.5 540.3h1.2v1.2h-1.2zM330.7 501.0h1.2v1.2h-1.2zM310.8 526.9h1.2v1.2h-1.2zM317.5 517.2h1.2v1.2h-1.2zM310.5 528.3h1.2v1.2h-1.2zM304.7 532.2h1.2v1.2h-1.2zM327.5 502.8h1.2v1.2h-1.2zM328.8 500.1h1.2v1.2h-1.2zM329.1 502.4h1.2v1.2h-1.2zM308.9 528.5h1.2v1.2h-1.2zM319.0 516.2h1.2v1.2h-1.2zM312.3 523.5h1.2v1.2h-1.2zM277.2 566.0h1.2v1.2h-1.2zM297.1 540.6h1.2v1.2h-1.2zM307.5 530.6h1.2v1.2h-1.2zM282.0 557.0h1.2v1.2h-1.2zM318.0 519.1h1.2v1.2h-1.2zM280.9 570.2h1.2v1.2h-1.2zM278.2 571.8h1.2v1.2h-1.2zM328.1 503.4h1.2v1.2h-1.2zM328.8 502.4h1.2v1.2h-1.2zM290.3 562.1h1.2v1.2h-1.2zM323.9 510.5h1.2v1.2h-1.2zM295.4 541.9h1.2v1.2h-1.2zM334.7 493.3h1.2v1.2h-1.2zM339.0 485.5h1.2v1.2h-1.2zM331.3 497.6h1.2v1.2h-1.2zM324.3 509.9h1.2v1.2h-1.2zM298.3 538.9h1.2v1.2h-1.2zM315.3 519.2h1.2v1.2h-1.2zM286.3 566.9h1.2v1.2h-1.2zM298.2 554.5h1.2v1.2h-1.2zM275.8 570.5h1.2v1.2h-1.2zM306.0 532.3h1.2v1.2h-1.2zM286.9 567.0h1.2v1.2h-1.2zM279.8 561.3h1.2v1.2h-1.2zM310.7 531.5h1.2v1.2h-1.2zM317.2 517.5h1.2v1.2h-1.2zM331.7 497.0h1.2v1.2h-1.2zM276.2 565.1h1.2v1.2h-1.2zM319.8 512.9h1.2v1.2h-1.2zM310.3 528.2h1.2v1.2h-1.2zM330.4 500.2h1.2v1.2h-1.2zM294.4 542.8h1.2v1.2h-1.2zM320.8 511.6h1.2v1.2h-1.2zM316.3 521.9h1.2v1.2h-1.2zM333.9 493.0h1.2v1.2h-1.2zM319.5 513.0h1.2v1.2h-1.2zM282.6 570.2h1.2v1.2h-1.2zM310.3 529.8h1.2v1.2h-1.2zM299.1 551.3h1.2v1.2h-1.2zM316.2 521.0h1.2v1.2h-1.2zM332.7 497.7h1.2v1.2h-1.2zM279.9 560.9h1.2v1.2h-1.2zM284.9 569.0h1.2v1.2h-1.2zM332.9 494.8h1.2v1.2h-1.2zM291.5 546.6h1.2v1.2h-1.2zM321.9 514.0h1.2v1.2h-1.2zM334.7 492.0h1.2v1.2h-1.2zM309.6 526.8h1.2v1.2h-1.2zM276.2 567.5h1.2v1.2h-1.2zM310.0 532.6h1.2v1.2h-1.2zM317.8 519.6h1.2v1.2h-1.2zM310.9 527.8h1.2v1.2h-1.2zM282.2 570.0h1.2v1.2h-1.2zM315.9 519.0h1.2v1.2h-1.2zM317.0 518.0h1.2v1.2h-1.2zM333.3 494.3h1.2v1.2h-1.2zM281.5 570.5h1.2v1.2h-1.2zM322.5 509.2h1.2v1.2h-1.2zM327.0 502.0h1.2v1.2h-1.2zM312.5 525.2h1.2v1.2h-1.2zM331.6 498.2h1.2v1.2h-1.2zM333.5 494.2h1.2v1.2h-1.2zM328.4 499.9h1.2v1.2h-1.2zM311.4 530.5h1.2v1.2h-1.2zM316.4 518.0h1.2v1.2h-1.2zM333.5 494.4h1.2v1.2h-1.2zM281.5 557.8h1.2v1.2h-1.2zM322.2 514.1h1.2v1.2h-1.2zM276.1 566.7h1.2v1.2h-1.2zM319.5 515.4h1.2v1.2h-1.2zM315.1 522.4h1.2v1.2h-1.2zM327.6 504.4h1.2v1.2h-1.2zM313.5 522.9h1.2v1.2h-1.2zM329.1 502.0h1.2v1.2h-1.2zM318.3 515.6h1.2v1.2h-1.2zM329.6 501.5h1.2v1.2h-1.2zM337.9 486.1h1.2v1.2h-1.2zM313.5 525.1h1.2v1.2h-1.2zM289.6 549.9h1.2v1.2h-1.2zM277.0 571.6h1.2v1.2h-1.2zM337.9 486.1h1.2v1.2h-1.2zM309.1 532.5h1.2v1.2h-1.2zM280.6 558.3h1.2v1.2h-1.2zM285.7 567.8h1.2v1.2h-1.2zM300.5 550.2h1.2v1.2h-1.2zM324.3 509.8h1.2v1.2h-1.2zM313.6 522.5h1.2v1.2h-1.2zM276.8 569.4h1.2v1.2h-1.2zM307.8 529.5h1.2v1.2h-1.2zM276.8 569.1h1.2v1.2h-1.2zM321.5 514.4h1.2v1.2h-1.2zM318.7 514.8h1.2v1.2h-1.2zM318.3 515.2h1.2v1.2h-1.2zM298.6 554.4h1.2v1.2h-1.2zM319.8 515.5h1.2v1.2h-1.2zM285.4 552.3h1.2v1.2h-1.2zM314.6 521.2h1.2v1.2h-1.2zM305.5 532.0h1.2v1.2h-1.2zM278.5 561.7h1.2v1.2h-1.2zM319.7 518.1h1.2v1.2h-1.2zM331.7 496.4h1.2v1.2h-1.2zM320.4 510.4h1.2v1.2h-1.2zM281.9 558.1h1.2v1.2h-1.2zM333.7 496.2h1.2v1.2h-1.2zM328.6 502.8h1.2v1.2h-1.2zM291.7 561.4h1.2v1.2h-1.2zM308.9 529.0h1.2v1.2h-1.2zM327.9 503.8h1.2v1.2h-1.2zM317.5 519.9h1.2v1.2h-1.2zM312.0 525.5h1.2v1.2h-1.2zM339.8 484.5h1.2v1.2h-1.2zM312.6 527.1h1.2v1.2h-1.2zM337.2 487.8h1.2v1.2h-1.2zM314.2 522.9h1.2v1.2h-1.2zM332.2 495.2h1.2v1.2h-1.2zM321.1 514.1h1.2v1.2h-1.2zM311.8 525.4h1.2v1.2h-1.2zM313.7 521.5h1.2v1.2h-1.2zM305.2 541.2h1.2v1.2h-1.2zM304.4 531.9h1.2v1.2h-1.2zM313.5 525.7h1.2v1.2h-1.2zM312.2 526.0h1.2v1.2h-1.2zM295.2 542.6h1.2v1.2h-1.2zM332.6 497.6h1.2v1.2h-1.2zM311.9 529.1h1.2v1.2h-1.2zM337.7 487.1h1.2v1.2h-1.2zM312.6 525.0h1.2v1.2h-1.2zM339.2 484.9h1.2v1.2h-1.2zM282.5 569.8h1.2v1.2h-1.2zM310.9 525.2h1.2v1.2h-1.2zM311.6 526.6h1.2v1.2h-1.2zM326.4 504.9h1.2v1.2h-1.2zM326.6 505.7h1.2v1.2h-1.2zM313.0 524.4h1.2v1.2h-1.2zM327.7 503.8h1.2v1.2h-1.2zM331.7 498.7h1.2v1.2h-1.2zM328.9 502.8h1.2v1.2h-1.2zM310.5 529.0h1.2v1.2h-1.2zM307.7 529.0h1.2v1.2h-1.2zM316.2 518.0h1.2v1.2h-1.2zM302.7 535.1h1.2v1.2h-1.2zM329.7 500.0h1.2v1.2h-1.2zM294.8 557.8h1.2v1.2h-1.2zM295.9 557.4h1.2v1.2h-1.2zM281.4 557.4h1.2v1.2h-1.2zM321.4 510.5h1.2v1.2h-1.2zM337.3 487.0h1.2v1.2h-1.2zM314.6 523.0h1.2v1.2h-1.2zM276.8 567.2h1.2v1.2h-1.2zM332.8 496.9h1.2v1.2h-1.2zM278.4 562.6h1.2v1.2h-1.2zM315.2 521.1h1.2v1.2h-1.2zM334.8 495.3h1.2v1.2h-1.2zM310.6 525.7h1.2v1.2h-1.2zM315.1 522.6h1.2v1.2h-1.2zM302.3 535.5h1.2v1.2h-1.2zM315.8 518.9h1.2v1.2h-1.2zM320.4 516.9h1.2v1.2h-1.2zM332.8 495.4h1.2v1.2h-1.2zM333.5 492.8h1.2v1.2h-1.2zM327.1 503.4h1.2v1.2h-1.2zM312.8 524.8h1.2v1.2h-1.2zM329.4 500.9h1.2v1.2h-1.2zM332.6 495.1h1.2v1.2h-1.2zM285.9 552.9h1.2v1.2h-1.2zM338.9 487.0h1.2v1.2h-1.2zM319.3 513.6h1.2v1.2h-1.2zM337.3 487.3h1.2v1.2h-1.2zM323.0 509.2h1.2v1.2h-1.2zM337.7 487.6h1.2v1.2h-1.2zM328.2 503.7h1.2v1.2h-1.2zM315.6 521.9h1.2v1.2h-1.2zM330.1 500.3h1.2v1.2h-1.2zM305.1 532.6h1.2v1.2h-1.2zM320.6 512.4h1.2v1.2h-1.2zM331.1 498.0h1.2v1.2h-1.2zM333.1 496.0h1.2v1.2h-1.2zM335.5 493.4h1.2v1.2h-1.2zM277.9 572.0h1.2v1.2h-1.2zM278.3 564.1h1.2v1.2h-1.2zM277.7 565.0h1.2v1.2h-1.2zM314.9 521.5h1.2v1.2h-1.2zM323.3 511.6h1.2v1.2h-1.2zM338.7 485.4h1.2v1.2h-1.2zM283.4 556.7h1.2v1.2h-1.2zM309.6 532.1h1.2v1.2h-1.2zM332.3 495.4h1.2v1.2h-1.2zM337.8 485.9h1.2v1.2h-1.2zM320.7 515.1h1.2v1.2h-1.2zM310.8 530.5h1.2v1.2h-1.2zM326.4 504.0h1.2v1.2h-1.2zM332.7 496.6h1.2v1.2h-1.2zM306.7 540.4h1.2v1.2h-1.2zM338.1 486.8h1.2v1.2h-1.2zM281.4 570.2h1.2v1.2h-1.2zM339.7 485.6h1.2v1.2h-1.2zM319.3 516.2h1.2v1.2h-1.2zM308.4 534.7h1.2v1.2h-1.2zM334.7 495.1h1.2v1.2h-1.2zM315.3 522.0h1.2v1.2h-1.2zM300.9 549.5h1.2v1.2h-1.2zM335.0 492.2h1.2v1.2h-1.2zM321.0 511.6h1.2v1.2h-1.2zM305.4 531.9h1.2v1.2h-1.2zM318.3 517.3h1.2v1.2h-1.2zM316.5 518.1h1.2v1.2h-1.2zM333.7 494.5h1.2v1.2h-1.2zM300.1 537.1h1.2v1.2h-1.2zM319.2 516.8h1.2v1.2h-1.2zM318.9 516.3h1.2v1.2h-1.2zM281.5 557.6h1.2v1.2h-1.2zM331.5 496.7h1.2v1.2h-1.2zM298.6 539.7h1.2v1.2h-1.2zM281.3 558.2h1.2v1.2h-1.2zM328.0 502.1h1.2v1.2h-1.2zM288.4 565.1h1.2v1.2h-1.2zM283.1 568.8h1.2v1.2h-1.2zM286.2 566.6h1.2v1.2h-1.2zM275.6 569.7h1.2v1.2h-1.2zM319.1 515.3h1.2v1.2h-1.2zM284.5 568.9h1.2v1.2h-1.2zM304.6 542.2h1.2v1.2h-1.2zM301.3 547.0h1.2v1.2h-1.2zM300.9 551.3h1.2v1.2h-1.2zM306.5 539.4h1.2v1.2h-1.2zM313.4 523.2h1.2v1.2h-1.2zM333.1 493.7h1.2v1.2h-1.2zM290.7 548.5h1.2v1.2h-1.2zM284.6 569.5h1.2v1.2h-1.2zM313.0 523.3h1.2v1.2h-1.2zM329.8 500.1h1.2v1.2h-1.2zM327.9 503.1h1.2v1.2h-1.2zM326.7 503.1h1.2v1.2h-1.2zM332.7 497.3h1.2v1.2h-1.2zM282.2 557.5h1.2v1.2h-1.2zM290.6 562.7h1.2v1.2h-1.2zM300.4 550.1h1.2v1.2h-1.2zM311.4 525.5h1.2v1.2h-1.2zM284.5 553.9h1.2v1.2h-1.2z" fill="#2c30da" fill-opacity="0.75"/>
<path d="M284.0 555.0h1.2v1.2h-1.2zM296.9 555.5h1.2v1.2h-1.2zM280.2 569.1h1.2v1.2h-1.2zM277.1 570.4h1.2v1.2h-1.2zM280.9 568.8h1.2v1.2h-1.2zM322.7 511.0h1.2v1.2h-1.2zM309.1 530.6h1.2v1.2h-1.2zM307.2 533.0h1.2v1.2h-1.2zM294.1 544.1h1.2v1.2h-1.2zM305.6 539.8h1.2v1.2h-1.2zM315.4 520.7h1.2v1.2h-1.2zM282.2 558.5h1.2v1.2h-1.2zM282.2 568.1h1.2v1.2h-1.2zM321.1 512.0h1.2v1.2h-1.2zM321.1 510.8h1.2v1.2h-1.2zM287.5 551.9h1.2v1.2h-1.2zM304.4 534.7h1.2v1.2h-1.2zM317.0 519.4h1.2v1.2h-1.2zM277.3 570.5h1.2v1.2h-1.2zM320.6 513.6h1.2v1.2h-1.2zM309.2 531.3h1.2v1.2h-1.2zM321.7 512.5h1.2v1.2h-1.2zM307.4 535.8h1.2v1.2h-1.2zM278.0 569.7h1.2v1.2h-1.2zM278.4 566.7h1.2v1.2h-1.2zM278.8 568.8h1.2v1.2h-1.2zM300.0 550.7h1.2v1.2h-1.2zM292.8 546.3h1.2v1.2h-1.2zM316.9 519.1h1.2v1.2h-1.2zM298.9 552.3h1.2v1.2h-1.2zM287.8 551.8h1.2v1.2h-1.2zM283.7 567.8h1.2v1.2h-1.2zM282.4 567.8h1.2v1.2h-1.2zM298.3 540.7h1.2v1.2h-1.2zM286.5 552.7h1.2v1.2h-1.2zM308.8 530.7h1.2v1.2h-1.2zM302.7 536.6h1.2v1.2h-1.2zM277.4 568.4h1.2v1.2h-1.2zM307.8 532.1h1.2v1.2h-1.2zM308.8 532.9h1.2v1.2h-1.2zM279.6 569.2h1.2v1.2h-1.2zM285.3 566.1h1.2v1.2h-1.2zM307.5 531.2h1.2v1.2h-1.2zM308.3 530.9h1.2v1.2h-1.2zM308.3 531.4h1.2v1.2h-1.2zM280.2 561.6h1.2v1.2h-1.2zM278.4 566.9h1.2v1.2h-1.2zM296.6 554.7h1.2v1.2h-1.2zM278.7 569.2h1.2v1.2h-1.2zM308.5 532.5h1.2v1.2h-1.2zM278.6 567.3h1.2v1.2h-1.2zM279.4 563.7h1.2v1.2h-1.2zM279.5 569.6h1.2v1.2h-1.2zM291.4 546.9h1.2v1.2h-1.2zM293.1 545.3h1.2v1.2h-1.2zM317.9 517.8h1.2v1.2h-1.2zM306.3 533.5h1.2v1.2h-1.2zM308.7 531.0h1.2v1.2h-1.2zM300.2 538.2h1.2v1.2h-1.2zM279.2 569.9h1.2v1.2h-1.2zM287.7 551.7h1.2v1.2h-1.2zM308.3 531.3h1.2v1.2h-1.2zM321.5 512.5h1.2v1.2h-1.2zM278.3 567.1h1.2v1.2h-1.2zM292.2 546.3h1.2v1.2h-1.2zM305.4 540.4h1.2v1.2h-1.2zM309.8 529.9h1.2v1.2h-1.2zM307.7 532.5h1.2v1.2h-1.2zM304.3 534.4h1.2v1.2h-1.2zM297.8 540.8h1.2v1.2h-1.2zM277.9 569.2h1.2v1.2h-1.2zM277.6 569.1h1.2v1.2h-1.2zM282.2 568.0h1.2v1.2h-1.2zM281.7 560.0h1.2v1.2h-1.2zM283.3 567.1h1.2v1.2h-1.2zM293.3 545.6h1.2v1.2h-1.2zM316.1 520.0h1.2v1.2h-1.2zM308.8 532.4h1.2v1.2h-1.2zM278.3 569.8h1.2v1.2h-1.2zM277.6 570.7h1.2v1.2h-1.2zM291.3 547.6h1.2v1.2h-1.2zM322.7 511.3h1.2v1.2h-1.2zM306.6 532.3h1.2v1.2h-1.2zM309.1 531.1h1.2v1.2h-1.2zM309.3 528.9h1.2v1.2h-1.2zM304.0 534.6h1.2v1.2h-1.2zM309.2 529.8h1.2v1.2h-1.2zM307.5 535.8h1.2v1.2h-1.2zM321.1 511.3h1.2v1.2h-1.2zM279.3 570.4h1.2v1.2h-1.2zM281.8 560.4h1.2v1.2h-1.2zM278.9 569.5h1.2v1.2h-1.2zM282.7 558.2h1.2v1.2h-1.2zM320.3 514.3h1.2v1.2h-1.2zM279.4 562.6h1.2v1.2h-1.2zM316.5 518.9h1.2v1.2h-1.2zM304.4 534.2h1.2v1.2h-1.2zM317.9 518.4h1.2v1.2h-1.2zM302.5 536.1h1.2v1.2h-1.2zM279.7 564.2h1.2v1.2h-1.2zM321.6 513.3h1.2v1.2h-1.2zM322.1 511.2h1.2v1.2h-1.2zM322.1 511.5h1.2v1.2h-1.2zM281.8 558.9h1.2v1.2h-1.2zM316.8 520.1h1.2v1.2h-1.2zM306.4 538.1h1.2v1.2h-1.2zM307.2 534.8h1.2v1.2h-1.2zM307.5 535.2h1.2v1.2h-1.2zM280.9 560.6h1.2v1.2h-1.2zM299.5 550.2h1.2v1.2h-1.2zM315.7 519.8h1.2v1.2h-1.2zM321.1 513.5h1.2v1.2h-1.2zM303.3 533.8h1.2v1.2h-1.2zM309.8 529.6h1.2v1.2h-1.2zM280.7 559.9h1.2v1.2h-1.2zM279.2 570.6h1.2v1.2h-1.2zM280.8 561.2h1.2v1.2h-1.2zM307.5 535.9h1.2v1.2h-1.2zM320.1 514.0h1.2v1.2h-1.2z" fill="#272dde" fill-opacity="0.80"/>
<path d="M291.8 547.9h1.2v1.2h-1.2zM302.5 537.0h1.2v1.2h-1.2zM282.7 567.2h1.2v1.2h-1.2zM285.5 565.6h1.2v1.2h-1.2zM302.2 536.9h1.2v1.2h-1.2zM295.5 543.1h1.2v1.2h-1.2zM301.3 538.6h1.2v1.2h-1.2zM291.9 548.1h1.2v1.2h-1.2zM281.0 563.4h1.2v1.2h-1.2zM305.4 534.3h1.2v1.2h-1.2zM293.0 547.0h1.2v1.2h-1.2zM305.4 534.6h1.2v1.2h-1.2zM306.8 535.9h1.2v1.2h-1.2zM305.0 538.8h1.2v1.2h-1.2zM282.5 567.5h1.2v1.2h-1.2zM303.9 535.4h1.2v1.2h-1.2zM287.4 563.9h1.2v1.2h-1.2zM306.4 534.9h1.2v1.2h-1.2zM291.6 548.6h1.2v1.2h-1.2zM279.4 565.8h1.2v1.2h-1.2zM287.7 564.1h1.2v1.2h-1.2zM285.5 565.1h1.2v1.2h-1.2zM303.8 541.9h1.2v1.2h-1.2zM284.3 566.4h1.2v1.2h-1.2zM291.7 548.0h1.2v1.2h-1.2zM305.1 538.2h1.2v1.2h-1.2zM294.2 556.9h1.2v1.2h-1.2zM305.2 539.3h1.2v1.2h-1.2zM287.8 564.7h1.2v1.2h-1.2zM303.4 535.5h1.2v1.2h-1.2zM280.0 562.4h1.2v1.2h-1.2zM301.7 538.4h1.2v1.2h-1.2zM283.6 566.2h1.2v1.2h-1.2zM287.2 564.3h1.2v1.2h-1.2zM304.3 535.2h1.2v1.2h-1.2zM280.5 562.5h1.2v1.2h-1.2zM306.6 535.8h1.2v1.2h-1.2zM306.9 534.7h1.2v1.2h-1.2zM282.1 559.3h1.2v1.2h-1.2zM304.6 540.3h1.2v1.2h-1.2zM304.9 535.4h1.2v1.2h-1.2zM279.7 567.3h1.2v1.2h-1.2zM279.7 565.2h1.2v1.2h-1.2zM297.9 552.8h1.2v1.2h-1.2zM290.8 561.0h1.2v1.2h-1.2zM279.4 566.7h1.2v1.2h-1.2zM279.8 565.9h1.2v1.2h-1.2zM303.5 541.9h1.2v1.2h-1.2zM302.1 544.7h1.2v1.2h-1.2zM307.8 534.3h1.2v1.2h-1.2zM279.6 566.4h1.2v1.2h-1.2zM281.6 567.9h1.2v1.2h-1.2zM306.5 536.7h1.2v1.2h-1.2zM290.7 561.0h1.2v1.2h-1.2zM295.6 556.6h1.2v1.2h-1.2zM283.9 558.3h1.2v1.2h-1.2zM307.0 534.1h1.2v1.2h-1.2zM303.5 541.7h1.2v1.2h-1.2zM284.8 557.1h1.2v1.2h-1.2zM285.8 565.1h1.2v1.2h-1.2zM280.9 562.4h1.2v1.2h-1.2zM307.3 533.8h1.2v1.2h-1.2zM284.7 557.6h1.2v1.2h-1.2zM304.2 539.9h1.2v1.2h-1.2zM284.9 556.0h1.2v1.2h-1.2zM302.4 544.4h1.2v1.2h-1.2zM305.5 533.8h1.2v1.2h-1.2zM280.7 563.4h1.2v1.2h-1.2zM284.2 555.9h1.2v1.2h-1.2zM308.0 534.4h1.2v1.2h-1.2zM292.6 559.0h1.2v1.2h-1.2zM294.3 557.3h1.2v1.2h-1.2zM305.0 539.0h1.2v1.2h-1.2zM280.3 568.6h1.2v1.2h-1.2zM307.7 534.3h1.2v1.2h-1.2zM291.2 559.9h1.2v1.2h-1.2zM285.8 555.6h1.2v1.2h-1.2zM289.8 551.0h1.2v1.2h-1.2zM307.6 534.0h1.2v1.2h-1.2zM284.7 555.8h1.2v1.2h-1.2zM302.3 544.0h1.2v1.2h-1.2zM279.1 566.4h1.2v1.2h-1.2zM303.1 535.5h1.2v1.2h-1.2zM303.3 536.2h1.2v1.2h-1.2zM306.5 536.4h1.2v1.2h-1.2zM281.8 568.4h1.2v1.2h-1.2zM279.2 566.0h1.2v1.2h-1.2zM292.6 546.8h1.2v1.2h-1.2zM305.9 538.5h1.2v1.2h-1.2zM280.5 563.0h1.2v1.2h-1.2zM294.0 558.6h1.2v1.2h-1.2z" fill="#212be1" fill-opacity="0.85"/>
<path d="M304.1 538.0h1.2v1.2h-1.2zM281.0 564.4h1.2v1.2h-1.2zM284.5 558.3h1.2v1.2h-1.2zM304.4 539.4h1.2v1.2h-1.2zM284.6 557.8h1.2v1.2h-1.2zM288.3 552.1h1.2v1.2h-1.2zM299.2 539.9h1.2v1.2h-1.2zM294.2 544.8h1.2v1.2h-1.2zM298.7 540.8h1.2v1.2h-1.2zM304.4 536.4h1.2v1.2h-1.2zM286.5 554.7h1.2v1.2h-1.2zM300.5 539.6h1.2v1.2h-1.2zM299.3 540.2h1.2v1.2h-1.2zM288.9 552.3h1.2v1.2h-1.2zM291.9 549.4h1.2v1.2h-1.2zM291.4 549.5h1.2v1.2h-1.2zM291.4 549.5h1.2v1.2h-1.2zM287.3 553.4h1.2v1.2h-1.2zM306.0 535.9h1.2v1.2h-1.2zM305.0 538.1h1.2v1.2h-1.2zM300.4 538.8h1.2v1.2h-1.2zM304.9 536.0h1.2v1.2h-1.2zM281.2 566.8h1.2v1.2h-1.2zM299.1 549.2h1.2v1.2h-1.2zM302.9 538.6h1.2v1.2h-1.2zM280.1 566.3h1.2v1.2h-1.2zM287.1 553.6h1.2v1.2h-1.2zM294.2 545.0h1.2v1.2h-1.2zM304.0 536.0h1.2v1.2h-1.2zM286.5 554.0h1.2v1.2h-1.2zM299.9 540.1h1.2v1.2h-1.2zM304.7 536.5h1.2v1.2h-1.2zM280.6 566.8h1.2v1.2h-1.2zM299.8 549.1h1.2v1.2h-1.2zM299.0 540.8h1.2v1.2h-1.2zM284.3 557.9h1.2v1.2h-1.2zM281.7 567.2h1.2v1.2h-1.2zM286.5 554.2h1.2v1.2h-1.2zM302.7 537.9h1.2v1.2h-1.2zM303.5 537.5h1.2v1.2h-1.2zM305.8 535.9h1.2v1.2h-1.2zM296.3 554.0h1.2v1.2h-1.2zM303.4 541.0h1.2v1.2h-1.2zM280.3 566.2h1.2v1.2h-1.2zM282.8 566.2h1.2v1.2h-1.2zM304.7 537.8h1.2v1.2h-1.2zM304.7 537.5h1.2v1.2h-1.2zM287.7 552.7h1.2v1.2h-1.2zM281.9 567.7h1.2v1.2h-1.2zM304.8 536.5h1.2v1.2h-1.2zM296.8 553.9h1.2v1.2h-1.2zM281.4 567.4h1.2v1.2h-1.2zM303.6 537.4h1.2v1.2h-1.2zM303.9 541.5h1.2v1.2h-1.2zM285.8 556.7h1.2v1.2h-1.2zM280.3 566.5h1.2v1.2h-1.2zM302.1 537.9h1.2v1.2h-1.2zM303.8 537.4h1.2v1.2h-1.2zM288.1 552.1h1.2v1.2h-1.2zM302.7 538.1h1.2v1.2h-1.2zM301.7 544.9h1.2v1.2h-1.2zM304.2 538.9h1.2v1.2h-1.2z" fill="#1b29e5" fill-opacity="0.90"/>
<path d="M295.1 543.9h1.2v1.2h-1.2zM286.9 555.4h1.2v1.2h-1.2zM286.6 564.1h1.2v1.2h-1.2zM285.2 556.8h1.2v1.2h-1.2zM301.6 539.5h1.2v1.2h-1.2zM302.2 543.2h1.2v1.2h-1.2zM281.6 562.5h1.2v1.2h-1.2zM281.0 566.5h1.2v1.2h-1.2zM295.8 555.5h1.2v1.2h-1.2zM282.8 561.2h1.2v1.2h-1.2zM283.2 560.0h1.2v1.2h-1.2zM294.0 547.7h1.2v1.2h-1.2zM301.7 539.2h1.2v1.2h-1.2zM282.0 563.3h1.2v1.2h-1.2zM282.5 565.5h1.2v1.2h-1.2zM282.9 565.2h1.2v1.2h-1.2zM286.8 563.7h1.2v1.2h-1.2zM281.0 566.3h1.2v1.2h-1.2zM298.1 550.4h1.2v1.2h-1.2zM292.5 547.8h1.2v1.2h-1.2zM296.3 543.4h1.2v1.2h-1.2zM303.2 539.9h1.2v1.2h-1.2zM298.0 550.5h1.2v1.2h-1.2zM281.5 562.0h1.2v1.2h-1.2zM282.4 565.0h1.2v1.2h-1.2zM281.7 564.2h1.2v1.2h-1.2zM303.9 539.9h1.2v1.2h-1.2zM296.3 543.7h1.2v1.2h-1.2zM282.0 560.8h1.2v1.2h-1.2zM281.1 565.0h1.2v1.2h-1.2zM283.6 560.1h1.2v1.2h-1.2zM301.4 539.1h1.2v1.2h-1.2zM282.4 564.7h1.2v1.2h-1.2zM303.9 538.9h1.2v1.2h-1.2zM285.9 557.4h1.2v1.2h-1.2zM281.7 565.2h1.2v1.2h-1.2zM301.6 539.3h1.2v1.2h-1.2zM281.5 563.2h1.2v1.2h-1.2zM285.4 557.2h1.2v1.2h-1.2zM292.2 548.2h1.2v1.2h-1.2zM292.6 547.8h1.2v1.2h-1.2zM286.1 555.3h1.2v1.2h-1.2zM282.2 560.7h1.2v1.2h-1.2zM296.7 542.9h1.2v1.2h-1.2zM283.0 560.8h1.2v1.2h-1.2zM281.8 565.8h1.2v1.2h-1.2zM302.6 539.2h1.2v1.2h-1.2zM281.5 562.8h1.2v1.2h-1.2zM281.1 564.7h1.2v1.2h-1.2zM302.3 539.6h1.2v1.2h-1.2zM283.7 560.0h1.2v1.2h-1.2zM283.5 564.9h1.2v1.2h-1.2zM296.4 543.0h1.2v1.2h-1.2zM283.1 565.6h1.2v1.2h-1.2zM282.7 561.0h1.2v1.2h-1.2z" fill="#1439eb" fill-opacity="0.95"/>
<path d="M291.9 558.8h1.2v1.2h-1.2zM290.3 551.0h1.2v1.2h-1.2zM288.8 553.1h1.2v1.2h-1.2zM289.9 552.1h1.2v1.2h-1.2zM283.0 563.6h1.2v1.2h-1.2zM288.8 562.2h1.2v1.2h-1.2zM285.8 564.1h1.2v1.2h-1.2zM282.7 563.3h1.2v1.2h-1.2zM284.0 564.5h1.2v1.2h-1.2zM284.6 560.0h1.2v1.2h-1.2zM302.2 539.7h1.2v1.2h-1.2zM294.5 556.0h1.2v1.2h-1.2zM293.2 556.7h1.2v1.2h-1.2zM284.3 559.9h1.2v1.2h-1.2zM302.1 542.5h1.2v1.2h-1.2zM287.1 563.2h1.2v1.2h-1.2zM293.5 557.6h1.2v1.2h-1.2zM294.5 555.8h1.2v1.2h-1.2zM288.7 552.9h1.2v1.2h-1.2zM289.8 552.5h1.2v1.2h-1.2zM287.8 554.0h1.2v1.2h-1.2zM294.6 556.2h1.2v1.2h-1.2zM291.3 558.9h1.2v1.2h-1.2zM284.8 564.6h1.2v1.2h-1.2zM300.2 540.5h1.2v1.2h-1.2zM282.4 563.6h1.2v1.2h-1.2zM294.5 555.7h1.2v1.2h-1.2zM292.7 558.3h1.2v1.2h-1.2zM299.4 540.9h1.2v1.2h-1.2zM284.7 563.9h1.2v1.2h-1.2zM282.6 563.3h1.2v1.2h-1.2zM287.7 563.3h1.2v1.2h-1.2zM290.1 560.2h1.2v1.2h-1.2zM291.9 559.4h1.2v1.2h-1.2zM284.3 560.1h1.2v1.2h-1.2zM292.7 558.1h1.2v1.2h-1.2zM302.4 539.8h1.2v1.2h-1.2zM284.2 564.1h1.2v1.2h-1.2zM290.7 560.5h1.2v1.2h-1.2zM302.6 542.1h1.2v1.2h-1.2zM302.9 542.5h1.2v1.2h-1.2zM284.2 564.5h1.2v1.2h-1.2zM283.0 562.2h1.2v1.2h-1.2zM287.4 554.5h1.2v1.2h-1.2zM302.1 542.0h1.2v1.2h-1.2zM302.2 541.9h1.2v1.2h-1.2zM287.0 563.7h1.2v1.2h-1.2zM289.1 561.3h1.2v1.2h-1.2zM300.5 546.6h1.2v1.2h-1.2zM300.2 545.8h1.2v1.2h-1.2zM300.2 540.7h1.2v1.2h-1.2zM290.8 551.6h1.2v1.2h-1.2zM287.4 554.1h1.2v1.2h-1.2zM288.4 562.5h1.2v1.2h-1.2zM284.3 563.9h1.2v1.2h-1.2zM296.2 552.8h1.2v1.2h-1.2zM288.5 552.7h1.2v1.2h-1.2zM302.7 539.8h1.2v1.2h-1.2zM302.5 540.4h1.2v1.2h-1.2zM285.5 564.2h1.2v1.2h-1.2zM284.1 559.9h1.2v1.2h-1.2zM288.3 562.5h1.2v1.2h-1.2z" fill="#0d55f2" fill-opacity="1.00"/>
<path d="M295.5 545.5h1.2v1.2h-1.2zM291.1 549.9h1.2v1.2h-1.2zM297.8 550.9h1.2v1.2h-1.2zM283.9 563.5h1.2v1.2h-1.2zM283.3 562.5h1.2v1.2h-1.2zM283.0 563.5h1.2v1.2h-1.2zM294.5 546.9h1.2v1.2h-1.2zM301.4 540.0h1.2v1.2h-1.2zM283.3 563.3h1.2v1.2h-1.2zM285.9 557.9h1.2v1.2h-1.2zM297.7 550.7h1.2v1.2h-1.2zM283.8 562.2h1.2v1.2h-1.2zM297.7 551.2h1.2v1.2h-1.2zM295.9 545.1h1.2v1.2h-1.2zM286.2 556.1h1.2v1.2h-1.2zM302.2 541.4h1.2v1.2h-1.2zM301.8 540.6h1.2v1.2h-1.2zM293.3 548.1h1.2v1.2h-1.2zM284.0 562.8h1.2v1.2h-1.2zM283.3 564.3h1.2v1.2h-1.2zM283.5 564.2h1.2v1.2h-1.2zM297.8 551.6h1.2v1.2h-1.2zM301.8 544.2h1.2v1.2h-1.2zM283.4 564.5h1.2v1.2h-1.2zM294.0 548.7h1.2v1.2h-1.2zM286.6 556.0h1.2v1.2h-1.2zM294.4 547.5h1.2v1.2h-1.2zM283.2 564.3h1.2v1.2h-1.2zM285.8 558.0h1.2v1.2h-1.2zM286.3 556.1h1.2v1.2h-1.2zM301.9 543.8h1.2v1.2h-1.2zM295.3 545.4h1.2v1.2h-1.2zM302.2 540.8h1.2v1.2h-1.2zM283.7 562.4h1.2v1.2h-1.2zM286.2 563.2h1.2v1.2h-1.2zM301.3 540.0h1.2v1.2h-1.2zM295.7 544.8h1.2v1.2h-1.2z" fill="#0571fa" fill-opacity="1.00"/>
<path d="M284.5 561.4h1.2v1.2h-1.2zM284.6 561.6h1.2v1.2h-1.2zM299.4 547.6h1.2v1.2h-1.2zM299.9 547.2h1.2v1.2h-1.2zM287.1 555.1h1.2v1.2h-1.2zM284.2 562.1h1.2v1.2h-1.2zM286.2 557.1h1.2v1.2h-1.2zM301.3 541.1h1.2v1.2h-1.2zM300.3 540.8h1.2v1.2h-1.2zM286.5 556.8h1.2v1.2h-1.2zM299.9 547.4h1.2v1.2h-1.2zM295.2 554.2h1.2v1.2h-1.2zM298.2 549.0h1.2v1.2h-1.2zM285.9 559.3h1.2v1.2h-1.2zM285.6 562.9h1.2v1.2h-1.2zM297.5 542.9h1.2v1.2h-1.2zM289.6 553.4h1.2v1.2h-1.2zM284.3 561.2h1.2v1.2h-1.2zM285.4 563.3h1.2v1.2h-1.2zM287.6 555.3h1.2v1.2h-1.2zM284.8 561.2h1.2v1.2h-1.2zM285.1 563.2h1.2v1.2h-1.2zM298.3 549.6h1.2v1.2h-1.2zM287.4 555.6h1.2v1.2h-1.2zM297.5 543.6h1.2v1.2h-1.2zM285.1 559.5h1.2v1.2h-1.2zM295.8 554.4h1.2v1.2h-1.2zM299.9 546.7h1.2v1.2h-1.2zM299.4 547.1h1.2v1.2h-1.2zM287.1 555.1h1.2v1.2h-1.2zM300.7 541.0h1.2v1.2h-1.2zM288.2 553.9h1.2v1.2h-1.2zM301.7 541.2h1.2v1.2h-1.2zM289.9 553.6h1.2v1.2h-1.2zM300.2 540.9h1.2v1.2h-1.2zM288.3 554.0h1.2v1.2h-1.2zM296.0 553.9h1.2v1.2h-1.2zM286.0 563.0h1.2v1.2h-1.2zM300.1 545.1h1.2v1.2h-1.2zM284.6 562.1h1.2v1.2h-1.2zM297.1 543.4h1.2v1.2h-1.2z" fill="#008efb" fill-opacity="1.00"/>
<path d="M297.2 550.1h1.2v1.2h-1.2zM287.8 561.8h1.2v1.2h-1.2zM297.9 549.9h1.2v1.2h-1.2zM290.0 552.3h1.2v1.2h-1.2zM294.9 555.2h1.2v1.2h-1.2zM301.2 542.9h1.2v1.2h-1.2zM295.8 545.8h1.2v1.2h-1.2zM290.2 552.3h1.2v1.2h-1.2zM296.4 552.2h1.2v1.2h-1.2zM287.5 562.4h1.2v1.2h-1.2zM287.5 562.3h1.2v1.2h-1.2zM295.7 546.6h1.2v1.2h-1.2zM285.6 560.4h1.2v1.2h-1.2zM301.2 541.8h1.2v1.2h-1.2zM295.3 546.5h1.2v1.2h-1.2zM297.0 551.8h1.2v1.2h-1.2zM301.1 543.4h1.2v1.2h-1.2zM301.6 542.2h1.2v1.2h-1.2zM295.2 546.5h1.2v1.2h-1.2zM287.5 561.7h1.2v1.2h-1.2zM296.4 544.6h1.2v1.2h-1.2zM299.8 542.7h1.2v1.2h-1.2zM301.8 541.7h1.2v1.2h-1.2zM299.9 542.4h1.2v1.2h-1.2zM301.8 542.2h1.2v1.2h-1.2zM301.8 543.3h1.2v1.2h-1.2zM301.9 543.7h1.2v1.2h-1.2zM287.0 562.1h1.2v1.2h-1.2zM296.0 546.5h1.2v1.2h-1.2zM297.0 544.2h1.2v1.2h-1.2z" fill="#00acf0" fill-opacity="1.00"/>
<path d="M287.3 556.5h1.2v1.2h-1.2zM293.2 556.4h1.2v1.2h-1.2zM294.6 548.3h1.2v1.2h-1.2zM285.0 561.2h1.2v1.2h-1.2zM294.8 548.6h1.2v1.2h-1.2zM298.6 548.6h1.2v1.2h-1.2zM291.3 551.5h1.2v1.2h-1.2zM293.6 556.2h1.2v1.2h-1.2zM294.9 548.4h1.2v1.2h-1.2zM298.1 548.5h1.2v1.2h-1.2zM285.5 561.9h1.2v1.2h-1.2zM286.0 562.0h1.2v1.2h-1.2zM286.1 558.5h1.2v1.2h-1.2zM298.5 547.9h1.2v1.2h-1.2zM294.8 548.5h1.2v1.2h-1.2zM291.3 551.2h1.2v1.2h-1.2zM285.2 562.2h1.2v1.2h-1.2zM298.3 548.3h1.2v1.2h-1.2zM291.4 551.6h1.2v1.2h-1.2zM294.1 547.9h1.2v1.2h-1.2zM285.4 562.0h1.2v1.2h-1.2zM285.3 561.4h1.2v1.2h-1.2z" fill="#00cbe5" fill-opacity="1.00"/>
<path d="M295.8 553.0h1.2v1.2h-1.2zM293.6 549.6h1.2v1.2h-1.2zM286.0 561.9h1.2v1.2h-1.2zM296.0 552.8h1.2v1.2h-1.2zM292.2 550.3h1.2v1.2h-1.2zM299.4 545.8h1.2v1.2h-1.2zM295.8 553.0h1.2v1.2h-1.2zM293.2 549.3h1.2v1.2h-1.2zM300.0 542.6h1.2v1.2h-1.2zM292.5 550.3h1.2v1.2h-1.2zM289.9 560.2h1.2v1.2h-1.2zM300.1 544.3h1.2v1.2h-1.2zM293.9 549.5h1.2v1.2h-1.2zM300.1 542.0h1.2v1.2h-1.2zM300.9 544.5h1.2v1.2h-1.2zM299.7 545.9h1.2v1.2h-1.2zM298.9 543.0h1.2v1.2h-1.2zM295.3 553.7h1.2v1.2h-1.2zM300.7 544.5h1.2v1.2h-1.2zM301.0 542.7h1.2v1.2h-1.2zM298.7 543.5h1.2v1.2h-1.2zM289.9 554.4h1.2v1.2h-1.2zM289.7 554.3h1.2v1.2h-1.2zM293.9 549.1h1.2v1.2h-1.2zM300.8 542.7h1.2v1.2h-1.2zM288.5 561.5h1.2v1.2h-1.2zM299.2 546.3h1.2v1.2h-1.2zM299.7 546.2h1.2v1.2h-1.2zM290.3 559.1h1.2v1.2h-1.2zM300.1 544.1h1.2v1.2h-1.2zM295.1 547.0h1.2v1.2h-1.2zM291.2 557.8h1.2v1.2h-1.2zM290.1 559.2h1.2v1.2h-1.2zM288.1 561.4h1.2v1.2h-1.2zM298.5 542.7h1.2v1.2h-1.2zM286.3 562.4h1.2v1.2h-1.2zM298.0 548.9h1.2v1.2h-1.2zM295.9 546.9h1.2v1.2h-1.2zM290.5 559.1h1.2v1.2h-1.2zM298.1 543.3h1.2v1.2h-1.2zM291.5 558.5h1.2v1.2h-1.2zM297.5 549.1h1.2v1.2h-1.2zM292.8 550.2h1.2v1.2h-1.2zM292.7 549.8h1.2v1.2h-1.2zM289.5 553.8h1.2v1.2h-1.2zM300.4 542.7h1.2v1.2h-1.2zM300.6 544.0h1.2v1.2h-1.2zM286.2 562.3h1.2v1.2h-1.2zM290.6 559.5h1.2v1.2h-1.2zM288.6 555.2h1.2v1.2h-1.2zM297.5 548.8h1.2v1.2h-1.2zM298.4 543.5h1.2v1.2h-1.2zM298.4 543.4h1.2v1.2h-1.2z" fill="#06d7c0" fill-opacity="1.00"/>
<path d="M296.9 545.1h1.2v1.2h-1.2zM286.4 558.9h1.2v1.2h-1.2zM296.4 551.3h1.2v1.2h-1.2zM300.3 542.8h1.2v1.2h-1.2zM290.2 553.1h1.2v1.2h-1.2zM290.2 552.9h1.2v1.2h-1.2zM294.7 554.6h1.2v1.2h-1.2zM300.4 543.0h1.2v1.2h-1.2zM286.2 558.8h1.2v1.2h-1.2zM296.5 545.2h1.2v1.2h-1.2zM300.8 542.9h1.2v1.2h-1.2zM287.8 557.0h1.2v1.2h-1.2zM294.9 554.0h1.2v1.2h-1.2zM296.3 551.5h1.2v1.2h-1.2zM286.6 559.1h1.2v1.2h-1.2zM294.1 554.4h1.2v1.2h-1.2zM294.2 553.9h1.2v1.2h-1.2zM300.0 543.7h1.2v1.2h-1.2zM287.8 557.7h1.2v1.2h-1.2zM296.3 551.5h1.2v1.2h-1.2zM300.9 542.7h1.2v1.2h-1.2zM290.4 553.5h1.2v1.2h-1.2zM300.3 542.8h1.2v1.2h-1.2zM287.0 556.8h1.2v1.2h-1.2zM296.8 545.2h1.2v1.2h-1.2zM296.4 551.5h1.2v1.2h-1.2zM286.2 559.6h1.2v1.2h-1.2zM296.6 551.5h1.2v1.2h-1.2z" fill="#11d788" fill-opacity="1.00"/>
<path d="M295.3 547.8h1.2v1.2h-1.2zM286.5 561.5h1.2v1.2h-1.2zM293.5 555.7h1.2v1.2h-1.2zM297.5 543.9h1.2v1.2h-1.2zM296.1 545.8h1.2v1.2h-1.2zM286.1 561.2h1.2v1.2h-1.2zM291.8 552.7h1.2v1.2h-1.2zM297.7 544.4h1.2v1.2h-1.2zM292.0 551.9h1.2v1.2h-1.2zM293.1 554.8h1.2v1.2h-1.2zM297.4 544.1h1.2v1.2h-1.2zM296.4 546.0h1.2v1.2h-1.2zM295.3 548.3h1.2v1.2h-1.2zM296.5 546.3h1.2v1.2h-1.2zM294.0 554.9h1.2v1.2h-1.2zM299.5 543.6h1.2v1.2h-1.2zM291.4 552.5h1.2v1.2h-1.2zM295.1 548.3h1.2v1.2h-1.2zM293.5 554.7h1.2v1.2h-1.2zM291.9 552.5h1.2v1.2h-1.2zM299.5 543.4h1.2v1.2h-1.2zM299.3 543.3h1.2v1.2h-1.2zM286.4 561.1h1.2v1.2h-1.2zM291.8 552.6h1.2v1.2h-1.2zM286.3 560.9h1.2v1.2h-1.2zM295.3 548.2h1.2v1.2h-1.2zM297.5 544.0h1.2v1.2h-1.2zM286.4 561.5h1.2v1.2h-1.2zM291.2 551.9h1.2v1.2h-1.2zM293.2 554.9h1.2v1.2h-1.2z" fill="#1cd751" fill-opacity="1.00"/>
<path d="M287.4 561.5h1.2v1.2h-1.2zM287.0 561.4h1.2v1.2h-1.2zM296.8 548.7h1.2v1.2h-1.2zM296.7 548.2h1.2v1.2h-1.2zM298.2 547.5h1.2v1.2h-1.2zM296.7 548.6h1.2v1.2h-1.2zM296.8 550.5h1.2v1.2h-1.2zM298.2 546.9h1.2v1.2h-1.2zM299.5 544.3h1.2v1.2h-1.2zM299.6 544.2h1.2v1.2h-1.2zM298.4 547.4h1.2v1.2h-1.2zM288.5 556.7h1.2v1.2h-1.2zM296.8 548.4h1.2v1.2h-1.2zM299.8 544.0h1.2v1.2h-1.2zM297.4 548.2h1.2v1.2h-1.2zM299.2 543.8h1.2v1.2h-1.2zM289.8 555.0h1.2v1.2h-1.2zM294.9 549.0h1.2v1.2h-1.2zM296.2 549.7h1.2v1.2h-1.2zM300.0 543.9h1.2v1.2h-1.2zM287.6 561.5h1.2v1.2h-1.2zM289.9 555.3h1.2v1.2h-1.2zM287.3 561.5h1.2v1.2h-1.2zM297.3 548.2h1.2v1.2h-1.2zM299.8 545.5h1.2v1.2h-1.2zM297.4 548.0h1.2v1.2h-1.2zM298.3 546.8h1.2v1.2h-1.2zM294.1 549.5h1.2v1.2h-1.2zM289.0 554.9h1.2v1.2h-1.2zM290.4 554.0h1.2v1.2h-1.2zM299.9 545.0h1.2v1.2h-1.2zM286.4 560.5h1.2v1.2h-1.2zM298.9 547.3h1.2v1.2h-1.2zM287.4 560.8h1.2v1.2h-1.2zM288.5 556.2h1.2v1.2h-1.2zM287.3 561.1h1.2v1.2h-1.2zM289.4 555.6h1.2v1.2h-1.2zM299.2 545.2h1.2v1.2h-1.2zM297.0 549.8h1.2v1.2h-1.2zM296.7 548.2h1.2v1.2h-1.2zM297.4 548.2h1.2v1.2h-1.2zM296.8 548.1h1.2v1.2h-1.2zM286.2 560.7h1.2v1.2h-1.2zM289.9 555.2h1.2v1.2h-1.2zM290.0 554.2h1.2v1.2h-1.2zM296.8 550.0h1.2v1.2h-1.2zM298.8 547.1h1.2v1.2h-1.2z" fill="#5adc2f" fill-opacity="1.00"/>
<path d="M289.0 560.4h1.2v1.2h-1.2zM288.7 560.0h1.2v1.2h-1.2zM288.2 559.8h1.2v1.2h-1.2zM292.6 551.1h1.2v1.2h-1.2zM292.0 551.5h1.2v1.2h-1.2zM287.4 557.9h1.2v1.2h-1.2zM293.2 550.5h1.2v1.2h-1.2zM292.0 556.2h1.2v1.2h-1.2zM298.7 544.6h1.2v1.2h-1.2zM295.9 549.2h1.2v1.2h-1.2zM292.9 550.9h1.2v1.2h-1.2zM292.5 556.2h1.2v1.2h-1.2zM292.7 551.4h1.2v1.2h-1.2zM288.5 560.3h1.2v1.2h-1.2zM292.8 556.3h1.2v1.2h-1.2zM295.5 552.2h1.2v1.2h-1.2zM287.9 558.5h1.2v1.2h-1.2zM292.4 551.2h1.2v1.2h-1.2zM288.3 560.2h1.2v1.2h-1.2zM292.3 556.4h1.2v1.2h-1.2zM296.6 549.1h1.2v1.2h-1.2zM298.6 543.8h1.2v1.2h-1.2zM296.5 549.0h1.2v1.2h-1.2zM288.3 560.0h1.2v1.2h-1.2zM298.3 544.4h1.2v1.2h-1.2zM295.6 549.2h1.2v1.2h-1.2zM295.6 549.4h1.2v1.2h-1.2zM288.9 560.3h1.2v1.2h-1.2zM295.6 552.6h1.2v1.2h-1.2zM295.7 549.3h1.2v1.2h-1.2zM292.2 555.7h1.2v1.2h-1.2zM298.9 543.9h1.2v1.2h-1.2zM292.2 556.0h1.2v1.2h-1.2zM292.5 556.2h1.2v1.2h-1.2zM287.1 558.5h1.2v1.2h-1.2zM295.3 552.1h1.2v1.2h-1.2zM287.7 558.4h1.2v1.2h-1.2z" fill="#a5e212" fill-opacity="1.00"/>
<path d="M287.6 559.8h1.2v1.2h-1.2zM287.9 560.1h1.2v1.2h-1.2zM297.2 545.4h1.2v1.2h-1.2zM290.6 558.6h1.2v1.2h-1.2zM287.6 559.8h1.2v1.2h-1.2zM294.4 553.1h1.2v1.2h-1.2zM298.7 546.5h1.2v1.2h-1.2zM291.3 553.4h1.2v1.2h-1.2zM298.6 546.2h1.2v1.2h-1.2zM297.4 547.4h1.2v1.2h-1.2zM295.0 552.7h1.2v1.2h-1.2zM294.9 553.5h1.2v1.2h-1.2zM298.4 545.9h1.2v1.2h-1.2zM297.6 544.7h1.2v1.2h-1.2zM298.5 545.8h1.2v1.2h-1.2zM287.7 559.8h1.2v1.2h-1.2zM291.3 553.1h1.2v1.2h-1.2zM294.5 553.5h1.2v1.2h-1.2zM297.5 547.4h1.2v1.2h-1.2zM297.5 545.3h1.2v1.2h-1.2zM287.6 560.1h1.2v1.2h-1.2zM289.3 559.4h1.2v1.2h-1.2zM294.7 553.1h1.2v1.2h-1.2zM297.0 545.2h1.2v1.2h-1.2zM298.5 546.4h1.2v1.2h-1.2zM298.1 546.7h1.2v1.2h-1.2zM290.1 558.0h1.2v1.2h-1.2zM287.5 560.1h1.2v1.2h-1.2zM297.3 546.8h1.2v1.2h-1.2zM291.6 557.7h1.2v1.2h-1.2zM294.1 553.0h1.2v1.2h-1.2zM297.4 545.1h1.2v1.2h-1.2zM291.9 557.3h1.2v1.2h-1.2zM290.0 558.8h1.2v1.2h-1.2zM291.7 557.7h1.2v1.2h-1.2zM297.9 546.7h1.2v1.2h-1.2zM297.6 547.0h1.2v1.2h-1.2zM291.4 557.5h1.2v1.2h-1.2zM287.3 560.3h1.2v1.2h-1.2zM297.5 545.1h1.2v1.2h-1.2zM294.6 553.2h1.2v1.2h-1.2zM290.6 558.4h1.2v1.2h-1.2zM291.8 557.5h1.2v1.2h-1.2zM291.5 557.3h1.2v1.2h-1.2zM297.7 547.6h1.2v1.2h-1.2zM291.7 553.3h1.2v1.2h-1.2zM291.2 553.7h1.2v1.2h-1.2zM289.2 559.5h1.2v1.2h-1.2zM291.4 556.7h1.2v1.2h-1.2zM289.4 559.1h1.2v1.2h-1.2zM297.5 544.8h1.2v1.2h-1.2zM291.7 553.0h1.2v1.2h-1.2z" fill="#dad700" fill-opacity="1.00"/>
<path d="M297.8 546.4h1.2v1.2h-1.2zM287.8 559.3h1.2v1.2h-1.2zM290.8 554.9h1.2v1.2h-1.2zM295.5 550.1h1.2v1.2h-1.2zM287.8 558.8h1.2v1.2h-1.2zM298.5 545.2h1.2v1.2h-1.2zM287.5 559.2h1.2v1.2h-1.2zM298.6 545.2h1.2v1.2h-1.2zM292.7 555.6h1.2v1.2h-1.2zM295.4 549.9h1.2v1.2h-1.2zM295.6 550.6h1.2v1.2h-1.2zM298.3 545.0h1.2v1.2h-1.2zM287.8 559.5h1.2v1.2h-1.2zM293.0 555.7h1.2v1.2h-1.2zM287.5 559.0h1.2v1.2h-1.2zM292.0 555.0h1.2v1.2h-1.2zM288.8 557.7h1.2v1.2h-1.2zM297.5 546.1h1.2v1.2h-1.2zM294.0 550.5h1.2v1.2h-1.2zM292.0 555.0h1.2v1.2h-1.2zM288.0 557.5h1.2v1.2h-1.2zM288.5 557.1h1.2v1.2h-1.2zM291.0 555.6h1.2v1.2h-1.2zM288.5 557.2h1.2v1.2h-1.2zM294.0 550.4h1.2v1.2h-1.2zM295.6 550.4h1.2v1.2h-1.2zM292.4 554.9h1.2v1.2h-1.2zM291.3 554.6h1.2v1.2h-1.2zM289.0 557.1h1.2v1.2h-1.2zM298.7 544.8h1.2v1.2h-1.2zM295.9 549.9h1.2v1.2h-1.2zM292.8 555.6h1.2v1.2h-1.2zM291.9 554.6h1.2v1.2h-1.2zM294.6 549.9h1.2v1.2h-1.2zM294.0 550.0h1.2v1.2h-1.2zM290.9 554.8h1.2v1.2h-1.2zM298.4 545.3h1.2v1.2h-1.2z" fill="#ecb200" fill-opacity="1.00"/>
<path d="M288.9 558.9h1.2v1.2h-1.2zM292.5 552.4h1.2v1.2h-1.2zM292.7 554.0h1.2v1.2h-1.2zM292.5 554.3h1.2v1.2h-1.2zM295.1 551.3h1.2v1.2h-1.2zM292.6 554.2h1.2v1.2h-1.2zM295.4 550.9h1.2v1.2h-1.2zM295.0 551.5h1.2v1.2h-1.2zM291.8 555.7h1.2v1.2h-1.2zM292.9 552.5h1.2v1.2h-1.2zM292.2 553.1h1.2v1.2h-1.2zM292.6 552.1h1.2v1.2h-1.2zM292.8 554.3h1.2v1.2h-1.2zM288.0 558.7h1.2v1.2h-1.2zM295.6 551.2h1.2v1.2h-1.2zM295.2 550.8h1.2v1.2h-1.2zM288.6 559.0h1.2v1.2h-1.2zM295.8 551.7h1.2v1.2h-1.2zM295.4 551.3h1.2v1.2h-1.2zM292.2 554.0h1.2v1.2h-1.2zM289.0 556.0h1.2v1.2h-1.2zM292.8 552.6h1.2v1.2h-1.2zM295.3 551.5h1.2v1.2h-1.2zM292.9 551.8h1.2v1.2h-1.2zM292.7 552.7h1.2v1.2h-1.2zM292.9 551.7h1.2v1.2h-1.2zM292.8 553.9h1.2v1.2h-1.2zM291.1 555.3h1.2v1.2h-1.2zM288.2 558.7h1.2v1.2h-1.2zM291.8 554.7h1.2v1.2h-1.2zM295.2 551.3h1.2v1.2h-1.2zM289.5 556.0h1.2v1.2h-1.2zM289.8 556.3h1.2v1.2h-1.2zM288.6 558.9h1.2v1.2h-1.2zM292.6 553.7h1.2v1.2h-1.2z" fill="#ff8c00" fill-opacity="1.00"/>
<path d="M293.5 551.4h1.2v1.2h-1.2zM293.4 551.7h1.2v1.2h-1.2zM288.7 557.9h1.2v1.2h-1.2zM293.5 551.1h1.2v1.2h-1.2zM289.4 558.5h1.2v1.2h-1.2zM293.1 553.2h1.2v1.2h-1.2zM294.6 551.9h1.2v1.2h-1.2zM293.6 553.6h1.2v1.2h-1.2zM294.6 551.8h1.2v1.2h-1.2zM289.1 557.7h1.2v1.2h-1.2zM289.0 558.3h1.2v1.2h-1.2zM289.7 558.1h1.2v1.2h-1.2zM288.2 558.6h1.2v1.2h-1.2zM293.4 552.7h1.2v1.2h-1.2zM294.3 551.9h1.2v1.2h-1.2zM294.1 551.8h1.2v1.2h-1.2zM288.7 557.8h1.2v1.2h-1.2zM288.0 558.2h1.2v1.2h-1.2zM291.2 555.9h1.2v1.2h-1.2zM288.2 558.6h1.2v1.2h-1.2zM293.4 551.5h1.2v1.2h-1.2zM291.7 555.7h1.2v1.2h-1.2zM294.0 551.3h1.2v1.2h-1.2zM289.4 558.1h1.2v1.2h-1.2zM291.5 555.9h1.2v1.2h-1.2zM293.7 551.1h1.2v1.2h-1.2zM293.7 553.1h1.2v1.2h-1.2zM293.2 551.4h1.2v1.2h-1.2zM291.5 556.4h1.2v1.2h-1.2z" fill="#f25a00" fill-opacity="1.00"/>
<path d="M290.2 556.6h1.2v1.2h-1.2zM293.6 552.0h1.2v1.2h-1.2zM290.5 556.1h1.2v1.2h-1.2zM290.0 556.9h1.2v1.2h-1.2zM293.8 551.8h1.2v1.2h-1.2zM289.7 557.5h1.2v1.2h-1.2zM290.5 557.2h1.2v1.2h-1.2zM290.2 557.5h1.2v1.2h-1.2zM290.4 555.8h1.2v1.2h-1.2zM290.9 556.4h1.2v1.2h-1.2zM289.6 557.6h1.2v1.2h-1.2zM290.2 557.2h1.2v1.2h-1.2zM290.1 556.6h1.2v1.2h-1.2zM294.0 551.8h1.2v1.2h-1.2zM294.0 551.6h1.2v1.2h-1.2zM290.1 557.1h1.2v1.2h-1.2zM290.1 556.9h1.2v1.2h-1.2zM290.0 556.9h1.2v1.2h-1.2zM289.6 557.3h1.2v1.2h-1.2zM290.2 556.2h1.2v1.2h-1.2zM290.6 556.5h1.2v1.2h-1.2zM294.5 551.3h1.2v1.2h-1.2zM289.0 557.0h1.2v1.2h-1.2zM294.7 551.2h1.2v1.2h-1.2zM290.0 557.7h1.2v1.2h-1.2zM290.1 557.2h1.2v1.2h-1.2zM294.8 551.3h1.2v1.2h-1.2z" fill="#e62800" fill-opacity="1.00"/>
<line x1="61.10" y1="265.50" x2="192.50" y2="265.50" stroke="#7a7a7a" stroke-width="1.3"/>
<line x1="192.50" y1="265.50" x2="192.50" y2="411.20" stroke="#7a7a7a" stroke-width="1.3"/>
<line x1="129.00" y1="265.50" x2="129.00" y2="411.20" stroke="#4a4a4a" stroke-width="1.1"/>
<line x1="61.10" y1="335.50" x2="192.50" y2="335.50" stroke="#4a4a4a" stroke-width="1.1"/>
<line x1="61.10" y1="264.90" x2="61.10" y2="411.80" stroke="#333" stroke-width="1.2"/>
<line x1="60.50" y1="411.20" x2="193.10" y2="411.20" stroke="#333" stroke-width="1.2"/>
<line x1="59.30" y1="265.50" x2="61.10" y2="265.50" stroke="#3a3a3a" stroke-width="1.0"/>
<text x="55.70" y="265.50" font-size="5.4" fill="#111" stroke="#111" stroke-width="0.15" text-anchor="middle" transform="rotate(-90 55.70 265.50)">10<tspan font-size="4.59" dy="-1.78">7.2</tspan></text>
<line x1="59.30" y1="297.29" x2="61.10" y2="297.29" stroke="#3a3a3a" stroke-width="1.0"/>
<text x="55.70" y="297.29" font-size="5.4" fill="#111" stroke="#111" stroke-width="0.15" text-anchor="middle" transform="rotate(-90 55.70 297.29)">10<tspan font-size="4.59" dy="-1.78">6</tspan></text>
<line x1="59.30" y1="323.78" x2="61.10" y2="323.78" stroke="#3a3a3a" stroke-width="1.0"/>
<text x="55.70" y="323.78" font-size="5.4" fill="#111" stroke="#111" stroke-width="0.15" text-anchor="middle" transform="rotate(-90 55.70 323.78)">10<tspan font-size="4.59" dy="-1.78">5</tspan></text>
<line x1="59.30" y1="350.27" x2="61.10" y2="350.27" stroke="#3a3a3a" stroke-width="1.0"/>
<text x="55.70" y="350.27" font-size="5.4" fill="#111" stroke="#111" stroke-width="0.15" text-anchor="middle" transform="rotate(-90 55.70 350.27)">10<tspan font-size="4.59" dy="-1.78">4</tspan></text>
<line x1="59.30" y1="376.76" x2="61.10" y2="376.76" stroke="#3a3a3a" stroke-width="1.0"/>
<text x="55.70" y="376.76" font-size="5.4" fill="#111" stroke="#111" stroke-width="0.15" text-anchor="middle" transform="rotate(-90 55.70 376.76)">10<tspan font-size="4.59" dy="-1.78">3</tspan></text>
<line x1="59.30" y1="411.20" x2="61.10" y2="411.20" stroke="#3a3a3a" stroke-width="1.0"/>
<text x="55.70" y="411.20" font-size="5.4" fill="#111" stroke="#111" stroke-width="0.15" text-anchor="middle" transform="rotate(-90 55.70 411.20)">10<tspan font-size="4.59" dy="-1.78">1.7</tspan></text>
<line x1="61.10" y1="411.20" x2="61.10" y2="413.00" stroke="#3a3a3a" stroke-width="1.0"/>
<text x="62.30" y="421.10" font-size="5.4" fill="#111" stroke="#111" stroke-width="0.15" text-anchor="middle">10<tspan font-size="4.59" dy="-1.78">1</tspan></text>
<line x1="76.93" y1="411.20" x2="76.93" y2="413.00" stroke="#3a3a3a" stroke-width="1.0"/>
<text x="78.13" y="421.10" font-size="5.4" fill="#111" stroke="#111" stroke-width="0.15" text-anchor="middle">10<tspan font-size="4.59" dy="-1.78">2</tspan></text>
<line x1="92.76" y1="411.20" x2="92.76" y2="413.00" stroke="#3a3a3a" stroke-width="1.0"/>
<text x="93.96" y="421.10" font-size="5.4" fill="#111" stroke="#111" stroke-width="0.15" text-anchor="middle">10<tspan font-size="4.59" dy="-1.78">3</tspan></text>
<line x1="108.59" y1="411.20" x2="108.59" y2="413.00" stroke="#3a3a3a" stroke-width="1.0"/>
<text x="109.79" y="421.10" font-size="5.4" fill="#111" stroke="#111" stroke-width="0.15" text-anchor="middle">10<tspan font-size="4.59" dy="-1.78">4</tspan></text>
<line x1="124.43" y1="411.20" x2="124.43" y2="413.00" stroke="#3a3a3a" stroke-width="1.0"/>
<text x="125.63" y="421.10" font-size="5.4" fill="#111" stroke="#111" stroke-width="0.15" text-anchor="middle">10<tspan font-size="4.59" dy="-1.78">5</tspan></text>
<line x1="140.26" y1="411.20" x2="140.26" y2="413.00" stroke="#3a3a3a" stroke-width="1.0"/>
<text x="141.46" y="421.10" font-size="5.4" fill="#111" stroke="#111" stroke-width="0.15" text-anchor="middle">10<tspan font-size="4.59" dy="-1.78">6</tspan></text>
<line x1="156.09" y1="411.20" x2="156.09" y2="413.00" stroke="#3a3a3a" stroke-width="1.0"/>
<text x="157.29" y="421.10" font-size="5.4" fill="#111" stroke="#111" stroke-width="0.15" text-anchor="middle">10<tspan font-size="4.59" dy="-1.78">7</tspan></text>
<line x1="171.92" y1="411.20" x2="171.92" y2="413.00" stroke="#3a3a3a" stroke-width="1.0"/>
<text x="173.12" y="421.10" font-size="5.4" fill="#111" stroke="#111" stroke-width="0.15" text-anchor="middle">10<tspan font-size="4.59" dy="-1.78">8</tspan></text>
<line x1="192.50" y1="411.20" x2="192.50" y2="413.00" stroke="#3a3a3a" stroke-width="1.0"/>
<text x="193.70" y="421.10" font-size="5.4" fill="#111" stroke="#111" stroke-width="0.15" text-anchor="middle">10<tspan font-size="4.59" dy="-1.78">9.3</tspan></text>
<text x="126.80" y="430.30" font-size="5.3" font-weight="bold" text-anchor="middle" fill="#222" stroke="#222" stroke-width="0.05">FITC-H</text>
<text x="46.10" y="338.35" font-size="5.3" font-weight="bold" fill="#222" text-anchor="middle" transform="rotate(-90 46.10 338.35)">PE-H</text>
<text x="63.10" y="272.50" font-size="5.3" font-weight="normal" text-anchor="start" fill="#111" stroke="#111" stroke-width="0.15">Q2-1</text>
<text x="63.10" y="278.70" font-size="5.3" font-weight="normal" text-anchor="start" fill="#111" stroke="#111" stroke-width="0.15">1.34%</text>
<text x="190.50" y="272.50" font-size="5.3" font-weight="normal" text-anchor="end" fill="#111" stroke="#111" stroke-width="0.15">Q2-2</text>
<text x="190.50" y="278.70" font-size="5.3" font-weight="normal" text-anchor="end" fill="#111" stroke="#111" stroke-width="0.15">6.57%</text>
<text x="63.10" y="401.80" font-size="5.3" font-weight="normal" text-anchor="start" fill="#111" stroke="#111" stroke-width="0.15">Q2-3</text>
<text x="63.10" y="408.20" font-size="5.3" font-weight="normal" text-anchor="start" fill="#111" stroke="#111" stroke-width="0.15">91.74%</text>
<text x="190.50" y="401.80" font-size="5.3" font-weight="normal" text-anchor="end" fill="#111" stroke="#111" stroke-width="0.15">Q2-4</text>
<text x="190.50" y="408.20" font-size="5.3" font-weight="normal" text-anchor="end" fill="#111" stroke="#111" stroke-width="0.15">0.36%</text>
<text x="128.60" y="259.60" font-size="12.2" font-weight="bold" text-anchor="middle" fill="#111" stroke="#111" stroke-width="0.1">RGCs</text>
<line x1="242.80" y1="265.00" x2="374.00" y2="265.00" stroke="#7a7a7a" stroke-width="1.3"/>
<line x1="374.00" y1="265.00" x2="374.00" y2="411.30" stroke="#7a7a7a" stroke-width="1.3"/>
<line x1="310.60" y1="265.00" x2="310.60" y2="411.30" stroke="#4a4a4a" stroke-width="1.1"/>
<line x1="242.80" y1="335.30" x2="374.00" y2="335.30" stroke="#4a4a4a" stroke-width="1.1"/>
<line x1="242.80" y1="264.40" x2="242.80" y2="411.90" stroke="#333" stroke-width="1.2"/>
<line x1="242.20" y1="411.30" x2="374.60" y2="411.30" stroke="#333" stroke-width="1.2"/>
<line x1="241.00" y1="265.00" x2="242.80" y2="265.00" stroke="#3a3a3a" stroke-width="1.0"/>
<text x="237.40" y="265.00" font-size="5.4" fill="#111" stroke="#111" stroke-width="0.15" text-anchor="middle" transform="rotate(-90 237.40 265.00)">10<tspan font-size="4.59" dy="-1.78">7.2</tspan></text>
<line x1="241.00" y1="296.92" x2="242.80" y2="296.92" stroke="#3a3a3a" stroke-width="1.0"/>
<text x="237.40" y="296.92" font-size="5.4" fill="#111" stroke="#111" stroke-width="0.15" text-anchor="middle" transform="rotate(-90 237.40 296.92)">10<tspan font-size="4.59" dy="-1.78">6</tspan></text>
<line x1="241.00" y1="323.52" x2="242.80" y2="323.52" stroke="#3a3a3a" stroke-width="1.0"/>
<text x="237.40" y="323.52" font-size="5.4" fill="#111" stroke="#111" stroke-width="0.15" text-anchor="middle" transform="rotate(-90 237.40 323.52)">10<tspan font-size="4.59" dy="-1.78">5</tspan></text>
<line x1="241.00" y1="350.12" x2="242.80" y2="350.12" stroke="#3a3a3a" stroke-width="1.0"/>
<text x="237.40" y="350.12" font-size="5.4" fill="#111" stroke="#111" stroke-width="0.15" text-anchor="middle" transform="rotate(-90 237.40 350.12)">10<tspan font-size="4.59" dy="-1.78">4</tspan></text>
<line x1="241.00" y1="376.72" x2="242.80" y2="376.72" stroke="#3a3a3a" stroke-width="1.0"/>
<text x="237.40" y="376.72" font-size="5.4" fill="#111" stroke="#111" stroke-width="0.15" text-anchor="middle" transform="rotate(-90 237.40 376.72)">10<tspan font-size="4.59" dy="-1.78">3</tspan></text>
<line x1="241.00" y1="411.30" x2="242.80" y2="411.30" stroke="#3a3a3a" stroke-width="1.0"/>
<text x="237.40" y="411.30" font-size="5.4" fill="#111" stroke="#111" stroke-width="0.15" text-anchor="middle" transform="rotate(-90 237.40 411.30)">10<tspan font-size="4.59" dy="-1.78">1.7</tspan></text>
<line x1="242.80" y1="411.30" x2="242.80" y2="413.10" stroke="#3a3a3a" stroke-width="1.0"/>
<text x="244.00" y="421.20" font-size="5.4" fill="#111" stroke="#111" stroke-width="0.15" text-anchor="middle">10<tspan font-size="4.59" dy="-1.78">1</tspan></text>
<line x1="258.61" y1="411.30" x2="258.61" y2="413.10" stroke="#3a3a3a" stroke-width="1.0"/>
<text x="259.81" y="421.20" font-size="5.4" fill="#111" stroke="#111" stroke-width="0.15" text-anchor="middle">10<tspan font-size="4.59" dy="-1.78">2</tspan></text>
<line x1="274.41" y1="411.30" x2="274.41" y2="413.10" stroke="#3a3a3a" stroke-width="1.0"/>
<text x="275.61" y="421.20" font-size="5.4" fill="#111" stroke="#111" stroke-width="0.15" text-anchor="middle">10<tspan font-size="4.59" dy="-1.78">3</tspan></text>
<line x1="290.22" y1="411.30" x2="290.22" y2="413.10" stroke="#3a3a3a" stroke-width="1.0"/>
<text x="291.42" y="421.20" font-size="5.4" fill="#111" stroke="#111" stroke-width="0.15" text-anchor="middle">10<tspan font-size="4.59" dy="-1.78">4</tspan></text>
<line x1="306.03" y1="411.30" x2="306.03" y2="413.10" stroke="#3a3a3a" stroke-width="1.0"/>
<text x="307.23" y="421.20" font-size="5.4" fill="#111" stroke="#111" stroke-width="0.15" text-anchor="middle">10<tspan font-size="4.59" dy="-1.78">5</tspan></text>
<line x1="321.84" y1="411.30" x2="321.84" y2="413.10" stroke="#3a3a3a" stroke-width="1.0"/>
<text x="323.04" y="421.20" font-size="5.4" fill="#111" stroke="#111" stroke-width="0.15" text-anchor="middle">10<tspan font-size="4.59" dy="-1.78">6</tspan></text>
<line x1="337.64" y1="411.30" x2="337.64" y2="413.10" stroke="#3a3a3a" stroke-width="1.0"/>
<text x="338.84" y="421.20" font-size="5.4" fill="#111" stroke="#111" stroke-width="0.15" text-anchor="middle">10<tspan font-size="4.59" dy="-1.78">7</tspan></text>
<line x1="353.45" y1="411.30" x2="353.45" y2="413.10" stroke="#3a3a3a" stroke-width="1.0"/>
<text x="354.65" y="421.20" font-size="5.4" fill="#111" stroke="#111" stroke-width="0.15" text-anchor="middle">10<tspan font-size="4.59" dy="-1.78">8</tspan></text>
<line x1="374.00" y1="411.30" x2="374.00" y2="413.10" stroke="#3a3a3a" stroke-width="1.0"/>
<text x="375.20" y="421.20" font-size="5.4" fill="#111" stroke="#111" stroke-width="0.15" text-anchor="middle">10<tspan font-size="4.59" dy="-1.78">9.3</tspan></text>
<text x="308.40" y="430.40" font-size="5.3" font-weight="bold" text-anchor="middle" fill="#222" stroke="#222" stroke-width="0.05">FITC-H</text>
<text x="227.80" y="338.15" font-size="5.3" font-weight="bold" fill="#222" text-anchor="middle" transform="rotate(-90 227.80 338.15)">PE-H</text>
<text x="244.80" y="272.00" font-size="5.3" font-weight="normal" text-anchor="start" fill="#111" stroke="#111" stroke-width="0.15">Q2-1</text>
<text x="244.80" y="278.20" font-size="5.3" font-weight="normal" text-anchor="start" fill="#111" stroke="#111" stroke-width="0.15">5.77%</text>
<text x="372.00" y="272.00" font-size="5.3" font-weight="normal" text-anchor="end" fill="#111" stroke="#111" stroke-width="0.15">Q2-2</text>
<text x="372.00" y="278.20" font-size="5.3" font-weight="normal" text-anchor="end" fill="#111" stroke="#111" stroke-width="0.15">7.71%</text>
<text x="244.80" y="401.90" font-size="5.3" font-weight="normal" text-anchor="start" fill="#111" stroke="#111" stroke-width="0.15">Q2-3</text>
<text x="244.80" y="408.30" font-size="5.3" font-weight="normal" text-anchor="start" fill="#111" stroke="#111" stroke-width="0.15">85.88%</text>
<text x="372.00" y="401.90" font-size="5.3" font-weight="normal" text-anchor="end" fill="#111" stroke="#111" stroke-width="0.15">Q2-4</text>
<text x="372.00" y="408.30" font-size="5.3" font-weight="normal" text-anchor="end" fill="#111" stroke="#111" stroke-width="0.15">0.63%</text>
<text x="309.60" y="259.60" font-size="12.2" font-weight="bold" text-anchor="middle" fill="#111" stroke="#111" stroke-width="0.1">Vector</text>
<line x1="61.25" y1="451.30" x2="193.10" y2="451.30" stroke="#7a7a7a" stroke-width="1.3"/>
<line x1="193.10" y1="451.30" x2="193.10" y2="598.80" stroke="#7a7a7a" stroke-width="1.3"/>
<line x1="129.00" y1="451.30" x2="129.00" y2="598.80" stroke="#4a4a4a" stroke-width="1.1"/>
<line x1="61.25" y1="522.20" x2="193.10" y2="522.20" stroke="#4a4a4a" stroke-width="1.1"/>
<line x1="61.25" y1="450.70" x2="61.25" y2="599.40" stroke="#333" stroke-width="1.2"/>
<line x1="60.65" y1="598.80" x2="193.70" y2="598.80" stroke="#333" stroke-width="1.2"/>
<line x1="59.45" y1="451.30" x2="61.25" y2="451.30" stroke="#3a3a3a" stroke-width="1.0"/>
<text x="55.85" y="451.30" font-size="5.4" fill="#111" stroke="#111" stroke-width="0.15" text-anchor="middle" transform="rotate(-90 55.85 451.30)">10<tspan font-size="4.59" dy="-1.78">7.2</tspan></text>
<line x1="59.45" y1="483.48" x2="61.25" y2="483.48" stroke="#3a3a3a" stroke-width="1.0"/>
<text x="55.85" y="483.48" font-size="5.4" fill="#111" stroke="#111" stroke-width="0.15" text-anchor="middle" transform="rotate(-90 55.85 483.48)">10<tspan font-size="4.59" dy="-1.78">6</tspan></text>
<line x1="59.45" y1="510.30" x2="61.25" y2="510.30" stroke="#3a3a3a" stroke-width="1.0"/>
<text x="55.85" y="510.30" font-size="5.4" fill="#111" stroke="#111" stroke-width="0.15" text-anchor="middle" transform="rotate(-90 55.85 510.30)">10<tspan font-size="4.59" dy="-1.78">5</tspan></text>
<line x1="59.45" y1="537.12" x2="61.25" y2="537.12" stroke="#3a3a3a" stroke-width="1.0"/>
<text x="55.85" y="537.12" font-size="5.4" fill="#111" stroke="#111" stroke-width="0.15" text-anchor="middle" transform="rotate(-90 55.85 537.12)">10<tspan font-size="4.59" dy="-1.78">4</tspan></text>
<line x1="59.45" y1="563.94" x2="61.25" y2="563.94" stroke="#3a3a3a" stroke-width="1.0"/>
<text x="55.85" y="563.94" font-size="5.4" fill="#111" stroke="#111" stroke-width="0.15" text-anchor="middle" transform="rotate(-90 55.85 563.94)">10<tspan font-size="4.59" dy="-1.78">3</tspan></text>
<line x1="59.45" y1="598.80" x2="61.25" y2="598.80" stroke="#3a3a3a" stroke-width="1.0"/>
<text x="55.85" y="598.80" font-size="5.4" fill="#111" stroke="#111" stroke-width="0.15" text-anchor="middle" transform="rotate(-90 55.85 598.80)">10<tspan font-size="4.59" dy="-1.78">1.7</tspan></text>
<line x1="61.25" y1="598.80" x2="61.25" y2="600.60" stroke="#3a3a3a" stroke-width="1.0"/>
<text x="62.45" y="608.70" font-size="5.4" fill="#111" stroke="#111" stroke-width="0.15" text-anchor="middle">10<tspan font-size="4.59" dy="-1.78">1</tspan></text>
<line x1="77.14" y1="598.80" x2="77.14" y2="600.60" stroke="#3a3a3a" stroke-width="1.0"/>
<text x="78.34" y="608.70" font-size="5.4" fill="#111" stroke="#111" stroke-width="0.15" text-anchor="middle">10<tspan font-size="4.59" dy="-1.78">2</tspan></text>
<line x1="93.02" y1="598.80" x2="93.02" y2="600.60" stroke="#3a3a3a" stroke-width="1.0"/>
<text x="94.22" y="608.70" font-size="5.4" fill="#111" stroke="#111" stroke-width="0.15" text-anchor="middle">10<tspan font-size="4.59" dy="-1.78">3</tspan></text>
<line x1="108.91" y1="598.80" x2="108.91" y2="600.60" stroke="#3a3a3a" stroke-width="1.0"/>
<text x="110.11" y="608.70" font-size="5.4" fill="#111" stroke="#111" stroke-width="0.15" text-anchor="middle">10<tspan font-size="4.59" dy="-1.78">4</tspan></text>
<line x1="124.79" y1="598.80" x2="124.79" y2="600.60" stroke="#3a3a3a" stroke-width="1.0"/>
<text x="125.99" y="608.70" font-size="5.4" fill="#111" stroke="#111" stroke-width="0.15" text-anchor="middle">10<tspan font-size="4.59" dy="-1.78">5</tspan></text>
<line x1="140.68" y1="598.80" x2="140.68" y2="600.60" stroke="#3a3a3a" stroke-width="1.0"/>
<text x="141.88" y="608.70" font-size="5.4" fill="#111" stroke="#111" stroke-width="0.15" text-anchor="middle">10<tspan font-size="4.59" dy="-1.78">6</tspan></text>
<line x1="156.56" y1="598.80" x2="156.56" y2="600.60" stroke="#3a3a3a" stroke-width="1.0"/>
<text x="157.76" y="608.70" font-size="5.4" fill="#111" stroke="#111" stroke-width="0.15" text-anchor="middle">10<tspan font-size="4.59" dy="-1.78">7</tspan></text>
<line x1="172.45" y1="598.80" x2="172.45" y2="600.60" stroke="#3a3a3a" stroke-width="1.0"/>
<text x="173.65" y="608.70" font-size="5.4" fill="#111" stroke="#111" stroke-width="0.15" text-anchor="middle">10<tspan font-size="4.59" dy="-1.78">8</tspan></text>
<line x1="193.10" y1="598.80" x2="193.10" y2="600.60" stroke="#3a3a3a" stroke-width="1.0"/>
<text x="194.30" y="608.70" font-size="5.4" fill="#111" stroke="#111" stroke-width="0.15" text-anchor="middle">10<tspan font-size="4.59" dy="-1.78">9.3</tspan></text>
<text x="127.17" y="617.90" font-size="5.3" font-weight="bold" text-anchor="middle" fill="#222" stroke="#222" stroke-width="0.05">FITC-H</text>
<text x="46.25" y="525.05" font-size="5.3" font-weight="bold" fill="#222" text-anchor="middle" transform="rotate(-90 46.25 525.05)">PE-H</text>
<text x="63.25" y="458.30" font-size="5.3" font-weight="normal" text-anchor="start" fill="#111" stroke="#111" stroke-width="0.15">Q2-1</text>
<text x="63.25" y="464.50" font-size="5.3" font-weight="normal" text-anchor="start" fill="#111" stroke="#111" stroke-width="0.15">6.33%</text>
<text x="191.10" y="458.30" font-size="5.3" font-weight="normal" text-anchor="end" fill="#111" stroke="#111" stroke-width="0.15">Q2-2</text>
<text x="191.10" y="464.50" font-size="5.3" font-weight="normal" text-anchor="end" fill="#111" stroke="#111" stroke-width="0.15">22.01%</text>
<text x="63.25" y="589.40" font-size="5.3" font-weight="normal" text-anchor="start" fill="#111" stroke="#111" stroke-width="0.15">Q2-3</text>
<text x="63.25" y="595.80" font-size="5.3" font-weight="normal" text-anchor="start" fill="#111" stroke="#111" stroke-width="0.15">71.39%</text>
<text x="191.10" y="589.40" font-size="5.3" font-weight="normal" text-anchor="end" fill="#111" stroke="#111" stroke-width="0.15">Q2-4</text>
<text x="191.10" y="595.80" font-size="5.3" font-weight="normal" text-anchor="end" fill="#111" stroke="#111" stroke-width="0.15">0.27%</text>
<text x="126.90" y="445.80" font-size="12.2" font-weight="bold" text-anchor="middle" fill="#111" stroke="#111" stroke-width="0.1">KD</text>
<line x1="235.60" y1="455.30" x2="381.90" y2="455.30" stroke="#7a7a7a" stroke-width="1.3"/>
<line x1="381.90" y1="455.30" x2="381.90" y2="601.90" stroke="#7a7a7a" stroke-width="1.3"/>
<line x1="311.60" y1="455.30" x2="311.60" y2="601.90" stroke="#4a4a4a" stroke-width="1.1"/>
<line x1="235.60" y1="526.30" x2="381.90" y2="526.30" stroke="#4a4a4a" stroke-width="1.1"/>
<line x1="235.60" y1="454.70" x2="235.60" y2="602.50" stroke="#333" stroke-width="1.2"/>
<line x1="235.00" y1="601.90" x2="382.50" y2="601.90" stroke="#333" stroke-width="1.2"/>
<line x1="233.80" y1="455.30" x2="235.60" y2="455.30" stroke="#3a3a3a" stroke-width="1.0"/>
<text x="230.20" y="455.30" font-size="5.4" fill="#111" stroke="#111" stroke-width="0.15" text-anchor="middle" transform="rotate(-90 230.20 455.30)">10<tspan font-size="4.59" dy="-1.78">7.2</tspan></text>
<line x1="233.80" y1="487.29" x2="235.60" y2="487.29" stroke="#3a3a3a" stroke-width="1.0"/>
<text x="230.20" y="487.29" font-size="5.4" fill="#111" stroke="#111" stroke-width="0.15" text-anchor="middle" transform="rotate(-90 230.20 487.29)">10<tspan font-size="4.59" dy="-1.78">6</tspan></text>
<line x1="233.80" y1="513.94" x2="235.60" y2="513.94" stroke="#3a3a3a" stroke-width="1.0"/>
<text x="230.20" y="513.94" font-size="5.4" fill="#111" stroke="#111" stroke-width="0.15" text-anchor="middle" transform="rotate(-90 230.20 513.94)">10<tspan font-size="4.59" dy="-1.78">5</tspan></text>
<line x1="233.80" y1="540.59" x2="235.60" y2="540.59" stroke="#3a3a3a" stroke-width="1.0"/>
<text x="230.20" y="540.59" font-size="5.4" fill="#111" stroke="#111" stroke-width="0.15" text-anchor="middle" transform="rotate(-90 230.20 540.59)">10<tspan font-size="4.59" dy="-1.78">4</tspan></text>
<line x1="233.80" y1="567.25" x2="235.60" y2="567.25" stroke="#3a3a3a" stroke-width="1.0"/>
<text x="230.20" y="567.25" font-size="5.4" fill="#111" stroke="#111" stroke-width="0.15" text-anchor="middle" transform="rotate(-90 230.20 567.25)">10<tspan font-size="4.59" dy="-1.78">3</tspan></text>
<line x1="233.80" y1="601.90" x2="235.60" y2="601.90" stroke="#3a3a3a" stroke-width="1.0"/>
<text x="230.20" y="601.90" font-size="5.4" fill="#111" stroke="#111" stroke-width="0.15" text-anchor="middle" transform="rotate(-90 230.20 601.90)">10<tspan font-size="4.59" dy="-1.78">1.7</tspan></text>
<line x1="235.60" y1="601.90" x2="235.60" y2="603.70" stroke="#3a3a3a" stroke-width="1.0"/>
<text x="236.80" y="611.80" font-size="5.4" fill="#111" stroke="#111" stroke-width="0.15" text-anchor="middle">10<tspan font-size="4.59" dy="-1.78">1</tspan></text>
<line x1="253.23" y1="601.90" x2="253.23" y2="603.70" stroke="#3a3a3a" stroke-width="1.0"/>
<text x="254.43" y="611.80" font-size="5.4" fill="#111" stroke="#111" stroke-width="0.15" text-anchor="middle">10<tspan font-size="4.59" dy="-1.78">2</tspan></text>
<line x1="270.85" y1="601.90" x2="270.85" y2="603.70" stroke="#3a3a3a" stroke-width="1.0"/>
<text x="272.05" y="611.80" font-size="5.4" fill="#111" stroke="#111" stroke-width="0.15" text-anchor="middle">10<tspan font-size="4.59" dy="-1.78">3</tspan></text>
<line x1="288.48" y1="601.90" x2="288.48" y2="603.70" stroke="#3a3a3a" stroke-width="1.0"/>
<text x="289.68" y="611.80" font-size="5.4" fill="#111" stroke="#111" stroke-width="0.15" text-anchor="middle">10<tspan font-size="4.59" dy="-1.78">4</tspan></text>
<line x1="306.11" y1="601.90" x2="306.11" y2="603.70" stroke="#3a3a3a" stroke-width="1.0"/>
<text x="307.31" y="611.80" font-size="5.4" fill="#111" stroke="#111" stroke-width="0.15" text-anchor="middle">10<tspan font-size="4.59" dy="-1.78">5</tspan></text>
<line x1="323.73" y1="601.90" x2="323.73" y2="603.70" stroke="#3a3a3a" stroke-width="1.0"/>
<text x="324.93" y="611.80" font-size="5.4" fill="#111" stroke="#111" stroke-width="0.15" text-anchor="middle">10<tspan font-size="4.59" dy="-1.78">6</tspan></text>
<line x1="341.36" y1="601.90" x2="341.36" y2="603.70" stroke="#3a3a3a" stroke-width="1.0"/>
<text x="342.56" y="611.80" font-size="5.4" fill="#111" stroke="#111" stroke-width="0.15" text-anchor="middle">10<tspan font-size="4.59" dy="-1.78">7</tspan></text>
<line x1="358.99" y1="601.90" x2="358.99" y2="603.70" stroke="#3a3a3a" stroke-width="1.0"/>
<text x="360.19" y="611.80" font-size="5.4" fill="#111" stroke="#111" stroke-width="0.15" text-anchor="middle">10<tspan font-size="4.59" dy="-1.78">8</tspan></text>
<line x1="381.90" y1="601.90" x2="381.90" y2="603.70" stroke="#3a3a3a" stroke-width="1.0"/>
<text x="383.10" y="611.80" font-size="5.4" fill="#111" stroke="#111" stroke-width="0.15" text-anchor="middle">10<tspan font-size="4.59" dy="-1.78">9.3</tspan></text>
<text x="308.75" y="621.00" font-size="5.3" font-weight="bold" text-anchor="middle" fill="#222" stroke="#222" stroke-width="0.05">FITC-H</text>
<text x="220.60" y="528.60" font-size="5.3" font-weight="bold" fill="#222" text-anchor="middle" transform="rotate(-90 220.60 528.60)">PE-H</text>
<text x="237.60" y="462.30" font-size="5.3" font-weight="normal" text-anchor="start" fill="#111" stroke="#111" stroke-width="0.15">Q2-1</text>
<text x="237.60" y="468.50" font-size="5.3" font-weight="normal" text-anchor="start" fill="#111" stroke="#111" stroke-width="0.15">0.04%</text>
<text x="379.90" y="462.30" font-size="5.3" font-weight="normal" text-anchor="end" fill="#111" stroke="#111" stroke-width="0.15">Q2-2</text>
<text x="379.90" y="468.50" font-size="5.3" font-weight="normal" text-anchor="end" fill="#111" stroke="#111" stroke-width="0.15">13.58%</text>
<text x="237.60" y="592.50" font-size="5.3" font-weight="normal" text-anchor="start" fill="#111" stroke="#111" stroke-width="0.15">Q2-3</text>
<text x="237.60" y="598.90" font-size="5.3" font-weight="normal" text-anchor="start" fill="#111" stroke="#111" stroke-width="0.15">85.63%</text>
<text x="379.90" y="592.50" font-size="5.3" font-weight="normal" text-anchor="end" fill="#111" stroke="#111" stroke-width="0.15">Q2-4</text>
<text x="379.90" y="598.90" font-size="5.3" font-weight="normal" text-anchor="end" fill="#111" stroke="#111" stroke-width="0.15">0.75%</text>
<text x="314.70" y="447.80" font-size="12.2" font-weight="bold" text-anchor="middle" fill="#111" stroke="#111" stroke-width="0.1">4-PBA</text>
<text x="438.40" y="260.60" font-size="17.5" font-weight="bold" text-anchor="start" fill="#000">E</text>
<line x1="479.70" y1="297.00" x2="479.70" y2="408.60" stroke="#000" stroke-width="1.3"/>
<line x1="476.70" y1="408.00" x2="479.70" y2="408.00" stroke="#000" stroke-width="1.2"/>
<text x="475.40" y="410.81" font-size="7.8" font-weight="bold" text-anchor="end" fill="#222" stroke="#222" stroke-width="0.25">0</text>
<line x1="476.70" y1="385.92" x2="479.70" y2="385.92" stroke="#000" stroke-width="1.2"/>
<text x="475.40" y="388.73" font-size="7.8" font-weight="bold" text-anchor="end" fill="#222" stroke="#222" stroke-width="0.25">5</text>
<line x1="476.70" y1="363.84" x2="479.70" y2="363.84" stroke="#000" stroke-width="1.2"/>
<text x="475.40" y="366.65" font-size="7.8" font-weight="bold" text-anchor="end" fill="#222" stroke="#222" stroke-width="0.25">10</text>
<line x1="476.70" y1="341.76" x2="479.70" y2="341.76" stroke="#000" stroke-width="1.2"/>
<text x="475.40" y="344.57" font-size="7.8" font-weight="bold" text-anchor="end" fill="#222" stroke="#222" stroke-width="0.25">15</text>
<line x1="476.70" y1="319.68" x2="479.70" y2="319.68" stroke="#000" stroke-width="1.2"/>
<text x="475.40" y="322.49" font-size="7.8" font-weight="bold" text-anchor="end" fill="#222" stroke="#222" stroke-width="0.25">20</text>
<line x1="476.70" y1="297.60" x2="479.70" y2="297.60" stroke="#000" stroke-width="1.2"/>
<text x="475.40" y="300.41" font-size="7.8" font-weight="bold" text-anchor="end" fill="#222" stroke="#222" stroke-width="0.25">25</text>
<line x1="479.10" y1="408.00" x2="645.50" y2="408.00" stroke="#000" stroke-width="1.3"/>
<rect x="487.65" y="378.50" width="25.50" height="29.50" fill="#7f7f7f" stroke="#000" stroke-width="1.5"/>
<line x1="500.40" y1="408.00" x2="500.40" y2="411.00" stroke="#000" stroke-width="1.2"/>
<rect x="529.35" y="372.10" width="25.20" height="35.90" fill="#ff7aaa" stroke="#e8166c" stroke-width="1.5"/>
<line x1="541.95" y1="408.00" x2="541.95" y2="411.00" stroke="#000" stroke-width="1.2"/>
<rect x="570.55" y="311.16" width="25.40" height="96.84" fill="#86c0be" stroke="#1b8585" stroke-width="1.5"/>
<line x1="583.25" y1="408.00" x2="583.25" y2="411.00" stroke="#000" stroke-width="1.2"/>
<rect x="611.75" y="350.46" width="25.50" height="57.54" fill="#9c7dc4" stroke="#3f0b8c" stroke-width="1.5"/>
<line x1="624.50" y1="408.00" x2="624.50" y2="411.00" stroke="#000" stroke-width="1.2"/>
<text x="488.00" y="420.70" font-size="9.0" font-weight="bold" text-anchor="start" fill="#222" stroke="#222" stroke-width="0.25" textLength="24.60" lengthAdjust="spacingAndGlyphs">RGCs</text>
<text x="527.90" y="420.70" font-size="9.0" font-weight="bold" text-anchor="start" fill="#222" stroke="#222" stroke-width="0.25" textLength="28.10" lengthAdjust="spacingAndGlyphs">Vector</text>
<text x="576.80" y="420.70" font-size="9.0" font-weight="bold" text-anchor="start" fill="#222" stroke="#222" stroke-width="0.25" textLength="12.90" lengthAdjust="spacingAndGlyphs">KD</text>
<text x="611.00" y="420.70" font-size="9.0" font-weight="bold" text-anchor="start" fill="#222" stroke="#222" stroke-width="0.25" textLength="27.00" lengthAdjust="spacingAndGlyphs">4-PBA</text>
<circle cx="491.70" cy="377.40" r="1.7" fill="#000"/>
<circle cx="500.40" cy="377.40" r="1.7" fill="#000"/>
<circle cx="509.20" cy="377.40" r="1.7" fill="#000"/>
<line x1="532.00" y1="371.20" x2="551.00" y2="371.20" stroke="#e8166c" stroke-width="1.6"/>
<circle cx="532.60" cy="371.40" r="1.8" fill="#e8166c"/>
<circle cx="541.90" cy="369.70" r="1.9" fill="#e8166c"/>
<circle cx="550.00" cy="371.40" r="1.8" fill="#e8166c"/>
<line x1="575.00" y1="309.70" x2="591.00" y2="309.70" stroke="#1b8585" stroke-width="1.4"/>
<line x1="583.20" y1="309.30" x2="583.20" y2="311.50" stroke="#1b8585" stroke-width="1.2"/>
<circle cx="577.00" cy="310.30" r="1.0" fill="#1b8585"/>
<circle cx="583.20" cy="310.30" r="1.0" fill="#1b8585"/>
<circle cx="589.00" cy="310.30" r="1.0" fill="#1b8585"/>
<line x1="617.50" y1="347.60" x2="631.00" y2="347.60" stroke="#3f0b8c" stroke-width="1.4"/>
<line x1="624.50" y1="347.60" x2="624.50" y2="351.00" stroke="#3f0b8c" stroke-width="1.2"/>
<line x1="617.50" y1="351.00" x2="631.00" y2="351.00" stroke="#3f0b8c" stroke-width="1.2"/>
<path d="M539.9,365.6 V304.5 H583.6 V309.3" stroke="#000" stroke-width="1.3" fill="none"/>
<path d="M586.9,309.3 V304.5 H624.8 V344.8" stroke="#000" stroke-width="1.3" fill="none"/>
<text x="561.40" y="306.57" font-size="12.5" font-weight="bold" text-anchor="middle" fill="#222" stroke="#222" stroke-width="0.2">*</text>
<text x="568.40" y="306.57" font-size="12.5" font-weight="bold" text-anchor="middle" fill="#222" stroke="#222" stroke-width="0.2">*</text>
<text x="602.12" y="306.57" font-size="12.5" font-weight="bold" text-anchor="middle" fill="#222" stroke="#222" stroke-width="0.2">*</text>
<text x="609.18" y="306.57" font-size="12.5" font-weight="bold" text-anchor="middle" fill="#222" stroke="#222" stroke-width="0.2">*</text>
<text x="0" y="0" font-size="8.8" font-weight="bold" fill="#222" stroke="#222" stroke-width="0.25" textLength="146" lengthAdjust="spacingAndGlyphs" transform="translate(459.2 425.3) rotate(-90)" xml:space="preserve">The percentages of  apoptosis(%)</text>
<text x="438.60" y="467.00" font-size="17.5" font-weight="bold" text-anchor="start" fill="#000">F</text>
<line x1="477.50" y1="468.40" x2="477.50" y2="581.40" stroke="#000" stroke-width="1.3"/>
<line x1="474.50" y1="580.80" x2="477.50" y2="580.80" stroke="#000" stroke-width="1.2"/>
<text x="472.60" y="583.61" font-size="7.8" font-weight="bold" text-anchor="end" fill="#222" stroke="#222" stroke-width="0.25">0</text>
<line x1="474.50" y1="543.53" x2="477.50" y2="543.53" stroke="#000" stroke-width="1.2"/>
<text x="472.60" y="546.34" font-size="7.8" font-weight="bold" text-anchor="end" fill="#222" stroke="#222" stroke-width="0.25">50</text>
<line x1="474.50" y1="506.27" x2="477.50" y2="506.27" stroke="#000" stroke-width="1.2"/>
<text x="472.60" y="509.08" font-size="7.8" font-weight="bold" text-anchor="end" fill="#222" stroke="#222" stroke-width="0.25">100</text>
<line x1="474.50" y1="469.00" x2="477.50" y2="469.00" stroke="#000" stroke-width="1.2"/>
<text x="472.60" y="471.81" font-size="7.8" font-weight="bold" text-anchor="end" fill="#222" stroke="#222" stroke-width="0.25">150</text>
<line x1="476.90" y1="580.80" x2="645.50" y2="580.80" stroke="#000" stroke-width="1.3"/>
<rect x="485.75" y="507.39" width="25.50" height="73.41" fill="#7f7f7f" stroke="#000" stroke-width="1.5"/>
<line x1="498.50" y1="580.80" x2="498.50" y2="583.80" stroke="#000" stroke-width="1.2"/>
<rect x="526.75" y="507.39" width="26.50" height="73.41" fill="#ff7aaa" stroke="#e8166c" stroke-width="1.5"/>
<line x1="540.00" y1="580.80" x2="540.00" y2="583.80" stroke="#000" stroke-width="1.2"/>
<rect x="569.35" y="552.11" width="26.10" height="28.69" fill="#86c0be" stroke="#1b8585" stroke-width="1.5"/>
<line x1="582.40" y1="580.80" x2="582.40" y2="583.80" stroke="#000" stroke-width="1.2"/>
<rect x="611.55" y="528.26" width="25.70" height="52.54" fill="#9c7dc4" stroke="#3f0b8c" stroke-width="1.5"/>
<line x1="624.40" y1="580.80" x2="624.40" y2="583.80" stroke="#000" stroke-width="1.2"/>
<text x="485.50" y="594.10" font-size="9.0" font-weight="bold" text-anchor="start" fill="#222" stroke="#222" stroke-width="0.25" textLength="25.40" lengthAdjust="spacingAndGlyphs">RGCs</text>
<text x="526.50" y="594.10" font-size="9.0" font-weight="bold" text-anchor="start" fill="#222" stroke="#222" stroke-width="0.25" textLength="27.70" lengthAdjust="spacingAndGlyphs">Vector</text>
<text x="575.60" y="594.10" font-size="9.0" font-weight="bold" text-anchor="start" fill="#222" stroke="#222" stroke-width="0.25" textLength="13.60" lengthAdjust="spacingAndGlyphs">KD</text>
<text x="610.30" y="594.10" font-size="9.0" font-weight="bold" text-anchor="start" fill="#222" stroke="#222" stroke-width="0.25" textLength="27.70" lengthAdjust="spacingAndGlyphs">4-PBA</text>
<circle cx="490.50" cy="506.60" r="1.7" fill="#000"/>
<circle cx="498.50" cy="506.60" r="1.7" fill="#000"/>
<circle cx="506.50" cy="506.60" r="1.7" fill="#000"/>
<line x1="535.00" y1="503.40" x2="546.00" y2="503.40" stroke="#e8166c" stroke-width="1.5"/>
<line x1="540.50" y1="503.40" x2="540.50" y2="509.00" stroke="#e8166c" stroke-width="1.3"/>
<line x1="535.00" y1="509.00" x2="546.00" y2="509.00" stroke="#e8166c" stroke-width="1.3"/>
<circle cx="536.00" cy="508.60" r="1.7" fill="#e8166c"/>
<circle cx="540.50" cy="503.80" r="1.7" fill="#e8166c"/>
<circle cx="545.00" cy="508.00" r="1.7" fill="#e8166c"/>
<line x1="574.00" y1="549.60" x2="590.00" y2="549.60" stroke="#1b8585" stroke-width="1.4"/>
<line x1="574.00" y1="552.40" x2="590.00" y2="552.40" stroke="#1b8585" stroke-width="1.2"/>
<line x1="617.00" y1="525.60" x2="632.00" y2="525.60" stroke="#3f0b8c" stroke-width="1.4"/>
<line x1="617.00" y1="528.30" x2="632.00" y2="528.30" stroke="#3f0b8c" stroke-width="1.2"/>
<path d="M540.5,503 V496.9 H582.9 V549.6" stroke="#000" stroke-width="1.3" fill="none"/>
<path d="M586.9,549.6 V515.2 H625.5 V525.4" stroke="#000" stroke-width="1.3" fill="none"/>
<text x="559.20" y="497.27" font-size="12.5" font-weight="bold" text-anchor="middle" fill="#222" stroke="#222" stroke-width="0.2">*</text>
<text x="566.20" y="497.27" font-size="12.5" font-weight="bold" text-anchor="middle" fill="#222" stroke="#222" stroke-width="0.2">*</text>
<text x="603.30" y="516.08" font-size="12.5" font-weight="bold" text-anchor="middle" fill="#222" stroke="#222" stroke-width="0.2">*</text>
<text x="610.30" y="516.08" font-size="12.5" font-weight="bold" text-anchor="middle" fill="#222" stroke="#222" stroke-width="0.2">*</text>
<text x="0" y="0" font-size="8.8" font-weight="bold" fill="#222" stroke="#222" stroke-width="0.25" textLength="66.6" lengthAdjust="spacingAndGlyphs" transform="translate(454.8 558.3) rotate(-90)">Cell vitality (%)</text>
</svg></body></html>
